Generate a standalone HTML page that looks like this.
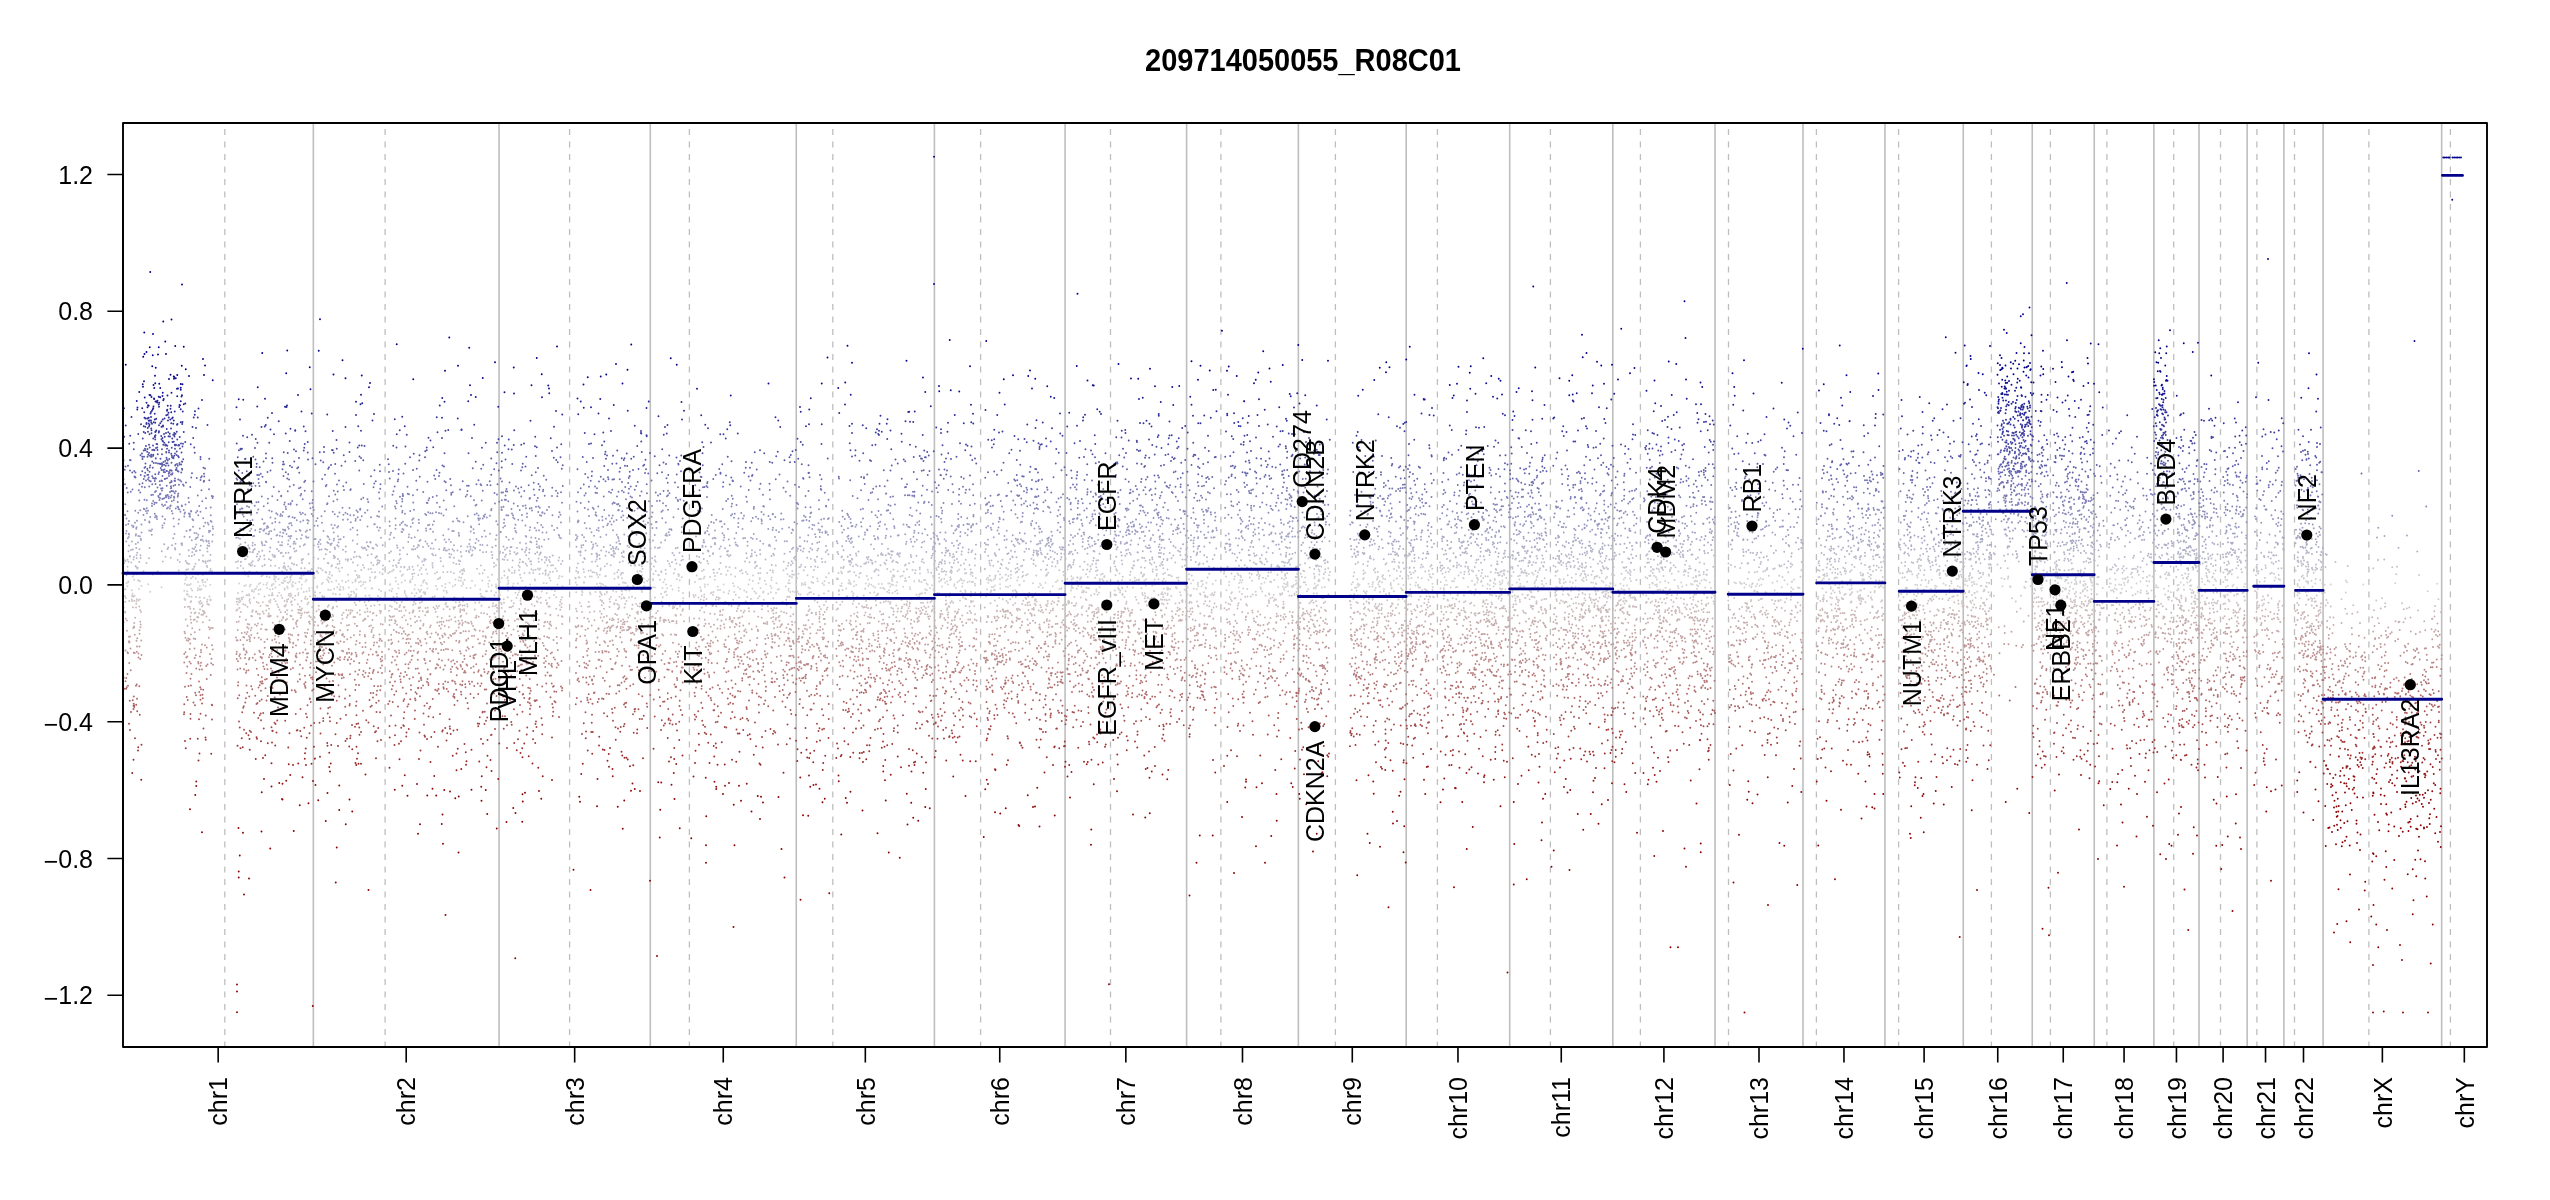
<!DOCTYPE html><html><head><meta charset="utf-8"><style>html,body{margin:0;padding:0;background:#fff;width:2550px;height:1200px;overflow:hidden}svg{display:block}text{font-family:"Liberation Sans",sans-serif}</style></head><body>
<svg width="2550" height="1200" viewBox="0 0 2550 1200" style="will-change:transform">
<rect width="2550" height="1200" fill="#fff"/>
<text transform="translate(1303 71) scale(1 1.05)" font-size="29" font-weight="bold" text-anchor="middle">209714050055_R08C01</text>
<path d="M313.34 123V1047M499.06 123V1047M650.28 123V1047M796.25 123V1047M934.41 123V1047M1065.08 123V1047M1186.60 123V1047M1298.37 123V1047M1406.21 123V1047M1509.71 123V1047M1612.81 123V1047M1715.02 123V1047M1802.97 123V1047M1884.95 123V1047M1963.25 123V1047M2032.24 123V1047M2094.25 123V1047M2153.87 123V1047M2199.03 123V1047M2247.16 123V1047M2283.91 123V1047M2323.09 123V1047M2441.66 123V1047" stroke="#bebebe" stroke-width="1.6" fill="none"/>
<path d="M224.80 129V1047M385.10 129V1047M569.60 129V1047M689.40 129V1047M832.80 129V1047M980.60 129V1047M1110.50 129V1047M1220.90 129V1047M1335.40 129V1047M1437.40 129V1047M1550.40 129V1047M1640.40 129V1047M1728.50 129V1047M1816.40 129V1047M1898.60 129V1047M1991.40 129V1047M2050.40 129V1047M2106.90 129V1047M2173.70 129V1047M2220.50 129V1047M2256.90 129V1047M2294.50 129V1047M2368.90 129V1047M2450.40 129V1047" stroke="#bebebe" stroke-width="1.3" fill="none" stroke-dasharray="6 6.5"/>
<g fill="none" stroke-width="7.7" stroke-linecap="round" transform="scale(0.25)"><path stroke="#a8a8c4" d="M528 2166h0M505 2166h0M814 2165h0M849 2166h0M827 2166h0M1114 2168h0M1047 2168h0M1178 2167h0M1063 2166h0M1176 2167h0M1066 2168h0M1481 2168h0M1275 2168h0M1275 2167h0M1702 2166h0M1803 2168h0M1633 2168h0M2147 2166h0M2121 2167h0M2366 2168h0M3139 2165h0M3148 2165h0M2990 2167h0M3229 2166h0M3277 2168h0M3737 2169h0M3347 2165h0M3697 2166h0M3409 2167h0M3398 2165h0M3645 2167h0M3659 2167h0M3626 2167h0M4123 2166h0M4047 2165h0M4092 2166h0M4095 2165h0M4204 2165h0M4378 2166h0M4331 2168h0M4619 2167h0M4463 2168h0M4483 2168h0M4683 2168h0M5094 2166h0M5127 2167h0M5090 2165h0M5289 2166h0M5318 2165h0M5481 2167h0M5586 2166h0M5573 2166h0M5575 2167h0M5595 2166h0M5709 2167h0M5871 2166h0M5901 2168h0M5855 2166h0M5837 2165h0M5769 2165h0M5805 2168h0M6120 2165h0M6231 2168h0M6265 2167h0M6294 2165h0M6317 2166h0M6358 2167h0M6292 2167h0M6624 2165h0M6580 2168h0M6768 2167h0M6672 2165h0M7479 2166h0M7446 2167h0M7910 2168h0M7928 2166h0M7921 2169h0M8041 2167h0M8250 2168h0M8215 2167h0M8283 2165h0M8686 2165h0M8723 2165h0M8735 2167h0M8817 2166h0M9267 2168h0"/><path stroke="#c5a9a9" d="M537 2509h0M562 2509h0M835 2509h0M989 2509h0M1338 2509h0M1336 2509h0M1953 2508h0M1795 2509h0M1601 2509h0M1835 2510h0M1720 2509h0M2096 2508h0M2443 2510h0M2492 2509h0M2519 2508h0M2305 2509h0M2573 2508h0M2466 2510h0M2513 2507h0M2435 2507h0M2483 2507h0M3121 2507h0M2920 2509h0M3110 2509h0M2939 2508h0M2843 2507h0M2898 2510h0M3281 2508h0M3240 2510h0M3812 2506h0M3827 2506h0M3828 2508h0M4207 2507h0M4243 2509h0M4195 2509h0M4020 2509h0M4210 2507h0M4159 2509h0M4044 2509h0M4408 2508h0M4266 2509h0M4380 2510h0M4489 2507h0M4486 2509h0M4935 2507h0M5143 2509h0M4995 2508h0M5197 2508h0M5260 2507h0M5541 2507h0M5495 2509h0M5695 2508h0M5666 2510h0M6028 2509h0M5794 2508h0M6022 2507h0M5994 2509h0M5791 2506h0M6148 2507h0M6183 2509h0M6402 2509h0M6449 2509h0M6636 2507h0M6923 2508h0M7008 2508h0M7031 2508h0M7415 2508h0M7355 2508h0M7487 2508h0M7371 2507h0M7628 2510h0M7637 2507h0M7701 2509h0M7892 2507h0M7995 2509h0M8144 2509h0M8213 2508h0M8337 2507h0M8296 2508h0M8382 2507h0M8608 2507h0M8517 2507h0M8634 2509h0M8634 2509h0M8706 2508h0M9228 2509h0M9237 2510h0M9308 2509h0M9553 2510h0"/><path stroke="#a9a9c5" d="M552 2170h0M1011 2171h0M981 2170h0M1128 2169h0M1309 2169h0M1467 2169h0M1313 2172h0M1354 2170h0M1482 2170h0M1902 2172h0M1728 2173h0M1784 2169h0M2080 2171h0M2125 2169h0M2466 2170h0M2601 2169h0M2644 2170h0M2814 2169h0M2860 2172h0M2817 2169h0M2942 2170h0M3269 2171h0M3404 2172h0M3689 2170h0M3808 2172h0M3939 2172h0M4195 2171h0M4072 2170h0M4410 2172h0M4505 2171h0M4508 2170h0M4774 2173h0M4747 2169h0M4839 2171h0M5161 2170h0M5005 2171h0M5246 2169h0M5212 2171h0M5267 2169h0M5435 2172h0M5637 2170h0M5851 2169h0M5991 2172h0M6027 2172h0M6001 2169h0M5845 2170h0M5972 2169h0M6067 2173h0M6149 2172h0M6320 2172h0M6275 2172h0M6545 2170h0M6519 2171h0M6547 2172h0M6832 2170h0M6595 2173h0M6653 2170h0M6663 2170h0M7144 2172h0M7184 2170h0M7010 2169h0M7205 2170h0M7502 2170h0M7433 2170h0M7853 2171h0M7758 2171h0M7784 2171h0M7689 2171h0M7755 2169h0M7904 2171h0M8183 2171h0M8141 2172h0M8268 2171h0M8234 2172h0M8302 2172h0M8289 2172h0M8370 2171h0M8367 2170h0M8519 2169h0M8612 2171h0M8715 2170h0M8744 2169h0M8850 2171h0M8931 2171h0M8912 2169h0M8924 2171h0M9111 2173h0M9069 2170h0M9104 2170h0M9225 2171h0"/><path stroke="#c4a8a8" d="M533 2512h0M851 2512h0M769 2513h0M844 2512h0M1006 2511h0M1175 2513h0M994 2514h0M1492 2511h0M1948 2512h0M1763 2514h0M1682 2513h0M1610 2513h0M2108 2514h0M2225 2513h0M2197 2514h0M2017 2514h0M2562 2514h0M2517 2514h0M2523 2511h0M2483 2514h0M2352 2514h0M2419 2514h0M2429 2511h0M2394 2513h0M3146 2511h0M2870 2514h0M3096 2513h0M3649 2511h0M3546 2511h0M3790 2511h0M3809 2514h0M3744 2511h0M3765 2514h0M4157 2511h0M4081 2511h0M4003 2511h0M4368 2513h0M4315 2513h0M4335 2511h0M4276 2513h0M4454 2514h0M4652 2512h0M4671 2511h0M4515 2511h0M4684 2512h0M4854 2511h0M4763 2512h0M4823 2514h0M4823 2511h0M4860 2514h0M4817 2512h0M4777 2514h0M5192 2511h0M5238 2513h0M5215 2513h0M5562 2514h0M5607 2512h0M5487 2511h0M5633 2514h0M6060 2513h0M6221 2514h0M6285 2511h0M6245 2512h0M6646 2512h0M6649 2512h0M6649 2512h0M6955 2511h0M6977 2512h0M6951 2513h0M7388 2513h0M7275 2512h0M7612 2511h0M7665 2513h0M7745 2512h0M7762 2511h0M7904 2512h0M8159 2514h0M8248 2514h0M8234 2511h0M8317 2513h0M8378 2511h0M8385 2511h0M8541 2511h0M8484 2513h0M8644 2513h0M8791 2514h0M8761 2511h0M8859 2512h0M8912 2511h0M8917 2511h0M8905 2512h0M9068 2514h0M9275 2513h0M9209 2513h0M9407 2512h0"/><path stroke="#c5aaaa" d="M536 2506h0M750 2503h0M1188 2506h0M1027 2503h0M1477 2505h0M1429 2504h0M1330 2504h0M1306 2505h0M1427 2504h0M1644 2503h0M1757 2503h0M1892 2504h0M1779 2504h0M2070 2505h0M2176 2504h0M2205 2503h0M2102 2504h0M2035 2503h0M2469 2506h0M2447 2505h0M2329 2505h0M2326 2505h0M2312 2506h0M2302 2506h0M2545 2506h0M2603 2506h0M2817 2504h0M3026 2506h0M2958 2505h0M2882 2503h0M3358 2504h0M3719 2506h0M3425 2506h0M3739 2504h0M3770 2503h0M4024 2503h0M4047 2504h0M4302 2503h0M4535 2503h0M4648 2506h0M4513 2504h0M4696 2503h0M4471 2505h0M4453 2503h0M4637 2504h0M4778 2506h0M4798 2504h0M5229 2504h0M5257 2505h0M5445 2506h0M5458 2504h0M5671 2504h0M5678 2505h0M5632 2503h0M5852 2503h0M5951 2505h0M6037 2503h0M6034 2506h0M6180 2503h0M6369 2505h0M6330 2506h0M6380 2503h0M6850 2506h0M6818 2502h0M7139 2505h0M7090 2503h0M6945 2505h0M7055 2503h0M7028 2503h0M7103 2505h0M7354 2506h0M7401 2505h0M7307 2506h0M7841 2504h0M7896 2503h0M7924 2504h0M7933 2506h0M8018 2505h0M8152 2504h0M8257 2503h0M8578 2503h0M8566 2505h0M8795 2503h0M8711 2505h0M8712 2503h0M8827 2503h0M8948 2504h0M9273 2505h0M9255 2505h0M9245 2506h0M9241 2503h0M9498 2504h0"/><path stroke="#aaaac5" d="M543 2176h0M702 2175h0M725 2175h0M728 2173h0M836 2173h0M1048 2175h0M1174 2175h0M1182 2175h0M1282 2176h0M1272 2177h0M1429 2176h0M1321 2176h0M1327 2174h0M1709 2175h0M1877 2176h0M2104 2174h0M2383 2174h0M2478 2175h0M2557 2175h0M2481 2176h0M3053 2175h0M2860 2177h0M3249 2176h0M3350 2173h0M3528 2176h0M3624 2176h0M3741 2174h0M3840 2174h0M3758 2175h0M3758 2176h0M4211 2174h0M4188 2175h0M4162 2173h0M4154 2175h0M4104 2173h0M4078 2175h0M4383 2175h0M4293 2176h0M4483 2174h0M4732 2177h0M4507 2173h0M4499 2176h0M4908 2174h0M4903 2175h0M5499 2175h0M5552 2173h0M5555 2174h0M5567 2175h0M5736 2175h0M5640 2173h0M5642 2174h0M5885 2173h0M5976 2173h0M6187 2176h0M6411 2174h0M6330 2175h0M6380 2175h0M6481 2177h0M6498 2175h0M6722 2175h0M7211 2175h0M7434 2173h0M7535 2176h0M7486 2176h0M7835 2173h0M7743 2177h0M7819 2175h0M7795 2173h0M7617 2174h0M7798 2173h0M7795 2175h0M8187 2173h0M8189 2176h0M8154 2174h0M8183 2173h0M8287 2173h0M8324 2175h0M8437 2176h0M8689 2173h0M8673 2174h0M8857 2176h0M8892 2176h0M8928 2175h0M8980 2176h0M9132 2176h0M9182 2173h0"/><path stroke="#a7a7c4" d="M825 2162h0M767 2161h0M835 2164h0M1154 2162h0M1335 2162h0M1411 2162h0M1914 2163h0M1678 2164h0M2343 2164h0M2476 2164h0M2612 2162h0M2661 2161h0M3105 2162h0M2894 2161h0M3041 2164h0M3218 2164h0M3385 2164h0M3828 2163h0M3784 2164h0M4192 2163h0M4089 2163h0M4160 2165h0M4169 2161h0M4068 2161h0M4281 2163h0M4352 2164h0M4646 2162h0M4576 2163h0M4525 2162h0M4457 2164h0M4764 2161h0M4774 2162h0M5008 2164h0M5495 2162h0M5725 2161h0M5789 2163h0M6106 2163h0M6057 2162h0M6326 2162h0M6302 2161h0M6304 2161h0M6458 2162h0M6736 2164h0M6705 2161h0M6672 2163h0M6929 2162h0M7452 2163h0M7475 2162h0M7393 2163h0M7698 2162h0M7765 2162h0M7639 2163h0M7822 2163h0M8183 2164h0M8283 2163h0M8315 2162h0M8305 2163h0M8290 2161h0M8294 2165h0M8388 2163h0M8460 2161h0M8736 2162h0M8710 2162h0M9227 2164h0"/><path stroke="#c4a7a7" d="M839 2517h0M1044 2516h0M1062 2518h0M1092 2518h0M1232 2518h0M1098 2516h0M1141 2518h0M1680 2515h0M1898 2517h0M1988 2516h0M2054 2518h0M2156 2517h0M2394 2516h0M2550 2517h0M2544 2515h0M2440 2515h0M3159 2516h0M2982 2518h0M2882 2515h0M3007 2517h0M3291 2517h0M3228 2518h0M3195 2515h0M3220 2515h0M3375 2516h0M3567 2515h0M3617 2515h0M3414 2516h0M3575 2517h0M3455 2516h0M3826 2518h0M3905 2517h0M4161 2517h0M3988 2515h0M4371 2518h0M4341 2515h0M4296 2516h0M4665 2516h0M4651 2516h0M4556 2515h0M4816 2515h0M4847 2516h0M4752 2517h0M5094 2515h0M5074 2517h0M5199 2516h0M5218 2515h0M5295 2517h0M5597 2515h0M5546 2515h0M5457 2517h0M5403 2518h0M5426 2518h0M5440 2515h0M5720 2516h0M5906 2515h0M5867 2516h0M5884 2516h0M6118 2517h0M6050 2515h0M6221 2515h0M6314 2515h0M6212 2517h0M6470 2515h0M6459 2516h0M6806 2517h0M6792 2518h0M6779 2517h0M6579 2517h0M6705 2515h0M6769 2518h0M6762 2518h0M7127 2518h0M6961 2517h0M7511 2516h0M7351 2515h0M7377 2518h0M7333 2515h0M7813 2518h0M7796 2516h0M7646 2518h0M7779 2516h0M7949 2517h0M8182 2516h0M8253 2517h0M8377 2515h0M8682 2515h0M8673 2516h0M8783 2516h0M8793 2518h0M8839 2517h0M9247 2517h0M9319 2515h0M9726 2517h0"/><path stroke="#a6a6c3" d="M3501 2157h0M3778 2157h0M4204 2157h0M4677 2157h0M5485 2157h0M6172 2157h0"/><path stroke="#c3a6a6" d="M3362 2522h0M5102 2522h0M5429 2522h0M5625 2522h0M5647 2522h0M7324 2522h0"/><path stroke="#a6a6c4" d="M564 2160h0M782 2157h0M809 2159h0M803 2160h0M1318 2157h0M1356 2158h0M1281 2159h0M1682 2160h0M1558 2157h0M1880 2159h0M1796 2158h0M1742 2159h0M1778 2158h0M1983 2158h0M2177 2159h0M2035 2159h0M2598 2159h0M2303 2160h0M2520 2160h0M2915 2158h0M2815 2160h0M3642 2157h0M3667 2159h0M3753 2159h0M4018 2160h0M3952 2159h0M4027 2158h0M4084 2157h0M4072 2157h0M4393 2160h0M4654 2159h0M4602 2160h0M4648 2159h0M4917 2158h0M5037 2158h0M5139 2158h0M4979 2160h0M5426 2158h0M5439 2159h0M5579 2159h0M5527 2158h0M5417 2160h0M5684 2159h0M5646 2161h0M5658 2159h0M5954 2160h0M5945 2160h0M6138 2160h0M6175 2160h0M6818 2157h0M6850 2160h0M6801 2161h0M6594 2160h0M6752 2159h0M6610 2158h0M6929 2160h0M6974 2157h0M6973 2160h0M6990 2159h0M7131 2157h0M7205 2160h0M7306 2161h0M7411 2157h0M7443 2158h0M7779 2160h0M7735 2159h0M7602 2158h0M7765 2161h0M7930 2158h0M7923 2157h0M8166 2160h0M8328 2158h0M8327 2160h0M8443 2158h0M8577 2159h0M8568 2160h0M8617 2158h0M8775 2157h0M8822 2158h0M9039 2160h0M9263 2157h0"/><path stroke="#c3a5a5" d="M508 2523h0M1440 2525h0M1876 2525h0M1919 2523h0M1932 2526h0M1854 2525h0M1984 2525h0M1863 2525h0M1615 2525h0M1825 2523h0M2072 2525h0M2098 2523h0M2440 2523h0M2429 2525h0M2384 2524h0M2415 2523h0M2545 2523h0M2850 2526h0M3032 2524h0M2957 2526h0M2977 2524h0M3211 2525h0M3452 2523h0M3445 2525h0M3724 2523h0M3512 2525h0M3529 2524h0M3822 2524h0M4108 2523h0M4303 2524h0M4331 2526h0M4454 2525h0M4584 2524h0M4863 2526h0M4763 2523h0M4935 2523h0M4947 2526h0M5264 2524h0M5312 2526h0M5316 2525h0M5291 2526h0M5233 2523h0M5498 2526h0M5735 2523h0M5878 2524h0M5769 2524h0M6069 2526h0M6093 2526h0M6066 2523h0M6089 2523h0M6080 2526h0M6235 2523h0M6403 2525h0M6418 2525h0M6280 2523h0M6359 2524h0M6418 2525h0M6664 2523h0M6840 2525h0M6784 2526h0M6640 2525h0M6697 2524h0M6816 2524h0M6630 2523h0M7274 2525h0M7375 2523h0M7755 2525h0M7735 2523h0M7638 2525h0M7702 2526h0M7716 2526h0M8284 2525h0M8394 2526h0M8469 2523h0M8746 2524h0M8982 2523h0M8981 2524h0M8949 2526h0M9108 2523h0M9114 2526h0M9643 2526h0M9543 2524h0M9493 2526h0M9753 2525h0"/><path stroke="#a5a5c3" d="M563 2155h0M511 2153h0M693 2153h0M1085 2155h0M1161 2153h0M1204 2154h0M1187 2156h0M960 2155h0M1262 2156h0M1336 2155h0M1257 2156h0M1362 2157h0M1906 2156h0M2052 2155h0M2244 2153h0M2194 2156h0M2156 2156h0M2474 2154h0M2308 2154h0M2307 2153h0M2862 2153h0M3027 2156h0M2938 2154h0M2851 2154h0M3011 2155h0M3454 2157h0M3513 2155h0M3394 2155h0M3500 2155h0M3724 2155h0M3403 2156h0M3751 2154h0M4254 2153h0M4189 2155h0M4063 2155h0M4192 2153h0M4193 2155h0M4368 2153h0M4331 2156h0M4559 2153h0M4604 2153h0M4457 2154h0M4639 2157h0M4944 2153h0M4956 2154h0M5259 2156h0M5401 2156h0M5667 2156h0M5629 2154h0M5836 2156h0M5768 2155h0M5907 2155h0M6095 2154h0M6160 2155h0M6147 2154h0M6045 2157h0M6312 2153h0M6223 2153h0M6456 2154h0M6786 2156h0M7018 2155h0M7413 2155h0M7331 2156h0M7277 2154h0M7737 2154h0M7928 2155h0M8050 2154h0M8039 2154h0M8124 2155h0M8148 2154h0M8476 2156h0M8540 2154h0M8781 2156h0M8911 2153h0M9186 2154h0M9247 2155h0"/><path stroke="#c4a6a6" d="M558 2521h0M798 2519h0M1067 2519h0M951 2520h0M1003 2521h0M1391 2520h0M1335 2522h0M1361 2521h0M1487 2520h0M1902 2521h0M1575 2520h0M2342 2519h0M2514 2519h0M2508 2521h0M2489 2522h0M2496 2520h0M3164 2519h0M2795 2520h0M3031 2519h0M3280 2521h0M3271 2520h0M3363 2521h0M3355 2520h0M3561 2520h0M3545 2522h0M3407 2520h0M3804 2519h0M4117 2521h0M4269 2522h0M4771 2520h0M5059 2522h0M4992 2519h0M5171 2520h0M5001 2520h0M5320 2519h0M5280 2522h0M5427 2521h0M5616 2522h0M5729 2519h0M5667 2522h0M5994 2520h0M6016 2521h0M5781 2519h0M6052 2520h0M6332 2521h0M6357 2522h0M6260 2519h0M6435 2522h0M6254 2519h0M6266 2520h0M6506 2519h0M6540 2519h0M6454 2520h0M6703 2521h0M6573 2520h0M7334 2519h0M7306 2520h0M7459 2519h0M7369 2519h0M7341 2519h0M7483 2522h0M7841 2522h0M7663 2521h0M7847 2519h0M8148 2520h0M8166 2522h0M8367 2520h0M8310 2521h0M8356 2522h0M8378 2522h0M8794 2519h0M8740 2521h0M8786 2522h0M8815 2519h0M8854 2519h0M8980 2519h0M8953 2522h0M8954 2520h0M9049 2520h0M9072 2520h0M9060 2520h0M9262 2519h0M9246 2522h0M9742 2519h0M9599 2520h0M9701 2521h0"/><path stroke="#ababc5" d="M728 2180h0M657 2177h0M785 2178h0M1152 2177h0M962 2177h0M1020 2179h0M1220 2177h0M1323 2180h0M1504 2178h0M1930 2180h0M1816 2181h0M1673 2180h0M1921 2179h0M2147 2177h0M2373 2179h0M2373 2178h0M2333 2180h0M3078 2179h0M2947 2180h0M2944 2179h0M3484 2178h0M3904 2179h0M3834 2180h0M4054 2179h0M4148 2178h0M3952 2179h0M3987 2178h0M4148 2178h0M4186 2179h0M4208 2179h0M3944 2178h0M4275 2180h0M4355 2178h0M4379 2177h0M4638 2178h0M4462 2179h0M4553 2178h0M4522 2179h0M4596 2181h0M4922 2178h0M5105 2179h0M5115 2178h0M4917 2177h0M5206 2180h0M5258 2180h0M5489 2179h0M5908 2178h0M5927 2177h0M5874 2180h0M5790 2180h0M5971 2178h0M6225 2179h0M6464 2177h0M6844 2180h0M6644 2177h0M6732 2177h0M6763 2178h0M7154 2180h0M6923 2178h0M7476 2179h0M7471 2179h0M7803 2179h0M7599 2179h0M7710 2179h0M7805 2177h0M7779 2178h0M7959 2180h0M7963 2179h0M8375 2177h0M8264 2178h0M8351 2180h0M8256 2179h0M8401 2179h0M8658 2178h0M8635 2179h0M8666 2180h0M8871 2178h0M8824 2178h0M9111 2178h0M9264 2178h0M9228 2177h0M9226 2180h0"/><path stroke="#c5abab" d="M1100 2500h0M1396 2500h0M1388 2502h0M1484 2502h0M1272 2502h0M1310 2501h0M1257 2501h0M1723 2502h0M1558 2500h0M1693 2502h0M1849 2500h0M1588 2499h0M2001 2500h0M2593 2499h0M2314 2502h0M2367 2502h0M2452 2502h0M2973 2502h0M2792 2502h0M2946 2499h0M2856 2499h0M3169 2499h0M2794 2499h0M3125 2500h0M3223 2501h0M3215 2501h0M3354 2502h0M3551 2502h0M3404 2499h0M3852 2502h0M3820 2501h0M4087 2501h0M4254 2499h0M4260 2502h0M4112 2500h0M4307 2500h0M4535 2500h0M4674 2502h0M5054 2500h0M5041 2502h0M5192 2501h0M5191 2501h0M5032 2499h0M5278 2502h0M5607 2500h0M5553 2502h0M5455 2499h0M5507 2501h0M5612 2501h0M5675 2502h0M5688 2501h0M5678 2502h0M5882 2501h0M5977 2500h0M5970 2501h0M5975 2500h0M6180 2502h0M6124 2502h0M6424 2501h0M6400 2502h0M6305 2502h0M6539 2502h0M6801 2499h0M7021 2499h0M7157 2501h0M6989 2500h0M7608 2502h0M7695 2499h0M7763 2501h0M7726 2501h0M7951 2499h0M8167 2499h0M8228 2500h0M8240 2502h0M8296 2500h0M8606 2500h0M8482 2502h0M8733 2501h0M8786 2500h0M8824 2502h0M8973 2502h0M9044 2500h0M9281 2502h0M9184 2499h0M9334 2500h0"/><path stroke="#a3a3c2" d="M560 2145h0M811 2145h0M1154 2145h0M1161 2145h0M1352 2145h0M1310 2145h0M2514 2145h0M3841 2145h0M4640 2145h0M5145 2145h0M5148 2145h0M7319 2145h0M7698 2145h0M7906 2145h0M7954 2145h0M8746 2145h0"/><path stroke="#ababc6" d="M688 2181h0M1121 2181h0M1059 2181h0M1128 2181h0M1531 2181h0M1949 2181h0M8307 2181h0"/><path stroke="#a4a4c3" d="M786 2152h0M791 2149h0M785 2152h0M953 2151h0M1234 2150h0M1227 2151h0M945 2151h0M1524 2151h0M1576 2151h0M1659 2149h0M1646 2152h0M1635 2149h0M2142 2152h0M2125 2150h0M2239 2150h0M2980 2152h0M2857 2151h0M2973 2153h0M2897 2150h0M3004 2151h0M3200 2150h0M3406 2152h0M3511 2149h0M3542 2152h0M3736 2149h0M3975 2149h0M4196 2150h0M4367 2152h0M4292 2150h0M4354 2152h0M4754 2152h0M4845 2150h0M4793 2149h0M4826 2151h0M4777 2151h0M4854 2150h0M4858 2149h0M4792 2153h0M4820 2152h0M5125 2150h0M4971 2152h0M5126 2152h0M5220 2151h0M5299 2150h0M5944 2152h0M5880 2152h0M6157 2152h0M6233 2150h0M6438 2151h0M6298 2150h0M6511 2150h0M6853 2149h0M6755 2150h0M6694 2151h0M6583 2152h0M7192 2152h0M7025 2153h0M7477 2149h0M7495 2152h0M7340 2152h0M7359 2150h0M7427 2150h0M7642 2151h0M7687 2153h0M8444 2151h0M8755 2152h0M8939 2149h0M8985 2152h0M9130 2150h0M9135 2151h0M9201 2153h0M9191 2149h0M9185 2151h0M9508 2150h0"/><path stroke="#c3a4a4" d="M779 2529h0M738 2527h0M990 2528h0M1110 2530h0M979 2530h0M1346 2528h0M1486 2528h0M1273 2529h0M1257 2527h0M1587 2529h0M1974 2528h0M1651 2529h0M1708 2527h0M1616 2527h0M1744 2530h0M1706 2530h0M1585 2527h0M2481 2530h0M2563 2528h0M3137 2529h0M2986 2529h0M3123 2528h0M3174 2529h0M3454 2527h0M3578 2530h0M3427 2530h0M3430 2528h0M3839 2530h0M3906 2529h0M3748 2530h0M4190 2529h0M4019 2527h0M4110 2530h0M4171 2528h0M4067 2528h0M4400 2530h0M4567 2530h0M4513 2527h0M4489 2530h0M4614 2527h0M4478 2527h0M4551 2529h0M4519 2529h0M4623 2528h0M5031 2527h0M4923 2529h0M5234 2527h0M5256 2530h0M5270 2527h0M5278 2529h0M5568 2529h0M5483 2527h0M5609 2530h0M5593 2530h0M5420 2529h0M5656 2527h0M5915 2527h0M5915 2528h0M6147 2529h0M6270 2528h0M6409 2528h0M6475 2528h0M6690 2529h0M6682 2528h0M6641 2529h0M6639 2527h0M6984 2528h0M7147 2527h0M7047 2528h0M6934 2529h0M7150 2529h0M7120 2530h0M7304 2527h0M7851 2530h0M7724 2527h0M7917 2527h0M8046 2527h0M8188 2527h0M8241 2529h0M8309 2530h0M8352 2527h0M8306 2528h0M8370 2529h0M8481 2530h0M8598 2530h0M8485 2529h0M8623 2529h0M8729 2529h0M8806 2530h0M8867 2529h0M8923 2528h0M8901 2527h0M8944 2527h0M9252 2530h0M9228 2527h0M9680 2528h0M9737 2527h0M9567 2529h0"/><path stroke="#c2a3a3" d="M1778 2534h0M1817 2534h0M1986 2534h0M2565 2534h0M3242 2534h0M3493 2534h0M3816 2534h0M5052 2534h0M4933 2535h0M5713 2534h0M5986 2535h0M5773 2534h0M6012 2535h0M6413 2534h0M7111 2534h0M6970 2534h0M8314 2534h0M8727 2534h0"/><path stroke="#c6abab" d="M4195 2498h0M5033 2499h0M7444 2498h0M7860 2499h0M8218 2499h0"/><path stroke="#a2a2c2" d="M553 2144h0M543 2142h0M1119 2143h0M1106 2142h0M1017 2144h0M972 2142h0M1016 2144h0M1165 2144h0M1836 2143h0M1986 2141h0M1773 2141h0M2237 2143h0M2103 2144h0M2376 2143h0M2662 2141h0M2668 2143h0M3233 2141h0M3591 2142h0M3394 2143h0M3595 2141h0M3496 2144h0M3544 2143h0M3748 2144h0M3870 2141h0M4209 2143h0M4140 2143h0M4018 2144h0M4417 2141h0M4326 2144h0M4300 2144h0M4465 2143h0M4580 2144h0M4475 2142h0M4743 2142h0M4466 2142h0M4506 2141h0M4764 2141h0M5056 2141h0M5013 2143h0M4967 2145h0M4903 2142h0M5266 2144h0M5435 2142h0M5512 2145h0M5665 2143h0M5981 2142h0M5860 2142h0M6185 2142h0M6167 2143h0M6233 2143h0M6448 2144h0M6484 2143h0M6471 2143h0M6822 2144h0M6717 2143h0M6751 2143h0M6697 2143h0M6659 2141h0M6591 2142h0M6600 2143h0M7033 2144h0M6948 2141h0M7057 2143h0M7411 2141h0M7512 2141h0M7658 2142h0M7617 2142h0M7790 2144h0M7927 2141h0M8027 2143h0M8170 2142h0M8138 2142h0M8178 2144h0M8132 2141h0M8279 2145h0M8372 2142h0M8400 2141h0M8504 2142h0M8560 2143h0M8629 2142h0M8781 2144h0M8718 2141h0M8786 2141h0M8866 2144h0M8985 2142h0M9101 2143h0M9029 2143h0M9192 2143h0M9538 2144h0M9628 2142h0"/><path stroke="#c2a2a2" d="M558 2535h0M764 2538h0M1194 2539h0M1163 2538h0M1155 2537h0M986 2536h0M1371 2536h0M1330 2538h0M1304 2535h0M1261 2536h0M1518 2538h0M1812 2535h0M1636 2538h0M1781 2539h0M1710 2536h0M1607 2535h0M1752 2537h0M1971 2535h0M1622 2536h0M2537 2538h0M2588 2537h0M2309 2536h0M2684 2538h0M2649 2537h0M2700 2538h0M2939 2538h0M3102 2536h0M3086 2536h0M3214 2535h0M3662 2535h0M3513 2538h0M3806 2535h0M4204 2538h0M3979 2537h0M3958 2538h0M3969 2537h0M4224 2538h0M4690 2537h0M4556 2536h0M4589 2536h0M4665 2536h0M5026 2537h0M5267 2536h0M5198 2536h0M5674 2536h0M5655 2536h0M5691 2539h0M5926 2537h0M5932 2536h0M5950 2538h0M5771 2539h0M5851 2538h0M5939 2536h0M6046 2536h0M6122 2536h0M6313 2535h0M6328 2535h0M6469 2536h0M6827 2537h0M6714 2536h0M6781 2535h0M6762 2535h0M6605 2537h0M6762 2538h0M7181 2536h0M7100 2536h0M7029 2537h0M7339 2537h0M7707 2537h0M7656 2536h0M7645 2538h0M7807 2538h0M7878 2535h0M7909 2537h0M7962 2538h0M8189 2535h0M8355 2539h0M8347 2537h0M8622 2536h0M8681 2538h0M8743 2535h0M8797 2535h0M8909 2535h0M8902 2535h0M9030 2537h0M9259 2536h0M9222 2535h0M9221 2535h0M9408 2537h0M9561 2535h0M9663 2536h0"/><path stroke="#c3a3a3" d="M493 2531h0M740 2533h0M1030 2533h0M967 2532h0M1122 2531h0M1220 2531h0M1229 2532h0M1312 2533h0M1344 2533h0M1841 2532h0M1726 2534h0M1820 2532h0M1844 2532h0M1596 2532h0M2029 2532h0M2091 2534h0M2010 2533h0M2531 2531h0M2524 2533h0M2572 2531h0M2426 2533h0M3154 2534h0M2796 2532h0M3266 2533h0M3294 2533h0M3620 2533h0M3648 2533h0M3680 2531h0M3717 2533h0M4242 2531h0M4221 2532h0M4320 2532h0M4319 2532h0M4389 2531h0M4351 2531h0M4626 2532h0M4699 2532h0M4559 2533h0M4659 2534h0M4788 2531h0M4793 2534h0M4996 2531h0M4947 2534h0M4969 2531h0M5138 2533h0M5536 2533h0M5455 2533h0M5509 2532h0M5572 2531h0M5668 2531h0M5697 2534h0M5632 2534h0M5649 2534h0M5890 2532h0M6140 2531h0M6292 2532h0M6444 2533h0M6301 2534h0M6529 2534h0M6468 2533h0M6541 2531h0M6700 2531h0M6788 2534h0M6789 2532h0M7210 2532h0M7097 2533h0M7057 2534h0M7470 2533h0M7805 2533h0M7630 2533h0M8019 2532h0M8344 2531h0M8282 2534h0M8470 2534h0M8661 2534h0M8675 2534h0M8621 2534h0M8653 2532h0M8650 2532h0M8718 2533h0M8810 2533h0M8854 2532h0M8895 2531h0M9089 2531h0M9239 2532h0M9240 2533h0M9330 2533h0"/><path stroke="#c6acac" d="M563 2498h0M991 2496h0M1020 2498h0M997 2498h0M1185 2496h0M1240 2495h0M1048 2498h0M1523 2496h0M1531 2498h0M1419 2495h0M1767 2498h0M1631 2497h0M1836 2497h0M1996 2496h0M1887 2495h0M1694 2496h0M2116 2498h0M2154 2497h0M2198 2495h0M2249 2496h0M2201 2498h0M2567 2495h0M2498 2497h0M2490 2497h0M2628 2496h0M2822 2495h0M2836 2495h0M2896 2497h0M3153 2497h0M3069 2496h0M2997 2495h0M3097 2495h0M3128 2497h0M2943 2495h0M3300 2496h0M3250 2496h0M3643 2495h0M3441 2497h0M3572 2496h0M3528 2495h0M3368 2495h0M3550 2496h0M3805 2496h0M4230 2495h0M4158 2498h0M4223 2496h0M4388 2495h0M4293 2498h0M4541 2497h0M4798 2498h0M4818 2496h0M4829 2498h0M5070 2497h0M4920 2496h0M5308 2496h0M5254 2497h0M5466 2498h0M5723 2496h0M5641 2496h0M5828 2496h0M5761 2497h0M5966 2496h0M6135 2497h0M6277 2496h0M6444 2495h0M6289 2498h0M6778 2495h0M6679 2498h0M7117 2498h0M7409 2498h0M7643 2496h0M7787 2496h0M7734 2494h0M7791 2496h0M7809 2498h0M7925 2495h0M7913 2497h0M7947 2498h0M7880 2497h0M8259 2495h0M8235 2495h0M8247 2496h0M8363 2497h0M8365 2497h0M8332 2498h0M8585 2497h0M8660 2496h0M8765 2498h0M8732 2498h0M8848 2494h0M8907 2496h0M8977 2496h0M9248 2495h0"/><path stroke="#acacc6" d="M516 2182h0M830 2182h0M837 2184h0M803 2183h0M993 2182h0M1051 2181h0M957 2183h0M1010 2182h0M1215 2181h0M1255 2182h0M1349 2181h0M1509 2183h0M1471 2184h0M1714 2184h0M1588 2182h0M1676 2183h0M1983 2183h0M2510 2183h0M2326 2182h0M2441 2181h0M2389 2183h0M2810 2183h0M3075 2182h0M2951 2184h0M2990 2183h0M3080 2184h0M2919 2182h0M3304 2184h0M3369 2185h0M3815 2183h0M4182 2184h0M4196 2183h0M4402 2184h0M4426 2183h0M4369 2183h0M4694 2184h0M4797 2184h0M4952 2182h0M5056 2185h0M5600 2185h0M5404 2184h0M5571 2181h0M5479 2182h0M5643 2182h0M5709 2185h0M5848 2184h0M5913 2182h0M6355 2183h0M6292 2181h0M6419 2182h0M6251 2182h0M6360 2183h0M6447 2183h0M6434 2181h0M6528 2184h0M6703 2184h0M6817 2181h0M6697 2184h0M7084 2184h0M7479 2185h0M7416 2183h0M7284 2181h0M7512 2182h0M7755 2184h0M7645 2181h0M7623 2182h0M7645 2184h0M7912 2182h0M7950 2181h0M8191 2185h0M8242 2184h0M8364 2183h0M8332 2184h0M8662 2181h0M8688 2183h0M8761 2184h0M8810 2184h0"/><path stroke="#a3a3c3" d="M515 2148h0M759 2148h0M738 2147h0M1129 2146h0M1224 2146h0M1012 2145h0M1375 2148h0M1313 2148h0M1943 2146h0M1928 2147h0M2105 2147h0M2025 2148h0M2402 2148h0M2310 2146h0M2336 2149h0M2472 2148h0M2784 2146h0M3100 2148h0M3263 2148h0M3279 2148h0M3390 2147h0M3654 2147h0M3563 2146h0M3435 2146h0M4359 2147h0M4492 2147h0M4638 2148h0M5180 2146h0M5193 2148h0M5154 2146h0M5126 2146h0M5170 2147h0M5230 2148h0M5466 2146h0M5561 2146h0M5716 2146h0M5684 2147h0M5770 2146h0M5775 2148h0M5884 2148h0M5966 2148h0M6002 2148h0M5981 2148h0M6094 2147h0M6236 2148h0M6405 2149h0M6806 2148h0M6586 2146h0M6661 2145h0M6663 2147h0M6954 2145h0M7144 2146h0M7413 2149h0M7364 2147h0M7516 2147h0M7311 2146h0M7643 2148h0M7853 2146h0M7673 2147h0M7911 2147h0M8104 2147h0M8362 2148h0M8317 2148h0M8555 2146h0M8470 2148h0M8810 2147h0M8836 2148h0M8949 2146h0M9272 2146h0M9238 2147h0M9199 2148h0"/><path stroke="#c2a1a1" d="M539 2539h0M1193 2541h0M1169 2541h0M1005 2540h0M1416 2541h0M1282 2539h0M1459 2540h0M1371 2541h0M1368 2540h0M1439 2539h0M1495 2541h0M1283 2541h0M1630 2542h0M1769 2542h0M1565 2539h0M1751 2539h0M1801 2540h0M2091 2539h0M2095 2542h0M2045 2539h0M2705 2540h0M2653 2542h0M2834 2541h0M3098 2541h0M3102 2541h0M3069 2541h0M3427 2540h0M3672 2539h0M3423 2540h0M3494 2542h0M3357 2542h0M3722 2539h0M3739 2542h0M3800 2540h0M4198 2540h0M4355 2539h0M4376 2540h0M4466 2541h0M4813 2540h0M4787 2541h0M4957 2542h0M4993 2540h0M5179 2542h0M4900 2539h0M5038 2542h0M4939 2542h0M5305 2541h0M5243 2541h0M5577 2539h0M5608 2541h0M5405 2540h0M5403 2541h0M5419 2540h0M5797 2541h0M5870 2541h0M6075 2542h0M6398 2542h0M6264 2540h0M6213 2540h0M6630 2541h0M7169 2541h0M7120 2540h0M7516 2540h0M7504 2542h0M7525 2540h0M7438 2540h0M7640 2542h0M7623 2542h0M7712 2541h0M7712 2539h0M7627 2539h0M7723 2540h0M7808 2542h0M7638 2542h0M8180 2539h0M8172 2541h0M8172 2541h0M8182 2541h0M8258 2542h0M8245 2542h0M8352 2542h0M8216 2540h0M8291 2542h0M8586 2539h0M8577 2541h0M8594 2540h0M8846 2539h0M9025 2542h0M9068 2542h0M9264 2539h0M9223 2542h0M9315 2540h0M9759 2539h0M9545 2540h0M9744 2540h0"/><path stroke="#c6adad" d="M537 2492h0M765 2491h0M1091 2491h0M1032 2494h0M1184 2491h0M1289 2494h0M1290 2491h0M1364 2492h0M1580 2493h0M1875 2493h0M1851 2492h0M1972 2490h0M1839 2493h0M1962 2493h0M2111 2493h0M2426 2491h0M2706 2493h0M3055 2493h0M2959 2492h0M3061 2494h0M3479 2492h0M3471 2493h0M3537 2494h0M3399 2493h0M3791 2491h0M3865 2492h0M3890 2491h0M4177 2490h0M4141 2491h0M4120 2493h0M4298 2493h0M4408 2493h0M4491 2494h0M4948 2493h0M5185 2491h0M5105 2491h0M5076 2491h0M5154 2494h0M5169 2492h0M5300 2492h0M5510 2493h0M5584 2492h0M5404 2494h0M5978 2494h0M5914 2492h0M5986 2494h0M6173 2491h0M6175 2494h0M6078 2493h0M6129 2491h0M6228 2494h0M6225 2493h0M6513 2491h0M6461 2493h0M6487 2492h0M6492 2494h0M6640 2492h0M6584 2494h0M6645 2493h0M7115 2492h0M6980 2491h0M6975 2490h0M7363 2493h0M7784 2491h0M7619 2492h0M7832 2493h0M7849 2493h0M7858 2492h0M8156 2491h0M8154 2493h0M8338 2493h0M8299 2491h0M8234 2491h0M8292 2492h0M8264 2492h0M8776 2491h0M8740 2493h0M8835 2491h0M8842 2494h0M8954 2494h0M9046 2492h0M9225 2492h0M9289 2494h0M9366 2492h0M9440 2492h0M9750 2494h0M9516 2493h0"/><path stroke="#a1a1c2" d="M516 2138h0M607 2139h0M793 2139h0M851 2139h0M989 2137h0M1109 2140h0M1073 2137h0M1208 2140h0M1430 2139h0M1636 2138h0M1836 2141h0M1561 2139h0M2235 2140h0M2546 2139h0M2497 2138h0M2425 2139h0M2304 2140h0M2329 2140h0M2467 2139h0M2678 2140h0M2619 2140h0M2799 2137h0M2836 2138h0M2896 2141h0M3312 2139h0M3710 2140h0M3460 2139h0M3621 2137h0M3738 2139h0M4051 2141h0M4284 2140h0M4393 2138h0M4337 2138h0M4612 2140h0M4519 2137h0M4692 2137h0M4461 2138h0M4817 2139h0M5077 2139h0M5152 2137h0M5021 2137h0M5223 2140h0M5604 2140h0M5445 2138h0M5478 2140h0M5443 2138h0M5893 2137h0M5913 2137h0M5928 2139h0M5893 2139h0M6068 2139h0M6158 2139h0M6384 2139h0M6381 2138h0M6299 2139h0M6600 2139h0M7154 2140h0M7101 2139h0M7458 2137h0M7401 2138h0M7445 2138h0M7631 2139h0M7813 2140h0M7801 2137h0M7754 2139h0M7892 2137h0M7896 2138h0M7972 2138h0M8022 2137h0M8133 2137h0M8183 2139h0M8215 2138h0M8572 2140h0M8790 2138h0M9078 2138h0M9280 2140h0"/><path stroke="#adadc6" d="M781 2188h0M1161 2186h0M1200 2186h0M1354 2186h0M1274 2188h0M1383 2186h0M1475 2187h0M1881 2186h0M1894 2188h0M1870 2187h0M1692 2188h0M1969 2189h0M1882 2187h0M1655 2185h0M1844 2185h0M2042 2189h0M2167 2186h0M2156 2185h0M2014 2186h0M2046 2188h0M2451 2188h0M2415 2188h0M2306 2187h0M2466 2188h0M2372 2188h0M2810 2188h0M2844 2187h0M2823 2186h0M2883 2186h0M3202 2185h0M3198 2185h0M3736 2186h0M3414 2188h0M3652 2186h0M4249 2189h0M4239 2189h0M4202 2188h0M4059 2185h0M4330 2186h0M4360 2187h0M4470 2189h0M4635 2188h0M4583 2186h0M4817 2186h0M4774 2186h0M4793 2186h0M5001 2187h0M4919 2185h0M5144 2188h0M5013 2188h0M5517 2187h0M5427 2187h0M5977 2188h0M6089 2186h0M6091 2188h0M6179 2188h0M6141 2186h0M6098 2186h0M6409 2188h0M6259 2186h0M6259 2188h0M6648 2187h0M6704 2188h0M7157 2185h0M7324 2186h0M7394 2185h0M7517 2187h0M7508 2185h0M7354 2186h0M7300 2187h0M7822 2187h0M7733 2187h0M8092 2187h0M8032 2185h0M8037 2186h0M7981 2186h0M8162 2187h0M8295 2186h0M8230 2185h0M8404 2186h0M8500 2185h0M8624 2186h0M8756 2186h0M9210 2187h0M9202 2188h0M9274 2188h0"/><path stroke="#a0a0c1" d="M786 2133h0M2585 2133h0M2820 2133h0M5157 2133h0M5819 2133h0M6404 2133h0M6651 2133h0M6845 2133h0M8143 2133h0M8243 2133h0M8785 2133h0M8711 2133h0"/><path stroke="#c1a0a0" d="M1114 2546h0M2914 2546h0M4364 2546h0M5728 2546h0M5903 2546h0M6302 2546h0M6798 2546h0M6649 2546h0M7670 2546h0M7688 2546h0M8173 2547h0M8157 2546h0M8226 2546h0M8243 2546h0M8925 2546h0"/><path stroke="#c6aeae" d="M561 2487h0M495 2489h0M811 2489h0M1236 2489h0M947 2488h0M1260 2488h0M1661 2489h0M1996 2490h0M1765 2487h0M1749 2490h0M1758 2488h0M1869 2490h0M1885 2487h0M1774 2487h0M2201 2487h0M2190 2488h0M2178 2490h0M2181 2487h0M2104 2489h0M2429 2489h0M2499 2487h0M2473 2489h0M2494 2490h0M2656 2488h0M2678 2489h0M3069 2488h0M2929 2489h0M3181 2489h0M3670 2487h0M3848 2488h0M3947 2488h0M4051 2490h0M4248 2490h0M3967 2488h0M4089 2487h0M4285 2488h0M4351 2487h0M4670 2487h0M4621 2490h0M4479 2487h0M4619 2489h0M4469 2490h0M4489 2490h0M4910 2490h0M5188 2487h0M5105 2489h0M5023 2489h0M4918 2487h0M5201 2488h0M5235 2488h0M5491 2488h0M5944 2488h0M5881 2487h0M5983 2487h0M5909 2490h0M5957 2487h0M5907 2489h0M6153 2488h0M6214 2488h0M6592 2490h0M6668 2487h0M6826 2489h0M7158 2490h0M7098 2489h0M6988 2490h0M7325 2489h0M7344 2488h0M7734 2490h0M7764 2490h0M7721 2490h0M7856 2487h0M7901 2488h0M7876 2489h0M7887 2487h0M8178 2490h0M8325 2488h0M8279 2490h0M8280 2488h0M8253 2487h0M8242 2488h0M8527 2489h0M8522 2487h0M8501 2489h0M8691 2488h0M8743 2490h0M8784 2490h0M8979 2489h0M9121 2488h0M9274 2488h0M9287 2488h0M9231 2488h0M9614 2489h0M9594 2489h0M9598 2487h0"/><path stroke="#c19f9f" d="M516 2547h0M944 2550h0M1018 2551h0M977 2550h0M1225 2548h0M973 2548h0M1288 2548h0M1377 2547h0M1403 2550h0M1493 2549h0M1771 2548h0M1721 2549h0M1943 2550h0M1966 2549h0M2189 2548h0M2143 2550h0M2227 2548h0M2086 2547h0M2481 2549h0M2390 2550h0M2804 2547h0M2863 2549h0M3210 2549h0M3290 2549h0M3208 2550h0M3444 2547h0M3705 2550h0M3445 2547h0M3621 2547h0M3826 2547h0M3842 2549h0M4132 2550h0M4127 2548h0M3957 2547h0M4583 2547h0M4624 2547h0M4513 2549h0M4916 2548h0M4961 2549h0M5070 2549h0M5510 2547h0M5524 2549h0M5664 2549h0M5640 2549h0M5860 2549h0M5791 2549h0M5918 2550h0M6088 2548h0M6121 2548h0M6413 2549h0M6409 2549h0M6348 2547h0M6530 2547h0M6544 2550h0M6519 2549h0M6845 2547h0M6579 2549h0M6730 2547h0M6678 2548h0M7150 2550h0M7022 2548h0M7424 2549h0M7293 2550h0M7382 2547h0M7728 2548h0M7692 2548h0M7643 2550h0M7788 2550h0M7939 2549h0M8158 2548h0M8238 2549h0M8567 2549h0M8622 2549h0M8771 2550h0M8867 2550h0M8972 2550h0M8987 2550h0M9017 2547h0M9211 2549h0M9458 2551h0M9553 2547h0"/><path stroke="#a0a0c2" d="M544 2137h0M515 2135h0M504 2134h0M698 2136h0M1064 2134h0M958 2136h0M1076 2134h0M1146 2136h0M1960 2135h0M2666 2135h0M3015 2136h0M3015 2136h0M3260 2137h0M3689 2134h0M3996 2135h0M4099 2134h0M4311 2135h0M4540 2136h0M4650 2135h0M4710 2134h0M4515 2135h0M5084 2135h0M5120 2135h0M5102 2134h0M4915 2135h0M5036 2134h0M5257 2136h0M5431 2135h0M5723 2134h0M5885 2134h0M5886 2135h0M6076 2136h0M6166 2134h0M6055 2136h0M6151 2134h0M6461 2135h0M6721 2134h0M6638 2136h0M7330 2135h0M7769 2134h0M7806 2135h0M7909 2136h0M8299 2135h0M8290 2136h0M8448 2134h0M8621 2134h0M8650 2136h0M8792 2137h0M8729 2134h0M8902 2134h0M8939 2134h0M8932 2134h0M9265 2134h0M9199 2134h0"/><path stroke="#aeaec6" d="M545 2192h0M598 2192h0M673 2190h0M1081 2191h0M997 2191h0M1081 2190h0M982 2189h0M1490 2192h0M1458 2191h0M1447 2189h0M1339 2190h0M1613 2191h0M1778 2192h0M1901 2192h0M1590 2191h0M1669 2190h0M2028 2191h0M2068 2192h0M2157 2192h0M2148 2189h0M2106 2191h0M2326 2190h0M2517 2189h0M2563 2192h0M2710 2191h0M2639 2190h0M2632 2192h0M2620 2190h0M3172 2191h0M3187 2191h0M3686 2189h0M3732 2189h0M3851 2190h0M3783 2192h0M4024 2190h0M4254 2190h0M4350 2192h0M4702 2190h0M4658 2192h0M4589 2192h0M4601 2190h0M4646 2191h0M4748 2191h0M4899 2190h0M5073 2192h0M5150 2192h0M5159 2191h0M5238 2190h0M5455 2191h0M5654 2189h0M5651 2191h0M5728 2189h0M5868 2192h0M5840 2190h0M5803 2192h0M5922 2192h0M6139 2189h0M6127 2189h0M6327 2190h0M6342 2191h0M6727 2189h0M6605 2192h0M7372 2191h0M7403 2191h0M7511 2191h0M7599 2190h0M7914 2190h0M8030 2191h0M8181 2192h0M8169 2191h0M8308 2190h0M8369 2189h0M8437 2190h0M8648 2191h0M8630 2192h0M8671 2192h0M8747 2191h0M8753 2191h0M8764 2190h0M9099 2190h0M9291 2192h0M9247 2192h0M9222 2190h0M9214 2192h0M9594 2191h0"/><path stroke="#9f9fc1" d="M566 2130h0M778 2132h0M836 2129h0M1133 2131h0M1121 2129h0M1133 2132h0M1335 2130h0M1896 2132h0M1564 2131h0M1835 2132h0M2186 2130h0M2065 2130h0M2003 2129h0M2170 2130h0M2366 2129h0M2727 2129h0M2675 2129h0M3166 2132h0M2945 2132h0M2890 2133h0M3289 2130h0M3279 2129h0M3302 2132h0M3307 2129h0M3734 2132h0M3674 2132h0M3369 2130h0M3460 2130h0M3657 2131h0M3761 2130h0M3814 2133h0M3861 2132h0M3782 2130h0M4240 2129h0M4079 2132h0M4158 2130h0M4334 2131h0M4336 2130h0M4504 2129h0M4722 2129h0M4833 2129h0M5191 2129h0M5128 2130h0M5014 2129h0M5086 2130h0M4964 2129h0M5247 2131h0M5563 2131h0M5612 2133h0M5686 2130h0M5954 2130h0M5953 2131h0M5985 2129h0M5825 2130h0M6114 2131h0M6137 2131h0M6082 2129h0M6184 2132h0M6404 2131h0M6255 2130h0M6427 2131h0M6541 2130h0M6780 2131h0M6839 2129h0M6770 2129h0M6949 2131h0M7090 2130h0M7010 2130h0M7394 2132h0M7497 2131h0M7639 2130h0M7726 2131h0M7946 2131h0M8186 2130h0M8137 2131h0M8376 2130h0M8375 2132h0M8268 2132h0M8299 2132h0M8600 2130h0M8522 2132h0M8651 2131h0M8713 2129h0M8716 2130h0M8967 2130h0M9043 2131h0M9234 2130h0"/><path stroke="#c2a0a0" d="M520 2546h0M996 2545h0M1222 2544h0M1101 2543h0M1248 2544h0M1282 2544h0M1460 2546h0M1337 2543h0M1897 2543h0M1888 2544h0M1932 2545h0M1805 2544h0M1942 2545h0M2177 2545h0M2076 2543h0M2119 2544h0M2024 2543h0M2464 2544h0M2321 2545h0M2340 2543h0M2464 2545h0M3088 2545h0M3112 2544h0M2977 2543h0M3196 2546h0M3658 2543h0M4189 2546h0M4000 2543h0M4223 2546h0M3997 2543h0M4366 2543h0M4416 2544h0M4334 2545h0M4262 2545h0M4616 2544h0M4689 2545h0M4864 2543h0M4780 2543h0M5177 2546h0M5610 2543h0M5407 2545h0M5574 2546h0M5514 2543h0M5882 2543h0M6159 2545h0M6188 2543h0M6292 2544h0M6335 2544h0M6352 2543h0M6422 2544h0M6414 2545h0M6500 2543h0M6857 2544h0M6771 2544h0M6624 2544h0M6723 2544h0M6603 2543h0M7140 2545h0M7837 2545h0M7838 2545h0M7790 2544h0M8183 2545h0M8240 2545h0M8382 2545h0M8866 2545h0M9208 2543h0M9206 2545h0M9223 2544h0M9436 2543h0M9751 2545h0M9525 2543h0"/><path stroke="#c19e9e" d="M549 2553h0M835 2551h0M742 2551h0M753 2554h0M775 2554h0M1155 2552h0M1000 2551h0M1035 2551h0M1298 2552h0M1794 2551h0M1759 2554h0M1873 2554h0M1612 2554h0M2196 2551h0M2244 2552h0M2033 2551h0M2152 2553h0M2630 2552h0M2624 2552h0M2964 2552h0M3118 2554h0M2941 2554h0M3073 2552h0M3029 2552h0M3157 2554h0M3152 2551h0M2943 2553h0M3195 2553h0M3296 2551h0M3239 2552h0M3692 2552h0M3550 2552h0M3629 2551h0M3514 2552h0M3585 2551h0M3735 2554h0M3796 2552h0M3895 2552h0M3755 2555h0M3897 2554h0M4363 2552h0M4375 2551h0M4563 2553h0M4901 2553h0M5188 2553h0M5238 2553h0M5510 2553h0M5473 2551h0M5509 2552h0M5644 2554h0M5870 2554h0M5774 2551h0M5842 2553h0M5956 2552h0M5804 2554h0M5862 2553h0M6183 2553h0M6313 2554h0M6297 2553h0M6463 2551h0M6726 2552h0M6697 2552h0M6592 2552h0M6739 2553h0M6836 2552h0M6825 2554h0M7011 2553h0M7151 2551h0M7052 2551h0M7317 2552h0M7483 2554h0M7615 2551h0M7610 2552h0M7885 2552h0M7862 2553h0M7916 2551h0M8633 2551h0M8687 2555h0M8659 2554h0M8791 2551h0M8858 2553h0M8808 2552h0M8860 2552h0M9203 2553h0M9183 2551h0M9315 2554h0M9548 2551h0M9516 2552h0M9501 2553h0"/><path stroke="#9d9dc0" d="M759 2121h0M1021 2121h0M1429 2121h0M1515 2122h0M2119 2121h0M2156 2121h0M2452 2121h0M3172 2121h0M3105 2121h0M3470 2121h0M3821 2122h0M4230 2121h0M4508 2121h0M4634 2121h0M4541 2121h0M4867 2121h0M5249 2121h0M5712 2121h0M5890 2121h0M6716 2121h0M6610 2121h0M7463 2121h0M8110 2122h0M8391 2122h0M8617 2121h0"/><path stroke="#9e9ec1" d="M1223 2127h0M1184 2125h0M1077 2126h0M1039 2128h0M1883 2126h0M1606 2127h0M1732 2127h0M1609 2128h0M2002 2127h0M2528 2125h0M3116 2128h0M2821 2129h0M3302 2125h0M3885 2126h0M3887 2125h0M3842 2128h0M4206 2127h0M4167 2127h0M4460 2126h0M4544 2126h0M4567 2128h0M4550 2127h0M4574 2127h0M4529 2127h0M4481 2127h0M4788 2125h0M4803 2127h0M4849 2127h0M5167 2125h0M5510 2127h0M5556 2127h0M5996 2127h0M5941 2126h0M6077 2125h0M6181 2128h0M6361 2126h0M6675 2128h0M6848 2125h0M6638 2125h0M6655 2126h0M6998 2126h0M6936 2125h0M7475 2127h0M7388 2128h0M7804 2127h0M7725 2125h0M7801 2125h0M7930 2125h0M7854 2125h0M8039 2125h0M8096 2126h0M8225 2126h0M8353 2128h0M8317 2128h0M8355 2127h0M8576 2128h0M8617 2125h0M8849 2126h0M8906 2128h0M9120 2126h0M9020 2127h0M9277 2128h0"/><path stroke="#c09d9d" d="M1192 2559h0M998 2558h0M1044 2558h0M3475 2558h0M4416 2558h0M4619 2558h0M4942 2559h0M6656 2558h0M7537 2558h0M7325 2558h0M7738 2558h0M7908 2558h0M8755 2558h0"/><path stroke="#aeaec7" d="M1778 2192h0M3833 2193h0M4161 2193h0M5252 2192h0M5531 2192h0M6095 2193h0M6364 2192h0M6507 2192h0M7205 2192h0M8189 2193h0M8721 2193h0"/><path stroke="#c7aeae" d="M1959 2487h0M1861 2487h0M3168 2487h0M3278 2487h0M3657 2486h0M3515 2486h0M4587 2487h0M5640 2486h0M5959 2487h0M6131 2486h0M6275 2486h0M6654 2487h0M7283 2486h0M7792 2487h0M8095 2486h0"/><path stroke="#c7afaf" d="M508 2482h0M788 2486h0M1238 2486h0M1187 2484h0M955 2486h0M1118 2486h0M1297 2486h0M1285 2483h0M1452 2483h0M1682 2483h0M1822 2486h0M1984 2484h0M1834 2483h0M1787 2482h0M1668 2484h0M1583 2485h0M2059 2483h0M2550 2485h0M2356 2486h0M2410 2483h0M2509 2486h0M2484 2484h0M2640 2483h0M2693 2484h0M2706 2485h0M2736 2485h0M2688 2485h0M2931 2483h0M3118 2483h0M2886 2482h0M3092 2486h0M2926 2485h0M2886 2483h0M3423 2485h0M3386 2482h0M3598 2485h0M3402 2483h0M3587 2484h0M3675 2483h0M3345 2483h0M4048 2486h0M3984 2483h0M4198 2483h0M4187 2484h0M4132 2483h0M4066 2483h0M4394 2486h0M4364 2486h0M4723 2483h0M4541 2485h0M4523 2483h0M4508 2483h0M4480 2485h0M4716 2483h0M4517 2485h0M5017 2484h0M4942 2484h0M5293 2484h0M5269 2483h0M5555 2485h0M5620 2484h0M5510 2485h0M5546 2483h0M5701 2486h0M5922 2486h0M5766 2483h0M5949 2484h0M5923 2482h0M6104 2486h0M6142 2485h0M6131 2482h0M6141 2486h0M6139 2485h0M6407 2485h0M6411 2484h0M6452 2486h0M6828 2483h0M6811 2484h0M6812 2483h0M6653 2483h0M6708 2483h0M6797 2483h0M6778 2483h0M7109 2486h0M7124 2485h0M6954 2484h0M7188 2484h0M7424 2483h0M7442 2485h0M7297 2485h0M7408 2484h0M7835 2484h0M7910 2484h0M7869 2483h0M7944 2486h0M8185 2484h0M8305 2485h0M8272 2482h0M8298 2486h0M8352 2486h0M8374 2485h0M8516 2485h0M8537 2485h0M8471 2486h0M8680 2486h0M8741 2483h0M8706 2486h0M8754 2485h0M8721 2485h0M8752 2486h0M8858 2483h0M8948 2486h0M9060 2483h0M9309 2484h0M9697 2485h0M9582 2485h0"/><path stroke="#9d9dc1" d="M506 2124h0M604 2124h0M597 2122h0M746 2124h0M841 2124h0M836 2123h0M1228 2122h0M1202 2123h0M1053 2122h0M1000 2124h0M1141 2123h0M1055 2123h0M1085 2124h0M1294 2124h0M1815 2124h0M1671 2122h0M1938 2123h0M1809 2124h0M1705 2123h0M2062 2124h0M2145 2122h0M2395 2123h0M2860 2122h0M2829 2124h0M3658 2123h0M3990 2122h0M4027 2123h0M4425 2122h0M4693 2124h0M4597 2123h0M4517 2123h0M4852 2124h0M4851 2122h0M4749 2123h0M4967 2124h0M5200 2124h0M5689 2122h0M5688 2122h0M5946 2122h0M5996 2122h0M6522 2124h0M6517 2122h0M6716 2124h0M7312 2124h0M7410 2123h0M7519 2122h0M8052 2122h0M8118 2123h0M8375 2124h0M8512 2124h0M8658 2123h0M8659 2123h0M8635 2122h0M8750 2123h0M8906 2122h0M9206 2123h0"/><path stroke="#c09c9c" d="M565 2562h0M747 2561h0M962 2560h0M988 2561h0M947 2561h0M950 2562h0M1089 2561h0M1243 2562h0M1271 2561h0M1518 2562h0M1297 2562h0M1555 2561h0M1825 2563h0M1565 2559h0M1680 2562h0M1866 2560h0M1554 2561h0M1865 2563h0M2092 2562h0M2214 2560h0M2102 2561h0M2032 2560h0M2346 2562h0M2304 2562h0M2450 2562h0M2523 2562h0M2902 2560h0M2810 2561h0M3000 2562h0M2948 2562h0M2809 2559h0M3172 2563h0M3231 2562h0M3446 2561h0M3500 2560h0M3445 2560h0M3561 2559h0M3563 2559h0M3836 2559h0M4222 2561h0M4033 2560h0M4247 2559h0M4377 2561h0M4400 2559h0M4384 2562h0M4383 2559h0M4490 2560h0M4505 2560h0M4455 2559h0M4791 2561h0M4780 2561h0M4824 2560h0M4953 2560h0M5019 2559h0M5096 2561h0M5199 2561h0M5408 2560h0M5497 2559h0M5804 2560h0M5922 2559h0M6022 2560h0M6035 2560h0M6128 2560h0M6145 2560h0M6071 2562h0M6185 2560h0M6139 2561h0M6071 2560h0M6256 2559h0M6357 2562h0M6539 2561h0M6512 2562h0M6770 2562h0M6783 2561h0M6572 2562h0M7203 2559h0M6947 2562h0M6975 2562h0M6959 2561h0M7488 2560h0M7444 2561h0M7315 2562h0M7401 2560h0M7375 2560h0M7727 2559h0M7676 2561h0M7721 2560h0M7777 2561h0M7871 2560h0M8185 2560h0M8238 2562h0M8269 2561h0M8223 2559h0M8378 2562h0M8576 2559h0M8765 2562h0M8869 2559h0M9203 2559h0"/><path stroke="#afafc7" d="M558 2197h0M670 2196h0M700 2193h0M777 2196h0M829 2193h0M770 2194h0M1176 2194h0M998 2195h0M1108 2196h0M952 2194h0M1019 2196h0M989 2195h0M981 2195h0M1301 2196h0M1452 2194h0M1494 2194h0M1340 2196h0M1461 2193h0M1757 2197h0M1734 2195h0M1723 2194h0M1900 2194h0M1882 2197h0M1661 2196h0M2454 2193h0M2463 2195h0M2445 2196h0M2579 2193h0M2369 2195h0M2602 2194h0M2703 2193h0M2878 2195h0M2900 2193h0M3099 2195h0M3168 2196h0M3192 2196h0M3242 2193h0M3273 2195h0M3215 2194h0M3731 2197h0M3496 2196h0M3552 2195h0M3943 2197h0M4244 2197h0M4105 2195h0M4116 2196h0M4340 2196h0M4723 2194h0M4596 2193h0M4791 2195h0M4865 2194h0M4901 2196h0M5118 2196h0M5267 2195h0M5280 2196h0M5596 2195h0M5571 2194h0M5514 2197h0M5613 2196h0M5652 2197h0M5841 2194h0M5987 2194h0M5861 2195h0M5798 2195h0M5769 2196h0M6159 2197h0M6411 2196h0M6284 2193h0M6402 2196h0M6444 2195h0M6607 2196h0M6642 2194h0M7195 2197h0M7434 2193h0M7326 2194h0M7335 2196h0M7782 2196h0M7705 2195h0M7789 2194h0M7684 2194h0M7633 2193h0M7770 2195h0M7720 2195h0M7893 2195h0M8295 2195h0M8284 2193h0M8823 2193h0M8924 2195h0M9133 2195h0M9133 2195h0M9025 2195h0M9243 2194h0"/><path stroke="#9c9cc0" d="M608 2118h0M762 2119h0M1199 2120h0M1137 2120h0M1039 2117h0M1240 2119h0M1132 2118h0M1098 2118h0M1058 2117h0M965 2117h0M974 2120h0M1141 2119h0M1402 2118h0M1894 2117h0M1794 2117h0M1614 2119h0M2217 2120h0M2387 2120h0M2686 2120h0M2678 2117h0M2685 2117h0M3090 2120h0M3170 2118h0M3274 2118h0M3280 2120h0M3700 2117h0M3468 2118h0M3376 2119h0M3826 2117h0M3872 2118h0M3966 2119h0M4318 2118h0M4411 2117h0M4514 2120h0M4704 2119h0M5051 2119h0M4954 2120h0M5019 2118h0M5226 2118h0M5658 2119h0M5875 2120h0M5969 2119h0M5765 2117h0M6066 2120h0M6369 2119h0M6410 2118h0M6329 2118h0M6302 2120h0M6841 2117h0M7021 2120h0M7044 2119h0M7151 2120h0M7347 2118h0M7695 2120h0M7629 2119h0M7871 2120h0M7961 2118h0M8023 2118h0M8018 2118h0M8090 2120h0M8246 2118h0M8318 2119h0M8226 2119h0M8221 2120h0M8319 2118h0M8558 2118h0M8488 2118h0M8743 2120h0M8711 2117h0M8748 2120h0M8923 2117h0M9184 2119h0M9199 2118h0"/><path stroke="#c19d9d" d="M759 2557h0M781 2556h0M1069 2557h0M1099 2557h0M1159 2557h0M1519 2555h0M1389 2557h0M1522 2557h0M1632 2555h0M1912 2557h0M1641 2556h0M1672 2555h0M1626 2557h0M1701 2556h0M2086 2556h0M2160 2556h0M2525 2557h0M2306 2555h0M3089 2556h0M3153 2555h0M2815 2556h0M3061 2555h0M3294 2556h0M3292 2557h0M3191 2557h0M3428 2557h0M3688 2556h0M3651 2556h0M3412 2555h0M3905 2557h0M3978 2556h0M4397 2557h0M4615 2555h0M4699 2557h0M4620 2555h0M4751 2556h0M5019 2555h0M5011 2556h0M5176 2557h0M5082 2555h0M5537 2557h0M5505 2557h0M5445 2557h0M5429 2557h0M5532 2557h0M5404 2555h0M5666 2556h0M5627 2555h0M6023 2556h0M5775 2555h0M6237 2556h0M6618 2555h0M6984 2557h0M7014 2556h0M7686 2557h0M7776 2557h0M7880 2557h0M8154 2556h0M8530 2556h0M8554 2557h0M8741 2557h0M8716 2556h0M9131 2557h0M9076 2556h0M9185 2556h0M9500 2556h0M9729 2557h0M9592 2557h0"/><path stroke="#b0b0c7" d="M524 2200h0M531 2198h0M701 2198h0M755 2201h0M1014 2200h0M1466 2200h0M1286 2198h0M1308 2199h0M1278 2199h0M1372 2199h0M1775 2199h0M1796 2198h0M1810 2197h0M1653 2198h0M1648 2197h0M1775 2200h0M2088 2198h0M2089 2197h0M2020 2198h0M2118 2197h0M2104 2200h0M2473 2197h0M3008 2201h0M3040 2200h0M3249 2199h0M3875 2198h0M3793 2201h0M3997 2198h0M4249 2198h0M4301 2201h0M4639 2200h0M4513 2198h0M4505 2201h0M4466 2197h0M4745 2198h0M4922 2198h0M4968 2198h0M4969 2198h0M5405 2197h0M5418 2198h0M5952 2198h0M6149 2198h0M6371 2198h0M6530 2198h0M6760 2199h0M6798 2199h0M6715 2200h0M6658 2200h0M6847 2200h0M6622 2200h0M6928 2197h0M6994 2200h0M6972 2198h0M7495 2201h0M7484 2199h0M7536 2199h0M7366 2199h0M7318 2198h0M7432 2200h0M7836 2197h0M7658 2198h0M7737 2197h0M7658 2197h0M7645 2199h0M7602 2198h0M7947 2200h0M7912 2198h0M8279 2199h0M8271 2200h0M8378 2199h0M8776 2201h0M8734 2200h0M8740 2199h0M8785 2198h0M8979 2201h0M8933 2199h0M8930 2200h0M8955 2197h0M9135 2201h0"/><path stroke="#9a9abf" d="M533 2109h0M546 2109h0M1073 2109h0M1509 2109h0M1885 2109h0M2121 2109h0M2171 2109h0M3638 2109h0M4709 2110h0M5631 2109h0M5805 2109h0M5961 2109h0M6019 2109h0M6264 2109h0M7060 2109h0M7021 2108h0M7693 2109h0M7927 2109h0M8034 2110h0M8288 2109h0M8259 2109h0M8738 2109h0M8828 2110h0"/><path stroke="#c09b9b" d="M516 2565h0M546 2563h0M753 2563h0M1158 2565h0M1000 2565h0M1362 2565h0M1426 2564h0M1527 2564h0M1973 2565h0M1939 2564h0M1996 2563h0M1594 2566h0M1838 2564h0M2033 2563h0M2082 2566h0M2137 2564h0M2440 2565h0M2417 2565h0M2562 2565h0M3145 2563h0M2871 2563h0M3158 2565h0M2958 2565h0M2844 2563h0M3187 2566h0M3313 2567h0M3640 2564h0M3352 2563h0M3512 2565h0M3565 2564h0M3611 2565h0M3668 2565h0M3451 2566h0M3729 2565h0M4118 2564h0M3990 2565h0M4181 2567h0M4303 2563h0M4588 2565h0M4542 2563h0M4542 2566h0M4573 2566h0M4689 2565h0M4731 2567h0M4901 2564h0M5133 2564h0M4901 2563h0M5618 2566h0M5513 2566h0M5422 2563h0M5691 2567h0M5701 2566h0M5694 2565h0M5944 2566h0M6007 2564h0M5964 2566h0M5945 2564h0M6421 2563h0M6495 2563h0M6531 2565h0M6669 2566h0M6779 2564h0M6705 2566h0M6631 2565h0M6839 2565h0M6729 2563h0M7059 2564h0M6962 2563h0M7723 2564h0M7720 2567h0M7882 2563h0M8310 2566h0M8462 2566h0M8574 2565h0M8517 2565h0M8670 2565h0M8669 2566h0M8762 2564h0M8845 2563h0M9235 2566h0M9261 2565h0M9279 2563h0M9224 2567h0M9581 2564h0"/><path stroke="#bf9a9a" d="M517 2570h0M1218 2570h0M1160 2570h0M1508 2570h0M1497 2570h0M1738 2570h0M1836 2570h0M1957 2570h0M2349 2570h0M2384 2570h0M2421 2570h0M2487 2569h0M2852 2570h0M2786 2570h0M3099 2570h0M3622 2570h0M3678 2570h0M3740 2570h0M4062 2570h0M4052 2569h0M4284 2570h0M5291 2570h0M5601 2570h0M5646 2570h0M5900 2569h0M5998 2570h0M6436 2570h0M6275 2571h0M6372 2570h0M6467 2570h0M6688 2570h0M6775 2570h0M7074 2570h0M6913 2570h0M7160 2570h0M7537 2570h0M7622 2571h0M8350 2570h0M8735 2569h0M8976 2570h0M8895 2571h0"/><path stroke="#9b9bc0" d="M545 2115h0M799 2114h0M852 2115h0M961 2115h0M1155 2115h0M1044 2116h0M1067 2113h0M1005 2115h0M1332 2113h0M1610 2116h0M1722 2116h0M1721 2116h0M1582 2115h0M1704 2114h0M2059 2113h0M2346 2113h0M2360 2114h0M2516 2114h0M3129 2115h0M3073 2116h0M2912 2116h0M2970 2116h0M3249 2116h0M3511 2116h0M3392 2113h0M3547 2116h0M4158 2115h0M4138 2114h0M4161 2115h0M4736 2115h0M4711 2116h0M4715 2114h0M4993 2115h0M5171 2113h0M5507 2116h0M5601 2113h0M5628 2115h0M5949 2116h0M6182 2114h0M6435 2113h0M6405 2116h0M6297 2115h0M6338 2113h0M6392 2115h0M6501 2114h0M6518 2115h0M6739 2113h0M6953 2115h0M7051 2116h0M7347 2116h0M7328 2116h0M7532 2114h0M7379 2116h0M7437 2115h0M7331 2115h0M7746 2115h0M7781 2113h0M7826 2116h0M7942 2115h0M8061 2114h0M8338 2113h0M8342 2114h0M8336 2113h0M8559 2114h0M8673 2116h0M8739 2116h0M9255 2113h0M9283 2114h0"/><path stroke="#c7b0b0" d="M775 2480h0M838 2481h0M743 2478h0M984 2479h0M1127 2481h0M1143 2480h0M1190 2482h0M1303 2482h0M1490 2480h0M1457 2479h0M1331 2481h0M1558 2481h0M1566 2480h0M1991 2479h0M1963 2481h0M1848 2482h0M1624 2481h0M1796 2482h0M1805 2478h0M1580 2481h0M2156 2480h0M2018 2482h0M2032 2481h0M2135 2482h0M2448 2481h0M2378 2481h0M2576 2478h0M2455 2479h0M2658 2479h0M2654 2481h0M2663 2482h0M2674 2480h0M2819 2479h0M3103 2479h0M3234 2481h0M3532 2479h0M3645 2479h0M3739 2482h0M3818 2480h0M3906 2482h0M3781 2480h0M3808 2482h0M4253 2481h0M3988 2481h0M4295 2480h0M4721 2479h0M4613 2479h0M4728 2481h0M4688 2482h0M4577 2482h0M4782 2482h0M5123 2479h0M4983 2479h0M5171 2482h0M5217 2478h0M5251 2481h0M5452 2478h0M6032 2481h0M5818 2479h0M5937 2479h0M5955 2481h0M5787 2480h0M5824 2481h0M6038 2481h0M5856 2479h0M5982 2480h0M5763 2482h0M6038 2478h0M6161 2482h0M6318 2479h0M6259 2478h0M6318 2482h0M6411 2481h0M6317 2480h0M6434 2482h0M6222 2479h0M6545 2480h0M6791 2482h0M6774 2480h0M6664 2481h0M7101 2479h0M7095 2482h0M7291 2479h0M7283 2482h0M7349 2482h0M7531 2480h0M7459 2481h0M7288 2481h0M7283 2482h0M7775 2481h0M7681 2480h0M7610 2479h0M7776 2480h0M7602 2481h0M7604 2480h0M7948 2480h0M7951 2479h0M8170 2482h0M8172 2482h0M8398 2479h0M8587 2479h0M8523 2482h0M8459 2479h0M8461 2480h0M8584 2481h0M8745 2480h0M8833 2479h0M8917 2478h0M9190 2480h0M9266 2480h0"/><path stroke="#c09a9a" d="M518 2568h0M1058 2568h0M1105 2569h0M1376 2568h0M1348 2569h0M1740 2567h0M1777 2568h0M1682 2568h0M2094 2568h0M2552 2569h0M2591 2569h0M3172 2568h0M2968 2569h0M3090 2568h0M3234 2569h0M3196 2568h0M3366 2569h0M3848 2568h0M3798 2569h0M3959 2569h0M4103 2569h0M4221 2567h0M3955 2568h0M4633 2568h0M4504 2569h0M4461 2569h0M4456 2568h0M4714 2567h0M4762 2567h0M4961 2568h0M5552 2568h0M5649 2569h0M5701 2568h0M5665 2568h0M5787 2568h0M5886 2568h0M5866 2568h0M5797 2569h0M5965 2569h0M6051 2568h0M6156 2567h0M6302 2568h0M6392 2569h0M6304 2569h0M6472 2569h0M6785 2567h0M6574 2567h0M6742 2567h0M7206 2569h0M7061 2568h0M6981 2568h0M7351 2569h0M7797 2569h0M8165 2568h0M8245 2568h0M8266 2569h0M8684 2569h0M8821 2568h0M8934 2569h0M9101 2568h0"/><path stroke="#9999bf" d="M534 2105h0M696 2106h0M772 2107h0M851 2106h0M815 2105h0M1152 2108h0M1070 2105h0M1068 2106h0M1470 2106h0M1353 2105h0M1643 2107h0M1884 2106h0M2413 2107h0M2727 2108h0M2953 2108h0M2888 2107h0M3288 2106h0M3577 2105h0M3446 2106h0M3481 2105h0M3633 2107h0M3406 2105h0M3422 2107h0M3835 2108h0M3830 2105h0M4242 2108h0M4155 2106h0M4641 2105h0M4474 2106h0M4515 2105h0M4535 2106h0M4527 2107h0M4568 2106h0M4585 2108h0M4833 2106h0M5159 2107h0M5093 2105h0M5095 2106h0M4986 2105h0M5212 2106h0M5516 2106h0M5465 2108h0M5626 2107h0M5726 2108h0M6005 2106h0M6015 2105h0M6015 2105h0M6253 2108h0M6247 2108h0M6434 2106h0M6679 2107h0M7120 2108h0M7132 2106h0M7176 2108h0M7128 2106h0M6914 2105h0M7162 2108h0M7066 2104h0M7327 2105h0M7402 2107h0M7401 2107h0M7634 2105h0M7640 2108h0M7809 2106h0M7877 2105h0M7959 2105h0M8135 2107h0M8275 2107h0M8311 2108h0M8565 2107h0M8798 2105h0M8839 2108h0M8941 2106h0M8955 2108h0M8906 2107h0M9278 2107h0"/><path stroke="#9a9ac0" d="M650 2111h0M1349 2110h0M1520 2111h0M1411 2111h0M2139 2112h0M2013 2110h0M2229 2112h0M2394 2112h0M2610 2112h0M2626 2112h0M3156 2110h0M3092 2111h0M2831 2112h0M3237 2110h0M3578 2112h0M3884 2110h0M3963 2111h0M3994 2110h0M3945 2110h0M4562 2112h0M4511 2110h0M4791 2110h0M4865 2112h0M4983 2110h0M5034 2111h0M5207 2111h0M5219 2110h0M5498 2112h0M5847 2111h0M5959 2112h0M5827 2110h0M6125 2111h0M6339 2111h0M6942 2112h0M7447 2111h0M7780 2111h0M8371 2110h0M8594 2111h0M8483 2111h0M8770 2112h0M8946 2111h0M9210 2111h0M9210 2111h0M9513 2111h0"/><path stroke="#bf9999" d="M761 2574h0M1173 2574h0M1117 2572h0M1173 2571h0M1354 2574h0M1462 2571h0M1439 2572h0M1569 2571h0M1763 2571h0M1664 2572h0M1672 2572h0M1625 2572h0M1920 2573h0M1706 2573h0M1635 2572h0M1917 2574h0M2228 2573h0M2014 2572h0M2171 2572h0M2147 2573h0M2586 2574h0M2346 2575h0M2692 2571h0M2841 2574h0M2948 2571h0M3175 2574h0M2830 2573h0M2955 2574h0M3228 2575h0M3267 2575h0M3577 2572h0M3370 2571h0M3635 2572h0M3659 2575h0M3658 2571h0M4044 2574h0M4074 2572h0M4119 2575h0M4222 2574h0M4703 2573h0M4821 2574h0M5118 2572h0M5272 2573h0M5264 2571h0M5444 2574h0M5693 2572h0M5692 2571h0M5644 2574h0M5964 2572h0M5858 2573h0M5924 2573h0M5881 2573h0M6101 2572h0M6063 2573h0M6068 2573h0M6152 2572h0M6421 2572h0M6225 2572h0M6389 2573h0M6395 2571h0M6307 2571h0M6506 2571h0M6497 2571h0M6518 2571h0M6791 2574h0M6681 2573h0M6958 2575h0M7316 2574h0M7451 2573h0M7346 2575h0M7332 2571h0M7516 2571h0M7289 2572h0M7373 2573h0M7928 2573h0M7883 2575h0M8290 2574h0M8319 2572h0M8293 2572h0M8389 2571h0M8466 2572h0M8457 2574h0M8576 2574h0M8742 2573h0M8729 2571h0M8766 2572h0M8716 2572h0M9018 2571h0M9280 2573h0M9209 2574h0M9254 2573h0M9633 2575h0"/><path stroke="#b1b1c7" d="M800 2201h0M786 2203h0M1115 2204h0M1185 2203h0M1049 2203h0M1920 2201h0M1782 2202h0M1600 2201h0M1890 2202h0M1865 2204h0M1788 2202h0M1816 2203h0M1830 2202h0M2040 2204h0M2405 2202h0M2342 2202h0M2573 2203h0M2454 2203h0M2912 2204h0M2832 2202h0M3188 2204h0M3269 2202h0M3203 2201h0M3309 2201h0M3374 2201h0M3785 2202h0M3889 2202h0M4162 2201h0M4201 2202h0M4044 2203h0M4145 2203h0M4135 2202h0M4258 2201h0M4374 2204h0M4713 2203h0M4918 2201h0M4995 2201h0M5205 2203h0M5943 2203h0M5782 2202h0M5957 2202h0M6020 2203h0M6155 2202h0M6111 2203h0M6363 2203h0M6237 2204h0M6732 2204h0M6625 2202h0M6751 2204h0M7104 2202h0M7432 2201h0M7323 2203h0M8141 2204h0M8313 2202h0M8294 2203h0M8394 2201h0M8769 2201h0M8732 2201h0M8776 2204h0M8941 2203h0M9226 2202h0"/><path stroke="#c7b1b1" d="M763 2478h0M779 2478h0M1148 2476h0M1172 2477h0M1249 2478h0M1462 2476h0M1459 2475h0M2068 2477h0M2074 2477h0M2084 2476h0M2351 2475h0M2473 2477h0M2562 2478h0M2439 2477h0M2493 2478h0M2870 2478h0M2919 2478h0M2904 2478h0M3299 2476h0M3295 2476h0M3630 2475h0M3716 2476h0M3873 2478h0M3881 2478h0M3899 2478h0M3841 2476h0M4110 2478h0M4074 2476h0M4188 2477h0M4079 2475h0M4372 2475h0M4572 2478h0M4611 2476h0M4745 2477h0M4771 2478h0M4908 2477h0M5137 2477h0M5244 2478h0M5303 2477h0M5447 2478h0M5410 2476h0M5645 2477h0M5793 2476h0M5948 2475h0M6116 2475h0M6406 2475h0M6302 2477h0M6547 2475h0M6502 2477h0M6718 2478h0M6711 2478h0M6573 2476h0M6831 2475h0M6611 2475h0M6816 2478h0M6712 2477h0M6640 2478h0M6803 2478h0M7163 2478h0M7468 2477h0M7409 2476h0M7382 2478h0M7384 2477h0M7699 2476h0M7819 2475h0M8302 2475h0M8269 2475h0M8395 2478h0M8560 2476h0M8495 2475h0M8744 2476h0M8819 2476h0M8975 2477h0M9114 2477h0M9088 2477h0M9026 2478h0M9216 2476h0M9728 2476h0"/><path stroke="#c8b1b1" d="M503 2475h0M1370 2475h0M1642 2475h0M2010 2474h0M2776 2474h0M3277 2475h0M3670 2475h0M4069 2474h0M4853 2475h0M5214 2474h0M6591 2475h0M6789 2474h0M7021 2475h0M8597 2475h0M8653 2474h0M8839 2475h0M9135 2474h0M9730 2475h0"/><path stroke="#9898bf" d="M528 2102h0M650 2102h0M1167 2101h0M1258 2103h0M1271 2103h0M1339 2101h0M1712 2101h0M1583 2101h0M1559 2104h0M1628 2103h0M2208 2103h0M2102 2102h0M2165 2100h0M2020 2104h0M2429 2101h0M2520 2103h0M2835 2102h0M3257 2101h0M3410 2104h0M3518 2104h0M3366 2104h0M3807 2103h0M3886 2104h0M4125 2101h0M3952 2104h0M4383 2101h0M4330 2103h0M4471 2102h0M4536 2104h0M4713 2101h0M4788 2101h0M4795 2102h0M4993 2102h0M5259 2101h0M5274 2104h0M5441 2101h0M5712 2102h0M5821 2102h0M6059 2103h0M6134 2104h0M6092 2103h0M6234 2101h0M6347 2103h0M6391 2103h0M6315 2104h0M6536 2102h0M6468 2101h0M6748 2104h0M6942 2104h0M7076 2102h0M7412 2103h0M7521 2101h0M7293 2102h0M7490 2102h0M7717 2102h0M7809 2104h0M7932 2101h0M7885 2101h0M7885 2103h0M8188 2101h0M8138 2102h0M8363 2104h0M8396 2103h0M8415 2104h0M8456 2101h0M8502 2102h0M8453 2101h0M8622 2103h0M8618 2102h0M8796 2103h0M8726 2101h0M8851 2102h0M8840 2101h0M8920 2102h0M9123 2101h0M9111 2104h0"/><path stroke="#9797be" d="M566 2098h0M834 2098h0M1497 2097h0M1499 2097h0M1991 2098h0M1917 2097h0M2582 2098h0M2446 2098h0M2606 2097h0M3540 2098h0M3876 2097h0M3892 2097h0M4559 2097h0M4685 2098h0M5078 2098h0M5135 2098h0M5014 2097h0M5303 2098h0M5794 2097h0M5790 2098h0M6058 2097h0M6097 2097h0M6081 2097h0M6338 2098h0M6389 2098h0M6925 2097h0M7326 2098h0M7789 2098h0M7629 2097h0M8374 2097h0M8775 2098h0M9251 2098h0"/><path stroke="#b1b1c8" d="M647 2205h0M784 2205h0M1875 2204h0M2322 2205h0M2494 2205h0M3740 2205h0M4211 2205h0M4571 2205h0M5262 2204h0M5653 2204h0M5948 2204h0M6100 2205h0M6397 2204h0M6817 2204h0M7388 2204h0M7406 2205h0M7739 2205h0M8064 2205h0M8337 2204h0M8744 2205h0"/><path stroke="#be9797" d="M848 2581h0M820 2581h0M1184 2582h0M1495 2581h0M1988 2581h0M1685 2582h0M2102 2582h0M2175 2583h0M2546 2582h0M2538 2581h0M2555 2582h0M3365 2582h0M3750 2582h0M3984 2582h0M4308 2582h0M4271 2583h0M4840 2582h0M4797 2582h0M5096 2583h0M5722 2583h0M5627 2582h0M6102 2582h0M6422 2582h0M6213 2581h0M6289 2582h0M6529 2582h0M6510 2583h0M6709 2582h0M7104 2581h0M8513 2581h0M8570 2582h0M8461 2582h0M8852 2582h0M9248 2581h0M9619 2583h0"/><path stroke="#bf9898" d="M808 2578h0M1243 2577h0M1315 2577h0M1281 2578h0M1269 2576h0M1423 2578h0M1973 2576h0M1994 2575h0M1674 2576h0M1565 2576h0M1768 2577h0M1936 2577h0M2145 2576h0M2036 2579h0M2100 2577h0M2573 2578h0M2715 2577h0M3063 2576h0M3137 2579h0M2897 2577h0M3227 2576h0M3640 2576h0M3518 2578h0M3438 2577h0M3712 2578h0M3546 2575h0M3701 2578h0M3363 2575h0M3606 2576h0M3678 2575h0M3478 2575h0M3836 2576h0M4178 2577h0M3960 2575h0M4182 2575h0M4238 2575h0M4178 2575h0M4277 2576h0M4363 2575h0M4587 2577h0M5044 2579h0M5123 2579h0M5176 2577h0M5180 2576h0M4935 2575h0M5211 2579h0M5196 2577h0M5428 2575h0M5592 2576h0M5593 2578h0M5416 2576h0M5667 2577h0M5664 2576h0M5680 2577h0M6001 2578h0M5964 2577h0M5936 2578h0M5967 2578h0M5833 2576h0M6144 2576h0M6295 2578h0M6409 2577h0M6333 2576h0M6259 2575h0M6445 2578h0M6453 2576h0M6807 2575h0M6929 2579h0M6960 2578h0M7392 2579h0M7417 2577h0M7372 2577h0M7366 2575h0M7716 2577h0M7761 2577h0M7748 2576h0M7776 2576h0M7953 2576h0M7875 2577h0M7873 2576h0M8017 2576h0M8034 2577h0M8146 2575h0M8255 2576h0M8371 2576h0M8230 2578h0M8215 2577h0M8213 2578h0M8567 2578h0M8565 2575h0M8489 2575h0M8706 2576h0M8847 2575h0M8920 2575h0M9131 2577h0M9218 2577h0M9235 2578h0M9196 2575h0M9380 2577h0M9401 2575h0M9522 2576h0M9539 2578h0"/><path stroke="#be9696" d="M558 2586h0M548 2586h0M1141 2585h0M1280 2585h0M1516 2586h0M1256 2587h0M1644 2586h0M2059 2584h0M2120 2585h0M1998 2583h0M2432 2584h0M2636 2586h0M2725 2586h0M3164 2585h0M2842 2585h0M2898 2586h0M2796 2586h0M2835 2583h0M3159 2584h0M3115 2584h0M3303 2585h0M3256 2586h0M3309 2586h0M3208 2584h0M3633 2586h0M3487 2583h0M3356 2583h0M3629 2583h0M3476 2585h0M3407 2586h0M3845 2583h0M3878 2583h0M3840 2586h0M3759 2583h0M3897 2584h0M3849 2584h0M4155 2583h0M3976 2584h0M4193 2585h0M4411 2585h0M4593 2584h0M4657 2585h0M4686 2585h0M4778 2583h0M5048 2584h0M5226 2584h0M5305 2586h0M5434 2583h0M5446 2585h0M5462 2586h0M5652 2585h0M5706 2587h0M5951 2585h0M5803 2583h0M5928 2584h0M6031 2587h0M5939 2583h0M5995 2584h0M5777 2584h0M6250 2586h0M6426 2585h0M6403 2586h0M6339 2584h0M6376 2587h0M6689 2586h0M6833 2585h0M6680 2583h0M6774 2585h0M6936 2583h0M7132 2583h0M7072 2583h0M7270 2585h0M7388 2583h0M7715 2587h0M7858 2584h0M7865 2583h0M7883 2586h0M7892 2583h0M8065 2583h0M8128 2583h0M8174 2585h0M8175 2583h0M8216 2585h0M8240 2586h0M8247 2585h0M8708 2584h0M9283 2585h0M9220 2585h0M9292 2585h0M9383 2587h0M9752 2585h0M9496 2584h0"/><path stroke="#9797bf" d="M504 2100h0M1013 2100h0M1326 2099h0M1731 2099h0M1717 2099h0M1600 2099h0M1621 2099h0M2062 2099h0M2533 2099h0M3250 2099h0M3627 2099h0M3727 2098h0M3677 2099h0M3614 2098h0M3662 2100h0M3426 2099h0M3854 2100h0M3892 2099h0M3836 2100h0M4398 2099h0M4536 2099h0M4627 2098h0M5317 2099h0M5470 2098h0M5401 2098h0M7316 2099h0M7500 2100h0M7879 2100h0M8505 2100h0M8645 2100h0M8769 2099h0M8734 2099h0M8914 2099h0"/><path stroke="#c8b2b2" d="M541 2471h0M1041 2474h0M1132 2472h0M1203 2471h0M1039 2472h0M1767 2472h0M2598 2471h0M2309 2472h0M2540 2473h0M2337 2471h0M2403 2470h0M2450 2473h0M2641 2474h0M2622 2473h0M2602 2473h0M3047 2471h0M3085 2472h0M2921 2474h0M2797 2474h0M3104 2472h0M2953 2472h0M2937 2472h0M3497 2472h0M3670 2473h0M3480 2470h0M3777 2473h0M4021 2471h0M3994 2471h0M4032 2473h0M3979 2472h0M4456 2472h0M4692 2472h0M4473 2473h0M5082 2472h0M5015 2474h0M5200 2473h0M5283 2471h0M5517 2470h0M5509 2472h0M5497 2473h0M5864 2471h0M5774 2473h0M5969 2474h0M6033 2473h0M5867 2474h0M6048 2473h0M6139 2471h0M6301 2471h0M6404 2473h0M6258 2471h0M6330 2472h0M6474 2471h0M6460 2471h0M6770 2472h0M6850 2474h0M6758 2471h0M6635 2471h0M6656 2473h0M6655 2470h0M6601 2472h0M6976 2472h0M7069 2470h0M6941 2472h0M6930 2472h0M7424 2471h0M7509 2471h0M7495 2473h0M7272 2474h0M7336 2472h0M7311 2470h0M7642 2473h0M7618 2473h0M7663 2474h0M7959 2473h0M7946 2474h0M7914 2473h0M8139 2473h0M8328 2471h0M8358 2472h0M8270 2471h0M8686 2471h0M8728 2471h0M8781 2471h0M8718 2471h0M8806 2471h0M8926 2473h0M8892 2473h0M8977 2472h0M8951 2470h0M9096 2474h0M9110 2470h0M9018 2472h0M9041 2474h0M9204 2474h0M9621 2474h0M9511 2473h0"/><path stroke="#b2b2c8" d="M514 2205h0M830 2206h0M1010 2209h0M1079 2206h0M1012 2208h0M1000 2208h0M1036 2207h0M1179 2206h0M1419 2208h0M1320 2208h0M1383 2207h0M1564 2206h0M1966 2208h0M1843 2208h0M1945 2208h0M2100 2208h0M2000 2207h0M2100 2208h0M2455 2206h0M2495 2208h0M2315 2207h0M2425 2206h0M2834 2206h0M3160 2207h0M2908 2206h0M3303 2208h0M3237 2207h0M3212 2206h0M3350 2208h0M3571 2206h0M3705 2208h0M3565 2205h0M3434 2206h0M3826 2208h0M3847 2206h0M3790 2205h0M3886 2208h0M4060 2207h0M4152 2205h0M3940 2208h0M4098 2207h0M4378 2206h0M4279 2208h0M4286 2207h0M4720 2207h0M4484 2209h0M4603 2206h0M4801 2207h0M4775 2206h0M4904 2208h0M5266 2205h0M5271 2206h0M5572 2206h0M5429 2206h0M5433 2208h0M5710 2207h0M5645 2206h0M5960 2209h0M5923 2207h0M5982 2208h0M5863 2206h0M6053 2206h0M6109 2206h0M6185 2205h0M6128 2209h0M6287 2208h0M6367 2207h0M6368 2206h0M6348 2206h0M6496 2208h0M6597 2206h0M6723 2209h0M7137 2207h0M6985 2207h0M6974 2208h0M7708 2206h0M7765 2207h0M7869 2207h0M7906 2207h0M8141 2207h0M8218 2208h0M8256 2209h0M8563 2208h0M8759 2207h0M8713 2208h0M8812 2208h0M8815 2208h0M9285 2208h0M9267 2208h0M9229 2208h0M9669 2206h0"/><path stroke="#9696be" d="M513 2096h0M657 2093h0M714 2095h0M1231 2093h0M1157 2094h0M972 2094h0M1055 2095h0M1059 2093h0M1089 2093h0M2432 2095h0M2527 2093h0M3047 2094h0M2792 2096h0M2898 2096h0M3188 2095h0M3274 2093h0M3869 2096h0M3906 2095h0M3972 2095h0M4124 2094h0M4359 2092h0M4280 2094h0M4328 2095h0M4509 2096h0M4649 2095h0M4734 2096h0M4816 2093h0M5036 2092h0M4963 2095h0M5004 2096h0M5657 2095h0M5826 2096h0M6183 2095h0M6127 2093h0M6397 2095h0M6417 2095h0M6395 2096h0M6256 2094h0M6471 2094h0M6545 2095h0M6812 2094h0M6730 2093h0M6741 2095h0M6779 2096h0M6814 2096h0M6858 2095h0M6955 2096h0M7393 2092h0M7267 2096h0M7853 2096h0M7952 2096h0M7919 2095h0M7867 2093h0M8109 2094h0M8309 2095h0M8220 2093h0M8301 2095h0M8280 2093h0M8291 2095h0M8397 2095h0M8551 2093h0M8471 2095h0M8779 2093h0M8943 2094h0M9105 2096h0M9221 2093h0M9204 2095h0M9236 2095h0"/><path stroke="#bf9797" d="M973 2579h0M1300 2579h0M1990 2579h0M2102 2580h0M2399 2580h0M2453 2579h0M2642 2580h0M2626 2581h0M3027 2579h0M3249 2579h0M3270 2580h0M3372 2579h0M3769 2579h0M4503 2581h0M4532 2579h0M4807 2579h0M4801 2580h0M5176 2581h0M5038 2580h0M5176 2580h0M5435 2581h0M5797 2581h0M5846 2579h0M6361 2579h0M6517 2580h0M6581 2579h0M6925 2581h0M7511 2579h0M7882 2580h0M7858 2580h0M8092 2580h0M8136 2580h0M8308 2581h0M8854 2580h0M9051 2580h0M9247 2579h0M9759 2579h0"/><path stroke="#b3b3c8" d="M549 2211h0M769 2209h0M1123 2212h0M1143 2212h0M1154 2211h0M1127 2211h0M1877 2209h0M1932 2209h0M1557 2212h0M2012 2211h0M2163 2210h0M2149 2209h0M2117 2211h0M2058 2209h0M2070 2213h0M2487 2212h0M2322 2210h0M2582 2213h0M2436 2210h0M2718 2211h0M2690 2212h0M3020 2209h0M2985 2213h0M3591 2213h0M3526 2213h0M3874 2210h0M3783 2211h0M3768 2211h0M3979 2213h0M4220 2210h0M4135 2210h0M4164 2211h0M4148 2212h0M4310 2212h0M4679 2212h0M4644 2212h0M4519 2211h0M4552 2210h0M4636 2212h0M4550 2209h0M4789 2210h0M5091 2212h0M4958 2211h0M5066 2209h0M5145 2211h0M5181 2211h0M5458 2213h0M5451 2211h0M5580 2209h0M5995 2213h0M6018 2213h0M5850 2210h0M5857 2212h0M5861 2210h0M6074 2211h0M6106 2213h0M6070 2212h0M6397 2210h0M6409 2212h0M6339 2211h0M6459 2211h0M6819 2213h0M6832 2212h0M6679 2209h0M6688 2211h0M6708 2210h0M7029 2211h0M7095 2212h0M7002 2211h0M7012 2212h0M7044 2210h0M7460 2211h0M7286 2212h0M7338 2212h0M7849 2210h0M7620 2209h0M7829 2209h0M7960 2211h0M7878 2211h0M8160 2212h0M8218 2210h0M8344 2212h0M8323 2212h0M8941 2212h0M8910 2210h0M8965 2210h0M8920 2209h0M8937 2210h0M9076 2209h0M9045 2211h0M9086 2210h0M9235 2211h0M9192 2209h0M9225 2213h0"/><path stroke="#9595be" d="M540 2091h0M598 2090h0M821 2091h0M831 2091h0M1164 2092h0M1118 2090h0M1403 2089h0M1288 2091h0M1606 2092h0M1676 2092h0M1854 2089h0M1651 2092h0M2150 2091h0M2244 2090h0M2016 2092h0M2311 2089h0M2339 2092h0M2592 2091h0M2663 2090h0M2624 2089h0M3178 2089h0M2953 2092h0M2855 2091h0M3444 2089h0M3514 2092h0M3669 2090h0M3403 2091h0M3766 2089h0M4233 2091h0M4145 2092h0M4083 2089h0M4292 2089h0M4593 2090h0M4523 2091h0M4604 2090h0M4777 2092h0M5060 2092h0M5152 2092h0M5125 2092h0M5258 2090h0M5411 2091h0M5408 2089h0M5715 2092h0M5952 2091h0M6061 2089h0M6494 2091h0M6838 2090h0M6855 2089h0M6938 2090h0M6949 2089h0M7015 2091h0M7188 2091h0M7463 2092h0M7512 2091h0M7643 2090h0M7603 2090h0M7851 2092h0M7895 2089h0M7952 2090h0M8073 2091h0M8048 2090h0M8047 2089h0M8027 2089h0M8264 2090h0M8293 2089h0M8571 2089h0M8758 2091h0M8780 2090h0M8986 2089h0M9114 2090h0M9045 2091h0"/><path stroke="#bd9494" d="M522 2594h0M522 2594h0M778 2594h0M975 2594h0M1304 2593h0M2623 2593h0M3275 2594h0M3424 2593h0M3670 2593h0M3388 2594h0M3345 2595h0M3537 2594h0M3446 2593h0M3653 2595h0M3598 2594h0M4148 2594h0M4090 2594h0M4570 2594h0M4865 2594h0M5030 2595h0M4935 2595h0M5197 2594h0M6165 2594h0M6082 2594h0M6241 2594h0M7067 2593h0M7345 2594h0M7480 2595h0M7631 2594h0M7702 2594h0M8833 2594h0M9667 2594h0M9704 2593h0M9699 2594h0"/><path stroke="#9494bd" d="M597 2086h0M1985 2085h0M1838 2086h0M1736 2085h0M1812 2086h0M1558 2086h0M2314 2085h0M2455 2086h0M2574 2085h0M2314 2085h0M3005 2085h0M2880 2086h0M2885 2085h0M3677 2085h0M4129 2084h0M4277 2085h0M4463 2086h0M4970 2086h0M5170 2085h0M5158 2086h0M5584 2086h0M5655 2086h0M5797 2086h0M6104 2085h0M6379 2086h0M6767 2086h0M6715 2086h0M7064 2086h0M7760 2085h0M8006 2085h0M8080 2085h0M8186 2085h0M8668 2085h0M8777 2085h0M8755 2084h0"/><path stroke="#c8b3b3" d="M789 2468h0M762 2466h0M793 2470h0M1110 2466h0M1243 2469h0M1077 2467h0M959 2467h0M1133 2468h0M1325 2468h0M1420 2468h0M1258 2469h0M1387 2470h0M1414 2468h0M1905 2470h0M1750 2467h0M1902 2470h0M1571 2467h0M1609 2469h0M1915 2467h0M1820 2469h0M1982 2469h0M1959 2467h0M1676 2468h0M1842 2467h0M1563 2468h0M2083 2467h0M2250 2467h0M2513 2470h0M2416 2468h0M2608 2467h0M2642 2470h0M2611 2467h0M2959 2470h0M3114 2469h0M2919 2468h0M3093 2468h0M3033 2467h0M3278 2468h0M3431 2469h0M3621 2468h0M3713 2467h0M3585 2469h0M3557 2469h0M3676 2467h0M3485 2470h0M3473 2467h0M3760 2470h0M3793 2470h0M3820 2470h0M3761 2468h0M4022 2468h0M4067 2470h0M3989 2466h0M3978 2467h0M3952 2469h0M4390 2470h0M4483 2468h0M4649 2468h0M4757 2467h0M5106 2466h0M5170 2468h0M5133 2469h0M4983 2469h0M5143 2467h0M5060 2470h0M5402 2468h0M5539 2469h0M5539 2467h0M5666 2469h0M6037 2468h0M5978 2468h0M5875 2468h0M5827 2467h0M6033 2470h0M6320 2468h0M6373 2470h0M6335 2468h0M6409 2467h0M6274 2469h0M6761 2469h0M6782 2468h0M6780 2470h0M6739 2467h0M6768 2470h0M7019 2469h0M7006 2468h0M7179 2469h0M7090 2468h0M7018 2467h0M7310 2467h0M7499 2468h0M7421 2470h0M7515 2467h0M7804 2469h0M7836 2469h0M7816 2470h0M7901 2467h0M8277 2468h0M8528 2468h0M8497 2467h0M8542 2468h0M8579 2469h0M8654 2466h0M8658 2469h0M8627 2466h0M8733 2469h0M8804 2466h0M9060 2466h0M9220 2468h0M9320 2469h0M9334 2470h0M9489 2469h0M9642 2470h0"/><path stroke="#be9595" d="M827 2590h0M1171 2589h0M1462 2588h0M1287 2589h0M1450 2588h0M1288 2588h0M1891 2588h0M1983 2590h0M1870 2589h0M2110 2590h0M2305 2589h0M2304 2590h0M3086 2588h0M2904 2588h0M2823 2588h0M2951 2591h0M3276 2591h0M3240 2588h0M3733 2590h0M3411 2590h0M3649 2589h0M3509 2588h0M3519 2588h0M3771 2590h0M3807 2590h0M3892 2587h0M3797 2587h0M4212 2588h0M4402 2588h0M4696 2590h0M4619 2589h0M4477 2589h0M4689 2589h0M4698 2589h0M4858 2590h0M4820 2588h0M5114 2590h0M4897 2587h0M5061 2587h0M5301 2590h0M5555 2588h0M5460 2590h0M5511 2588h0M5581 2588h0M5712 2590h0M5661 2589h0M5967 2591h0M5903 2591h0M6003 2589h0M6047 2589h0M6151 2590h0M6137 2589h0M6275 2591h0M6231 2588h0M6324 2589h0M6290 2588h0M6341 2589h0M6464 2589h0M6629 2590h0M7209 2590h0M7089 2589h0M7530 2588h0M7382 2589h0M7373 2590h0M7793 2588h0M7698 2590h0M7897 2590h0M7912 2590h0M7956 2587h0M7859 2587h0M8087 2589h0M8288 2590h0M8372 2587h0M8310 2590h0M8253 2589h0M8490 2590h0M8720 2588h0M8928 2587h0M8952 2590h0M9135 2587h0M9278 2590h0M9271 2587h0M9311 2588h0M9435 2587h0M9344 2590h0M9756 2591h0M9523 2588h0M9622 2589h0M9732 2588h0"/><path stroke="#9393bd" d="M548 2083h0M516 2084h0M843 2084h0M773 2081h0M1187 2081h0M1001 2084h0M1213 2082h0M1234 2083h0M1422 2083h0M1265 2084h0M1832 2083h0M2089 2082h0M2396 2081h0M2410 2081h0M2493 2081h0M2313 2082h0M3047 2084h0M3226 2080h0M3237 2084h0M3214 2082h0M3209 2083h0M4364 2083h0M4397 2083h0M4461 2081h0M4477 2082h0M4652 2082h0M4860 2082h0M4860 2082h0M4997 2083h0M5191 2084h0M5192 2082h0M5556 2084h0M5492 2084h0M5632 2083h0M5974 2083h0M5840 2081h0M5845 2084h0M5933 2081h0M6380 2083h0M6351 2082h0M6430 2083h0M7101 2083h0M7028 2082h0M7131 2082h0M6989 2084h0M7929 2083h0M7932 2082h0M8133 2081h0M8155 2084h0M8255 2084h0M8413 2083h0M8602 2080h0M8558 2081h0M8841 2081h0"/><path stroke="#be9494" d="M493 2592h0M1059 2591h0M1278 2591h0M2554 2592h0M3089 2591h0M2783 2592h0M3788 2593h0M4018 2592h0M4148 2592h0M4165 2592h0M4163 2592h0M4324 2593h0M4410 2592h0M4262 2593h0M4414 2591h0M4501 2593h0M4714 2592h0M4773 2592h0M4840 2593h0M5084 2591h0M5176 2593h0M5315 2592h0M5415 2592h0M5649 2592h0M5974 2592h0M5953 2592h0M6005 2592h0M5811 2593h0M6292 2593h0M6402 2592h0M6528 2592h0M6460 2593h0M6777 2591h0M6618 2591h0M6585 2591h0M6850 2592h0M7070 2592h0M7515 2592h0M7364 2592h0M7810 2591h0M7878 2591h0M8490 2591h0M8844 2591h0M9283 2592h0"/><path stroke="#9494be" d="M846 2087h0M1202 2087h0M1101 2088h0M1612 2087h0M2440 2086h0M2626 2088h0M2845 2088h0M3521 2087h0M3357 2088h0M3995 2087h0M4088 2087h0M4531 2087h0M5304 2088h0M5659 2088h0M5985 2087h0M6123 2087h0M6240 2087h0M6701 2087h0M6588 2088h0M7065 2086h0M7710 2088h0M7907 2087h0M8101 2087h0M8311 2087h0M8353 2088h0M8652 2088h0"/><path stroke="#bd9393" d="M851 2598h0M759 2596h0M1222 2598h0M976 2599h0M1093 2595h0M1483 2597h0M1395 2596h0M1784 2596h0M1720 2595h0M1733 2596h0M1744 2596h0M1555 2597h0M1792 2597h0M1875 2595h0M2183 2596h0M1999 2596h0M2002 2596h0M2469 2596h0M2353 2595h0M2497 2596h0M2616 2597h0M2917 2597h0M3165 2597h0M2941 2598h0M2945 2596h0M2789 2599h0M2833 2599h0M3210 2597h0M3394 2595h0M3729 2597h0M3596 2598h0M3437 2595h0M3466 2595h0M3673 2598h0M3539 2599h0M3789 2597h0M3861 2597h0M4006 2598h0M4404 2597h0M4419 2597h0M4575 2597h0M4464 2596h0M4518 2598h0M5013 2597h0M5081 2596h0M5225 2597h0M5277 2598h0M5276 2597h0M5241 2596h0M5625 2598h0M5640 2596h0M5773 2595h0M6337 2596h0M6328 2598h0M6496 2595h0M6824 2596h0M6730 2596h0M7132 2598h0M7027 2597h0M7394 2596h0M7419 2598h0M7760 2595h0M7622 2597h0M8164 2597h0M8178 2597h0M8166 2597h0M8326 2597h0M8283 2596h0M8653 2596h0M8718 2595h0M8813 2595h0M8948 2599h0M9284 2598h0M9232 2598h0M9256 2598h0M9293 2598h0M9321 2597h0M9388 2596h0M9338 2596h0M9668 2598h0M9508 2596h0M9655 2599h0"/><path stroke="#c8b4b4" d="M826 2466h0M1072 2465h0M1005 2464h0M1166 2465h0M1083 2464h0M1008 2465h0M1237 2464h0M1333 2464h0M1472 2465h0M1660 2466h0M1559 2464h0M1798 2465h0M1576 2465h0M2128 2466h0M2013 2465h0M2247 2465h0M2427 2464h0M3162 2465h0M2969 2466h0M3118 2464h0M3427 2464h0M3720 2465h0M3612 2464h0M3404 2463h0M3762 2464h0M3821 2465h0M4225 2465h0M3951 2464h0M4011 2465h0M4267 2464h0M4299 2466h0M4377 2465h0M4689 2466h0M4649 2463h0M4817 2463h0M4840 2465h0M4839 2465h0M4835 2466h0M4985 2466h0M5112 2464h0M5028 2466h0M5193 2465h0M5242 2465h0M5551 2465h0M5715 2465h0M5861 2466h0M6011 2465h0M6290 2464h0M6424 2466h0M6385 2463h0M6329 2465h0M6226 2466h0M6436 2466h0M6640 2464h0M6966 2465h0M7335 2464h0M7311 2464h0M7528 2464h0M7344 2464h0M7352 2464h0M7637 2466h0M7888 2466h0M7896 2466h0M8160 2464h0M8574 2466h0M8625 2465h0M8729 2463h0M8795 2465h0M8729 2464h0M8813 2464h0M8898 2465h0M9073 2464h0M9051 2464h0M9265 2464h0M9738 2466h0"/><path stroke="#b4b4c8" d="M977 2214h0M1797 2215h0M2141 2215h0M2040 2215h0M2162 2213h0M1999 2213h0M2456 2215h0M2460 2213h0M2385 2214h0M2852 2213h0M3093 2215h0M2812 2214h0M3138 2215h0M3007 2215h0M3424 2214h0M3553 2214h0M3600 2213h0M3353 2216h0M3732 2215h0M3799 2214h0M4147 2215h0M4245 2214h0M4034 2213h0M4029 2216h0M4190 2216h0M4279 2214h0M4398 2215h0M4275 2215h0M4350 2215h0M4507 2215h0M4655 2216h0M4788 2215h0M4939 2216h0M5170 2216h0M4930 2213h0M5016 2214h0M5220 2213h0M5417 2215h0M5455 2216h0M5588 2214h0M5418 2213h0M5637 2214h0M5693 2213h0M5708 2215h0M5714 2215h0M5785 2216h0M5868 2214h0M6016 2215h0M5814 2213h0M6401 2215h0M6246 2216h0M6349 2213h0M7167 2213h0M7786 2213h0M7693 2216h0M7632 2215h0M7617 2214h0M7895 2214h0M7911 2215h0M7959 2213h0M7883 2214h0M8068 2216h0M7975 2213h0M8166 2214h0M8364 2213h0M8370 2216h0M8278 2215h0M8594 2215h0M8667 2214h0M8712 2215h0M8787 2214h0M8752 2215h0M8723 2214h0M8743 2214h0M8832 2215h0M8915 2215h0M9292 2214h0"/><path stroke="#bc9191" d="M547 2607h0M985 2605h0M1505 2607h0M1259 2606h0M1373 2605h0M1840 2605h0M2006 2605h0M2475 2606h0M2420 2605h0M2426 2606h0M2396 2607h0M2717 2606h0M2703 2607h0M2703 2607h0M2998 2606h0M2873 2605h0M3436 2605h0M3405 2607h0M3535 2605h0M3405 2605h0M3480 2606h0M3498 2605h0M4254 2605h0M4035 2607h0M4183 2606h0M3939 2606h0M4044 2606h0M4386 2605h0M4336 2605h0M5146 2606h0M5606 2606h0M5657 2607h0M5821 2605h0M5880 2606h0M5854 2606h0M6432 2605h0M6542 2607h0M6855 2607h0M6667 2606h0M7611 2606h0M7809 2607h0M7727 2605h0M7912 2605h0M8602 2605h0M8626 2605h0M8639 2606h0M8733 2606h0M9119 2607h0M9023 2606h0M9400 2606h0"/><path stroke="#bd9292" d="M502 2602h0M804 2600h0M1140 2602h0M1109 2601h0M1295 2599h0M1321 2600h0M1295 2600h0M1368 2603h0M1292 2603h0M1596 2602h0M1655 2603h0M1765 2600h0M1729 2603h0M1865 2602h0M1635 2602h0M1775 2600h0M1809 2601h0M1985 2600h0M2117 2601h0M2231 2600h0M2080 2602h0M2190 2601h0M3008 2602h0M3019 2602h0M3221 2600h0M3279 2603h0M3235 2601h0M3381 2599h0M3576 2600h0M3489 2602h0M3700 2602h0M3593 2601h0M3839 2602h0M3903 2601h0M3982 2603h0M4061 2599h0M4076 2603h0M4408 2603h0M4318 2601h0M4452 2602h0M4696 2600h0M4647 2601h0M4533 2600h0M4541 2602h0M4600 2603h0M5193 2602h0M5057 2600h0M5069 2601h0M5477 2599h0M5562 2600h0M5535 2603h0M5662 2599h0M5824 2602h0M5891 2601h0M5764 2602h0M5781 2603h0M5855 2602h0M5769 2600h0M5794 2600h0M6148 2599h0M6154 2601h0M6486 2601h0M6524 2600h0M6682 2601h0M6738 2600h0M7272 2602h0M7714 2603h0M7726 2601h0M7739 2600h0M7844 2600h0M7624 2602h0M8134 2603h0M8333 2600h0M8334 2602h0M8282 2599h0M8302 2599h0M8357 2601h0M8384 2601h0M8522 2599h0M8987 2603h0M9020 2600h0M9279 2601h0M9628 2603h0"/><path stroke="#9191bc" d="M506 2074h0M694 2074h0M813 2073h0M1101 2074h0M1270 2073h0M1582 2074h0M1913 2074h0M1654 2074h0M1931 2074h0M1828 2074h0M1920 2074h0M2447 2073h0M2597 2073h0M2649 2073h0M2731 2074h0M2954 2074h0M2972 2074h0M3315 2073h0M3452 2074h0M3869 2073h0M4724 2073h0M4614 2072h0M4675 2074h0M5046 2074h0M5174 2073h0M5016 2073h0M5931 2074h0M6052 2073h0M6477 2074h0M6456 2074h0M6547 2073h0M8036 2074h0M8123 2074h0M8183 2074h0M8375 2074h0M8293 2074h0M8508 2073h0M8676 2074h0M8719 2074h0M8820 2074h0M8929 2073h0M9240 2074h0"/><path stroke="#9292bd" d="M580 2080h0M660 2077h0M716 2078h0M770 2077h0M989 2080h0M1010 2080h0M1229 2080h0M1049 2077h0M1441 2080h0M1391 2078h0M1372 2079h0M1675 2079h0M1649 2079h0M1915 2080h0M2017 2078h0M2073 2079h0M2466 2080h0M3046 2078h0M3134 2077h0M3081 2077h0M3124 2078h0M2865 2079h0M3285 2078h0M3573 2077h0M3402 2076h0M4014 2078h0M4257 2080h0M4291 2077h0M4373 2076h0M4325 2080h0M4544 2078h0M4700 2078h0M4645 2078h0M4478 2079h0M4816 2079h0M4965 2079h0M5123 2079h0M5617 2080h0M5896 2080h0M5936 2078h0M5820 2077h0M5832 2077h0M5910 2079h0M6153 2077h0M6177 2078h0M6150 2079h0M6422 2077h0M6406 2078h0M6364 2078h0M6409 2078h0M6406 2078h0M6851 2078h0M6705 2079h0M7348 2079h0M7274 2077h0M7515 2078h0M7617 2079h0M7683 2078h0M8032 2077h0M8032 2079h0M8016 2078h0M7983 2077h0M8188 2076h0M8189 2079h0M8174 2079h0M8346 2077h0M8345 2080h0M8303 2076h0M8501 2080h0M8629 2077h0M8662 2077h0M8773 2080h0M8737 2076h0M9024 2076h0M9224 2080h0"/><path stroke="#c9b4b4" d="M1077 2462h0M1162 2463h0M1205 2462h0M1302 2463h0M1506 2462h0M1845 2463h0M1906 2463h0M2519 2462h0M2704 2463h0M3849 2462h0M4127 2463h0M4351 2463h0M4308 2463h0M4715 2463h0M4519 2463h0M4744 2463h0M4485 2463h0M5123 2463h0M5167 2463h0M5208 2463h0M5463 2462h0M5564 2463h0M6070 2462h0M7284 2463h0M7276 2462h0M7657 2462h0M7611 2463h0M7738 2463h0M7886 2463h0M8114 2463h0M8321 2463h0M8360 2462h0M8710 2463h0M8766 2463h0M8941 2463h0M9273 2463h0"/><path stroke="#b4b4c9" d="M1030 2216h0M1729 2216h0M2065 2217h0M2367 2216h0M2389 2217h0M2852 2216h0M3041 2217h0M3314 2217h0M3558 2217h0M4258 2216h0M4167 2217h0M4229 2216h0M4153 2217h0M4291 2217h0M5158 2217h0M6718 2217h0M6696 2216h0M7397 2216h0M7859 2217h0M8032 2217h0M8778 2216h0M8870 2217h0M8904 2216h0M9248 2216h0M9303 2217h0"/><path stroke="#b5b5c9" d="M562 2221h0M719 2217h0M777 2219h0M842 2220h0M1090 2219h0M1234 2217h0M1471 2221h0M1303 2217h0M1486 2217h0M1889 2219h0M1969 2220h0M1599 2217h0M1805 2218h0M1743 2221h0M1629 2217h0M2105 2221h0M2158 2219h0M2024 2219h0M2322 2221h0M2445 2220h0M2397 2220h0M2696 2221h0M3096 2220h0M2911 2219h0M2909 2220h0M3524 2218h0M3594 2219h0M3643 2220h0M3567 2220h0M3589 2217h0M3401 2220h0M3531 2220h0M3813 2217h0M3902 2217h0M3846 2218h0M4133 2220h0M3981 2220h0M4523 2218h0M4742 2219h0M4858 2220h0M4786 2220h0M4817 2221h0M4999 2220h0M5123 2218h0M5144 2221h0M4995 2220h0M5047 2220h0M5587 2217h0M5564 2217h0M5555 2217h0M5581 2219h0M5620 2220h0M5432 2219h0M5658 2219h0M5640 2218h0M5638 2219h0M5958 2220h0M5842 2220h0M5776 2218h0M6075 2220h0M6049 2220h0M6048 2221h0M6330 2217h0M6275 2218h0M6285 2219h0M6319 2217h0M6478 2217h0M6525 2218h0M6464 2221h0M6766 2219h0M6770 2218h0M6731 2218h0M6686 2219h0M6648 2219h0M6590 2217h0M7026 2219h0M7503 2221h0M7345 2217h0M7512 2219h0M7296 2219h0M7509 2219h0M7505 2220h0M7849 2218h0M7884 2219h0M7962 2220h0M7933 2217h0M8051 2218h0M8067 2217h0M7979 2217h0M8258 2217h0M8604 2217h0M8648 2221h0M8670 2217h0M8621 2218h0M8755 2219h0M8720 2218h0M8753 2218h0M8850 2218h0M8892 2218h0M8928 2219h0M9093 2221h0M9283 2221h0M9282 2219h0M9307 2219h0"/><path stroke="#bc9090" d="M510 2609h0M742 2609h0M804 2609h0M1212 2610h0M947 2607h0M1040 2608h0M1136 2609h0M1155 2610h0M987 2610h0M1506 2610h0M1528 2608h0M1454 2609h0M1705 2607h0M1626 2611h0M1585 2609h0M1732 2607h0M1673 2607h0M2208 2610h0M2044 2608h0M2410 2611h0M2382 2608h0M2435 2609h0M2505 2607h0M3011 2609h0M2915 2608h0M2838 2610h0M2801 2609h0M2936 2609h0M2992 2611h0M3207 2610h0M3538 2611h0M3410 2608h0M3412 2609h0M3755 2609h0M3836 2611h0M4155 2608h0M4397 2608h0M4396 2607h0M4312 2610h0M4539 2607h0M4675 2608h0M4641 2609h0M4674 2608h0M4596 2610h0M5026 2609h0M5017 2610h0M4952 2608h0M5445 2609h0M5526 2609h0M5643 2610h0M5761 2608h0M5813 2608h0M6372 2608h0M6345 2610h0M6356 2609h0M6542 2611h0M6840 2607h0M6649 2607h0M6775 2608h0M6734 2611h0M6796 2609h0M7072 2610h0M6948 2609h0M7207 2610h0M7286 2610h0M7417 2611h0M7733 2610h0M7608 2608h0M7683 2611h0M7831 2611h0M7934 2610h0M7868 2609h0M8311 2608h0M8541 2607h0M8537 2609h0M8594 2610h0M8450 2609h0M8625 2610h0M8706 2609h0M8796 2610h0M8840 2608h0M8974 2609h0M8987 2608h0M8922 2609h0M9053 2608h0M9033 2611h0M9270 2607h0M9278 2610h0M9200 2611h0M9423 2610h0M9458 2610h0M9323 2610h0M9491 2609h0M9616 2610h0M9543 2608h0"/><path stroke="#9090bc" d="M620 2069h0M1170 2069h0M1179 2071h0M1178 2072h0M1082 2070h0M1431 2069h0M1484 2069h0M1947 2070h0M2053 2070h0M2108 2068h0M2509 2071h0M2485 2069h0M2694 2069h0M3011 2072h0M2936 2071h0M3509 2069h0M4256 2072h0M4070 2071h0M3998 2071h0M4347 2069h0M4310 2072h0M4635 2071h0M4667 2072h0M4765 2072h0M5185 2071h0M4926 2071h0M4900 2072h0M5171 2071h0M4961 2072h0M5274 2070h0M5295 2071h0M5218 2070h0M5559 2072h0M5567 2069h0M5605 2069h0M5642 2072h0M6036 2069h0M5886 2069h0M5980 2069h0M6164 2072h0M6166 2070h0M6063 2068h0M6216 2069h0M6433 2071h0M6435 2071h0M6486 2070h0M6728 2069h0M6859 2069h0M6837 2070h0M6944 2069h0M6922 2072h0M7193 2069h0M7093 2068h0M7030 2069h0M7401 2072h0M7472 2072h0M7452 2070h0M7535 2071h0M7673 2069h0M7801 2071h0M7933 2069h0M7891 2069h0M7916 2070h0M7862 2071h0M8105 2071h0M8132 2069h0M8386 2068h0M8668 2072h0M8653 2068h0M8771 2068h0M8846 2071h0M8844 2072h0M9113 2072h0M9245 2072h0"/><path stroke="#9191bd" d="M628 2076h0M1423 2076h0M2058 2075h0M2424 2075h0M2524 2075h0M3033 2075h0M3312 2076h0M3296 2075h0M3379 2076h0M3833 2076h0M3764 2075h0M3999 2076h0M4308 2075h0M4402 2075h0M4296 2075h0M4473 2075h0M4783 2076h0M5300 2075h0M5266 2075h0M5871 2075h0M5760 2075h0M6829 2075h0M7398 2076h0M7819 2076h0M7707 2076h0M7918 2076h0M8143 2075h0M8326 2075h0M9092 2076h0M9126 2076h0M9236 2076h0"/><path stroke="#c9b5b5" d="M812 2459h0M806 2459h0M1330 2459h0M1391 2460h0M1391 2462h0M1368 2460h0M1440 2458h0M1701 2461h0M1617 2462h0M2202 2459h0M2233 2462h0M2132 2459h0M2201 2461h0M2468 2460h0M2723 2459h0M2702 2460h0M2889 2460h0M2880 2460h0M3226 2461h0M3230 2459h0M3293 2459h0M3458 2461h0M3573 2459h0M3624 2460h0M3791 2459h0M4022 2459h0M4138 2461h0M4047 2461h0M4328 2459h0M4272 2459h0M4375 2462h0M4472 2460h0M4623 2461h0M4730 2459h0M4937 2459h0M5259 2462h0M5262 2460h0M5237 2458h0M5579 2461h0M5727 2458h0M5720 2459h0M5702 2459h0M5902 2462h0M5839 2461h0M5954 2461h0M5936 2459h0M6056 2461h0M6516 2459h0M6518 2460h0M6688 2459h0M6752 2460h0M7063 2459h0M6934 2459h0M7050 2458h0M7412 2458h0M7419 2460h0M7274 2458h0M7404 2460h0M7792 2461h0M7668 2460h0M7746 2460h0M7651 2459h0M7619 2459h0M7819 2460h0M7872 2461h0M8257 2462h0M8353 2461h0M8400 2459h0M8481 2459h0M8436 2461h0M8787 2462h0M8807 2459h0M8978 2461h0M9205 2461h0M9232 2462h0"/><path stroke="#bd9191" d="M1142 2603h0M1037 2603h0M1088 2604h0M1945 2604h0M1580 2603h0M1643 2604h0M2409 2604h0M2500 2604h0M2348 2604h0M2661 2604h0M3059 2605h0M3741 2603h0M3943 2605h0M4312 2603h0M4759 2603h0M5641 2604h0M6093 2604h0M6468 2603h0M7173 2603h0M7133 2604h0M7673 2604h0M7779 2603h0M8380 2603h0M8476 2603h0M8449 2604h0M9037 2604h0M9208 2603h0M9222 2604h0M9397 2603h0M9661 2604h0"/><path stroke="#bc8f8f" d="M535 2611h0M554 2614h0M512 2613h0M539 2612h0M1199 2613h0M1227 2614h0M1085 2614h0M1232 2613h0M1186 2614h0M1397 2611h0M1388 2611h0M1297 2613h0M1388 2615h0M1407 2613h0M1423 2611h0M1450 2614h0M1315 2612h0M1670 2612h0M1597 2612h0M1843 2614h0M1753 2613h0M2203 2614h0M2799 2614h0M3070 2614h0M2845 2614h0M3284 2615h0M3572 2613h0M3703 2611h0M3626 2612h0M3450 2613h0M3995 2612h0M3971 2615h0M3968 2613h0M4410 2615h0M4653 2612h0M4638 2614h0M4708 2614h0M4565 2612h0M4679 2611h0M4554 2615h0M4942 2611h0M4923 2613h0M4914 2614h0M5593 2612h0M5700 2611h0M5626 2613h0M5648 2615h0M5929 2612h0M5940 2611h0M6100 2614h0M6265 2612h0M6301 2614h0M6435 2614h0M6351 2614h0M6398 2614h0M6524 2613h0M6521 2611h0M6463 2613h0M6734 2611h0M6766 2612h0M6588 2614h0M7057 2612h0M7152 2613h0M7474 2614h0M7285 2611h0M7633 2612h0M7690 2614h0M7998 2613h0M8172 2614h0M8192 2611h0M8517 2613h0M8518 2614h0M8896 2614h0M9091 2614h0M9113 2612h0M9099 2611h0M9197 2613h0M9253 2612h0M9292 2611h0M9217 2615h0M9306 2614h0M9308 2614h0M9674 2611h0"/><path stroke="#b6b6c9" d="M546 2221h0M519 2225h0M812 2222h0M756 2224h0M767 2224h0M1133 2225h0M1099 2222h0M1057 2222h0M1335 2223h0M1506 2225h0M1846 2225h0M1733 2221h0M1886 2223h0M2211 2222h0M2530 2223h0M2580 2224h0M2389 2223h0M2451 2222h0M2574 2225h0M2422 2223h0M2730 2225h0M3007 2224h0M3086 2224h0M2922 2221h0M2787 2225h0M3026 2222h0M2839 2224h0M3512 2222h0M3543 2221h0M3426 2222h0M3728 2223h0M3666 2223h0M3780 2222h0M3800 2222h0M3953 2223h0M3984 2223h0M4150 2222h0M4487 2222h0M4722 2221h0M4693 2222h0M4501 2223h0M5026 2221h0M5019 2224h0M5227 2221h0M5423 2224h0M5593 2223h0M5622 2223h0M5620 2224h0M5632 2223h0M5885 2224h0M5935 2225h0M5884 2224h0M6169 2222h0M6146 2224h0M6120 2224h0M6052 2223h0M6237 2224h0M6343 2221h0M6426 2224h0M6263 2221h0M6230 2224h0M6545 2224h0M6632 2225h0M6585 2222h0M6856 2222h0M6733 2223h0M6974 2223h0M7444 2224h0M7423 2225h0M7539 2222h0M7460 2224h0M7681 2222h0M7754 2224h0M7831 2223h0M7636 2222h0M8016 2223h0M8138 2224h0M8536 2223h0M8591 2223h0M8762 2222h0M8786 2222h0M8799 2224h0M8797 2224h0M8842 2223h0M8986 2222h0M8926 2221h0M9096 2222h0M9105 2221h0M9056 2224h0"/><path stroke="#8e8ebb" d="M501 2061h0M793 2061h0M843 2061h0M1415 2061h0M1401 2061h0M1914 2062h0M1774 2062h0M2033 2062h0M2026 2061h0M2160 2061h0M2052 2061h0M2210 2061h0M2436 2062h0M2493 2062h0M2451 2062h0M2924 2062h0M3502 2061h0M4583 2061h0M4632 2061h0M4816 2060h0M5400 2062h0M5526 2062h0M5674 2062h0M6006 2061h0M5956 2062h0M5787 2062h0M6116 2061h0M6362 2062h0M7031 2061h0M7284 2063h0M7829 2061h0M8072 2062h0M8174 2061h0M8136 2062h0M8559 2062h0M8670 2063h0M8678 2062h0M8903 2061h0M9086 2061h0"/><path stroke="#8f8fbc" d="M650 2066h0M627 2066h0M601 2068h0M627 2068h0M760 2067h0M758 2065h0M737 2066h0M1154 2067h0M1157 2065h0M975 2066h0M1509 2064h0M1286 2065h0M1351 2066h0M1516 2067h0M1447 2065h0M1871 2065h0M1937 2067h0M2235 2068h0M2409 2067h0M2607 2067h0M3101 2068h0M3024 2067h0M3222 2068h0M3240 2068h0M3396 2068h0M3371 2067h0M3723 2068h0M3894 2066h0M3755 2067h0M3845 2068h0M4090 2066h0M4369 2066h0M4500 2068h0M4643 2068h0M4456 2067h0M4750 2064h0M4862 2067h0M5163 2065h0M4998 2067h0M5309 2065h0M5528 2064h0M5603 2066h0M5547 2065h0M5929 2067h0M5928 2068h0M5832 2067h0M6072 2065h0M6159 2066h0M6042 2068h0M6123 2068h0M6099 2068h0M6112 2066h0M6277 2067h0M6269 2067h0M6438 2067h0M6688 2067h0M6736 2065h0M7009 2066h0M7392 2067h0M7416 2067h0M7283 2064h0M8086 2068h0M8142 2065h0M8357 2067h0M8337 2067h0M8218 2065h0M8618 2065h0M8786 2067h0M8718 2066h0M8713 2067h0M8821 2067h0M8871 2067h0M8807 2065h0M8829 2068h0M8809 2067h0M8965 2066h0M9020 2066h0"/><path stroke="#c9b6b6" d="M1031 2455h0M1075 2454h0M1055 2454h0M1039 2457h0M1148 2457h0M1401 2455h0M1949 2457h0M2149 2456h0M2509 2457h0M2461 2456h0M2552 2455h0M2406 2455h0M3173 2457h0M2841 2455h0M3094 2454h0M2859 2456h0M3279 2457h0M3264 2458h0M3710 2457h0M3682 2456h0M3480 2458h0M3700 2456h0M3526 2458h0M3417 2455h0M3533 2456h0M3900 2457h0M3761 2456h0M3827 2454h0M3769 2456h0M4126 2457h0M4312 2457h0M4281 2455h0M4284 2458h0M4408 2458h0M4378 2455h0M4460 2458h0M4703 2457h0M4659 2458h0M4520 2455h0M4457 2458h0M4764 2457h0M5107 2455h0M5138 2457h0M5041 2458h0M5220 2455h0M5212 2458h0M5456 2455h0M5440 2455h0M5569 2457h0M5625 2458h0M5527 2455h0M5649 2455h0M5734 2455h0M5647 2455h0M5898 2455h0M5944 2457h0M5775 2458h0M6341 2455h0M6276 2456h0M6321 2458h0M6216 2457h0M6510 2455h0M6617 2456h0M7167 2457h0M6937 2455h0M7072 2455h0M7162 2455h0M7015 2458h0M7533 2456h0M7625 2454h0M7797 2456h0M7618 2456h0M7826 2458h0M7817 2458h0M7806 2456h0M7827 2457h0M7810 2456h0M7945 2457h0M8188 2457h0M8139 2454h0M8368 2457h0M8518 2454h0M8561 2458h0M8461 2454h0M9110 2456h0M9097 2455h0M9276 2456h0M9211 2455h0M9409 2455h0M9388 2455h0"/><path stroke="#bb8e8e" d="M1019 2617h0M960 2617h0M981 2618h0M1406 2618h0M1475 2619h0M1491 2618h0M1903 2618h0M1942 2617h0M1619 2618h0M2060 2617h0M2064 2617h0M3061 2618h0M2840 2617h0M2978 2617h0M2937 2618h0M3722 2619h0M3783 2617h0M4196 2618h0M4275 2618h0M4680 2618h0M4537 2619h0M5076 2619h0M5503 2618h0M5908 2618h0M6172 2619h0M6370 2619h0M6396 2617h0M6464 2619h0M6528 2619h0M6853 2617h0M7121 2618h0M7378 2618h0M7302 2617h0M7458 2618h0M7349 2616h0M7452 2617h0M7702 2617h0M8342 2619h0M8451 2618h0M8771 2618h0M8775 2617h0M8933 2617h0M9284 2619h0M9707 2619h0"/><path stroke="#b7b7c9" d="M536 2228h0M520 2226h0M662 2227h0M1100 2228h0M1041 2226h0M990 2226h0M1027 2226h0M1094 2226h0M1508 2227h0M1426 2226h0M1437 2226h0M1671 2225h0M2020 2227h0M2180 2228h0M2489 2225h0M2456 2227h0M2533 2227h0M2620 2226h0M3180 2227h0M2882 2226h0M2916 2225h0M3003 2226h0M3268 2227h0M3598 2226h0M3368 2226h0M3391 2227h0M3816 2226h0M4180 2228h0M4049 2226h0M4746 2227h0M4465 2227h0M4636 2227h0M4749 2226h0M5144 2227h0M5481 2225h0M5409 2227h0M6021 2227h0M5921 2225h0M5823 2227h0M5993 2227h0M6121 2227h0M6294 2227h0M6268 2226h0M6403 2226h0M6458 2226h0M6722 2227h0M7165 2226h0M7067 2225h0M7492 2226h0M7379 2227h0M7714 2226h0M7776 2226h0M7956 2228h0M7902 2227h0M8070 2226h0M8159 2227h0M8294 2225h0M8397 2226h0M8637 2227h0M8725 2227h0M8734 2225h0M8798 2226h0M8907 2227h0M8947 2226h0M8904 2227h0M9073 2227h0M9212 2227h0"/><path stroke="#8d8dbb" d="M500 2059h0M574 2060h0M759 2059h0M1005 2058h0M1247 2056h0M971 2058h0M1110 2058h0M1004 2059h0M1221 2058h0M1123 2057h0M944 2056h0M1204 2057h0M1339 2057h0M1374 2059h0M1899 2058h0M1701 2056h0M1940 2058h0M1705 2060h0M2242 2059h0M2088 2060h0M2382 2059h0M3091 2057h0M2847 2060h0M3055 2058h0M2929 2057h0M3524 2059h0M3639 2060h0M3392 2060h0M3833 2056h0M3894 2060h0M4241 2058h0M4062 2057h0M4381 2057h0M4399 2058h0M4319 2058h0M4370 2057h0M4311 2059h0M4631 2058h0M4844 2058h0M4952 2059h0M4914 2059h0M5286 2058h0M5448 2058h0M5563 2057h0M5470 2059h0M5694 2056h0M5701 2058h0M5663 2057h0M5867 2057h0M6134 2057h0M6123 2059h0M6297 2057h0M6397 2056h0M6538 2060h0M6509 2059h0M6655 2057h0M6988 2058h0M7480 2060h0M7334 2058h0M7503 2057h0M7464 2060h0M7884 2057h0M7947 2057h0M8074 2056h0M8180 2058h0M8325 2058h0M8326 2058h0M8282 2059h0M8318 2060h0M8224 2059h0M8264 2057h0M8382 2057h0M8754 2059h0M8765 2056h0M8768 2058h0M8818 2058h0M8798 2059h0M8955 2056h0M8973 2058h0"/><path stroke="#bb8d8d" d="M566 2620h0M783 2621h0M1118 2619h0M1079 2620h0M1183 2622h0M1426 2620h0M1293 2621h0M1509 2622h0M1333 2621h0M1513 2621h0M1898 2620h0M1976 2622h0M2071 2620h0M2086 2621h0M2153 2623h0M2140 2622h0M2051 2622h0M2573 2620h0M2553 2620h0M2350 2622h0M2790 2620h0M3123 2623h0M3062 2619h0M3300 2621h0M3557 2620h0M3385 2622h0M4024 2620h0M4010 2621h0M3967 2619h0M3979 2619h0M4466 2621h0M4610 2623h0M4864 2622h0M5134 2620h0M5226 2623h0M5214 2622h0M5607 2619h0M5445 2619h0M5707 2623h0M5890 2622h0M5905 2621h0M5901 2619h0M6013 2622h0M5776 2623h0M6182 2621h0M6078 2620h0M6225 2619h0M6526 2622h0M7183 2623h0M6921 2620h0M7104 2623h0M7490 2619h0M7416 2621h0M7489 2620h0M7309 2620h0M7404 2621h0M7376 2621h0M7957 2619h0M8344 2621h0M8498 2620h0M8515 2621h0M8769 2621h0M8710 2620h0M9213 2621h0M9233 2622h0M9258 2620h0M9341 2621h0M9539 2622h0M9602 2623h0M9767 2621h0"/><path stroke="#8e8ebc" d="M623 2063h0M1129 2063h0M1121 2064h0M1252 2064h0M1960 2063h0M1935 2064h0M2165 2063h0M2568 2064h0M2356 2064h0M2386 2063h0M3074 2064h0M2976 2063h0M3216 2063h0M3648 2064h0M3746 2064h0M4230 2064h0M6159 2064h0M6763 2064h0M6958 2063h0M7615 2064h0M7621 2063h0M8023 2064h0M8181 2064h0M8531 2063h0M8971 2064h0M9569 2063h0"/><path stroke="#c9b7b7" d="M816 2453h0M796 2453h0M778 2453h0M1208 2454h0M1200 2453h0M1522 2452h0M1494 2452h0M1491 2454h0M1978 2454h0M1866 2454h0M1936 2453h0M1638 2452h0M1925 2452h0M2064 2453h0M2104 2454h0M2182 2454h0M2625 2452h0M3146 2453h0M3247 2453h0M3665 2453h0M3630 2453h0M3686 2452h0M3870 2452h0M3884 2452h0M4043 2454h0M4198 2452h0M4100 2453h0M4121 2453h0M4387 2452h0M4486 2454h0M4801 2454h0M4992 2453h0M5230 2453h0M5597 2453h0M5563 2453h0M5514 2454h0M5415 2452h0M5553 2453h0M5705 2452h0M5839 2453h0M5913 2454h0M5978 2454h0M5834 2454h0M5918 2452h0M5902 2453h0M6103 2453h0M6184 2452h0M6171 2454h0M6495 2453h0M6703 2453h0M6581 2454h0M6765 2452h0M6728 2454h0M6675 2452h0M7309 2452h0M7378 2453h0M7362 2453h0M7371 2452h0M7307 2454h0M7699 2452h0M7944 2454h0M8170 2454h0M8306 2454h0M8302 2452h0M8243 2453h0M8462 2452h0M8806 2453h0M8839 2453h0M9193 2452h0M9193 2453h0"/><path stroke="#bc8e8e" d="M737 2616h0M840 2616h0M1053 2616h0M946 2616h0M1270 2616h0M2020 2615h0M2711 2616h0M2651 2616h0M2619 2616h0M4010 2616h0M4344 2616h0M4396 2616h0M5085 2616h0M5504 2616h0M5635 2616h0M5975 2615h0M6085 2615h0M6523 2616h0M8371 2615h0M8631 2616h0M8902 2615h0M9040 2615h0M9267 2615h0"/><path stroke="#8b8bba" d="M553 2051h0M784 2050h0M740 2050h0M1200 2050h0M1132 2048h0M1358 2050h0M1713 2049h0M1609 2050h0M1744 2049h0M2153 2048h0M2169 2051h0M2238 2049h0M2170 2049h0M2383 2050h0M2610 2050h0M3245 2050h0M4202 2049h0M3951 2049h0M4578 2050h0M4635 2050h0M4774 2050h0M4843 2049h0M5210 2050h0M5988 2048h0M6036 2049h0M5847 2049h0M6131 2049h0M7525 2050h0M7332 2051h0M7697 2049h0M8010 2050h0M8122 2049h0M8236 2049h0M8274 2050h0M8364 2049h0M8445 2050h0M8855 2049h0M9235 2049h0"/><path stroke="#ba8b8b" d="M554 2630h0M745 2630h0M1047 2629h0M1042 2628h0M1186 2629h0M1011 2631h0M1229 2629h0M1076 2629h0M1360 2629h0M1397 2629h0M1894 2631h0M1975 2631h0M2215 2630h0M2103 2631h0M2333 2628h0M2588 2630h0M2504 2629h0M2712 2628h0M2989 2629h0M2823 2631h0M3175 2629h0M2936 2629h0M3065 2629h0M2962 2628h0M3194 2629h0M3301 2629h0M3251 2628h0M3719 2630h0M3400 2630h0M3766 2629h0M3827 2629h0M3738 2630h0M4012 2629h0M4175 2629h0M4300 2629h0M4382 2630h0M4744 2631h0M5423 2630h0M5595 2629h0M5804 2629h0M5926 2630h0M6216 2630h0M6275 2630h0M6364 2630h0M6500 2629h0M6746 2629h0M7096 2628h0M7083 2631h0M6995 2630h0M7101 2629h0M7332 2630h0M7490 2628h0M7877 2629h0M7857 2629h0M7916 2629h0M8305 2631h0M8238 2630h0M8313 2629h0M8505 2629h0M8744 2628h0M9214 2630h0M9413 2630h0M9461 2629h0M9527 2629h0"/><path stroke="#8c8cbb" d="M619 2055h0M588 2053h0M690 2054h0M755 2054h0M738 2055h0M759 2055h0M1105 2053h0M1390 2056h0M1620 2055h0M1730 2053h0M1721 2053h0M1765 2054h0M1907 2054h0M2108 2054h0M2048 2054h0M2178 2054h0M2939 2055h0M3125 2054h0M3091 2056h0M3242 2053h0M3389 2055h0M3561 2053h0M3681 2054h0M3768 2053h0M3964 2054h0M4135 2053h0M3943 2053h0M4397 2053h0M4739 2056h0M4557 2055h0M4629 2053h0M4457 2056h0M5316 2055h0M5268 2056h0M5231 2055h0M5472 2055h0M5564 2054h0M5685 2055h0M5894 2056h0M5769 2053h0M5873 2053h0M5828 2052h0M6144 2056h0M6423 2052h0M6219 2054h0M6354 2055h0M6495 2053h0M6631 2053h0M7155 2055h0M7034 2054h0M7300 2053h0M7449 2054h0M7838 2053h0M7713 2053h0M7747 2054h0M7743 2053h0M7688 2055h0M7922 2055h0M8056 2055h0M8043 2054h0M8288 2055h0M8260 2055h0M8368 2054h0M8611 2056h0M8779 2054h0M8705 2056h0M8764 2054h0M8717 2055h0M8866 2052h0M8828 2054h0M8943 2054h0M8972 2056h0M9133 2056h0M9230 2056h0M9273 2054h0"/><path stroke="#cab7b7" d="M819 2450h0M765 2451h0M1193 2451h0M1228 2451h0M1219 2450h0M1374 2451h0M1429 2451h0M2140 2451h0M2974 2450h0M3105 2451h0M3264 2451h0M3247 2451h0M3738 2450h0M3430 2450h0M3830 2451h0M3793 2450h0M4040 2451h0M4172 2450h0M4528 2451h0M5213 2451h0M5243 2450h0M5418 2450h0M5885 2451h0M6096 2450h0M7060 2451h0M7505 2451h0M7509 2451h0M7481 2451h0M8279 2451h0M8283 2451h0M8489 2451h0M8685 2451h0M8636 2450h0M8946 2451h0M8934 2451h0"/><path stroke="#bb8c8c" d="M800 2626h0M749 2626h0M957 2624h0M1111 2626h0M1183 2626h0M1426 2626h0M1282 2625h0M1650 2623h0M1980 2627h0M1894 2623h0M1589 2626h0M1931 2625h0M1857 2623h0M1881 2625h0M1983 2624h0M1648 2624h0M2141 2625h0M2187 2624h0M2555 2626h0M2469 2624h0M2608 2625h0M2796 2624h0M3172 2623h0M2950 2625h0M3107 2627h0M3157 2624h0M3163 2623h0M2951 2626h0M3254 2624h0M3295 2624h0M3535 2623h0M3420 2626h0M3575 2625h0M3519 2625h0M3347 2624h0M4188 2626h0M4258 2624h0M4196 2626h0M4001 2624h0M3987 2625h0M4111 2625h0M4000 2625h0M4349 2626h0M4288 2626h0M4575 2623h0M4490 2626h0M4835 2624h0M5175 2627h0M5215 2625h0M5605 2624h0M5628 2624h0M5633 2624h0M5987 2627h0M6155 2625h0M6439 2625h0M6477 2626h0M6504 2626h0M6779 2623h0M6785 2626h0M7086 2626h0M6951 2626h0M6999 2626h0M7389 2626h0M7491 2623h0M7416 2625h0M7425 2627h0M7709 2624h0M7780 2624h0M7623 2624h0M7754 2624h0M7955 2624h0M7938 2626h0M8333 2625h0M8402 2625h0M8398 2624h0M8776 2626h0M8757 2625h0M8713 2625h0M8828 2627h0M8809 2623h0M8975 2624h0M8938 2625h0M8920 2625h0M8986 2626h0M9231 2626h0M9227 2626h0M9250 2624h0M9449 2623h0M9423 2625h0M9400 2626h0"/><path stroke="#b7b7ca" d="M1163 2229h0M1415 2229h0M1339 2228h0M1800 2229h0M2199 2228h0M2495 2229h0M2388 2228h0M2522 2228h0M2797 2228h0M3474 2228h0M3645 2228h0M3366 2229h0M3810 2229h0M4203 2228h0M4051 2229h0M4066 2229h0M4246 2229h0M4641 2228h0M4828 2229h0M4763 2228h0M5284 2228h0M5423 2228h0M6033 2228h0M6654 2229h0M6645 2229h0M7055 2229h0M7417 2228h0M7518 2229h0M7440 2229h0M8161 2228h0M8139 2229h0M8599 2229h0M8499 2228h0M8893 2229h0M8955 2228h0M9057 2228h0"/><path stroke="#8a8aba" d="M510 2045h0M722 2047h0M584 2044h0M765 2046h0M802 2047h0M789 2044h0M960 2047h0M1087 2046h0M1431 2048h0M1299 2045h0M1331 2047h0M1516 2046h0M2489 2045h0M2587 2047h0M2310 2046h0M2646 2047h0M3046 2048h0M2802 2046h0M3487 2048h0M4173 2045h0M4015 2047h0M4741 2046h0M4734 2046h0M4827 2047h0M4813 2047h0M5284 2045h0M5444 2045h0M5460 2045h0M5521 2046h0M5628 2045h0M5914 2047h0M5915 2048h0M5810 2046h0M6099 2047h0M6378 2046h0M6532 2047h0M6502 2047h0M6478 2045h0M6926 2048h0M6942 2046h0M7625 2044h0M7797 2046h0M7647 2046h0M7923 2047h0M7871 2045h0M8021 2046h0M8056 2046h0M8006 2044h0M8084 2045h0M8107 2047h0M8153 2047h0M8374 2045h0M8582 2046h0M8819 2047h0M8812 2045h0M8962 2047h0M9125 2046h0"/><path stroke="#cab8b8" d="M501 2450h0M500 2447h0M564 2448h0M782 2450h0M816 2446h0M1123 2449h0M1009 2447h0M1234 2449h0M963 2448h0M1024 2447h0M1141 2448h0M1481 2448h0M1460 2449h0M1283 2448h0M1402 2450h0M1711 2449h0M1743 2447h0M1706 2448h0M1651 2450h0M1841 2448h0M2097 2449h0M2328 2448h0M2552 2447h0M2565 2448h0M2547 2450h0M2377 2446h0M2359 2449h0M3136 2449h0M2817 2449h0M2881 2447h0M3299 2448h0M3278 2447h0M3705 2446h0M3462 2450h0M3520 2446h0M3665 2449h0M3831 2447h0M4015 2447h0M4025 2446h0M4377 2447h0M4277 2447h0M4394 2447h0M4369 2449h0M4390 2449h0M4426 2449h0M4394 2446h0M4473 2447h0M4732 2447h0M4486 2446h0M4621 2449h0M4492 2448h0M4496 2448h0M4524 2450h0M4770 2447h0M4846 2450h0M5159 2447h0M4969 2448h0M5171 2449h0M5010 2450h0M5277 2447h0M5430 2448h0M5432 2447h0M5732 2450h0M5681 2448h0M5862 2449h0M5766 2447h0M5947 2449h0M5785 2448h0M6038 2448h0M5955 2449h0M5804 2450h0M5968 2450h0M5860 2448h0M5934 2447h0M6155 2448h0M6339 2449h0M6403 2450h0M6432 2448h0M6358 2448h0M6292 2446h0M6427 2448h0M6260 2450h0M6510 2448h0M6490 2447h0M6719 2449h0M6829 2449h0M6837 2449h0M6631 2449h0M6700 2446h0M6636 2449h0M6814 2448h0M6660 2448h0M7000 2447h0M7190 2450h0M7040 2448h0M7300 2450h0M7664 2447h0M7634 2449h0M7774 2447h0M7619 2450h0M7771 2449h0M7776 2447h0M8067 2447h0M8257 2448h0M8251 2448h0M8401 2450h0M8378 2446h0M8771 2450h0M8856 2449h0M8954 2449h0M9026 2447h0M9082 2448h0M9217 2448h0M9283 2450h0M9210 2450h0M9430 2449h0M9764 2449h0"/><path stroke="#b8b8ca" d="M562 2232h0M683 2231h0M1159 2231h0M1336 2232h0M1255 2230h0M1502 2231h0M1339 2230h0M1442 2230h0M1798 2229h0M1676 2231h0M1969 2232h0M1816 2231h0M1762 2232h0M2187 2231h0M2237 2230h0M2337 2232h0M2609 2233h0M2988 2232h0M3176 2232h0M3229 2231h0M3563 2231h0M3467 2230h0M3726 2232h0M4183 2230h0M4375 2232h0M4609 2230h0M4569 2231h0M4577 2232h0M4949 2230h0M5242 2232h0M5237 2229h0M5479 2232h0M5704 2232h0M5675 2231h0M5658 2233h0M5626 2232h0M5823 2230h0M6013 2232h0M6098 2231h0M6041 2229h0M6236 2232h0M6359 2231h0M6213 2232h0M6278 2233h0M6531 2232h0M6792 2230h0M6733 2229h0M7038 2231h0M7324 2233h0M7535 2230h0M7424 2233h0M7820 2229h0M7743 2230h0M7960 2232h0M8066 2232h0M8533 2231h0M8605 2230h0M8686 2229h0M8642 2233h0M8732 2231h0M8789 2232h0M8718 2229h0M8783 2231h0M8720 2230h0M8834 2230h0M8809 2233h0M9191 2229h0"/><path stroke="#ba8a8a" d="M779 2632h0M846 2635h0M980 2632h0M998 2632h0M1047 2633h0M962 2633h0M1350 2634h0M1288 2633h0M1996 2634h0M1697 2635h0M1896 2633h0M2040 2633h0M2123 2635h0M2110 2634h0M2177 2633h0M2681 2634h0M2807 2633h0M2999 2635h0M3251 2633h0M3309 2631h0M3468 2635h0M3598 2633h0M3523 2633h0M3451 2634h0M3624 2632h0M3987 2635h0M4039 2633h0M4130 2634h0M3940 2634h0M3946 2631h0M3988 2634h0M3936 2631h0M4276 2635h0M4365 2632h0M4384 2631h0M4414 2633h0M4667 2632h0M4844 2631h0M5123 2635h0M5006 2635h0M5235 2631h0M5307 2632h0M5409 2633h0M5500 2633h0M5979 2633h0M5771 2631h0M6146 2634h0M6419 2633h0M6403 2634h0M6293 2631h0M6265 2633h0M6432 2633h0M6468 2634h0M6646 2633h0M6715 2633h0M6718 2634h0M6806 2634h0M6736 2631h0M6919 2633h0M7172 2634h0M7680 2632h0M7678 2633h0M7918 2633h0M8714 2634h0M8942 2634h0M8905 2634h0M9130 2631h0M9243 2631h0M9320 2635h0M9656 2632h0"/><path stroke="#8b8bbb" d="M1211 2052h0M1028 2051h0M987 2052h0M1460 2051h0M1382 2051h0M1756 2052h0M2965 2052h0M4091 2052h0M4463 2051h0M4591 2052h0M4860 2051h0M5074 2051h0M5933 2052h0M6785 2051h0M7095 2052h0M7031 2052h0M8013 2052h0M8013 2051h0M8251 2052h0M8898 2051h0"/><path stroke="#bb8b8b" d="M1088 2627h0M1380 2628h0M1528 2627h0M1571 2627h0M2963 2628h0M3275 2628h0M3433 2627h0M5061 2627h0M5580 2628h0M5504 2628h0M5707 2628h0M5770 2627h0M5944 2627h0M6654 2627h0M6953 2627h0M7132 2628h0M7486 2627h0M8506 2628h0M8689 2628h0M8958 2627h0M9108 2628h0M9264 2628h0M9445 2628h0M9661 2627h0"/><path stroke="#8989ba" d="M561 2041h0M541 2043h0M687 2044h0M592 2043h0M764 2044h0M1004 2042h0M1077 2042h0M1470 2041h0M1426 2042h0M1610 2044h0M1641 2044h0M1965 2041h0M2079 2040h0M2128 2042h0M2473 2041h0M2538 2043h0M2651 2042h0M2792 2043h0M3514 2044h0M3548 2042h0M3547 2043h0M3666 2042h0M3553 2041h0M3369 2043h0M3769 2043h0M4045 2041h0M4234 2041h0M4337 2042h0M4378 2042h0M4618 2042h0M4562 2043h0M4573 2043h0M4735 2043h0M4507 2042h0M4672 2040h0M4831 2043h0M4824 2040h0M5115 2042h0M4959 2041h0M5006 2041h0M5402 2043h0M5520 2042h0M5556 2042h0M5633 2041h0M5999 2041h0M5948 2043h0M5984 2041h0M6162 2040h0M6417 2042h0M6273 2042h0M6333 2041h0M6331 2041h0M6484 2043h0M6469 2041h0M6609 2042h0M6681 2041h0M7109 2040h0M7467 2044h0M7400 2043h0M7496 2040h0M7836 2042h0M7773 2042h0M7868 2042h0M7915 2044h0M7855 2041h0M8048 2043h0M8069 2041h0M8152 2044h0M8318 2042h0M8355 2041h0M8256 2041h0M8213 2040h0M8312 2044h0M8513 2042h0M8629 2042h0M8798 2042h0M8976 2041h0M8910 2040h0M8946 2042h0M8920 2044h0M9101 2041h0M9213 2041h0"/><path stroke="#b9b9ca" d="M547 2233h0M495 2235h0M596 2233h0M983 2236h0M1037 2236h0M1160 2235h0M1076 2237h0M1212 2236h0M1058 2237h0M980 2237h0M1404 2237h0M1392 2237h0M1352 2236h0M1273 2235h0M1296 2235h0M1602 2235h0M1697 2236h0M2115 2235h0M2154 2234h0M2011 2237h0M2515 2234h0M2339 2236h0M2399 2235h0M2815 2236h0M3243 2235h0M3287 2235h0M3408 2235h0M3690 2237h0M3471 2237h0M3900 2234h0M3828 2236h0M4126 2235h0M4217 2236h0M4195 2236h0M4041 2236h0M4263 2235h0M4654 2237h0M4670 2236h0M4610 2237h0M4686 2233h0M4851 2237h0M5164 2236h0M5063 2236h0M5040 2234h0M5166 2234h0M5233 2234h0M5483 2234h0M5690 2236h0M5788 2236h0M5788 2236h0M6064 2234h0M6102 2233h0M6172 2235h0M6051 2234h0M6149 2234h0M6423 2234h0M6223 2235h0M6310 2236h0M6513 2234h0M6456 2236h0M6517 2236h0M6784 2236h0M6603 2237h0M6655 2237h0M6592 2235h0M7357 2235h0M7310 2235h0M7678 2235h0M7712 2236h0M7829 2237h0M7883 2235h0M7862 2235h0M7917 2234h0M7957 2237h0M8166 2236h0M8189 2233h0M8130 2234h0M8174 2237h0M8361 2236h0M8352 2233h0M8260 2234h0M8272 2236h0M8574 2234h0M8475 2235h0M8674 2237h0M8783 2237h0M8819 2235h0M8846 2234h0M8950 2236h0M9083 2234h0M9212 2233h0"/><path stroke="#ba8989" d="M561 2636h0M996 2638h0M1145 2635h0M947 2636h0M1522 2636h0M1405 2637h0M1377 2637h0M1391 2638h0M1354 2635h0M1470 2639h0M1279 2635h0M1960 2638h0M1756 2637h0M1970 2638h0M1646 2639h0M1858 2636h0M2220 2638h0M2442 2636h0M2394 2639h0M2398 2639h0M3046 2636h0M3026 2636h0M2908 2636h0M3597 2639h0M3416 2639h0M3473 2636h0M3638 2636h0M3642 2639h0M3604 2637h0M3885 2638h0M4040 2639h0M3979 2637h0M3947 2639h0M3981 2638h0M4627 2638h0M4708 2637h0M4867 2637h0M5135 2635h0M5500 2639h0M5541 2639h0M5498 2635h0M5732 2638h0M5664 2636h0M5702 2638h0M5630 2635h0M5942 2636h0M5963 2639h0M5924 2636h0M5956 2639h0M6102 2635h0M6059 2639h0M6117 2637h0M6048 2638h0M6415 2638h0M6324 2637h0M6243 2636h0M6424 2637h0M6375 2636h0M6667 2637h0M7074 2636h0M7203 2636h0M7171 2637h0M7469 2637h0M7682 2638h0M7918 2638h0M7910 2637h0M7870 2636h0M8303 2639h0M8275 2636h0M8336 2636h0M8738 2638h0M8816 2639h0M8933 2637h0M9261 2637h0M9265 2639h0M9450 2639h0M9388 2636h0M9299 2638h0M9747 2638h0M9766 2636h0M9679 2638h0"/><path stroke="#8888b9" d="M578 2037h0M718 2038h0M1033 2038h0M960 2038h0M1441 2039h0M1966 2036h0M1785 2038h0M1656 2039h0M2006 2038h0M2352 2038h0M2375 2036h0M2672 2039h0M2891 2036h0M3276 2037h0M3443 2038h0M4284 2038h0M4720 2039h0M4514 2038h0M4625 2038h0M4808 2038h0M5145 2036h0M5637 2039h0M6039 2036h0M5790 2037h0M6004 2038h0M5977 2036h0M5944 2039h0M6160 2037h0M6335 2037h0M6637 2038h0M6844 2037h0M6686 2037h0M7010 2037h0M7182 2037h0M7199 2037h0M7120 2037h0M7473 2037h0M7335 2037h0M7510 2038h0M7475 2038h0M7803 2038h0M7770 2036h0M7914 2036h0M8000 2038h0M8047 2037h0M8109 2038h0M8026 2037h0M8481 2039h0M8648 2036h0M8664 2039h0M8865 2036h0M8945 2038h0M8903 2038h0M9066 2038h0M9062 2038h0M9278 2037h0M9231 2038h0"/><path stroke="#cab9b9" d="M811 2443h0M946 2442h0M1051 2446h0M1065 2442h0M1026 2446h0M1298 2442h0M1524 2445h0M1410 2443h0M1519 2443h0M1470 2446h0M1266 2445h0M1857 2443h0M1653 2446h0M1691 2445h0M1651 2445h0M1605 2444h0M1556 2443h0M1712 2444h0M1841 2444h0M1988 2445h0M1678 2444h0M1597 2444h0M2020 2446h0M2095 2445h0M2400 2445h0M2307 2445h0M2631 2444h0M2730 2443h0M3017 2446h0M2947 2444h0M2964 2443h0M3073 2445h0M2978 2443h0M2996 2445h0M3125 2446h0M3089 2443h0M2881 2443h0M3234 2444h0M3590 2446h0M3604 2446h0M3680 2444h0M3727 2445h0M3575 2446h0M3641 2444h0M3630 2444h0M3880 2444h0M3820 2446h0M3765 2443h0M4163 2446h0M4002 2445h0M4024 2444h0M4203 2443h0M3988 2445h0M4031 2442h0M4020 2446h0M3987 2443h0M4032 2446h0M4346 2445h0M4709 2444h0M4688 2445h0M4515 2443h0M4758 2445h0M4749 2445h0M5032 2446h0M5227 2444h0M5304 2444h0M5478 2443h0M5490 2443h0M5571 2443h0M5645 2445h0M5689 2444h0M6025 2445h0M5959 2446h0M6092 2443h0M6185 2443h0M6404 2444h0M6360 2443h0M6395 2442h0M6461 2442h0M6686 2444h0M6687 2443h0M6778 2446h0M6785 2446h0M6704 2444h0M6794 2443h0M7201 2443h0M7140 2443h0M7044 2444h0M6986 2443h0M7512 2444h0M7346 2445h0M7420 2445h0M7677 2443h0M7755 2443h0M7664 2444h0M7720 2446h0M7643 2445h0M7836 2444h0M7955 2444h0M7940 2445h0M8215 2442h0M8380 2443h0M8517 2443h0M8582 2443h0M8736 2443h0M8776 2444h0M8869 2446h0M8977 2444h0M8941 2446h0M9048 2442h0M9182 2445h0M9274 2444h0M9737 2445h0"/><path stroke="#b98888" d="M1083 2642h0M1225 2641h0M1225 2642h0M1022 2641h0M1529 2642h0M1360 2640h0M1813 2641h0M1699 2640h0M1580 2641h0M1768 2642h0M2104 2643h0M2646 2641h0M2967 2643h0M3012 2641h0M3284 2642h0M3663 2640h0M3632 2640h0M3678 2643h0M3789 2642h0M3951 2641h0M4275 2642h0M4339 2642h0M4702 2641h0M5173 2642h0M4967 2642h0M5531 2642h0M5714 2643h0M5651 2640h0M5936 2641h0M6107 2642h0M6091 2641h0M6400 2642h0M6310 2640h0M6614 2641h0M7061 2640h0M7055 2641h0M6997 2641h0M6927 2642h0M7465 2641h0M7376 2642h0M7843 2640h0M7643 2641h0M7924 2642h0M7933 2642h0M8278 2643h0M8407 2643h0M8819 2642h0M8906 2643h0M8960 2642h0M9095 2641h0M9363 2643h0M9708 2640h0"/><path stroke="#cababa" d="M561 2441h0M1011 2441h0M1149 2441h0M1168 2442h0M1203 2442h0M1385 2440h0M1404 2441h0M1439 2441h0M1395 2441h0M1623 2442h0M1654 2441h0M2113 2440h0M2594 2441h0M3093 2440h0M2800 2442h0M3691 2440h0M3788 2440h0M4211 2441h0M4168 2440h0M4070 2442h0M4114 2440h0M4155 2442h0M4012 2441h0M4643 2441h0M4529 2440h0M4716 2440h0M4646 2442h0M4847 2440h0M5009 2442h0M4907 2440h0M5277 2442h0M5525 2440h0M5516 2441h0M5628 2440h0M5662 2442h0M5846 2441h0M5856 2442h0M6062 2441h0M6182 2442h0M6058 2440h0M6343 2441h0M6354 2440h0M6428 2442h0M6423 2441h0M6326 2441h0M6480 2441h0M6637 2440h0M6703 2440h0M6718 2441h0M6624 2441h0M6662 2441h0M7066 2442h0M7167 2442h0M7327 2441h0M7407 2441h0M7281 2441h0M7599 2440h0M7812 2441h0M7640 2441h0M7885 2441h0M8165 2442h0M8239 2440h0M8342 2440h0M8309 2442h0M8348 2442h0M8579 2442h0M8600 2441h0M8755 2442h0M8733 2442h0M9115 2441h0M9672 2442h0M9496 2441h0"/><path stroke="#babaca" d="M510 2239h0M534 2238h0M1207 2238h0M1383 2238h0M1989 2238h0M1703 2238h0M2167 2239h0M2017 2239h0M2080 2238h0M2387 2238h0M2702 2239h0M2732 2239h0M3181 2239h0M3062 2238h0M3375 2239h0M3409 2238h0M3863 2239h0M4243 2238h0M4010 2239h0M4730 2238h0M4741 2238h0M5265 2239h0M5535 2237h0M5495 2238h0M5576 2238h0M5913 2238h0M5938 2239h0M6061 2238h0M6373 2238h0M6237 2238h0M6447 2238h0M6437 2238h0M6616 2239h0M7339 2238h0M7309 2238h0M7319 2238h0M7440 2238h0M7494 2237h0M7672 2239h0M7881 2238h0M7939 2237h0M7877 2238h0M7917 2238h0M8283 2239h0M8359 2237h0M8783 2239h0M8834 2237h0M9025 2238h0M9537 2238h0"/><path stroke="#8787b9" d="M714 2036h0M587 2033h0M575 2035h0M679 2034h0M668 2034h0M703 2034h0M824 2033h0M1144 2036h0M966 2034h0M970 2034h0M1242 2033h0M1441 2035h0M1583 2034h0M2046 2036h0M2119 2034h0M2104 2033h0M2550 2034h0M2508 2033h0M2339 2032h0M2713 2036h0M2802 2032h0M2808 2034h0M3015 2035h0M3190 2034h0M3452 2035h0M4152 2036h0M4146 2032h0M4139 2035h0M4347 2034h0M4311 2032h0M4508 2034h0M4503 2035h0M4834 2033h0M4773 2033h0M5085 2035h0M5567 2033h0M5659 2033h0M6043 2035h0M6071 2032h0M6128 2033h0M6241 2034h0M6383 2033h0M6323 2033h0M6296 2032h0M6355 2034h0M6619 2033h0M6615 2032h0M7079 2034h0M6919 2032h0M6977 2033h0M7434 2034h0M7447 2035h0M7306 2033h0M7474 2033h0M7449 2034h0M7309 2034h0M7494 2032h0M7821 2034h0M8284 2036h0M8535 2034h0M8762 2036h0M8709 2033h0M8856 2033h0M9025 2033h0M9258 2034h0M9264 2033h0"/><path stroke="#8888ba" d="M735 2040h0M1255 2040h0M2007 2040h0M2188 2040h0M2417 2040h0M2475 2040h0M3952 2040h0M5091 2040h0M6155 2040h0M7516 2040h0M7884 2039h0M7937 2039h0M8682 2039h0M9210 2039h0M9247 2039h0"/><path stroke="#b98787" d="M1102 2644h0M1137 2645h0M1181 2646h0M952 2645h0M1264 2646h0M1271 2645h0M1416 2645h0M1524 2646h0M1828 2647h0M1720 2644h0M1805 2646h0M2012 2647h0M2246 2644h0M2183 2645h0M2309 2647h0M2407 2644h0M2358 2644h0M2906 2646h0M2903 2647h0M3126 2643h0M3202 2645h0M3425 2645h0M3371 2643h0M3618 2644h0M4143 2647h0M4120 2645h0M3991 2647h0M4009 2643h0M3943 2644h0M3998 2647h0M4139 2644h0M4497 2645h0M4768 2645h0M4939 2647h0M4904 2644h0M5213 2644h0M5607 2645h0M5450 2645h0M5580 2646h0M5703 2646h0M5983 2645h0M5773 2645h0M5908 2645h0M5955 2646h0M6081 2645h0M6136 2647h0M6133 2645h0M6245 2646h0M6415 2645h0M6787 2646h0M6591 2646h0M7040 2643h0M7177 2644h0M7131 2647h0M6916 2647h0M6921 2647h0M7532 2646h0M7536 2645h0M7512 2646h0M7811 2644h0M7884 2646h0M7934 2646h0M7932 2647h0M7918 2646h0M8535 2643h0M8722 2645h0M8753 2646h0M8727 2646h0M8914 2646h0M9286 2644h0M9379 2645h0M9461 2645h0"/><path stroke="#ba8888" d="M1391 2640h0M1671 2639h0M1794 2639h0M2954 2639h0M2834 2640h0M3434 2640h0M3451 2640h0M4192 2640h0M4026 2639h0M4102 2639h0M4738 2639h0M4723 2640h0M5508 2640h0M6178 2639h0M6050 2640h0M6241 2639h0M6525 2640h0M7062 2639h0M6995 2640h0M7732 2639h0M7784 2639h0M7628 2639h0M8476 2640h0M8804 2640h0M8932 2639h0"/><path stroke="#babacb" d="M499 2241h0M711 2240h0M796 2240h0M1512 2241h0M1597 2241h0M2030 2240h0M2185 2240h0M2196 2240h0M3259 2240h0M3482 2240h0M3769 2240h0M3818 2241h0M4135 2241h0M4095 2240h0M4296 2240h0M4599 2240h0M4551 2241h0M4552 2240h0M4669 2241h0M4764 2240h0M5157 2240h0M4964 2241h0M5301 2240h0M5906 2240h0M7017 2240h0M7072 2240h0M7743 2240h0M7684 2240h0M8190 2240h0M8159 2241h0M8237 2240h0M8376 2241h0M8959 2241h0M9275 2240h0M9512 2240h0"/><path stroke="#b88585" d="M492 2653h0M845 2653h0M794 2654h0M763 2654h0M1243 2652h0M1128 2652h0M1142 2653h0M1437 2652h0M1467 2652h0M1401 2655h0M1702 2653h0M1819 2655h0M1947 2655h0M2112 2654h0M2207 2655h0M2106 2654h0M2196 2655h0M2176 2652h0M2230 2653h0M2461 2655h0M2345 2655h0M2678 2653h0M2869 2653h0M2959 2654h0M3053 2653h0M3032 2652h0M2847 2652h0M3265 2655h0M3316 2652h0M3186 2653h0M3535 2652h0M3633 2653h0M3834 2652h0M3907 2655h0M3893 2654h0M4148 2655h0M4303 2652h0M4524 2654h0M4833 2653h0M5078 2652h0M4925 2654h0M5243 2652h0M5585 2655h0M5556 2652h0M5602 2653h0M5421 2654h0M5621 2655h0M5829 2654h0M6245 2654h0M6242 2652h0M6462 2652h0M6540 2653h0M6815 2653h0M6624 2654h0M6660 2654h0M6730 2655h0M6926 2654h0M7163 2653h0M7157 2653h0M6954 2653h0M7167 2653h0M7285 2654h0M8299 2653h0M8275 2654h0M8362 2654h0M8353 2655h0M8383 2653h0M8389 2654h0M8587 2655h0M8459 2652h0M8709 2653h0M8773 2655h0M9381 2653h0M9400 2654h0M9540 2652h0M9553 2652h0M9630 2652h0"/><path stroke="#8585b8" d="M653 2024h0M728 2025h0M710 2027h0M681 2025h0M1055 2025h0M988 2025h0M1143 2027h0M1529 2026h0M1817 2025h0M1605 2025h0M1580 2026h0M2092 2024h0M2154 2026h0M2144 2027h0M2393 2026h0M2608 2024h0M3053 2025h0M2926 2026h0M3056 2026h0M3305 2026h0M4109 2025h0M4192 2027h0M3962 2025h0M4240 2027h0M4008 2026h0M4933 2025h0M5016 2024h0M5694 2024h0M5665 2024h0M5718 2025h0M6012 2025h0M6006 2025h0M5858 2026h0M6108 2026h0M6433 2027h0M6224 2026h0M6773 2025h0M6671 2027h0M7207 2025h0M7836 2026h0M7839 2026h0M8123 2025h0M8022 2024h0M8185 2027h0M8335 2025h0M8255 2024h0M8400 2027h0M8520 2025h0M8533 2027h0M8503 2026h0M8725 2025h0M8947 2026h0M8929 2026h0M9201 2026h0M9705 2026h0"/><path stroke="#8686b9" d="M672 2030h0M843 2030h0M996 2028h0M1252 2029h0M1370 2031h0M1398 2032h0M2159 2031h0M2006 2029h0M2126 2032h0M2371 2031h0M2557 2031h0M3222 2029h0M3242 2029h0M3642 2031h0M3765 2031h0M4197 2031h0M4421 2029h0M4653 2029h0M4571 2028h0M4901 2031h0M5004 2032h0M5252 2032h0M5506 2031h0M5494 2028h0M5642 2030h0M5681 2030h0M5769 2028h0M6082 2028h0M6127 2030h0M6226 2031h0M6329 2029h0M6232 2028h0M6459 2030h0M6763 2029h0M7538 2030h0M7288 2029h0M7534 2032h0M7674 2032h0M7753 2030h0M7957 2031h0M8142 2031h0M8280 2030h0M8236 2032h0M8333 2031h0M8526 2030h0M8459 2032h0M8654 2030h0M8657 2031h0M8799 2029h0M8985 2030h0M9252 2032h0M9189 2031h0M9239 2028h0"/><path stroke="#b98686" d="M804 2651h0M758 2647h0M793 2648h0M737 2650h0M1149 2651h0M1052 2651h0M1337 2650h0M1567 2650h0M1640 2649h0M1851 2648h0M2132 2648h0M2045 2651h0M2463 2650h0M2337 2651h0M2705 2647h0M2730 2648h0M2696 2649h0M2833 2650h0M3147 2649h0M3204 2651h0M3196 2649h0M3357 2649h0M3578 2648h0M3667 2648h0M3518 2647h0M3567 2651h0M3827 2647h0M3791 2650h0M4024 2649h0M4004 2649h0M4075 2649h0M4232 2650h0M3943 2650h0M4083 2647h0M4397 2651h0M4486 2649h0M4611 2648h0M4558 2650h0M5122 2648h0M5227 2650h0M5310 2650h0M5500 2650h0M5468 2647h0M5520 2649h0M5838 2650h0M5807 2650h0M6078 2650h0M6102 2649h0M6416 2648h0M6720 2649h0M6781 2649h0M6734 2648h0M6773 2651h0M7105 2648h0M7489 2648h0M7745 2648h0M7826 2650h0M7725 2650h0M7696 2649h0M7829 2651h0M8161 2649h0M8280 2649h0M8636 2650h0M8730 2650h0M9734 2650h0M9623 2648h0"/><path stroke="#cbbaba" d="M1118 2439h0M1193 2439h0M950 2438h0M1198 2439h0M1205 2440h0M1899 2438h0M1849 2440h0M2241 2439h0M2892 2439h0M3307 2438h0M3730 2439h0M4135 2439h0M4013 2439h0M4080 2439h0M4184 2438h0M4011 2438h0M4419 2439h0M4563 2439h0M5246 2439h0M5256 2438h0M5300 2440h0M5657 2438h0M5704 2439h0M5949 2440h0M6166 2439h0M6425 2439h0M6396 2439h0M6483 2439h0M6807 2439h0M6671 2440h0M7101 2439h0M6920 2439h0M7290 2440h0M7694 2438h0M7750 2438h0M8369 2440h0M8514 2439h0M8725 2439h0M8958 2439h0M8934 2440h0M9189 2440h0M9280 2440h0"/><path stroke="#b98585" d="M517 2652h0M2674 2651h0M3155 2651h0M3084 2651h0M4423 2651h0M4334 2651h0M4653 2652h0M4944 2652h0M6085 2652h0M6631 2651h0M8310 2651h0M8800 2651h0M9728 2651h0"/><path stroke="#8484b8" d="M683 2022h0M727 2022h0M608 2024h0M797 2024h0M1019 2023h0M1902 2022h0M2102 2022h0M2071 2024h0M2479 2024h0M2664 2023h0M3304 2023h0M3562 2023h0M3880 2021h0M4121 2021h0M3972 2023h0M3971 2023h0M4402 2021h0M4560 2022h0M4564 2022h0M5082 2024h0M5103 2024h0M5005 2023h0M4926 2022h0M5165 2024h0M5299 2020h0M5426 2022h0M5775 2020h0M6036 2021h0M6186 2021h0M6657 2022h0M6787 2023h0M6632 2023h0M6746 2023h0M7057 2023h0M7856 2021h0M8069 2020h0M8099 2021h0M8736 2020h0M8713 2021h0M8814 2023h0M9057 2024h0M9273 2022h0M9189 2022h0M9187 2021h0"/><path stroke="#8585b9" d="M713 2028h0M1759 2028h0M2196 2028h0M2014 2027h0M3016 2028h0M5179 2028h0M5040 2028h0M8140 2028h0M8284 2028h0M8705 2028h0M8806 2028h0M8959 2028h0M8902 2028h0"/><path stroke="#cbbbbb" d="M800 2438h0M761 2435h0M775 2436h0M1076 2435h0M1469 2434h0M1275 2438h0M1856 2437h0M1815 2435h0M1774 2437h0M1841 2437h0M1799 2437h0M1588 2437h0M1993 2435h0M1580 2436h0M1740 2436h0M2225 2435h0M2077 2436h0M2100 2436h0M2472 2436h0M2528 2436h0M2474 2434h0M2416 2435h0M2304 2435h0M2732 2437h0M2606 2437h0M2709 2435h0M2951 2434h0M3048 2437h0M3085 2434h0M3239 2438h0M3284 2437h0M3592 2434h0M3347 2438h0M3674 2435h0M3835 2438h0M4011 2438h0M4212 2434h0M4067 2436h0M4129 2436h0M4074 2435h0M4251 2436h0M4354 2435h0M4385 2437h0M4395 2438h0M4501 2436h0M4720 2436h0M4511 2434h0M4719 2435h0M4762 2435h0M4916 2436h0M4950 2434h0M5212 2435h0M5456 2435h0M5473 2437h0M5508 2435h0M5630 2437h0M5833 2435h0M6021 2435h0M6000 2435h0M6180 2436h0M6131 2436h0M6390 2437h0M6436 2438h0M6402 2435h0M6438 2437h0M6326 2436h0M6287 2438h0M6482 2437h0M6452 2435h0M6815 2435h0M6760 2437h0M6746 2437h0M6990 2434h0M6958 2436h0M7352 2436h0M7289 2434h0M7341 2434h0M7358 2438h0M7774 2435h0M7662 2437h0M7776 2437h0M7932 2436h0M8082 2434h0M8190 2438h0M8556 2436h0M8467 2436h0M8665 2437h0M8626 2437h0M8853 2435h0M8810 2436h0M8961 2434h0M8913 2436h0M8901 2436h0M9063 2438h0M9381 2435h0M9615 2437h0M9523 2434h0M9627 2434h0"/><path stroke="#b88484" d="M830 2658h0M852 2659h0M985 2656h0M1067 2659h0M1293 2658h0M1748 2657h0M1634 2657h0M1905 2657h0M1866 2658h0M1622 2657h0M1586 2659h0M2088 2658h0M2083 2659h0M2658 2656h0M2973 2656h0M3033 2656h0M2993 2659h0M3228 2656h0M3216 2659h0M3233 2656h0M3232 2658h0M3226 2657h0M3439 2658h0M3547 2659h0M3669 2657h0M4135 2656h0M3990 2656h0M4016 2658h0M3989 2659h0M4090 2656h0M4085 2658h0M4274 2658h0M4389 2658h0M4295 2657h0M4466 2657h0M4601 2656h0M4570 2656h0M4924 2658h0M4988 2659h0M5400 2656h0M5468 2658h0M6031 2658h0M6005 2658h0M5791 2658h0M5917 2658h0M5902 2656h0M5845 2656h0M6016 2658h0M6135 2659h0M6394 2658h0M6243 2658h0M6339 2657h0M6226 2656h0M6579 2658h0M6831 2658h0M6830 2656h0M7051 2657h0M7009 2657h0M7405 2656h0M7299 2656h0M7738 2657h0M7768 2657h0M7730 2657h0M7857 2656h0M7941 2657h0M8374 2656h0M8305 2658h0M8320 2656h0M8215 2656h0M8603 2657h0M8558 2656h0M8745 2656h0M9228 2657h0M9330 2656h0M9646 2658h0M9651 2656h0"/><path stroke="#bbbbcb" d="M743 2244h0M811 2244h0M837 2242h0M822 2245h0M841 2242h0M1207 2242h0M1084 2241h0M1033 2242h0M1391 2243h0M1519 2244h0M1510 2242h0M1575 2241h0M1558 2245h0M1697 2243h0M1841 2245h0M1835 2242h0M2051 2242h0M2124 2245h0M2250 2244h0M2234 2242h0M2536 2244h0M2529 2244h0M2619 2241h0M2671 2244h0M2725 2242h0M3167 2245h0M2829 2244h0M3546 2241h0M3573 2242h0M3402 2244h0M3396 2244h0M3487 2242h0M3740 2244h0M4230 2244h0M4173 2245h0M3957 2243h0M3966 2242h0M4386 2242h0M4393 2241h0M4373 2243h0M4745 2242h0M4487 2242h0M4582 2243h0M4458 2245h0M5000 2242h0M4944 2243h0M5296 2243h0M5801 2242h0M6078 2245h0M6093 2242h0M6117 2244h0M6086 2243h0M6294 2244h0M6419 2244h0M6244 2244h0M6745 2244h0M6645 2245h0M6668 2244h0M7153 2245h0M7276 2245h0M7355 2245h0M7742 2244h0M7827 2245h0M7717 2243h0M7714 2244h0M7821 2241h0M7789 2244h0M8021 2244h0M8164 2245h0M8345 2245h0M8275 2244h0M8257 2242h0M8379 2242h0M8570 2244h0M8705 2244h0M8721 2242h0M8793 2242h0M8707 2245h0M8862 2242h0M8983 2243h0M9115 2243h0M9204 2245h0M9190 2244h0M9192 2242h0M9216 2242h0"/><path stroke="#cbbcbc" d="M495 2431h0M544 2430h0M958 2432h0M1208 2434h0M1332 2431h0M1329 2434h0M1332 2432h0M1675 2433h0M1681 2430h0M1702 2432h0M1675 2430h0M1711 2431h0M1750 2432h0M2007 2432h0M2604 2434h0M2692 2433h0M2807 2431h0M2995 2433h0M3097 2432h0M3106 2433h0M3163 2430h0M3310 2430h0M3483 2434h0M3607 2433h0M3572 2434h0M3665 2433h0M3704 2432h0M3472 2432h0M3565 2431h0M3737 2434h0M3686 2431h0M3634 2433h0M3352 2434h0M3485 2431h0M3789 2433h0M4135 2432h0M3939 2430h0M4420 2430h0M4327 2432h0M4356 2431h0M4392 2431h0M4665 2432h0M4711 2431h0M4744 2431h0M4499 2432h0M4769 2433h0M4898 2433h0M5134 2433h0M5131 2431h0M5197 2430h0M5620 2432h0M5584 2432h0M5504 2432h0M5404 2432h0M5527 2432h0M5855 2432h0M6007 2432h0M6013 2433h0M5764 2432h0M5814 2433h0M5808 2433h0M6039 2430h0M6163 2431h0M6218 2433h0M6221 2432h0M6356 2434h0M6393 2433h0M6306 2432h0M6414 2432h0M6494 2430h0M6488 2433h0M6741 2430h0M6676 2433h0M6773 2431h0M6716 2432h0M7127 2432h0M7107 2430h0M6995 2432h0M7184 2430h0M7528 2431h0M7427 2430h0M7358 2434h0M7800 2431h0M7641 2433h0M7660 2432h0M7870 2430h0M7959 2433h0M7904 2431h0M7920 2434h0M8290 2432h0M8257 2433h0M8285 2431h0M8410 2434h0M8415 2431h0M8415 2432h0M8405 2432h0M8556 2431h0M8492 2431h0M8603 2432h0M8525 2432h0M8777 2433h0M8769 2432h0M8719 2433h0M8723 2432h0M8800 2433h0M8839 2434h0M8809 2431h0M9256 2432h0"/><path stroke="#bcbccb" d="M493 2249h0M557 2248h0M514 2247h0M502 2245h0M719 2248h0M651 2246h0M831 2245h0M815 2247h0M964 2247h0M944 2248h0M952 2245h0M1011 2245h0M963 2248h0M1358 2245h0M1763 2245h0M1689 2246h0M2121 2246h0M2200 2248h0M2090 2247h0M2155 2247h0M2382 2246h0M2583 2246h0M2491 2245h0M2368 2247h0M2479 2249h0M2590 2248h0M2567 2248h0M2688 2249h0M2623 2247h0M2797 2247h0M3135 2247h0M2980 2246h0M3022 2247h0M2998 2249h0M3301 2248h0M3289 2248h0M3262 2247h0M3653 2248h0M3397 2247h0M3502 2247h0M3400 2246h0M3474 2249h0M3585 2248h0M3569 2247h0M3687 2246h0M3833 2249h0M3765 2248h0M3779 2245h0M3759 2249h0M3992 2247h0M4210 2249h0M4294 2249h0M4338 2247h0M4649 2248h0M4536 2245h0M4828 2246h0M4783 2248h0M5135 2249h0M5041 2246h0M5068 2246h0M5155 2248h0M5128 2247h0M5045 2248h0M5310 2247h0M5311 2249h0M5569 2247h0M5578 2248h0M5472 2246h0M5659 2245h0M5648 2245h0M5864 2249h0M5799 2245h0M6007 2248h0M5989 2246h0M6120 2249h0M6177 2249h0M6400 2245h0M6275 2248h0M6243 2246h0M6271 2249h0M6313 2249h0M6489 2249h0M7044 2248h0M7207 2248h0M7524 2249h0M7534 2246h0M7341 2246h0M7319 2246h0M7647 2249h0M7621 2248h0M7729 2248h0M7669 2248h0M7846 2248h0M7904 2247h0M8075 2246h0M8147 2245h0M8179 2249h0M8226 2245h0M8335 2248h0M8363 2248h0M8605 2246h0M8671 2246h0M8820 2248h0M8826 2249h0M8963 2246h0M8913 2246h0M8950 2248h0M9104 2247h0M9229 2249h0M9283 2246h0M9231 2249h0M9342 2248h0"/><path stroke="#8383b8" d="M501 2017h0M617 2017h0M660 2020h0M648 2018h0M742 2018h0M1154 2016h0M1162 2018h0M1187 2019h0M948 2017h0M1137 2018h0M1308 2017h0M1906 2019h0M2468 2017h0M2469 2018h0M2946 2020h0M3193 2017h0M3580 2018h0M3727 2020h0M3554 2019h0M3947 2018h0M4086 2019h0M4061 2019h0M4148 2018h0M3944 2019h0M4628 2019h0M4479 2016h0M4461 2019h0M5148 2017h0M5162 2017h0M4990 2019h0M5066 2019h0M4949 2017h0M5313 2019h0M5431 2019h0M5483 2017h0M5537 2020h0M5629 2020h0M5988 2018h0M5897 2018h0M5981 2019h0M5891 2017h0M6116 2019h0M6417 2018h0M6443 2018h0M6774 2017h0M6824 2020h0M7288 2017h0M7473 2017h0M7375 2019h0M7288 2018h0M7431 2016h0M7700 2020h0M7908 2017h0M7959 2017h0M7885 2020h0M7955 2019h0M8063 2020h0M8049 2020h0M8373 2019h0M8297 2016h0M8252 2019h0M8613 2017h0M8646 2017h0M8855 2017h0"/><path stroke="#8282b7" d="M608 2014h0M1163 2013h0M1007 2013h0M1239 2014h0M1071 2013h0M1310 2013h0M1980 2014h0M1710 2012h0M1587 2013h0M2055 2014h0M2459 2012h0M2450 2015h0M2652 2013h0M2928 2015h0M3187 2012h0M3844 2015h0M3899 2015h0M3808 2016h0M4096 2014h0M3949 2014h0M4331 2013h0M4413 2016h0M4360 2014h0M4312 2014h0M4520 2014h0M5221 2016h0M5293 2012h0M5562 2014h0M5702 2013h0M5705 2012h0M5862 2013h0M5827 2015h0M5974 2016h0M6048 2012h0M6141 2014h0M6156 2015h0M6387 2013h0M6513 2014h0M6464 2014h0M6631 2014h0M7050 2013h0M7432 2014h0M7828 2014h0M7707 2013h0M7957 2013h0M7871 2014h0M8073 2014h0M8089 2014h0M8075 2016h0M8213 2013h0M8843 2013h0M8799 2013h0M8796 2013h0"/><path stroke="#b88383" d="M802 2663h0M1200 2659h0M1328 2663h0M1528 2662h0M1753 2661h0M1869 2662h0M1842 2660h0M1780 2662h0M2205 2661h0M2234 2660h0M2488 2663h0M2352 2661h0M2779 2660h0M3146 2660h0M3220 2661h0M3707 2663h0M3638 2659h0M3451 2661h0M3413 2662h0M3441 2662h0M3710 2660h0M3362 2663h0M3874 2661h0M3830 2660h0M3753 2662h0M3906 2663h0M4144 2661h0M4318 2662h0M4361 2663h0M4539 2662h0M4522 2663h0M4468 2662h0M4811 2661h0M4780 2661h0M5289 2660h0M5255 2661h0M5280 2663h0M5286 2662h0M5596 2663h0M5481 2660h0M5653 2662h0M5838 2662h0M6030 2660h0M6149 2660h0M6062 2663h0M6348 2661h0M6275 2663h0M6619 2663h0M7008 2659h0M7127 2660h0M6934 2659h0M7653 2660h0M7686 2663h0M7752 2661h0M7830 2660h0M7786 2661h0M7905 2662h0M8273 2660h0M8567 2662h0M8691 2663h0M9038 2662h0M9072 2659h0M9368 2662h0M9513 2660h0"/><path stroke="#b78282" d="M825 2664h0M749 2666h0M1054 2666h0M1809 2667h0M1844 2666h0M1894 2666h0M2072 2665h0M2208 2667h0M2137 2666h0M2318 2664h0M2518 2665h0M2402 2666h0M2707 2665h0M2997 2667h0M3002 2665h0M2794 2664h0M2954 2667h0M3053 2667h0M3246 2667h0M3245 2664h0M3373 2666h0M3719 2667h0M3580 2665h0M3706 2667h0M3784 2666h0M3855 2667h0M4114 2664h0M4106 2667h0M4681 2667h0M4594 2666h0M4500 2664h0M4966 2664h0M5043 2665h0M5025 2664h0M5296 2664h0M5289 2664h0M5406 2666h0M5651 2665h0M5969 2664h0M6015 2665h0M5773 2665h0M6080 2667h0M6154 2666h0M6280 2666h0M6538 2666h0M6829 2666h0M6941 2665h0M7190 2664h0M6969 2666h0M7326 2666h0M7387 2666h0M7417 2666h0M7717 2666h0M7961 2664h0M7880 2666h0M8170 2665h0M8448 2667h0M8719 2665h0M8960 2664h0M8958 2664h0M9198 2666h0M9354 2664h0M9526 2665h0"/><path stroke="#cbbdbd" d="M532 2429h0M1332 2428h0M1615 2430h0M1814 2429h0M1598 2428h0M1820 2429h0M1734 2429h0M1956 2429h0M1988 2430h0M2038 2429h0M2045 2429h0M2246 2429h0M2477 2429h0M2589 2429h0M2498 2430h0M2697 2429h0M3453 2430h0M3465 2429h0M3426 2429h0M4164 2429h0M4407 2430h0M4854 2430h0M5135 2429h0M5285 2430h0M5460 2430h0M5508 2429h0M5670 2429h0M5711 2430h0M5963 2428h0M5982 2430h0M5985 2430h0M6010 2430h0M5946 2429h0M6052 2428h0M6125 2430h0M6165 2428h0M6377 2428h0M6408 2429h0M6711 2428h0M7212 2429h0M7051 2430h0M6994 2429h0M7489 2428h0M7491 2429h0M7673 2430h0M7892 2430h0M8246 2429h0M8326 2430h0M9034 2430h0M9113 2430h0M9282 2429h0M9637 2430h0"/><path stroke="#bdbdcb" d="M525 2250h0M1006 2251h0M1485 2251h0M1412 2250h0M1814 2251h0M1594 2251h0M2078 2250h0M2093 2249h0M2179 2250h0M2332 2249h0M3695 2251h0M3465 2250h0M3591 2251h0M3538 2251h0M3405 2251h0M3798 2251h0M4701 2250h0M4617 2250h0M5015 2250h0M5140 2251h0M5432 2249h0M5432 2250h0M5612 2251h0M5597 2250h0M5760 2250h0M5924 2251h0M5828 2251h0M5904 2251h0M6166 2250h0M6134 2249h0M6144 2251h0M6408 2251h0M6279 2250h0M6343 2251h0M6233 2250h0M6253 2251h0M6523 2251h0M6682 2251h0M6596 2250h0M6799 2250h0M7606 2251h0M7841 2249h0M7904 2251h0M7855 2251h0M8150 2250h0M8219 2251h0M8355 2251h0M8652 2250h0M8771 2249h0M8964 2251h0M9087 2250h0M9194 2249h0M9287 2250h0"/><path stroke="#8181b7" d="M626 2011h0M619 2011h0M756 2009h0M1139 2010h0M1249 2012h0M1026 2009h0M1473 2008h0M1748 2011h0M1653 2010h0M1707 2011h0M2248 2011h0M2454 2010h0M2323 2012h0M3188 2012h0M3673 2010h0M3715 2009h0M3696 2012h0M3774 2012h0M4226 2009h0M4134 2011h0M3956 2009h0M4174 2009h0M4283 2011h0M4659 2011h0M5106 2011h0M4956 2009h0M5049 2010h0M5125 2011h0M5492 2010h0M5599 2008h0M5689 2010h0M5924 2010h0M6075 2012h0M6304 2011h0M6346 2012h0M6619 2010h0M6850 2008h0M7065 2010h0M7018 2009h0M7267 2011h0M7349 2008h0M7807 2009h0M7644 2009h0M7797 2009h0M8086 2010h0M8021 2011h0M8113 2011h0M8073 2011h0M8101 2008h0M8172 2010h0M8340 2012h0M8275 2008h0M8330 2012h0M8342 2011h0M8510 2011h0M9282 2009h0"/><path stroke="#b78181" d="M1140 2668h0M1241 2670h0M1970 2669h0M1761 2670h0M1983 2668h0M1745 2671h0M1826 2670h0M2019 2669h0M2227 2670h0M2020 2670h0M2181 2668h0M2339 2669h0M2549 2669h0M2727 2670h0M2731 2670h0M2941 2671h0M2774 2671h0M2941 2669h0M3198 2667h0M3687 2668h0M3635 2668h0M3725 2671h0M3569 2669h0M3740 2669h0M3974 2671h0M4166 2670h0M4101 2667h0M4724 2667h0M4639 2668h0M4780 2670h0M4897 2669h0M4898 2670h0M5296 2670h0M5435 2670h0M5898 2671h0M5830 2670h0M6151 2671h0M6271 2670h0M6271 2670h0M6374 2671h0M6688 2671h0M6697 2668h0M6847 2670h0M6623 2669h0M6589 2669h0M7006 2670h0M7100 2668h0M7083 2667h0M7059 2671h0M7355 2668h0M7443 2671h0M7599 2671h0M7783 2671h0M7616 2669h0M7676 2670h0M7881 2668h0M8264 2668h0M8344 2671h0M8672 2669h0M8872 2669h0M8910 2670h0M8975 2670h0M9037 2669h0M9290 2668h0M9453 2671h0M9297 2668h0M9305 2667h0M9390 2667h0M9442 2671h0M9723 2669h0M9747 2668h0M9730 2669h0"/><path stroke="#b88282" d="M2076 2663h0M4465 2663h0M9374 2663h0"/><path stroke="#8282b8" d="M2474 2016h0M4282 2016h0M6808 2016h0M8112 2016h0M8910 2016h0"/><path stroke="#bdbdcc" d="M497 2252h0M586 2252h0M747 2251h0M823 2252h0M1237 2253h0M1208 2252h0M1168 2253h0M1314 2253h0M1511 2252h0M1311 2252h0M1516 2252h0M1595 2252h0M1976 2252h0M2515 2252h0M2803 2251h0M2882 2252h0M3154 2252h0M3020 2251h0M3171 2253h0M3636 2253h0M3489 2251h0M3815 2252h0M3958 2253h0M4036 2252h0M4230 2253h0M4456 2253h0M4600 2252h0M4798 2253h0M5150 2252h0M5300 2253h0M5220 2253h0M5865 2251h0M6114 2252h0M6239 2253h0M6524 2251h0M6589 2251h0M6645 2252h0M6993 2253h0M7383 2252h0M7719 2252h0M7653 2252h0M7922 2253h0M8745 2252h0M8897 2251h0"/><path stroke="#7f7fb6" d="M557 2002h0M695 2001h0M587 2001h0M969 2001h0M1169 2004h0M1110 2000h0M1251 2000h0M1110 2000h0M1775 2002h0M1896 2001h0M1927 2002h0M1714 2001h0M2007 2001h0M2147 2003h0M2639 2003h0M2735 2003h0M2711 2000h0M3276 2001h0M4053 2002h0M4182 2002h0M4003 2004h0M4609 2000h0M4533 2003h0M4789 2003h0M4798 2002h0M5167 2003h0M5680 2002h0M6248 2003h0M6417 2003h0M6488 2003h0M6807 2002h0M6968 2000h0M7773 2003h0M7736 2001h0M7874 2003h0M7905 2001h0M7887 2000h0M7861 2002h0M8017 2002h0M8344 2001h0M8354 2004h0M8258 2002h0M8473 2004h0M8464 2003h0M8813 2001h0M8951 2002h0M8897 2003h0M9087 2004h0M9190 2002h0"/><path stroke="#8080b7" d="M613 2004h0M711 2008h0M687 2005h0M666 2008h0M809 2005h0M1034 2008h0M953 2005h0M1334 2005h0M1585 2004h0M1609 2006h0M2033 2005h0M1997 2007h0M2596 2005h0M2355 2007h0M2306 2007h0M2628 2004h0M2988 2007h0M2905 2004h0M3698 2007h0M3836 2005h0M4103 2005h0M4313 2004h0M4384 2005h0M4712 2004h0M4925 2006h0M5276 2006h0M5541 2006h0M5482 2007h0M5800 2005h0M5888 2006h0M5906 2006h0M6226 2006h0M6520 2007h0M6820 2005h0M6843 2007h0M6576 2006h0M6840 2006h0M6609 2006h0M6968 2004h0M7171 2007h0M7530 2006h0M7526 2005h0M7623 2008h0M7842 2007h0M7716 2004h0M7962 2008h0M7993 2008h0M8039 2008h0M8024 2005h0M8047 2007h0M8166 2006h0M8278 2007h0M8251 2007h0M8343 2006h0M8361 2005h0M8344 2006h0M8504 2007h0M8535 2005h0M8635 2005h0M9277 2006h0"/><path stroke="#b67f7f" d="M798 2678h0M808 2678h0M1070 2677h0M1163 2677h0M1058 2676h0M976 2677h0M950 2678h0M1593 2678h0M1774 2678h0M1711 2678h0M1850 2676h0M1936 2677h0M1973 2676h0M1803 2677h0M2446 2676h0M2451 2677h0M2669 2678h0M2986 2677h0M2816 2677h0M3306 2676h0M3191 2676h0M3244 2676h0M3707 2676h0M3605 2677h0M3672 2676h0M3554 2678h0M3879 2679h0M4270 2678h0M4582 2677h0M4695 2676h0M4790 2677h0M5091 2678h0M5170 2677h0M5198 2679h0M5537 2678h0M5456 2676h0M5689 2675h0M5897 2678h0M5950 2679h0M5959 2678h0M5993 2679h0M5761 2676h0M5900 2679h0M5904 2678h0M6224 2678h0M6378 2677h0M6249 2676h0M6546 2676h0M6506 2677h0M6455 2676h0M6683 2677h0M6817 2678h0M6677 2676h0M6575 2677h0M7408 2678h0M7487 2677h0M7397 2676h0M7849 2679h0M8186 2676h0M8269 2677h0M8531 2675h0M8467 2676h0M8727 2679h0M8734 2679h0M8704 2679h0M9079 2678h0M9223 2679h0M9192 2677h0M9355 2678h0M9327 2676h0M9519 2677h0M9698 2679h0M9765 2676h0"/><path stroke="#b78080" d="M785 2674h0M1211 2673h0M961 2674h0M1172 2672h0M1027 2675h0M1084 2674h0M1256 2672h0M1522 2672h0M1479 2673h0M1742 2674h0M1831 2675h0M1663 2675h0M1671 2674h0M1634 2673h0M1884 2672h0M2016 2674h0M2385 2673h0M2346 2672h0M3169 2673h0M2896 2673h0M3165 2675h0M3177 2671h0M3309 2674h0M3267 2671h0M3206 2674h0M3310 2673h0M3658 2671h0M3544 2673h0M3596 2674h0M3475 2672h0M3562 2674h0M3850 2673h0M3821 2675h0M4195 2673h0M3957 2674h0M4117 2673h0M4210 2672h0M4269 2674h0M4329 2674h0M4377 2673h0M4657 2675h0M4710 2672h0M4780 2673h0M4922 2673h0M5000 2674h0M5075 2673h0M4971 2674h0M5291 2673h0M5301 2675h0M5232 2675h0M5197 2674h0M5504 2672h0M5426 2674h0M5602 2674h0M5776 2671h0M6313 2674h0M6525 2674h0M6839 2674h0M7140 2672h0M7101 2673h0M7190 2674h0M7364 2675h0M7667 2672h0M7947 2675h0M7863 2672h0M7964 2674h0M8167 2672h0M8215 2674h0M8300 2673h0M8515 2674h0M8667 2673h0M8979 2675h0M9069 2675h0M9082 2672h0"/><path stroke="#ccbdbd" d="M739 2428h0M752 2427h0M759 2427h0M990 2427h0M1199 2427h0M1113 2428h0M1249 2428h0M1141 2426h0M1311 2427h0M1786 2426h0M1567 2427h0M1618 2428h0M1791 2427h0M2194 2426h0M2199 2426h0M2358 2426h0M2559 2426h0M2352 2427h0M2591 2428h0M2438 2428h0M3609 2427h0M3714 2427h0M3458 2428h0M3797 2427h0M3878 2426h0M4330 2426h0M4866 2427h0M4794 2426h0M5112 2426h0M5562 2427h0M5791 2427h0M5780 2427h0M6271 2427h0M6532 2427h0M6545 2428h0M6519 2427h0M6540 2427h0M6627 2427h0M6691 2426h0M6788 2426h0M6986 2427h0M6968 2428h0M8236 2427h0M8296 2426h0M8533 2427h0M8572 2428h0M8788 2428h0M9323 2426h0M9540 2427h0"/><path stroke="#ccbebe" d="M557 2426h0M808 2426h0M1065 2422h0M1138 2424h0M1042 2424h0M1072 2423h0M1484 2424h0M1498 2422h0M1348 2426h0M1275 2423h0M1981 2424h0M1850 2422h0M1834 2425h0M1756 2424h0M1858 2422h0M1746 2424h0M1926 2423h0M1836 2422h0M1870 2426h0M1560 2423h0M1971 2425h0M2138 2424h0M2052 2425h0M2325 2425h0M2581 2423h0M2551 2424h0M2650 2425h0M2692 2425h0M2720 2425h0M3049 2423h0M2926 2424h0M2865 2425h0M2954 2424h0M2850 2424h0M2824 2423h0M3071 2425h0M3235 2425h0M3278 2426h0M3731 2425h0M3697 2426h0M3638 2425h0M3448 2425h0M3863 2424h0M3795 2425h0M3897 2424h0M4252 2422h0M3989 2423h0M4188 2424h0M4302 2422h0M4368 2424h0M4295 2423h0M4598 2423h0M4837 2425h0M4791 2423h0M4988 2422h0M5070 2423h0M4951 2422h0M5267 2423h0M5499 2425h0M5514 2424h0M5566 2423h0M5668 2422h0M5720 2424h0M5685 2424h0M5764 2424h0M6015 2424h0M6016 2426h0M5931 2425h0M5820 2425h0M5801 2425h0M6128 2424h0M6123 2423h0M6133 2425h0M6417 2423h0M6356 2424h0M6279 2423h0M6330 2423h0M6390 2424h0M6465 2423h0M6517 2426h0M6532 2424h0M6637 2424h0M6825 2423h0M6633 2423h0M7008 2425h0M7182 2424h0M7490 2425h0M7353 2422h0M7850 2425h0M7617 2424h0M7693 2423h0M7922 2424h0M7855 2422h0M7868 2426h0M8170 2424h0M8154 2426h0M8133 2426h0M8320 2425h0M8347 2424h0M8305 2425h0M8240 2422h0M8350 2422h0M8277 2424h0M8307 2423h0M8651 2425h0M8727 2424h0M8723 2423h0M9130 2423h0M9037 2422h0M9130 2423h0M9268 2424h0M9740 2424h0"/><path stroke="#b67e7e" d="M523 2681h0M994 2681h0M1495 2680h0M1437 2680h0M1915 2681h0M2085 2680h0M2522 2680h0M2555 2681h0M2528 2679h0M2675 2679h0M3133 2679h0M3048 2681h0M3158 2679h0M2788 2680h0M2980 2681h0M2777 2679h0M3032 2683h0M2982 2680h0M3305 2681h0M3195 2681h0M3268 2682h0M3558 2682h0M3701 2681h0M3476 2682h0M3547 2682h0M3402 2682h0M3845 2682h0M3755 2682h0M4130 2680h0M4331 2682h0M4546 2682h0M4929 2683h0M4978 2681h0M4959 2683h0M5619 2683h0M5419 2683h0M5591 2682h0M5686 2681h0M5690 2680h0M5685 2681h0M5782 2683h0M5878 2680h0M6089 2683h0M6102 2680h0M6169 2680h0M6468 2683h0M6842 2682h0M6701 2680h0M6823 2682h0M6825 2683h0M7159 2681h0M7746 2682h0M7645 2683h0M7690 2683h0M7767 2681h0M8185 2681h0M8295 2680h0M8366 2679h0M8367 2681h0M8443 2683h0M8669 2680h0M8781 2681h0M8771 2683h0M8727 2680h0M8863 2682h0M8797 2679h0M9214 2681h0M9295 2682h0M9422 2680h0M9546 2681h0"/><path stroke="#7e7eb6" d="M638 2000h0M578 1999h0M1211 1997h0M1470 1997h0M1445 1997h0M1349 1998h0M1609 1996h0M2024 1999h0M2019 1999h0M2504 1997h0M2721 1998h0M3080 1997h0M3314 1999h0M3512 1997h0M3474 2000h0M4424 1999h0M4410 1996h0M4277 1998h0M4327 1996h0M4824 1998h0M5150 1999h0M5142 1997h0M5209 1996h0M5215 1996h0M5431 1997h0M5646 1996h0M6006 1999h0M6529 1997h0M6496 1997h0M6579 2000h0M7201 1998h0M7408 1998h0M7750 1997h0M7890 2000h0M8046 1996h0M8077 1998h0M8338 1997h0M8296 1998h0M8367 2000h0M8588 1998h0M8637 2000h0M8768 1997h0M8841 1996h0M8826 1996h0M9043 2000h0"/><path stroke="#bebecc" d="M756 2256h0M750 2254h0M782 2255h0M996 2257h0M1000 2257h0M1137 2253h0M1358 2254h0M1350 2256h0M1825 2256h0M1730 2253h0M1837 2257h0M2103 2255h0M2125 2257h0M2244 2256h0M2312 2254h0M2536 2254h0M2428 2255h0M2706 2254h0M2677 2255h0M2605 2255h0M2833 2254h0M3542 2256h0M3463 2254h0M3490 2255h0M3737 2256h0M3457 2255h0M3767 2254h0M3856 2254h0M3755 2257h0M3780 2254h0M4004 2256h0M4069 2256h0M4134 2256h0M4369 2257h0M4384 2255h0M4645 2255h0M4813 2255h0M4798 2256h0M5022 2255h0M5048 2254h0M5453 2257h0M5546 2253h0M5422 2256h0M5988 2256h0M5991 2257h0M6451 2256h0M6328 2254h0M6392 2255h0M6265 2255h0M6640 2254h0M6817 2255h0M7163 2254h0M6914 2254h0M7042 2256h0M7137 2257h0M6967 2253h0M6990 2254h0M7445 2254h0M7274 2253h0M7539 2256h0M7310 2255h0M7961 2257h0M8287 2253h0M8650 2255h0M8790 2253h0M8759 2255h0M8779 2257h0M8780 2257h0M8800 2257h0M8844 2256h0M8811 2254h0M8916 2254h0M9094 2255h0M9213 2257h0M9206 2253h0"/><path stroke="#b57d7d" d="M1913 2687h0M1954 2687h0M3087 2687h0M3652 2687h0M3418 2687h0M5987 2687h0M6474 2687h0"/><path stroke="#7d7db5" d="M2120 1992h0M6030 1992h0M6655 1992h0"/><path stroke="#7f7fb7" d="M2712 2004h0"/><path stroke="#b77f7f" d="M3529 2675h0"/><path stroke="#7d7db6" d="M640 1992h0M652 1995h0M649 1996h0M657 1993h0M675 1993h0M824 1993h0M754 1992h0M1072 1995h0M1518 1994h0M1717 1993h0M2118 1995h0M2151 1992h0M2912 1996h0M2931 1995h0M3430 1993h0M4085 1994h0M4234 1994h0M3941 1993h0M4269 1992h0M4303 1993h0M4549 1995h0M5113 1993h0M5159 1992h0M5279 1995h0M5535 1995h0M5551 1993h0M5512 1992h0M5530 1996h0M5688 1996h0M5676 1993h0M5638 1993h0M5981 1994h0M6055 1994h0M6323 1993h0M6282 1995h0M6326 1996h0M6534 1993h0M6576 1993h0M6981 1995h0M7161 1994h0M7131 1993h0M7316 1995h0M7400 1993h0M7391 1995h0M7713 1993h0M7647 1995h0M7649 1995h0M7847 1995h0M8022 1994h0M8163 1994h0M8130 1993h0M8315 1996h0M8374 1995h0M8278 1993h0M8332 1994h0M8540 1995h0M8652 1994h0M8672 1994h0M8774 1994h0M9037 1996h0"/><path stroke="#7c7cb5" d="M663 1989h0M666 1988h0M697 1991h0M635 1989h0M683 1990h0M850 1992h0M1453 1991h0M1731 1988h0M2528 1990h0M2704 1991h0M3562 1988h0M4147 1988h0M4244 1990h0M4639 1992h0M4474 1988h0M4743 1989h0M4777 1991h0M4809 1991h0M5166 1989h0M5198 1989h0M5482 1992h0M5478 1989h0M5880 1991h0M6087 1988h0M6131 1991h0M6299 1990h0M6326 1990h0M6283 1988h0M6817 1988h0M6721 1989h0M6812 1988h0M6624 1988h0M6774 1989h0M6844 1990h0M6779 1991h0M6759 1988h0M7055 1989h0M7023 1989h0M7413 1991h0M7630 1990h0M7639 1990h0M7944 1989h0M8014 1990h0M8189 1988h0M8318 1991h0M8243 1991h0M8335 1988h0M8317 1989h0M8285 1990h0M8365 1991h0M8229 1989h0M8226 1988h0M8670 1989h0M8801 1992h0M8988 1990h0M8950 1989h0M9199 1988h0M9195 1989h0"/><path stroke="#ccbfbf" d="M836 2419h0M811 2421h0M1109 2418h0M1168 2419h0M981 2420h0M1144 2419h0M1518 2419h0M1464 2421h0M1424 2420h0M1315 2421h0M1985 2420h0M1653 2419h0M1600 2421h0M1841 2419h0M2239 2421h0M2530 2419h0M2475 2421h0M2407 2421h0M2677 2422h0M2702 2419h0M2853 2420h0M2849 2419h0M3146 2419h0M2957 2420h0M2915 2419h0M3296 2420h0M3585 2422h0M3361 2419h0M3505 2421h0M3627 2421h0M3617 2418h0M3467 2420h0M4053 2420h0M4256 2418h0M4111 2421h0M4229 2419h0M4184 2420h0M4161 2420h0M4102 2420h0M4143 2421h0M4121 2420h0M4365 2420h0M4266 2419h0M4358 2421h0M4588 2422h0M4828 2422h0M4921 2418h0M5105 2420h0M5403 2419h0M5708 2419h0M5626 2419h0M5798 2420h0M5798 2421h0M5808 2420h0M5807 2421h0M5897 2422h0M6054 2418h0M6421 2420h0M6378 2421h0M6518 2422h0M6470 2419h0M6483 2420h0M6470 2420h0M6824 2418h0M6748 2419h0M6619 2422h0M6783 2420h0M7202 2421h0M7680 2420h0M7622 2420h0M7669 2420h0M7897 2418h0M7940 2421h0M8178 2419h0M8337 2422h0M8299 2418h0M8399 2421h0M8390 2419h0M8388 2420h0M8447 2421h0M8560 2419h0M8453 2421h0M8635 2420h0M8630 2420h0M8713 2420h0M8852 2421h0M8952 2422h0M8953 2419h0M9112 2420h0M9050 2422h0M9195 2420h0M9224 2419h0M9266 2422h0M9247 2422h0M9413 2421h0M9303 2422h0"/><path stroke="#b67d7d" d="M986 2683h0M1089 2684h0M1454 2684h0M1421 2686h0M1493 2685h0M1288 2684h0M1559 2685h0M1859 2684h0M2069 2685h0M2032 2687h0M2013 2685h0M2093 2686h0M2596 2684h0M2625 2687h0M2606 2684h0M2724 2685h0M2689 2687h0M2689 2685h0M3013 2686h0M3139 2686h0M2914 2685h0M3299 2684h0M3590 2684h0M3900 2684h0M3822 2684h0M4186 2687h0M3981 2687h0M4352 2683h0M4723 2683h0M4809 2686h0M5076 2686h0M5093 2685h0M5100 2684h0M5309 2684h0M5264 2686h0M5961 2684h0M5831 2686h0M6039 2686h0M6175 2684h0M6695 2686h0M6790 2686h0M7106 2684h0M7394 2686h0M7790 2684h0M7665 2684h0M8470 2685h0M8490 2685h0M9107 2685h0M9200 2686h0M9228 2684h0M9266 2684h0M9243 2686h0M9432 2687h0M9704 2687h0M9539 2684h0"/><path stroke="#bfbfcc" d="M1177 2257h0M1058 2261h0M1187 2260h0M1059 2259h0M1175 2258h0M1508 2258h0M1493 2261h0M1431 2261h0M1328 2261h0M1694 2260h0M1584 2261h0M1984 2261h0M2212 2261h0M2558 2259h0M2556 2261h0M2443 2261h0M2539 2258h0M2720 2259h0M3164 2260h0M3087 2260h0M3205 2259h0M3424 2258h0M3401 2259h0M3623 2258h0M3522 2261h0M3878 2260h0M4189 2261h0M3961 2261h0M4007 2259h0M4293 2258h0M4281 2261h0M4276 2259h0M4351 2258h0M4489 2257h0M4651 2260h0M4606 2258h0M4794 2260h0M5160 2258h0M5058 2258h0M5086 2259h0M5026 2257h0M4979 2261h0M5201 2259h0M5542 2258h0M5726 2260h0M5686 2259h0M5836 2259h0M6128 2260h0M6246 2260h0M6329 2259h0M6740 2259h0M6631 2259h0M6695 2261h0M7117 2261h0M6924 2260h0M7169 2259h0M7460 2260h0M7324 2259h0M7408 2259h0M7745 2258h0M7955 2258h0M7963 2259h0M7990 2258h0M8225 2258h0M8459 2258h0M8587 2258h0M8724 2259h0M8781 2260h0M8863 2260h0M8799 2258h0M8908 2260h0M9028 2259h0M9233 2258h0M9264 2258h0"/><path stroke="#b57c7c" d="M1115 2689h0M984 2691h0M1512 2689h0M1462 2691h0M1264 2689h0M1862 2690h0M1804 2688h0M1621 2688h0M1856 2690h0M1938 2688h0M1896 2690h0M2190 2690h0M2019 2689h0M2427 2689h0M2723 2691h0M2906 2689h0M2857 2690h0M2831 2690h0M3037 2688h0M3608 2690h0M3837 2689h0M3815 2690h0M3785 2688h0M3815 2688h0M3841 2690h0M3809 2688h0M4091 2690h0M4245 2691h0M4242 2689h0M4230 2689h0M4251 2689h0M4302 2688h0M4349 2690h0M4345 2690h0M4603 2689h0M4739 2691h0M4855 2689h0M5041 2691h0M4898 2689h0M5564 2690h0M5474 2690h0M5429 2690h0M5630 2688h0M5767 2691h0M5930 2687h0M5926 2689h0M5966 2688h0M5967 2690h0M6060 2688h0M6116 2689h0M6088 2688h0M6537 2691h0M6590 2688h0M7090 2691h0M7276 2689h0M7447 2689h0M7613 2690h0M7934 2689h0M7873 2688h0M8673 2690h0M8781 2691h0M8758 2690h0M8917 2689h0M9299 2691h0M9458 2687h0"/><path stroke="#7b7bb5" d="M696 1987h0M633 1984h0M675 1986h0M711 1987h0M852 1986h0M1125 1985h0M1047 1986h0M1089 1985h0M1316 1985h0M1600 1987h0M1883 1985h0M1863 1986h0M1611 1984h0M2085 1986h0M2208 1984h0M2229 1985h0M2522 1986h0M2415 1986h0M2468 1986h0M2668 1985h0M2828 1988h0M2985 1987h0M3222 1984h0M3657 1986h0M3411 1984h0M3572 1986h0M4140 1988h0M4025 1984h0M4154 1984h0M4073 1984h0M4142 1986h0M4395 1988h0M4400 1987h0M4373 1987h0M4703 1987h0M5025 1985h0M5163 1984h0M5301 1986h0M5726 1988h0M5650 1987h0M6027 1988h0M6121 1986h0M6070 1987h0M6092 1987h0M6048 1985h0M6300 1988h0M6605 1987h0M6940 1985h0M7408 1985h0M7372 1987h0M7335 1986h0M7807 1987h0M7712 1984h0M7912 1986h0M7915 1985h0M8026 1984h0M8122 1987h0M8022 1985h0M8170 1987h0M8247 1986h0M8262 1987h0M8333 1985h0M8704 1986h0M8813 1984h0M9104 1988h0M9271 1986h0M9273 1987h0"/><path stroke="#b57b7b" d="M746 2692h0M1491 2692h0M1477 2692h0M1528 2692h0M1950 2694h0M1676 2693h0M1603 2693h0M2146 2694h0M2304 2692h0M2975 2695h0M3102 2693h0M3704 2693h0M3659 2694h0M3729 2695h0M3772 2691h0M4207 2692h0M4203 2693h0M4093 2692h0M4786 2694h0M4821 2692h0M4788 2693h0M4964 2694h0M5040 2694h0M5191 2693h0M5149 2692h0M5206 2694h0M5584 2694h0M5417 2694h0M5872 2692h0M5892 2692h0M5823 2692h0M5884 2692h0M6135 2694h0M6525 2694h0M6699 2694h0M7153 2691h0M7001 2694h0M7801 2693h0M7641 2693h0M7801 2692h0M7947 2695h0M7864 2691h0M8382 2694h0M8903 2693h0M9250 2694h0M9455 2694h0M9383 2694h0"/><path stroke="#ccc0c0" d="M830 2417h0M832 2417h0M1191 2417h0M973 2417h0M950 2418h0M1230 2417h0M1869 2417h0M1782 2417h0M2007 2417h0M2187 2416h0M2127 2417h0M2084 2417h0M2545 2416h0M2457 2417h0M2501 2416h0M2893 2416h0M3009 2417h0M3626 2416h0M3783 2418h0M4654 2417h0M4985 2417h0M5134 2417h0M5527 2417h0M5592 2418h0M5455 2416h0M5518 2416h0M5643 2417h0M5633 2418h0M5641 2417h0M5968 2417h0M6064 2417h0M6332 2416h0M6326 2417h0M6857 2416h0M6988 2417h0M7325 2418h0M7343 2417h0M7660 2417h0M8216 2418h0M8558 2416h0M8543 2418h0M8478 2418h0M8823 2418h0M8820 2416h0M8894 2416h0"/><path stroke="#c0c0cc" d="M1083 2263h0M1009 2261h0M1002 2263h0M1452 2261h0M1532 2262h0M1671 2262h0M1730 2262h0M1924 2262h0M2205 2262h0M2190 2262h0M2074 2262h0M2108 2262h0M2524 2262h0M2540 2263h0M3028 2263h0M3103 2262h0M3152 2263h0M3620 2262h0M3430 2263h0M3900 2262h0M3843 2261h0M4089 2262h0M4640 2263h0M4739 2262h0M4534 2262h0M4536 2262h0M5138 2263h0M5111 2262h0M5269 2261h0M5769 2262h0M5965 2262h0M5828 2262h0M5763 2263h0M6072 2263h0M6214 2263h0M7495 2262h0M7278 2262h0M7507 2263h0M7676 2263h0M7782 2262h0M7620 2263h0M7731 2261h0M8130 2263h0M8229 2262h0M8391 2262h0M8646 2263h0M8953 2262h0M9062 2262h0M9207 2262h0"/><path stroke="#b47a7a" d="M1340 2699h0M1451 2699h0M1567 2699h0M3224 2699h0M5415 2699h0M6830 2699h0M7005 2699h0M7976 2699h0M8692 2699h0"/><path stroke="#7a7ab4" d="M2800 1980h0M9052 1980h0"/><path stroke="#c0c0cd" d="M542 2264h0M827 2263h0M963 2263h0M1049 2265h0M1136 2264h0M1019 2264h0M1101 2263h0M1326 2265h0M1773 2265h0M1572 2263h0M2567 2265h0M2390 2264h0M2419 2265h0M3025 2265h0M4143 2263h0M3973 2263h0M4084 2265h0M4274 2264h0M4362 2265h0M4956 2263h0M5263 2263h0M5266 2265h0M5276 2265h0M5470 2263h0M5814 2264h0M5844 2264h0M6172 2263h0M6113 2264h0M6411 2265h0M6299 2263h0M6282 2264h0M6266 2265h0M6758 2265h0M7126 2263h0M7684 2263h0M7758 2265h0M7886 2264h0M8148 2265h0M8494 2265h0M8464 2264h0M8784 2264h0M8826 2265h0M8853 2264h0M9191 2265h0M9391 2264h0"/><path stroke="#cdc0c0" d="M545 2415h0M800 2415h0M1972 2414h0M1662 2415h0M2247 2415h0M2469 2416h0M2824 2414h0M3066 2414h0M3560 2415h0M3436 2415h0M3639 2415h0M3411 2415h0M3786 2416h0M4206 2415h0M4139 2415h0M4089 2416h0M4505 2415h0M4816 2415h0M4914 2415h0M5477 2414h0M5571 2415h0M5502 2416h0M5568 2414h0M5880 2415h0M5819 2416h0M5951 2416h0M5940 2415h0M6146 2415h0M6380 2414h0M6315 2415h0M6472 2415h0M6736 2415h0M6767 2416h0M6833 2414h0M6807 2415h0M7097 2415h0M7441 2415h0M7667 2415h0M7834 2415h0M8189 2416h0M8354 2414h0M8335 2416h0M8327 2415h0M8232 2415h0M8572 2414h0M8644 2415h0M8781 2416h0M8766 2415h0M8823 2415h0M9113 2414h0M9055 2415h0M9283 2414h0"/><path stroke="#b57a7a" d="M510 2696h0M766 2696h0M1198 2697h0M1097 2697h0M1432 2698h0M1365 2699h0M1354 2696h0M1369 2697h0M1400 2697h0M1570 2696h0M1721 2698h0M1722 2696h0M3149 2698h0M2818 2695h0M2985 2696h0M3482 2697h0M3589 2698h0M3708 2696h0M3563 2698h0M3900 2696h0M4222 2696h0M4279 2697h0M4322 2698h0M4273 2696h0M4670 2698h0M4700 2696h0M4822 2697h0M4971 2699h0M4907 2696h0M5195 2696h0M5300 2697h0M5576 2697h0M5425 2699h0M5481 2699h0M5490 2696h0M5683 2698h0M6033 2698h0M5899 2698h0M5787 2699h0M5797 2699h0M6044 2697h0M6276 2696h0M6271 2696h0M6352 2698h0M6335 2698h0M6292 2698h0M6661 2697h0M6802 2696h0M6791 2697h0M7208 2696h0M8343 2698h0M8409 2698h0M8657 2698h0M8686 2696h0M9090 2697h0M9103 2698h0M9284 2696h0M9331 2698h0M9641 2696h0"/><path stroke="#7979b4" d="M605 1980h0M671 1980h0M639 1978h0M612 1979h0M1341 1978h0M1636 1977h0M1805 1979h0M1868 1979h0M1611 1976h0M1988 1978h0M1570 1979h0M2138 1980h0M2641 1976h0M3052 1979h0M3836 1979h0M4252 1977h0M3996 1978h0M4349 1978h0M4384 1979h0M4621 1977h0M4556 1979h0M4583 1977h0M5158 1978h0M4908 1977h0M5157 1978h0M4923 1977h0M5498 1978h0M5562 1978h0M5689 1978h0M5876 1980h0M6403 1976h0M6592 1978h0M6667 1977h0M7129 1977h0M7653 1978h0M7957 1978h0M7879 1976h0M8044 1979h0M8068 1977h0M8191 1977h0M8169 1978h0M8331 1979h0M8492 1979h0M8610 1979h0M8610 1979h0M8619 1976h0M8775 1976h0M8932 1976h0M8989 1977h0M9289 1978h0"/><path stroke="#7a7ab5" d="M668 1982h0M686 1982h0M712 1981h0M664 1982h0M847 1984h0M791 1982h0M1125 1983h0M1202 1982h0M1652 1981h0M1612 1983h0M1747 1983h0M2179 1983h0M2022 1982h0M2338 1982h0M2560 1983h0M2632 1982h0M2672 1981h0M3161 1983h0M2927 1983h0M3620 1981h0M3638 1981h0M3687 1982h0M3631 1981h0M3649 1983h0M3657 1982h0M3893 1981h0M4069 1981h0M3962 1983h0M3991 1981h0M4028 1983h0M4077 1982h0M4403 1984h0M4642 1983h0M4607 1980h0M4804 1983h0M5112 1982h0M5258 1982h0M5275 1981h0M5521 1984h0M5554 1983h0M5420 1980h0M5836 1983h0M5817 1981h0M6163 1983h0M6445 1982h0M6400 1981h0M6497 1983h0M6610 1981h0M6716 1982h0M6991 1983h0M7002 1981h0M7325 1983h0M7496 1982h0M7695 1981h0M7628 1981h0M7767 1983h0M7902 1984h0M7880 1983h0M8064 1981h0M8018 1982h0M8086 1981h0M8026 1981h0M8100 1983h0M8187 1981h0M8374 1981h0M8574 1982h0M8441 1983h0M8586 1983h0M8763 1982h0M8947 1983h0M9242 1982h0M9242 1981h0"/><path stroke="#b47979" d="M843 2700h0M1220 2703h0M1033 2700h0M1239 2701h0M1356 2700h0M1369 2701h0M1827 2701h0M1627 2700h0M1970 2701h0M1924 2701h0M2045 2702h0M2105 2702h0M2204 2702h0M2182 2702h0M2836 2701h0M3058 2701h0M3133 2701h0M3169 2702h0M3310 2702h0M3721 2701h0M3444 2703h0M3370 2703h0M3694 2701h0M3507 2703h0M3801 2701h0M3966 2703h0M4050 2702h0M4071 2703h0M4205 2702h0M4408 2701h0M4323 2700h0M4545 2701h0M4636 2700h0M4562 2701h0M4456 2700h0M4583 2702h0M4802 2702h0M4758 2701h0M4772 2703h0M4975 2702h0M5143 2702h0M5267 2703h0M5203 2700h0M5201 2703h0M5552 2701h0M5446 2703h0M5974 2701h0M5940 2702h0M5891 2700h0M6177 2702h0M6130 2700h0M6079 2702h0M6140 2703h0M6349 2703h0M6804 2703h0M6582 2701h0M6842 2703h0M6647 2701h0M6678 2701h0M7524 2702h0M7301 2700h0M7847 2700h0M7630 2701h0M7637 2702h0M7917 2703h0M8162 2703h0M8610 2700h0M8867 2701h0M8854 2702h0M8934 2700h0M8927 2701h0M9244 2703h0M9395 2702h0M9761 2703h0M9691 2700h0"/><path stroke="#c1c1cd" d="M545 2268h0M510 2267h0M778 2266h0M829 2268h0M777 2268h0M1140 2268h0M1153 2266h0M1604 2268h0M1618 2267h0M1637 2268h0M1587 2268h0M1650 2267h0M1976 2267h0M2079 2268h0M2681 2265h0M2616 2266h0M2904 2267h0M3244 2267h0M3202 2267h0M3271 2269h0M3197 2269h0M3261 2266h0M3221 2268h0M3412 2265h0M3443 2266h0M3375 2267h0M3806 2268h0M3754 2268h0M3753 2267h0M4208 2265h0M4222 2266h0M4272 2267h0M4385 2269h0M4320 2266h0M4285 2267h0M4461 2266h0M4625 2267h0M4729 2267h0M4836 2266h0M5085 2266h0M4910 2267h0M5183 2269h0M5189 2266h0M5108 2266h0M4988 2269h0M5116 2267h0M5285 2266h0M5594 2265h0M5692 2267h0M5626 2269h0M5722 2266h0M5861 2266h0M5872 2267h0M5814 2266h0M5899 2268h0M6174 2267h0M6050 2269h0M6043 2268h0M6297 2269h0M6319 2265h0M6327 2269h0M6363 2268h0M6345 2266h0M6222 2267h0M6283 2268h0M6455 2268h0M6505 2268h0M6853 2267h0M6661 2268h0M6580 2267h0M6604 2268h0M7120 2266h0M6940 2267h0M7036 2269h0M7163 2267h0M7480 2266h0M7333 2269h0M7418 2268h0M7476 2269h0M7722 2267h0M7857 2266h0M7853 2267h0M8146 2267h0M8148 2268h0M8142 2266h0M8224 2268h0M8551 2267h0M8451 2269h0M8682 2266h0M8770 2269h0M8705 2266h0M8793 2265h0M9026 2268h0M9286 2268h0M9233 2266h0M9224 2266h0M9302 2268h0M9588 2267h0M9569 2269h0"/><path stroke="#b37777" d="M495 2711h0M1244 2711h0M2580 2711h0M2345 2711h0M3689 2711h0M3485 2711h0M3662 2711h0M3496 2711h0M3867 2711h0M5089 2711h0M8975 2711h0M8893 2711h0M9586 2711h0"/><path stroke="#7777b3" d="M620 1968h0M1693 1968h0M4687 1968h0M4954 1968h0M5706 1968h0M5997 1968h0M7700 1968h0M8775 1968h0"/><path stroke="#7878b4" d="M699 1973h0M642 1975h0M713 1974h0M640 1976h0M979 1975h0M1205 1976h0M1631 1975h0M1805 1972h0M2231 1973h0M2343 1973h0M2388 1972h0M2588 1973h0M2514 1973h0M2678 1973h0M3544 1975h0M3483 1972h0M3545 1974h0M4382 1973h0M4414 1976h0M4519 1973h0M4783 1975h0M4839 1973h0M5004 1973h0M5128 1972h0M5086 1973h0M4998 1972h0M5052 1973h0M5234 1975h0M5645 1973h0M5773 1976h0M5880 1975h0M6113 1973h0M6447 1975h0M7035 1975h0M7479 1974h0M7820 1974h0M8077 1975h0M8102 1975h0M8114 1975h0M8390 1972h0M8501 1973h0M8604 1976h0M8658 1974h0M8712 1975h0M9195 1972h0"/><path stroke="#cdc1c1" d="M807 2412h0M1234 2410h0M1001 2412h0M1034 2412h0M1081 2410h0M1419 2411h0M1784 2412h0M1680 2411h0M1587 2412h0M1901 2411h0M1917 2410h0M2163 2411h0M2004 2411h0M2016 2411h0M2055 2413h0M2083 2414h0M2188 2411h0M2458 2413h0M2560 2414h0M2414 2412h0M2566 2411h0M2319 2411h0M2676 2413h0M2670 2411h0M2708 2412h0M2604 2413h0M3010 2411h0M2907 2411h0M2799 2410h0M3639 2410h0M3522 2411h0M3710 2410h0M3684 2411h0M3692 2411h0M3802 2411h0M3813 2411h0M4061 2413h0M4191 2414h0M3962 2413h0M4032 2411h0M4110 2411h0M4275 2414h0M4305 2413h0M4412 2410h0M4287 2412h0M4670 2414h0M4702 2414h0M4648 2414h0M4717 2412h0M4554 2413h0M4597 2412h0M4858 2414h0M4757 2412h0M5076 2412h0M4954 2413h0M5202 2411h0M5196 2414h0M5254 2411h0M5295 2412h0M5238 2413h0M5431 2412h0M5624 2413h0M5697 2412h0M5885 2411h0M5966 2410h0M6146 2411h0M6239 2413h0M6336 2412h0M6294 2414h0M6258 2412h0M6304 2412h0M6498 2414h0M6471 2412h0M6662 2413h0M6648 2410h0M6584 2411h0M6602 2411h0M6988 2413h0M6981 2412h0M7191 2410h0M7443 2414h0M7403 2410h0M7268 2412h0M7710 2414h0M7847 2414h0M7936 2411h0M7932 2412h0M7936 2414h0M7885 2411h0M8191 2410h0M8257 2410h0M8253 2413h0M8258 2412h0M8410 2413h0M8466 2411h0M8513 2414h0M8559 2412h0M8720 2410h0M8864 2413h0M8857 2410h0M8847 2411h0M8868 2413h0M8836 2413h0M8900 2414h0M8947 2411h0M9028 2412h0M9074 2411h0M9189 2412h0M9289 2413h0M9311 2411h0M9608 2413h0M9541 2413h0"/><path stroke="#b47878" d="M1473 2705h0M1599 2705h0M1926 2704h0M2199 2703h0M2498 2705h0M2376 2705h0M2359 2707h0M3000 2707h0M3290 2704h0M3221 2705h0M3359 2707h0M3391 2706h0M3430 2706h0M4100 2705h0M4248 2706h0M4311 2703h0M4472 2705h0M4518 2704h0M4957 2707h0M5084 2705h0M4996 2706h0M5054 2704h0M5213 2707h0M5424 2703h0M5434 2707h0M5424 2707h0M5985 2704h0M6002 2707h0M5979 2703h0M6115 2706h0M6114 2704h0M6271 2705h0M6430 2706h0M6492 2705h0M6529 2705h0M6768 2706h0M6759 2704h0M6681 2704h0M6821 2704h0M6974 2706h0M7799 2704h0M7820 2706h0M7624 2704h0M7670 2706h0M7899 2705h0M8348 2705h0M8245 2707h0M8480 2706h0M8978 2707h0M9129 2707h0M9249 2707h0M9450 2706h0M9378 2706h0M9701 2706h0M9537 2706h0"/><path stroke="#c2c2cd" d="M551 2271h0M1219 2273h0M950 2272h0M973 2273h0M1205 2273h0M1133 2271h0M1116 2272h0M1274 2272h0M1456 2271h0M1368 2271h0M1344 2270h0M1617 2270h0M1685 2272h0M1731 2270h0M2049 2269h0M2307 2271h0M2942 2272h0M2918 2269h0M3020 2272h0M3364 2271h0M3679 2270h0M3373 2272h0M3745 2273h0M3808 2270h0M4025 2272h0M4070 2271h0M4001 2273h0M4284 2271h0M4653 2273h0M4579 2271h0M4528 2271h0M4564 2269h0M4855 2271h0M5117 2270h0M4967 2273h0M5184 2273h0M5239 2270h0M5596 2271h0M5683 2270h0M5656 2271h0M5638 2273h0M5639 2269h0M5761 2271h0M5776 2271h0M5872 2273h0M5827 2270h0M5792 2272h0M6426 2270h0M6330 2270h0M6340 2271h0M6414 2272h0M6499 2271h0M6494 2270h0M6645 2270h0M6684 2272h0M6702 2269h0M6649 2270h0M6961 2272h0M7148 2271h0M7069 2272h0M7307 2270h0M7527 2269h0M7373 2271h0M7515 2270h0M7675 2272h0M7819 2272h0M7958 2271h0M7957 2273h0M8003 2272h0M8562 2270h0M8784 2270h0M8773 2272h0M8753 2273h0M8982 2270h0M9126 2273h0M9063 2272h0M9263 2270h0M9248 2271h0M9493 2273h0"/><path stroke="#b37676" d="M505 2712h0M762 2715h0M1367 2713h0M1306 2714h0M1683 2713h0M1638 2715h0M1999 2714h0M2507 2714h0M2313 2714h0M2412 2712h0M2708 2712h0M2969 2713h0M3088 2714h0M3135 2712h0M3209 2713h0M3214 2711h0M3198 2713h0M3223 2713h0M3521 2713h0M3415 2714h0M3762 2713h0M3779 2714h0M4195 2714h0M4046 2713h0M3985 2714h0M4353 2715h0M4729 2714h0M4929 2715h0M5075 2712h0M5108 2713h0M5224 2715h0M5443 2715h0M5441 2713h0M6352 2712h0M6754 2713h0M6704 2714h0M6607 2715h0M6810 2713h0M6990 2713h0M7692 2715h0M7638 2713h0M7628 2712h0M7921 2713h0M8756 2713h0M8767 2713h0M8797 2714h0M9023 2714h0M9126 2714h0M9300 2712h0M9499 2713h0M9489 2712h0"/><path stroke="#7777b4" d="M511 1970h0M561 1970h0M1516 1970h0M1811 1969h0M1978 1972h0M2244 1969h0M2077 1970h0M2006 1970h0M2012 1970h0M2495 1969h0M2444 1971h0M2382 1971h0M2312 1969h0M2623 1970h0M3299 1971h0M3489 1969h0M3862 1971h0M3813 1969h0M3751 1969h0M4205 1970h0M4107 1970h0M4179 1969h0M4350 1969h0M4647 1969h0M4730 1969h0M4472 1971h0M4522 1971h0M4691 1972h0M4832 1969h0M5193 1971h0M5214 1970h0M5624 1970h0M5666 1969h0M5963 1970h0M5818 1970h0M5781 1970h0M6127 1971h0M6063 1969h0M6074 1971h0M6155 1969h0M6449 1971h0M6772 1971h0M7455 1971h0M7292 1970h0M7822 1970h0M7909 1970h0M8047 1970h0M8244 1970h0M8331 1969h0M8338 1970h0M8214 1970h0M8323 1969h0M8213 1969h0M8344 1969h0M8475 1969h0M8711 1970h0M8773 1969h0M8810 1969h0M8857 1970h0M8895 1970h0M9114 1971h0M9248 1969h0"/><path stroke="#7676b3" d="M523 1967h0M703 1965h0M624 1964h0M680 1968h0M686 1964h0M694 1966h0M692 1965h0M1151 1965h0M1116 1966h0M1247 1965h0M1351 1966h0M1574 1965h0M1870 1964h0M2023 1965h0M2029 1966h0M2172 1965h0M2436 1967h0M2566 1966h0M2474 1967h0M2654 1964h0M2775 1967h0M3143 1967h0M3234 1964h0M3658 1967h0M3728 1966h0M3652 1967h0M4045 1966h0M4096 1965h0M4363 1967h0M4532 1966h0M5191 1965h0M4996 1964h0M5308 1964h0M5446 1967h0M5600 1964h0M6019 1965h0M6412 1966h0M6328 1965h0M6518 1966h0M6589 1965h0M6794 1964h0M7203 1965h0M7390 1967h0M7304 1967h0M7291 1965h0M7515 1967h0M7804 1967h0M7602 1965h0M7959 1964h0M8058 1964h0M7989 1964h0M8164 1966h0M8323 1966h0M8275 1965h0M8679 1966h0M8745 1964h0M8795 1967h0M8868 1966h0M8974 1966h0M9056 1965h0M9121 1964h0M9216 1965h0M9267 1965h0"/><path stroke="#cdc2c2" d="M501 2408h0M762 2408h0M828 2407h0M796 2408h0M1148 2407h0M1027 2408h0M1164 2409h0M947 2407h0M1051 2409h0M956 2409h0M1459 2409h0M1345 2406h0M1823 2409h0M1656 2408h0M1838 2409h0M1607 2408h0M1688 2407h0M2241 2408h0M2150 2408h0M2408 2406h0M2355 2408h0M2440 2407h0M2647 2407h0M2699 2410h0M3131 2409h0M2983 2406h0M2901 2407h0M3270 2409h0M3304 2406h0M3562 2408h0M3553 2406h0M3629 2406h0M3535 2408h0M3346 2409h0M3369 2407h0M3722 2409h0M3885 2409h0M4235 2406h0M4116 2409h0M4217 2410h0M4146 2406h0M4277 2408h0M4272 2409h0M4744 2406h0M4730 2408h0M4506 2407h0M4581 2407h0M4759 2407h0M4766 2410h0M4903 2410h0M5134 2407h0M5301 2407h0M5244 2406h0M5475 2410h0M5426 2409h0M5714 2409h0M5837 2406h0M5935 2407h0M5856 2409h0M5932 2409h0M6080 2407h0M6262 2407h0M6367 2410h0M6427 2408h0M6266 2408h0M6694 2408h0M6634 2409h0M6792 2406h0M6608 2406h0M6623 2406h0M6586 2408h0M6587 2409h0M7140 2409h0M7525 2406h0M7462 2409h0M7352 2409h0M7817 2409h0M8063 2406h0M8173 2407h0M8134 2408h0M8164 2407h0M8146 2409h0M8156 2408h0M8327 2407h0M8363 2408h0M8214 2406h0M8300 2408h0M8290 2409h0M8384 2406h0M8389 2406h0M8389 2409h0M8555 2409h0M8632 2406h0M8775 2406h0M8781 2407h0M8800 2410h0M8820 2407h0M9030 2407h0M9263 2406h0M9259 2407h0"/><path stroke="#b47777" d="M1047 2709h0M1108 2710h0M1250 2709h0M1457 2708h0M1375 2710h0M1684 2710h0M1616 2707h0M1652 2709h0M1565 2709h0M2493 2710h0M2332 2709h0M2658 2709h0M2993 2709h0M2837 2708h0M3474 2709h0M3800 2709h0M4228 2708h0M4025 2710h0M4417 2709h0M4730 2709h0M4579 2710h0M4669 2710h0M4767 2708h0M4784 2708h0M5437 2708h0M5902 2709h0M6370 2710h0M6264 2709h0M6666 2710h0M6601 2711h0M7065 2709h0M7178 2709h0M7513 2709h0M7683 2709h0M7837 2709h0M7713 2708h0M7766 2711h0M7751 2711h0M7812 2710h0M7626 2708h0M7929 2709h0M8252 2710h0M8534 2710h0M8971 2710h0M8925 2708h0M8963 2710h0M8899 2708h0M9097 2708h0M9058 2709h0M9086 2710h0M9316 2710h0M9501 2709h0M9619 2710h0"/><path stroke="#cdc3c3" d="M546 2405h0M517 2404h0M765 2405h0M802 2404h0M962 2405h0M1076 2405h0M1166 2405h0M1103 2405h0M1510 2405h0M1852 2405h0M1579 2406h0M2147 2405h0M2732 2405h0M3184 2405h0M3543 2405h0M3807 2405h0M3892 2405h0M4210 2405h0M4585 2405h0M4839 2405h0M4788 2406h0M4821 2405h0M5076 2405h0M5264 2405h0M5466 2406h0M5401 2405h0M5619 2405h0M5862 2405h0M6146 2405h0M6392 2405h0M6252 2406h0M6506 2405h0M6493 2405h0M6854 2406h0M7003 2405h0M7115 2405h0M7293 2405h0M7406 2406h0M7445 2405h0M7848 2406h0M7881 2405h0M8237 2405h0M8284 2405h0M8357 2406h0M8342 2405h0M8718 2404h0M8918 2405h0M9118 2405h0"/><path stroke="#7575b3" d="M555 1961h0M648 1962h0M806 1961h0M1219 1963h0M1335 1963h0M1401 1960h0M1785 1961h0M1931 1963h0M2056 1962h0M2224 1963h0M2097 1964h0M2488 1963h0M2672 1963h0M2798 1961h0M3079 1960h0M2995 1960h0M3444 1961h0M3793 1960h0M4482 1960h0M4598 1962h0M4574 1961h0M4758 1961h0M5147 1963h0M5005 1961h0M4947 1960h0M5584 1964h0M5839 1963h0M5776 1960h0M5901 1962h0M6042 1963h0M6125 1962h0M6316 1960h0M6417 1963h0M6278 1960h0M6383 1963h0M6528 1963h0M6539 1962h0M6929 1961h0M7101 1963h0M7425 1963h0M7503 1963h0M7506 1960h0M7712 1960h0M7636 1962h0M7765 1964h0M7941 1961h0M7954 1960h0M7997 1961h0M8056 1961h0M8506 1961h0M8846 1961h0M9029 1962h0M9228 1960h0"/><path stroke="#b37575" d="M827 2716h0M1200 2717h0M1060 2718h0M1250 2717h0M1067 2716h0M1485 2716h0M1419 2719h0M1982 2715h0M1973 2717h0M1602 2718h0M1710 2716h0M2119 2716h0M2079 2716h0M2368 2718h0M2503 2717h0M2636 2718h0M2803 2719h0M3016 2716h0M3108 2716h0M3186 2716h0M3291 2719h0M3501 2717h0M3624 2717h0M3460 2716h0M4245 2719h0M3971 2717h0M4198 2719h0M4356 2717h0M4674 2717h0M4546 2717h0M4819 2717h0M4958 2717h0M5070 2717h0M5223 2719h0M5459 2718h0M5427 2717h0M5917 2719h0M6175 2719h0M6446 2717h0M6315 2716h0M6275 2717h0M6393 2717h0M6520 2716h0M6488 2719h0M7358 2717h0M7780 2717h0M8147 2717h0M8254 2718h0M8372 2717h0M8671 2719h0M8746 2719h0M8831 2718h0M8963 2717h0M9217 2717h0M9454 2719h0M9335 2716h0M9375 2717h0M9576 2717h0M9647 2716h0M9713 2718h0"/><path stroke="#c3c3cd" d="M1161 2274h0M1354 2274h0M1283 2274h0M1908 2275h0M2161 2274h0M2222 2274h0M2151 2274h0M2570 2275h0M2403 2274h0M3041 2273h0M3145 2274h0M4531 2274h0M5180 2275h0M4941 2274h0M5005 2273h0M5313 2273h0M5616 2274h0M5500 2274h0M6160 2273h0M6040 2274h0M6432 2275h0M6312 2274h0M6763 2274h0M6756 2275h0M6627 2274h0M6649 2274h0M7099 2274h0M7380 2275h0M8031 2273h0M8292 2275h0M8340 2274h0M8506 2274h0M8489 2274h0M8748 2274h0M8824 2274h0M8946 2273h0M9113 2274h0M9268 2275h0M9248 2274h0"/><path stroke="#b27474" d="M1811 2723h0M1809 2723h0M2419 2723h0M3203 2723h0M3906 2723h0M4033 2722h0M4739 2723h0M4564 2723h0M5654 2723h0M6007 2723h0M6422 2723h0M6817 2723h0M6826 2723h0M6858 2723h0M7368 2722h0M7699 2723h0M7745 2723h0M7947 2723h0M7876 2723h0M8759 2723h0M8805 2723h0M8978 2723h0M9221 2723h0M9358 2723h0M9595 2723h0"/><path stroke="#7474b2" d="M2026 1956h0M3038 1956h0M3283 1956h0M3837 1956h0M4603 1957h0M4548 1957h0M5593 1956h0M6325 1956h0M6946 1956h0M7149 1956h0M7504 1956h0M7692 1956h0M8730 1956h0"/><path stroke="#7474b3" d="M530 1958h0M836 1957h0M992 1958h0M1403 1957h0M1376 1960h0M1669 1959h0M1840 1958h0M2157 1959h0M2173 1959h0M2135 1958h0M2449 1959h0M2539 1959h0M3285 1959h0M3708 1959h0M3864 1959h0M3878 1958h0M4127 1957h0M4190 1959h0M4109 1959h0M4149 1957h0M4350 1957h0M4306 1958h0M4522 1959h0M5092 1957h0M5175 1959h0M5012 1958h0M5699 1957h0M6092 1958h0M6088 1958h0M6497 1959h0M7077 1958h0M7336 1958h0M7337 1957h0M7896 1957h0M8043 1957h0M8087 1959h0M8113 1957h0M8097 1959h0M8351 1959h0M8268 1958h0M8311 1959h0M8601 1959h0M8726 1959h0M8805 1957h0M9206 1959h0M9232 1959h0"/><path stroke="#b27373" d="M502 2725h0M796 2726h0M1191 2726h0M1049 2725h0M1041 2727h0M1332 2724h0M1318 2726h0M1819 2727h0M1676 2725h0M1850 2725h0M1781 2726h0M1888 2727h0M1708 2727h0M1973 2727h0M1580 2726h0M1876 2726h0M2498 2726h0M2316 2726h0M2635 2725h0M3099 2727h0M2902 2726h0M2803 2725h0M3060 2726h0M3500 2726h0M3597 2724h0M3803 2726h0M4241 2727h0M4050 2726h0M4111 2724h0M4280 2725h0M4585 2725h0M4484 2726h0M4984 2727h0M5100 2724h0M5032 2727h0M5235 2725h0M5239 2727h0M5508 2726h0M5646 2724h0M5932 2726h0M5844 2727h0M6146 2725h0M6067 2726h0M6059 2727h0M6484 2726h0M6492 2724h0M6828 2727h0M7187 2725h0M7008 2727h0M7354 2727h0M7714 2724h0M7644 2725h0M8222 2727h0M8585 2724h0M8838 2724h0M8857 2725h0M9127 2726h0M9358 2726h0"/><path stroke="#cec3c3" d="M537 2403h0M528 2404h0M998 2404h0M1206 2404h0M1138 2404h0M1439 2404h0M1475 2404h0M1813 2402h0M2082 2403h0M2046 2403h0M2408 2403h0M2506 2404h0M3259 2402h0M3503 2403h0M3727 2404h0M3415 2404h0M3464 2404h0M3884 2404h0M3784 2402h0M4093 2403h0M4191 2404h0M4233 2404h0M4026 2404h0M3979 2402h0M4274 2403h0M4472 2403h0M4636 2404h0M4728 2403h0M4927 2404h0M5096 2403h0M5400 2404h0M6005 2403h0M5934 2402h0M6062 2403h0M6342 2402h0M6227 2404h0M6476 2404h0M6502 2402h0M7101 2404h0M7113 2402h0M7281 2404h0M7307 2404h0M7355 2402h0M7600 2402h0M7645 2402h0M7852 2403h0M7727 2403h0M7833 2402h0M7714 2403h0M7890 2402h0M8356 2403h0M8296 2402h0M8687 2403h0M8743 2404h0M8871 2404h0M8979 2402h0M9248 2404h0M9505 2402h0"/><path stroke="#c3c3ce" d="M549 2275h0M842 2276h0M774 2276h0M1141 2275h0M1247 2276h0M1251 2276h0M1484 2275h0M1532 2277h0M1474 2277h0M1855 2276h0M1638 2276h0M2334 2277h0M2877 2276h0M3549 2276h0M3679 2277h0M3506 2277h0M3628 2277h0M3768 2276h0M3859 2277h0M4186 2277h0M3939 2277h0M3940 2275h0M4062 2275h0M4364 2277h0M4465 2277h0M4782 2277h0M4847 2277h0M5124 2277h0M4995 2276h0M5077 2277h0M5301 2277h0M5257 2276h0M5576 2276h0M5729 2275h0M5769 2276h0M5983 2276h0M6084 2276h0M6050 2275h0M6431 2276h0M6418 2275h0M6268 2275h0M6316 2277h0M6611 2277h0M6635 2277h0M7068 2277h0M7093 2276h0M7321 2277h0M7341 2277h0M7351 2276h0M7634 2276h0M7807 2275h0M7891 2276h0M8225 2277h0M8536 2275h0M8544 2275h0M8473 2276h0M8529 2276h0M8753 2275h0M8965 2277h0M9268 2276h0M9230 2277h0"/><path stroke="#7373b2" d="M507 1952h0M685 1952h0M683 1953h0M644 1954h0M650 1953h0M1196 1953h0M1521 1955h0M2073 1954h0M2388 1953h0M2323 1953h0M2516 1955h0M3493 1955h0M4125 1955h0M4413 1956h0M4622 1954h0M4856 1953h0M5148 1952h0M5501 1955h0M5602 1953h0M5569 1954h0M5558 1954h0M5611 1952h0M5642 1954h0M6150 1952h0M6155 1955h0M6545 1956h0M6695 1953h0M7036 1953h0M7471 1955h0M7846 1956h0M7912 1953h0M7871 1955h0M7992 1954h0M8346 1955h0M8572 1954h0M8662 1952h0M8740 1954h0M8756 1953h0M9232 1952h0"/><path stroke="#b37474" d="M1133 2722h0M1996 2720h0M1685 2720h0M2368 2722h0M2564 2720h0M2310 2720h0M2709 2720h0M2926 2722h0M3151 2721h0M2969 2722h0M3732 2720h0M3556 2721h0M3669 2720h0M3874 2720h0M3894 2721h0M3858 2722h0M4021 2722h0M3948 2721h0M4420 2721h0M4726 2721h0M5291 2720h0M5234 2722h0M5706 2720h0M6012 2722h0M6245 2720h0M7137 2720h0M6954 2720h0M7375 2722h0M7425 2720h0M7856 2720h0M7883 2722h0M8286 2721h0M8328 2720h0M8688 2721h0M8968 2721h0M9269 2722h0M9289 2720h0M9294 2720h0M9696 2721h0"/><path stroke="#cec4c4" d="M559 2398h0M554 2401h0M527 2398h0M741 2399h0M830 2399h0M741 2400h0M842 2401h0M958 2400h0M1082 2400h0M1148 2400h0M1179 2399h0M1296 2398h0M1834 2400h0M1623 2398h0M1626 2400h0M1781 2400h0M1663 2401h0M1567 2401h0M1830 2398h0M1766 2399h0M2244 2399h0M2184 2401h0M2464 2401h0M2402 2400h0M2815 2401h0M3055 2399h0M3145 2399h0M2874 2398h0M2933 2399h0M2803 2398h0M3606 2400h0M3840 2402h0M4143 2398h0M4140 2402h0M4346 2400h0M4667 2401h0M4659 2399h0M4613 2399h0M4546 2399h0M4677 2399h0M4650 2399h0M4730 2401h0M5104 2399h0M5075 2401h0M5249 2401h0M5549 2401h0M5490 2399h0M5594 2398h0M5714 2398h0M5675 2399h0M5790 2399h0M5946 2400h0M5792 2402h0M6167 2400h0M6079 2399h0M6378 2401h0M6244 2402h0M6363 2400h0M6373 2399h0M6539 2399h0M6544 2400h0M6483 2399h0M6482 2400h0M6623 2400h0M6806 2402h0M6685 2400h0M6773 2399h0M7035 2401h0M7123 2400h0M7163 2399h0M7088 2400h0M6913 2402h0M7005 2400h0M7438 2400h0M7529 2401h0M7488 2399h0M7354 2400h0M7662 2399h0M7793 2401h0M7658 2398h0M8237 2399h0M8237 2399h0M8358 2401h0M8300 2400h0M8716 2400h0M8743 2399h0M8914 2399h0M9048 2401h0M9233 2399h0M9306 2400h0"/><path stroke="#7272b2" d="M630 1950h0M579 1949h0M1202 1950h0M1494 1949h0M2209 1951h0M2085 1949h0M2501 1948h0M2712 1949h0M2830 1949h0M2812 1949h0M2818 1948h0M3134 1951h0M3624 1948h0M3620 1949h0M3746 1952h0M4106 1951h0M4188 1950h0M4300 1949h0M4282 1951h0M4722 1948h0M4581 1949h0M4676 1951h0M5132 1948h0M4980 1948h0M5221 1951h0M5620 1951h0M5964 1949h0M5887 1949h0M5871 1951h0M6293 1950h0M6461 1952h0M6965 1951h0M6922 1951h0M7416 1949h0M7425 1949h0M7721 1948h0M7708 1948h0M8015 1950h0M8061 1949h0M8100 1951h0M8451 1950h0M8860 1951h0M8960 1950h0M9075 1949h0M9251 1949h0"/><path stroke="#7171b1" d="M684 1945h0M1038 1944h0M2251 1944h0M2545 1944h0M2826 1944h0M4085 1945h0M4543 1944h0M4666 1944h0M4808 1945h0M4794 1944h0M8121 1944h0M8015 1945h0M8235 1944h0M8314 1944h0"/><path stroke="#c4c4ce" d="M752 2277h0M770 2278h0M745 2279h0M1147 2280h0M1163 2278h0M1445 2280h0M1290 2281h0M1679 2281h0M1938 2280h0M1654 2279h0M1704 2278h0M1574 2279h0M1630 2279h0M2035 2278h0M2157 2279h0M2076 2281h0M2183 2281h0M2142 2279h0M2126 2277h0M2474 2280h0M2402 2280h0M2700 2277h0M2662 2279h0M2604 2277h0M2966 2281h0M2853 2279h0M2815 2279h0M2855 2278h0M3134 2281h0M3081 2281h0M3215 2281h0M3256 2280h0M3650 2280h0M3574 2279h0M3711 2279h0M3662 2281h0M3514 2281h0M3503 2279h0M3883 2278h0M3836 2278h0M3747 2280h0M3804 2281h0M4076 2278h0M4164 2279h0M4184 2280h0M4032 2277h0M4349 2278h0M4271 2278h0M4390 2281h0M4332 2279h0M4625 2279h0M4670 2278h0M4627 2279h0M4611 2278h0M5102 2278h0M5097 2281h0M5086 2279h0M5163 2280h0M5124 2280h0M5112 2278h0M4983 2277h0M5275 2278h0M5495 2280h0M5929 2280h0M5985 2280h0M5877 2280h0M5800 2278h0M6158 2281h0M6185 2280h0M6451 2280h0M6403 2281h0M6519 2281h0M6537 2279h0M6828 2280h0M6782 2279h0M6680 2279h0M6615 2278h0M6652 2280h0M6739 2281h0M7206 2281h0M7067 2278h0M7480 2278h0M7292 2279h0M7505 2280h0M7272 2280h0M7757 2280h0M7723 2279h0M7751 2279h0M7809 2280h0M7849 2278h0M7681 2281h0M7698 2281h0M8141 2278h0M8174 2281h0M8287 2278h0M8240 2280h0M8236 2278h0M8323 2281h0M8214 2279h0M8275 2280h0M8446 2278h0M8440 2278h0M8773 2278h0M8753 2281h0M8712 2279h0M8831 2279h0M8834 2279h0M8929 2279h0M8908 2277h0M8901 2278h0M9047 2278h0M9016 2278h0M9261 2281h0M9251 2279h0M9283 2278h0M9286 2279h0M9235 2279h0"/><path stroke="#b27272" d="M1139 2728h0M1147 2730h0M1222 2729h0M953 2729h0M1560 2729h0M1603 2728h0M1792 2729h0M2346 2730h0M2486 2731h0M2731 2730h0M3086 2728h0M3173 2730h0M3090 2729h0M2788 2731h0M3217 2731h0M3280 2728h0M3569 2729h0M3727 2728h0M3469 2730h0M4246 2729h0M4023 2731h0M4231 2728h0M3954 2730h0M4569 2729h0M4788 2728h0M5176 2728h0M5434 2731h0M5603 2731h0M5780 2728h0M5826 2728h0M5843 2729h0M5998 2730h0M6287 2731h0M6442 2731h0M6361 2728h0M6315 2730h0M6653 2730h0M6819 2729h0M7177 2731h0M7419 2729h0M7436 2728h0M7924 2730h0M8496 2731h0M8491 2730h0M8761 2730h0M8830 2731h0M9076 2728h0M9351 2729h0M9423 2729h0M9684 2729h0M9703 2728h0M9633 2729h0M9562 2731h0"/><path stroke="#b17171" d="M1822 2735h0M1911 2734h0M2185 2734h0M3281 2735h0M4196 2734h0M4022 2735h0M4819 2735h0M6420 2735h0M6971 2735h0M7686 2735h0M7601 2734h0M8139 2735h0M8302 2734h0M8515 2735h0M8967 2735h0M9113 2735h0M9118 2735h0"/><path stroke="#7171b2" d="M568 1947h0M597 1946h0M761 1948h0M1007 1945h0M1159 1946h0M1095 1948h0M1373 1945h0M1303 1945h0M1630 1947h0M1579 1946h0M2064 1946h0M2160 1946h0M2380 1946h0M2523 1946h0M2356 1947h0M2892 1947h0M2963 1946h0M3196 1948h0M3283 1945h0M3505 1946h0M3539 1945h0M3852 1947h0M4669 1947h0M4702 1947h0M5068 1946h0M5270 1946h0M5535 1948h0M6787 1947h0M6941 1947h0M8016 1948h0M8044 1946h0M8155 1945h0M8313 1946h0M8486 1946h0M8624 1945h0M8671 1946h0"/><path stroke="#b17070" d="M547 2738h0M1217 2736h0M1424 2739h0M1773 2736h0M1755 2736h0M1861 2737h0M1879 2736h0M1841 2738h0M2149 2739h0M2372 2736h0M2533 2737h0M2354 2738h0M2698 2738h0M3137 2739h0M3183 2736h0M3034 2736h0M2942 2736h0M2998 2739h0M3551 2739h0M3349 2739h0M3893 2739h0M3841 2736h0M4134 2736h0M4218 2739h0M4647 2739h0M4633 2739h0M4470 2737h0M4973 2738h0M5285 2737h0M5547 2739h0M5583 2737h0M5475 2737h0M5540 2737h0M5651 2739h0M5636 2739h0M5945 2739h0M6093 2737h0M6165 2738h0M6100 2739h0M6226 2737h0M6396 2738h0M6418 2739h0M6474 2740h0M7467 2737h0M7765 2737h0M7717 2738h0M7715 2739h0M7640 2736h0M7935 2737h0M7885 2736h0M8358 2739h0M8393 2736h0M8401 2738h0M8609 2737h0M8688 2737h0M8618 2737h0M8767 2739h0M8904 2737h0M8965 2739h0M9272 2736h0M9433 2739h0M9617 2736h0M9669 2737h0M9525 2736h0M9687 2739h0"/><path stroke="#c5c5ce" d="M494 2285h0M511 2285h0M574 2285h0M715 2282h0M841 2283h0M848 2285h0M1241 2284h0M1232 2284h0M1421 2284h0M1268 2284h0M1568 2285h0M1850 2281h0M1846 2281h0M1857 2284h0M1601 2285h0M2017 2285h0M2038 2283h0M2133 2281h0M2059 2283h0M2181 2284h0M2228 2284h0M2560 2284h0M2305 2284h0M2363 2282h0M2354 2283h0M2623 2284h0M2645 2285h0M3169 2284h0M3091 2282h0M2960 2284h0M2911 2283h0M2808 2284h0M3400 2285h0M3591 2285h0M3497 2285h0M3830 2284h0M3778 2284h0M4044 2285h0M4237 2281h0M4384 2284h0M4467 2282h0M4469 2283h0M4897 2285h0M5278 2285h0M5213 2283h0M5454 2282h0M5554 2283h0M5587 2283h0M5661 2284h0M5715 2283h0M5764 2283h0M6006 2285h0M5915 2283h0M5888 2282h0M6019 2282h0M6014 2282h0M6142 2284h0M6100 2282h0M6088 2285h0M6230 2283h0M6406 2283h0M6337 2285h0M6371 2285h0M6504 2283h0M6782 2282h0M6604 2284h0M6860 2284h0M6679 2285h0M7061 2283h0M7278 2283h0M7524 2282h0M7492 2285h0M7406 2281h0M7384 2285h0M7379 2284h0M7747 2285h0M7632 2284h0M7774 2284h0M7639 2285h0M7913 2284h0M8258 2282h0M8312 2283h0M8468 2282h0M8551 2282h0M8496 2282h0M8621 2283h0M8790 2284h0M8862 2282h0M8910 2283h0M8919 2284h0M9034 2285h0M9015 2283h0M9183 2282h0"/><path stroke="#cec5c5" d="M547 2397h0M842 2398h0M738 2395h0M999 2397h0M1220 2395h0M956 2394h0M1153 2396h0M1097 2397h0M968 2397h0M947 2394h0M949 2397h0M1229 2396h0M1395 2394h0M1280 2396h0M1350 2397h0M1366 2397h0M1407 2394h0M1386 2395h0M1439 2397h0M1507 2396h0M1987 2397h0M1791 2396h0M1597 2395h0M1690 2397h0M1903 2396h0M1569 2395h0M1720 2394h0M2155 2394h0M2083 2395h0M2015 2397h0M2486 2394h0M2438 2396h0M2603 2395h0M2826 2396h0M3004 2396h0M2863 2398h0M3230 2395h0M3710 2395h0M3575 2396h0M3478 2397h0M3709 2397h0M3645 2397h0M3865 2397h0M3860 2394h0M4105 2396h0M4011 2397h0M4141 2398h0M4041 2397h0M4343 2397h0M4644 2398h0M4601 2396h0M4621 2396h0M5099 2396h0M4963 2398h0M4938 2394h0M4923 2397h0M5476 2396h0M5611 2395h0M5491 2394h0M5414 2395h0M5455 2395h0M5699 2396h0M5994 2394h0M5825 2397h0M6007 2395h0M5775 2395h0M6118 2397h0M6185 2396h0M6177 2396h0M6226 2397h0M6384 2397h0M6286 2396h0M6362 2394h0M6657 2396h0M6641 2395h0M6736 2397h0M6594 2395h0M7048 2395h0M7146 2394h0M7212 2397h0M7043 2396h0M7373 2396h0M7272 2395h0M7370 2397h0M7453 2397h0M7436 2395h0M7445 2395h0M7295 2397h0M7348 2397h0M7291 2397h0M7770 2396h0M7757 2395h0M7724 2396h0M7720 2395h0M7734 2397h0M7947 2397h0M8166 2394h0M8367 2396h0M8226 2395h0M8282 2396h0M8364 2395h0M8373 2397h0M8249 2397h0M8594 2394h0M8674 2398h0M8708 2397h0M8789 2397h0M8852 2398h0M9086 2394h0M9057 2398h0M9249 2396h0M9235 2397h0M9366 2397h0M9754 2397h0"/><path stroke="#7070b1" d="M667 1943h0M735 1943h0M640 1940h0M694 1943h0M999 1941h0M1175 1940h0M1022 1943h0M999 1940h0M1306 1940h0M1925 1941h0M1875 1943h0M1962 1941h0M1804 1941h0M1868 1943h0M2115 1941h0M2781 1941h0M3691 1943h0M3519 1944h0M3755 1941h0M4069 1942h0M4680 1941h0M4752 1941h0M4816 1943h0M4988 1940h0M5493 1941h0M5543 1942h0M5855 1941h0M5908 1941h0M5831 1940h0M6118 1940h0M6128 1941h0M6293 1940h0M6272 1941h0M6416 1943h0M6755 1943h0M6704 1941h0M6845 1940h0M6807 1943h0M7136 1942h0M7381 1943h0M7661 1942h0M8069 1942h0M8045 1940h0M8088 1943h0M7997 1940h0M8106 1941h0M8223 1942h0M8303 1943h0M8280 1942h0M8932 1940h0M8897 1941h0M9126 1941h0M9075 1940h0M9182 1942h0M9243 1944h0"/><path stroke="#b27171" d="M1252 2733h0M1051 2734h0M1046 2733h0M1926 2734h0M1713 2732h0M2207 2734h0M2601 2732h0M3603 2733h0M3463 2733h0M3438 2733h0M3532 2733h0M4251 2732h0M4088 2734h0M4019 2734h0M4053 2732h0M4113 2733h0M4369 2734h0M4410 2734h0M4315 2734h0M4471 2733h0M4479 2734h0M4561 2733h0M5060 2733h0M5309 2732h0M5497 2733h0M5599 2733h0M5714 2733h0M6290 2732h0M6512 2734h0M7077 2733h0M7492 2733h0M7367 2732h0M7668 2732h0M7684 2734h0M8142 2734h0M8733 2732h0M9214 2733h0M9372 2732h0M9707 2734h0M9715 2733h0"/><path stroke="#b16f6f" d="M512 2743h0M544 2743h0M764 2742h0M986 2742h0M1039 2741h0M952 2742h0M1354 2741h0M1436 2740h0M1523 2744h0M1571 2743h0M1644 2741h0M1848 2741h0M1849 2740h0M1714 2740h0M1692 2742h0M2091 2741h0M2215 2744h0M2471 2741h0M2478 2741h0M2521 2743h0M2872 2741h0M3611 2741h0M3480 2742h0M3445 2742h0M3846 2743h0M4231 2741h0M4076 2740h0M3968 2742h0M4329 2740h0M4302 2742h0M4463 2740h0M4532 2743h0M4506 2743h0M4759 2741h0M4804 2741h0M5115 2741h0M5505 2740h0M5455 2740h0M5401 2741h0M5705 2741h0M5804 2742h0M5810 2743h0M6404 2743h0M6343 2741h0M6253 2740h0M6364 2743h0M6304 2743h0M6376 2741h0M6235 2742h0M6431 2740h0M6708 2740h0M6658 2743h0M6720 2741h0M6634 2743h0M6758 2742h0M6812 2742h0M7286 2743h0M7343 2740h0M7491 2741h0M7365 2740h0M8324 2743h0M8471 2740h0M8617 2741h0M8767 2743h0M9029 2743h0M9256 2741h0M9251 2741h0M9343 2741h0M9660 2741h0M9616 2740h0M9502 2742h0"/><path stroke="#6f6fb1" d="M500 1937h0M558 1937h0M622 1936h0M716 1939h0M609 1937h0M701 1940h0M732 1938h0M1455 1936h0M1522 1937h0M1348 1938h0M1990 1937h0M1906 1937h0M1949 1940h0M1922 1937h0M2335 1938h0M2587 1937h0M2919 1938h0M3180 1939h0M3628 1937h0M3459 1936h0M3810 1937h0M3892 1937h0M4080 1937h0M4292 1938h0M4307 1938h0M4392 1939h0M4723 1938h0M4900 1938h0M5286 1939h0M5612 1939h0M5619 1938h0M5661 1939h0M5699 1937h0M6100 1937h0M6301 1939h0M6249 1936h0M6470 1938h0M6775 1937h0M7193 1939h0M7032 1937h0M7172 1939h0M7330 1938h0M8075 1937h0M8084 1938h0M8088 1936h0M7999 1936h0M8163 1936h0M8347 1940h0M8649 1938h0M8630 1939h0M8777 1936h0M8919 1938h0M9026 1936h0M9091 1938h0M9278 1937h0"/><path stroke="#c6c6ce" d="M631 2286h0M1128 2286h0M998 2286h0M1267 2286h0M1358 2285h0M2211 2287h0M2566 2287h0M2550 2286h0M3615 2286h0M3499 2286h0M3563 2286h0M3766 2286h0M3807 2286h0M4069 2286h0M3993 2286h0M4359 2286h0M5217 2285h0M5701 2286h0M5893 2286h0M5858 2287h0M6031 2286h0M6331 2285h0M6223 2286h0M6743 2285h0M6638 2286h0M6714 2286h0M7053 2286h0M7645 2286h0M7840 2286h0M8573 2286h0M8922 2286h0M9233 2286h0"/><path stroke="#6e6eb0" d="M570 1933h0M961 1932h0M946 1932h0M1035 1932h0M2513 1932h0M2829 1933h0M4033 1932h0M5536 1932h0M5727 1933h0M6133 1933h0M6322 1933h0M6676 1932h0M7472 1932h0M7843 1932h0M7730 1933h0M8552 1933h0"/><path stroke="#b06e6e" d="M740 2747h0M1299 2746h0M2212 2747h0M2244 2746h0M2439 2746h0M2705 2747h0M3064 2747h0M3482 2747h0M3908 2746h0M4122 2747h0M4015 2747h0M4412 2747h0M4857 2747h0M4800 2748h0M5535 2746h0M5996 2746h0M5891 2747h0M5901 2747h0M6180 2747h0M6255 2746h0M6527 2747h0M6778 2747h0M7126 2747h0M7933 2746h0M8177 2747h0M9319 2747h0M9520 2747h0M9489 2746h0"/><path stroke="#cec6c6" d="M1270 2393h0M1824 2393h0M2498 2393h0M2733 2393h0M3093 2393h0M3032 2393h0M2879 2393h0M3611 2393h0M3493 2393h0M5191 2393h0M5082 2393h0M4942 2393h0M5811 2393h0M6062 2394h0M6338 2393h0M6430 2393h0M6724 2393h0M6724 2393h0M6706 2393h0M7328 2393h0M7449 2393h0M7798 2393h0M7925 2393h0M8048 2393h0M8138 2393h0M8167 2394h0M8726 2393h0M9027 2393h0M9198 2393h0M9258 2393h0M9244 2393h0M9528 2393h0"/><path stroke="#b06d6d" d="M507 2749h0M801 2749h0M1082 2749h0M1147 2750h0M1222 2751h0M1034 2750h0M1673 2751h0M1611 2751h0M1862 2749h0M1774 2749h0M2113 2751h0M2066 2749h0M2702 2748h0M2784 2750h0M2930 2751h0M2850 2750h0M3772 2750h0M4208 2750h0M4094 2749h0M3960 2749h0M4201 2749h0M4004 2749h0M4295 2748h0M4371 2749h0M4863 2749h0M4846 2750h0M5248 2748h0M5472 2751h0M5539 2748h0M5852 2748h0M5834 2749h0M6129 2748h0M6449 2751h0M6603 2749h0M6821 2752h0M6806 2749h0M6639 2748h0M6995 2751h0M7828 2751h0M7850 2750h0M7864 2748h0M8062 2748h0M8362 2748h0M8561 2748h0M8649 2750h0M8706 2749h0M8963 2748h0M8927 2749h0M8892 2748h0M9219 2749h0M9366 2751h0M9561 2749h0M9501 2749h0"/><path stroke="#cfc6c6" d="M503 2392h0M817 2392h0M799 2390h0M966 2392h0M1171 2391h0M1016 2391h0M1129 2392h0M1483 2392h0M1521 2392h0M1938 2390h0M1935 2391h0M1683 2391h0M1676 2390h0M1853 2390h0M1734 2392h0M2066 2391h0M2198 2391h0M2163 2390h0M2541 2393h0M2620 2390h0M2874 2390h0M2956 2390h0M3280 2391h0M3374 2392h0M3742 2391h0M3997 2391h0M4102 2391h0M4234 2391h0M4323 2390h0M4617 2391h0M4590 2392h0M4607 2392h0M4579 2393h0M5090 2390h0M5287 2392h0M5294 2392h0M6100 2392h0M6138 2390h0M6102 2392h0M6398 2391h0M6531 2391h0M6523 2391h0M6541 2392h0M6496 2392h0M6667 2392h0M6828 2391h0M6761 2392h0M6830 2390h0M6937 2392h0M7294 2391h0M7433 2392h0M7367 2392h0M7484 2392h0M7441 2391h0M7485 2390h0M7902 2391h0M8146 2390h0M8269 2391h0M8214 2390h0M8320 2391h0M8468 2392h0M8671 2390h0M8780 2392h0M8743 2392h0M8704 2392h0M8798 2390h0M8828 2392h0"/><path stroke="#b16e6e" d="M557 2745h0M754 2744h0M1005 2745h0M1220 2744h0M1512 2745h0M1497 2744h0M1897 2744h0M1921 2744h0M2169 2746h0M2807 2744h0M3117 2744h0M3267 2744h0M3945 2746h0M4791 2745h0M5575 2744h0M5664 2746h0M5932 2744h0M5832 2745h0M6177 2744h0M6269 2745h0M6213 2744h0M6939 2744h0M7532 2746h0M8161 2745h0M8559 2744h0M8778 2745h0M9048 2746h0M9279 2745h0M9637 2746h0"/><path stroke="#6d6db0" d="M686 1928h0M680 1931h0M744 1930h0M1065 1929h0M997 1928h0M1217 1928h0M1385 1930h0M1783 1929h0M2038 1930h0M2135 1931h0M2488 1928h0M2551 1928h0M2700 1930h0M2671 1931h0M2830 1928h0M2893 1929h0M3740 1929h0M4407 1930h0M4564 1928h0M4660 1930h0M4825 1928h0M4791 1929h0M4977 1931h0M5136 1930h0M5857 1930h0M5769 1928h0M6126 1929h0M6173 1931h0M6085 1931h0M6351 1931h0M6386 1929h0M6495 1929h0M6722 1930h0M6945 1931h0M7091 1931h0M7511 1930h0M7352 1929h0M7827 1930h0M7648 1930h0M8008 1928h0M8110 1932h0M8027 1931h0M8012 1930h0M8004 1932h0M8031 1930h0M8260 1930h0M8261 1929h0M8306 1928h0M8227 1931h0M8406 1931h0M8653 1929h0M8655 1929h0M8712 1929h0M8970 1931h0M9197 1930h0"/><path stroke="#c6c6cf" d="M836 2289h0M1027 2288h0M978 2288h0M1319 2288h0M1302 2288h0M1500 2289h0M1488 2289h0M1804 2288h0M1559 2288h0M1773 2289h0M1790 2288h0M1840 2287h0M1748 2289h0M2200 2288h0M2336 2288h0M2313 2287h0M2469 2289h0M2646 2289h0M2984 2288h0M3393 2288h0M3713 2289h0M3365 2287h0M3417 2289h0M3394 2287h0M3785 2287h0M3801 2287h0M3772 2287h0M4091 2288h0M4253 2287h0M4067 2288h0M4611 2287h0M4522 2287h0M5127 2288h0M5084 2289h0M5032 2287h0M5320 2288h0M5301 2289h0M5603 2287h0M5511 2288h0M5640 2289h0M6002 2288h0M5874 2287h0M5963 2288h0M5795 2287h0M6054 2288h0M6224 2288h0M6523 2287h0M6735 2287h0M6796 2287h0M6815 2288h0M6996 2289h0M7029 2287h0M7153 2289h0M7019 2289h0M7400 2287h0M7361 2289h0M7809 2287h0M7628 2289h0M8188 2289h0M8322 2288h0M8228 2289h0M8223 2289h0M8550 2288h0M8837 2288h0M8918 2288h0M8968 2289h0M9231 2288h0"/><path stroke="#6e6eb1" d="M1001 1935h0M1013 1933h0M1497 1934h0M2154 1936h0M3078 1935h0M3042 1935h0M5027 1934h0M6020 1934h0M6168 1935h0M6369 1935h0M7614 1935h0M7870 1934h0M8054 1934h0M8628 1935h0M8740 1936h0M8911 1933h0M9030 1934h0"/><path stroke="#cfc7c7" d="M534 2386h0M766 2387h0M838 2386h0M784 2388h0M1058 2386h0M1222 2387h0M973 2389h0M1397 2388h0M1400 2386h0M1297 2387h0M1291 2389h0M1422 2386h0M1817 2390h0M1574 2388h0M1627 2389h0M1925 2386h0M1588 2387h0M1730 2388h0M1775 2388h0M2148 2388h0M2137 2387h0M2248 2389h0M2225 2389h0M2112 2387h0M2031 2389h0M2495 2390h0M2516 2390h0M2528 2387h0M2444 2388h0M2478 2387h0M2651 2389h0M2794 2390h0M3158 2388h0M2776 2388h0M2817 2389h0M3149 2387h0M3156 2387h0M2989 2388h0M2867 2389h0M3386 2386h0M3672 2389h0M3399 2390h0M3429 2386h0M3678 2389h0M3784 2387h0M3852 2389h0M4064 2386h0M4050 2387h0M4129 2389h0M4113 2387h0M4133 2387h0M4063 2389h0M4298 2388h0M4592 2389h0M4653 2388h0M4542 2388h0M4498 2389h0M4830 2388h0M4821 2388h0M4919 2388h0M4981 2388h0M4990 2386h0M5003 2386h0M5260 2389h0M5596 2389h0M5567 2389h0M5526 2388h0M5502 2388h0M5682 2386h0M5733 2387h0M5735 2389h0M5721 2388h0M6126 2387h0M6073 2387h0M6132 2387h0M6421 2388h0M6442 2389h0M6311 2388h0M6358 2389h0M6302 2389h0M6537 2389h0M6773 2388h0M6846 2390h0M7165 2387h0M7321 2389h0M7273 2387h0M7346 2389h0M7730 2387h0M7614 2389h0M7809 2387h0M7746 2387h0M7866 2387h0M8154 2388h0M8303 2386h0M8352 2389h0M8673 2388h0M8620 2386h0M8678 2389h0M8767 2387h0M8898 2387h0M8900 2389h0M9052 2386h0"/><path stroke="#b06c6c" d="M505 2755h0M498 2755h0M1062 2753h0M1090 2752h0M1685 2752h0M1775 2755h0M1673 2753h0M2120 2753h0M2249 2752h0M2506 2755h0M2879 2755h0M2806 2755h0M2840 2756h0M2913 2756h0M3659 2752h0M3665 2753h0M3950 2755h0M4192 2752h0M4514 2752h0M5063 2752h0M5196 2754h0M5264 2752h0M5499 2755h0M5466 2753h0M5468 2755h0M5685 2755h0M5781 2754h0M5894 2754h0M5824 2752h0M5961 2754h0M6009 2753h0M6038 2754h0M5884 2755h0M6531 2752h0M6842 2752h0M6805 2752h0M6754 2755h0M6942 2756h0M7186 2755h0M6996 2753h0M7885 2752h0M8480 2754h0M8774 2753h0M8845 2753h0M8797 2754h0M8899 2755h0M9610 2754h0M9548 2755h0M9542 2753h0M9635 2755h0M9644 2754h0"/><path stroke="#6c6cb0" d="M619 1924h0M639 1925h0M725 1926h0M603 1925h0M648 1924h0M700 1924h0M686 1924h0M815 1926h0M815 1927h0M962 1925h0M963 1926h0M1064 1927h0M1503 1925h0M1254 1926h0M1959 1925h0M1778 1925h0M1851 1925h0M1710 1927h0M1591 1925h0M2008 1926h0M2422 1925h0M2396 1926h0M3150 1926h0M2932 1925h0M4144 1926h0M4153 1924h0M4621 1926h0M4515 1927h0M4904 1924h0M5884 1926h0M6131 1927h0M6074 1926h0M6322 1925h0M6733 1927h0M6640 1928h0M7062 1925h0M7484 1926h0M7944 1925h0M8046 1924h0M8127 1926h0M8142 1925h0M8129 1925h0M8326 1926h0M8302 1924h0M8268 1926h0M8492 1926h0M8735 1926h0M8756 1926h0M8761 1925h0M8791 1925h0M8801 1926h0M8838 1924h0M8983 1927h0M8900 1924h0M9128 1927h0M9080 1927h0M9248 1924h0"/><path stroke="#6b6baf" d="M720 1921h0M802 1920h0M837 1921h0M1914 1921h0M3401 1921h0M4069 1921h0M4155 1920h0M4128 1920h0M4338 1920h0M5735 1920h0M5876 1921h0M5897 1921h0M6071 1921h0M6831 1920h0M7316 1920h0M7468 1921h0M7778 1920h0M7643 1920h0M7650 1920h0M8635 1921h0M8637 1921h0M8910 1920h0M9103 1921h0M9268 1921h0M9192 1921h0"/><path stroke="#c7c7cf" d="M767 2292h0M738 2291h0M824 2290h0M839 2292h0M1216 2292h0M971 2292h0M1117 2291h0M1305 2290h0M1519 2290h0M1273 2291h0M1931 2293h0M1553 2293h0M1816 2293h0M2058 2291h0M2118 2290h0M2118 2293h0M2098 2292h0M2048 2292h0M2183 2293h0M2133 2292h0M2386 2292h0M2485 2292h0M2370 2289h0M2377 2289h0M2312 2292h0M2492 2292h0M2695 2293h0M3033 2293h0M2970 2293h0M3092 2290h0M2869 2291h0M3041 2292h0M3185 2293h0M3069 2292h0M2856 2292h0M3315 2293h0M3725 2291h0M3368 2293h0M3443 2292h0M3354 2292h0M3660 2293h0M3806 2292h0M3890 2291h0M3865 2292h0M3884 2290h0M4063 2291h0M4193 2291h0M4565 2293h0M4660 2292h0M4565 2290h0M5149 2293h0M5074 2290h0M4998 2293h0M5460 2291h0M5501 2289h0M5417 2290h0M5654 2291h0M5927 2292h0M5982 2291h0M5783 2289h0M5993 2292h0M5991 2292h0M5843 2290h0M6152 2290h0M6100 2290h0M6129 2291h0M6107 2293h0M6093 2291h0M6085 2290h0M6511 2290h0M6753 2291h0M6611 2292h0M7329 2291h0M7442 2291h0M7472 2292h0M7341 2291h0M7611 2293h0M7759 2293h0M7918 2292h0M7922 2292h0M7933 2291h0M7880 2293h0M8123 2290h0M8144 2290h0M8336 2290h0M8459 2293h0M8528 2290h0M8490 2291h0M8666 2290h0M8675 2292h0M8825 2293h0M8916 2292h0M8894 2290h0M9087 2291h0M9255 2291h0"/><path stroke="#af6b6b" d="M813 2759h0M1382 2758h0M1644 2759h0M1945 2758h0M1825 2759h0M1741 2759h0M2635 2759h0M3460 2759h0M3535 2759h0M3947 2758h0M5023 2759h0M5248 2759h0M5284 2760h0M6266 2759h0M6251 2758h0M6598 2758h0M6621 2759h0M6710 2758h0M6919 2759h0M7114 2759h0M7286 2759h0M7718 2759h0M8276 2759h0M8712 2758h0M8844 2759h0M8836 2759h0M9313 2759h0M9696 2758h0M9731 2759h0M9635 2759h0"/><path stroke="#cfc8c8" d="M529 2383h0M538 2383h0M500 2384h0M499 2385h0M529 2386h0M757 2386h0M1110 2383h0M1240 2386h0M1181 2383h0M1165 2382h0M1125 2382h0M1160 2386h0M1462 2383h0M1512 2384h0M1425 2384h0M1289 2384h0M1261 2383h0M1739 2385h0M1685 2384h0M1929 2385h0M1994 2382h0M1659 2383h0M2399 2386h0M2807 2384h0M3038 2385h0M3275 2382h0M3412 2383h0M3389 2386h0M3506 2382h0M3797 2385h0M3883 2385h0M3945 2385h0M4260 2383h0M4364 2382h0M4581 2384h0M4685 2384h0M4763 2384h0M4823 2384h0M4760 2382h0M5167 2383h0M5062 2383h0M5158 2383h0M5230 2383h0M5533 2383h0M5455 2384h0M5583 2385h0M5439 2385h0M5441 2382h0M5552 2385h0M5706 2385h0M5645 2385h0M5634 2384h0M5717 2385h0M5830 2382h0M5774 2382h0M5999 2386h0M5996 2385h0M5856 2382h0M5985 2384h0M6069 2386h0M6050 2386h0M6059 2382h0M6110 2382h0M6221 2383h0M6415 2385h0M6435 2384h0M6434 2385h0M6521 2384h0M6475 2385h0M6517 2383h0M6857 2383h0M7295 2382h0M7473 2384h0M7435 2384h0M7815 2385h0M7830 2382h0M7666 2384h0M7976 2383h0M8084 2383h0M8225 2383h0M8268 2385h0M8340 2384h0M8724 2382h0M8726 2385h0M8795 2383h0M8808 2383h0M8901 2383h0M8977 2386h0M9072 2383h0M9267 2382h0M9227 2382h0"/><path stroke="#6a6aaf" d="M494 1917h0M659 1916h0M592 1917h0M575 1916h0M713 1918h0M1156 1918h0M949 1919h0M1034 1916h0M1289 1916h0M1801 1916h0M1593 1918h0M1741 1916h0M2185 1919h0M2450 1918h0M2434 1917h0M2414 1917h0M2479 1917h0M2456 1917h0M2853 1916h0M3103 1917h0M3286 1917h0M3668 1917h0M4168 1918h0M4057 1918h0M4584 1918h0M4566 1916h0M4502 1917h0M4836 1916h0M5079 1916h0M5211 1916h0M5793 1918h0M6138 1919h0M6041 1917h0M6271 1916h0M6340 1916h0M6724 1917h0M6599 1918h0M6671 1919h0M6997 1918h0M7326 1916h0M7493 1917h0M7346 1916h0M7709 1918h0M8088 1916h0M7996 1917h0M8117 1919h0M8127 1918h0M8314 1918h0M8304 1918h0M8470 1918h0M8522 1918h0M8718 1916h0M8790 1917h0M8724 1919h0M8779 1916h0M9216 1917h0"/><path stroke="#c8c8cf" d="M548 2297h0M643 2296h0M783 2295h0M828 2294h0M773 2295h0M1018 2294h0M1138 2296h0M1136 2295h0M1101 2294h0M1318 2297h0M1530 2297h0M1530 2295h0M1649 2297h0M1686 2296h0M1851 2294h0M1918 2295h0M1740 2294h0M1709 2295h0M1649 2295h0M1849 2296h0M1657 2294h0M2195 2297h0M2171 2294h0M2158 2296h0M2458 2294h0M2554 2296h0M2614 2296h0M2664 2295h0M2713 2297h0M2884 2296h0M3150 2297h0M2990 2296h0M3194 2295h0M3438 2294h0M3680 2294h0M3756 2296h0M3860 2294h0M4188 2297h0M4110 2297h0M4411 2295h0M4262 2296h0M4653 2296h0M4478 2294h0M4576 2297h0M4627 2296h0M4756 2297h0M4837 2295h0M5007 2297h0M5141 2297h0M4926 2294h0M4950 2294h0M5034 2295h0M5189 2296h0M4896 2294h0M5203 2295h0M5256 2295h0M5295 2296h0M5454 2296h0M5644 2297h0M5732 2296h0M5625 2297h0M6015 2294h0M5877 2297h0M5857 2297h0M5770 2295h0M6105 2294h0M6116 2296h0M6325 2295h0M6339 2295h0M6449 2297h0M6304 2297h0M6407 2293h0M6518 2294h0M6486 2295h0M6815 2297h0M6687 2295h0M7382 2294h0M7453 2297h0M7308 2294h0M7298 2297h0M7451 2297h0M7351 2296h0M7782 2296h0M7600 2293h0M7649 2297h0M7674 2295h0M7759 2294h0M8142 2295h0M8132 2295h0M8136 2296h0M8321 2296h0M8294 2296h0M8238 2297h0M8215 2294h0M8314 2294h0M8524 2296h0M8660 2297h0M8741 2294h0M8754 2296h0M8855 2294h0M8911 2297h0M8927 2297h0M9033 2294h0M9096 2295h0M9081 2295h0M9032 2294h0M9229 2295h0M9585 2297h0"/><path stroke="#6b6bb0" d="M646 1922h0M597 1923h0M698 1923h0M584 1922h0M816 1923h0M1221 1923h0M1356 1922h0M1665 1923h0M2363 1923h0M2606 1922h0M3002 1922h0M2930 1922h0M3550 1922h0M4061 1923h0M4368 1922h0M5553 1923h0M5657 1923h0M6447 1922h0M6783 1923h0M6746 1923h0M7134 1923h0M7479 1922h0M7460 1921h0M7389 1923h0M8031 1923h0M8962 1922h0M9041 1922h0M9186 1923h0M9194 1923h0M9191 1923h0"/><path stroke="#b06b6b" d="M804 2757h0M1009 2757h0M1254 2757h0M1939 2758h0M1567 2757h0M1754 2756h0M1787 2756h0M2002 2756h0M2049 2756h0M3265 2756h0M3579 2757h0M3359 2756h0M3816 2756h0M3749 2757h0M4123 2758h0M4009 2756h0M5316 2757h0M5586 2756h0M5736 2756h0M5802 2756h0M6517 2756h0M6831 2757h0M7434 2757h0M8182 2758h0M8247 2757h0M8845 2758h0M9539 2758h0"/><path stroke="#af6a6a" d="M1044 2763h0M1167 2761h0M1249 2762h0M1179 2761h0M1421 2760h0M1521 2761h0M1508 2763h0M1750 2763h0M1748 2762h0M2248 2762h0M2123 2763h0M2722 2761h0M3131 2760h0M3009 2762h0M3228 2763h0M3463 2762h0M3411 2761h0M3428 2761h0M3903 2761h0M4089 2761h0M3970 2762h0M4376 2760h0M4570 2762h0M4682 2760h0M5130 2762h0M5254 2764h0M5196 2763h0M5454 2760h0M6778 2762h0M7074 2761h0M7144 2763h0M7333 2761h0M7508 2762h0M8292 2762h0M8518 2760h0M8863 2760h0M9127 2762h0M9233 2761h0M9321 2763h0"/><path stroke="#6868ae" d="M540 1908h0M595 1910h0M804 1910h0M2432 1909h0M2806 1908h0M2925 1910h0M3238 1909h0M3456 1909h0M3445 1908h0M3845 1908h0M4214 1909h0M4590 1908h0M4849 1908h0M4831 1908h0M4915 1910h0M6463 1909h0M7386 1909h0M7738 1909h0M7925 1909h0M7955 1908h0M8353 1909h0M8815 1908h0M8893 1908h0M9026 1908h0"/><path stroke="#c9c9cf" d="M506 2298h0M535 2298h0M612 2298h0M792 2298h0M982 2298h0M1612 2298h0M2924 2298h0M3169 2298h0M3883 2297h0M4000 2298h0M4344 2297h0M4404 2298h0M5718 2298h0M6827 2298h0M7365 2298h0M7932 2298h0M7955 2298h0M8256 2298h0"/><path stroke="#6969af" d="M618 1915h0M700 1914h0M624 1914h0M668 1913h0M621 1912h0M612 1912h0M661 1915h0M787 1912h0M978 1913h0M946 1914h0M1149 1914h0M1559 1914h0M2002 1914h0M2515 1912h0M2666 1913h0M3212 1912h0M3214 1915h0M3456 1913h0M3356 1914h0M3607 1915h0M3775 1915h0M3855 1914h0M4306 1914h0M4287 1912h0M4711 1915h0M4825 1912h0M5135 1912h0M5041 1915h0M5025 1912h0M5085 1913h0M5223 1915h0M5603 1914h0M5619 1913h0M5669 1915h0M6051 1914h0M6066 1915h0M6370 1913h0M6754 1914h0M7198 1912h0M6979 1913h0M7288 1913h0M7718 1912h0M7956 1914h0M7898 1914h0M7944 1913h0M7963 1915h0M8049 1914h0M8052 1912h0M8272 1914h0M8639 1912h0M8731 1915h0M9207 1913h0"/><path stroke="#af6969" d="M797 2768h0M1844 2767h0M1793 2766h0M1585 2765h0M2078 2767h0M2217 2766h0M2225 2767h0M2185 2767h0M2477 2765h0M2961 2766h0M3119 2765h0M2952 2764h0M3063 2764h0M3540 2765h0M3633 2767h0M3557 2765h0M3867 2765h0M3785 2766h0M3783 2764h0M4046 2766h0M4395 2765h0M4328 2765h0M4288 2768h0M4318 2766h0M4510 2766h0M4689 2765h0M4812 2767h0M4805 2765h0M4975 2766h0M5240 2766h0M5563 2765h0M5706 2765h0M6164 2765h0M6152 2767h0M6427 2767h0M6782 2767h0M7184 2765h0M6984 2766h0M7082 2767h0M7466 2764h0M7408 2766h0M7458 2765h0M7637 2765h0M7860 2766h0M7879 2766h0M7910 2764h0M8533 2767h0M8771 2765h0M8755 2768h0M8908 2766h0M8935 2765h0M9103 2766h0M9232 2767h0M9400 2766h0M9370 2764h0M9331 2768h0M9674 2765h0M9513 2767h0M9608 2764h0M9755 2765h0M9703 2764h0"/><path stroke="#ae6868" d="M781 2771h0M989 2771h0M1483 2772h0M2378 2770h0M3009 2771h0M2778 2771h0M2889 2771h0M3599 2771h0M3439 2771h0M3823 2770h0M4147 2771h0M4144 2771h0M5185 2771h0M5511 2771h0M5926 2772h0M5837 2770h0M8149 2771h0M8412 2771h0M9100 2770h0M9423 2770h0M9581 2771h0"/><path stroke="#cfc9c9" d="M997 2382h0M986 2381h0M1076 2381h0M1155 2381h0M1259 2381h0M1477 2382h0M1623 2381h0M2782 2381h0M3455 2382h0M4162 2381h0M4461 2381h0M4853 2381h0M4819 2382h0M5431 2381h0M5778 2382h0M5968 2381h0M6276 2381h0M6585 2382h0M7441 2381h0M8238 2382h0M8781 2382h0M8896 2382h0M8937 2382h0M9072 2381h0M9190 2381h0"/><path stroke="#c9c9d0" d="M506 2301h0M742 2299h0M811 2299h0M1215 2301h0M1051 2300h0M1392 2299h0M1427 2300h0M1968 2299h0M1673 2300h0M2080 2299h0M2182 2299h0M2568 2301h0M2399 2299h0M2483 2299h0M2389 2299h0M2716 2299h0M2636 2300h0M3176 2299h0M2905 2299h0M3230 2301h0M3573 2301h0M3514 2301h0M3783 2299h0M4104 2301h0M4255 2301h0M4044 2299h0M4023 2299h0M4187 2301h0M4388 2300h0M4520 2300h0M4674 2300h0M4462 2301h0M4576 2299h0M5110 2299h0M4954 2300h0M5028 2300h0M5277 2298h0M5317 2301h0M5532 2301h0M5627 2300h0M5994 2301h0M5999 2300h0M6017 2299h0M6134 2298h0M6271 2301h0M6366 2299h0M6352 2301h0M6342 2299h0M6449 2299h0M6457 2301h0M6522 2300h0M6826 2300h0M6800 2300h0M6736 2300h0M7482 2299h0M7444 2301h0M7293 2300h0M7484 2300h0M7790 2301h0M7835 2301h0M7758 2300h0M7844 2299h0M7696 2300h0M7880 2300h0M8167 2300h0M8291 2300h0M8353 2299h0M8555 2299h0M8672 2300h0M8678 2300h0M8728 2301h0M9115 2300h0M9024 2301h0M9676 2300h0"/><path stroke="#6868af" d="M542 1910h0M765 1910h0M2352 1910h0M3941 1911h0M4723 1911h0M4636 1910h0M4941 1911h0M5291 1911h0M5504 1911h0M6147 1910h0M6327 1911h0M6642 1910h0M6821 1910h0M6619 1910h0M7533 1911h0M7479 1910h0M7669 1910h0M8289 1911h0M8630 1910h0M8985 1911h0M9247 1911h0M9193 1911h0"/><path stroke="#6767ae" d="M538 1906h0M579 1906h0M609 1905h0M650 1904h0M578 1904h0M676 1904h0M817 1906h0M807 1905h0M1050 1907h0M1134 1904h0M1484 1905h0M1679 1907h0M1756 1904h0M2367 1904h0M2519 1905h0M2403 1907h0M2518 1905h0M2995 1906h0M3008 1904h0M2803 1907h0M3355 1907h0M3803 1906h0M4089 1905h0M4095 1906h0M4411 1905h0M4462 1907h0M4808 1905h0M4926 1904h0M5058 1907h0M5155 1904h0M5583 1907h0M5637 1907h0M5915 1905h0M6000 1906h0M5913 1906h0M6274 1904h0M6853 1905h0M6745 1905h0M6642 1904h0M6982 1906h0M7456 1904h0M7647 1906h0M8073 1906h0M8002 1906h0M8178 1905h0M8269 1905h0M8352 1904h0M8380 1904h0M8403 1905h0M8500 1906h0M8441 1904h0M8672 1907h0M8947 1907h0M8956 1907h0"/><path stroke="#d0c9c9" d="M751 2378h0M750 2379h0M989 2381h0M1091 2380h0M1086 2381h0M1193 2380h0M1404 2380h0M1394 2378h0M1359 2378h0M1978 2381h0M1999 2380h0M1999 2378h0M2216 2380h0M2071 2380h0M2109 2380h0M2488 2378h0M2328 2380h0M2407 2379h0M2667 2380h0M2943 2379h0M2852 2379h0M2774 2380h0M3231 2378h0M3666 2379h0M3677 2378h0M3511 2378h0M3356 2378h0M3975 2378h0M4183 2379h0M4151 2379h0M4219 2380h0M4081 2380h0M4390 2379h0M4571 2380h0M4490 2380h0M4634 2380h0M4652 2378h0M4670 2380h0M4465 2380h0M4458 2378h0M4723 2381h0M4802 2378h0M4764 2380h0M4857 2378h0M4844 2380h0M5188 2379h0M5024 2380h0M5122 2380h0M5011 2378h0M5078 2378h0M5178 2380h0M5095 2379h0M5202 2380h0M5415 2379h0M5402 2380h0M5638 2380h0M5898 2379h0M6006 2379h0M6033 2379h0M5960 2379h0M6090 2378h0M6112 2379h0M6384 2378h0M6225 2379h0M6358 2378h0M6422 2380h0M6315 2378h0M6523 2378h0M6519 2378h0M6498 2378h0M6687 2381h0M6709 2378h0M6777 2379h0M6573 2379h0M6944 2378h0M6930 2379h0M7377 2379h0M7400 2380h0M7738 2381h0M7785 2378h0M7656 2378h0M7853 2379h0M7961 2381h0M7888 2380h0M8531 2381h0M8661 2378h0M8947 2378h0M8910 2379h0"/><path stroke="#af6868" d="M1183 2768h0M1662 2769h0M1997 2769h0M2825 2769h0M3182 2768h0M3446 2769h0M3465 2769h0M3971 2768h0M4367 2769h0M4641 2769h0M4585 2768h0M5146 2769h0M5160 2768h0M5283 2769h0M6706 2768h0M7003 2769h0M7068 2769h0M7287 2768h0M7730 2769h0M7866 2769h0M7943 2768h0M8188 2768h0M8172 2769h0M8336 2769h0M8610 2769h0M8537 2768h0M8749 2769h0M9634 2768h0"/><path stroke="#ae6767" d="M1493 2772h0M1625 2774h0M1976 2774h0M1667 2775h0M1756 2775h0M2119 2774h0M2465 2774h0M2376 2772h0M2426 2775h0M2671 2773h0M3027 2774h0M2921 2775h0M3160 2773h0M3268 2775h0M3544 2772h0M3455 2772h0M3525 2772h0M3780 2774h0M4035 2774h0M4021 2774h0M4729 2775h0M4529 2773h0M4581 2775h0M4863 2772h0M4759 2774h0M5187 2773h0M5285 2774h0M5194 2772h0M5475 2772h0M5714 2774h0M5697 2772h0M5977 2774h0M5836 2774h0M5845 2775h0M6102 2773h0M6392 2773h0M6404 2773h0M6509 2773h0M6691 2774h0M6664 2774h0M6748 2775h0M7012 2773h0M7004 2776h0M7423 2774h0M7473 2775h0M7297 2775h0M7602 2772h0M8156 2774h0M8149 2774h0M8409 2776h0M8510 2774h0M8572 2772h0M8757 2775h0M8709 2772h0M8807 2775h0M8960 2775h0M8926 2774h0M9212 2776h0M9383 2773h0M9588 2774h0M9535 2775h0M9735 2773h0M9591 2774h0M9594 2773h0"/><path stroke="#d0caca" d="M530 2375h0M748 2376h0M1163 2376h0M996 2377h0M1156 2376h0M1163 2374h0M1035 2376h0M1332 2375h0M1425 2377h0M1343 2377h0M1587 2375h0M1922 2376h0M1701 2376h0M2403 2374h0M2419 2377h0M2362 2377h0M2644 2375h0M2817 2378h0M2914 2374h0M3073 2375h0M3202 2378h0M3194 2375h0M3296 2374h0M3255 2376h0M3590 2374h0M3511 2375h0M3682 2375h0M3414 2374h0M3798 2377h0M3800 2374h0M3850 2374h0M4096 2377h0M4142 2374h0M3948 2375h0M4378 2376h0M4490 2376h0M4671 2375h0M4645 2376h0M4750 2378h0M5120 2375h0M5128 2376h0M5076 2374h0M5178 2375h0M4968 2376h0M5255 2374h0M5314 2377h0M5464 2375h0M5557 2377h0M5544 2377h0M5418 2377h0M5645 2375h0M5777 2374h0M5801 2376h0M5920 2375h0M5832 2374h0M6424 2376h0M6272 2376h0M6341 2378h0M6384 2374h0M6252 2378h0M6479 2378h0M6814 2374h0M6849 2376h0M6817 2376h0M6676 2374h0M6670 2377h0M6612 2375h0M6666 2377h0M6784 2377h0M7090 2376h0M7405 2375h0M7325 2374h0M7383 2376h0M7628 2377h0M7672 2374h0M7686 2376h0M7605 2376h0M7690 2374h0M7855 2374h0M8275 2374h0M8299 2375h0M8366 2376h0M8388 2377h0M8588 2375h0M8542 2377h0M8951 2376h0"/><path stroke="#6666ae" d="M563 1900h0M589 1900h0M1029 1900h0M1036 1900h0M996 1902h0M1737 1902h0M2127 1901h0M2175 1903h0M2673 1900h0M2904 1902h0M3010 1900h0M2863 1900h0M3280 1900h0M3711 1900h0M3764 1901h0M3880 1902h0M3762 1900h0M4067 1900h0M4308 1901h0M4266 1900h0M4632 1902h0M4618 1902h0M4464 1900h0M5062 1900h0M5077 1903h0M4985 1902h0M5176 1902h0M5965 1902h0M5887 1901h0M6149 1903h0M6497 1903h0M6797 1902h0M7390 1903h0M7324 1902h0M7508 1901h0M7524 1900h0M7646 1903h0M8049 1903h0M8102 1903h0M8021 1900h0M8037 1903h0M8191 1902h0M8317 1901h0M8213 1901h0M8686 1903h0M8651 1901h0M8621 1900h0M8946 1902h0M8910 1900h0M8987 1903h0M9202 1901h0M9192 1903h0"/><path stroke="#6565ad" d="M621 1897h0M634 1896h0M1153 1897h0M1594 1896h0M2341 1896h0M4793 1897h0M5724 1895h0M5652 1896h0M5984 1896h0M6041 1896h0M6248 1897h0M6644 1896h0M7530 1897h0M7377 1897h0M7888 1897h0M8045 1897h0M8272 1896h0M8376 1895h0M8643 1897h0M8667 1898h0M8774 1896h0M8861 1897h0M9238 1896h0"/><path stroke="#ae6666" d="M810 2779h0M1120 2778h0M1327 2779h0M1506 2779h0M1577 2779h0M1816 2776h0M1882 2776h0M1845 2778h0M1913 2776h0M2091 2778h0M2093 2776h0M2555 2777h0M2355 2777h0M2436 2776h0M3156 2779h0M3245 2779h0M3520 2776h0M3594 2779h0M4160 2777h0M4224 2777h0M4070 2778h0M4349 2778h0M4722 2779h0M4557 2778h0M4512 2777h0M4587 2779h0M4470 2778h0M4808 2779h0M5141 2778h0M5016 2777h0M4913 2776h0M4970 2777h0M5277 2778h0M5225 2778h0M5624 2777h0M5669 2780h0M5825 2776h0M6042 2778h0M6044 2779h0M6711 2779h0M6982 2779h0M7169 2776h0M7538 2778h0M7343 2779h0M7426 2778h0M7847 2776h0M8189 2776h0M8315 2778h0M8402 2777h0M8618 2777h0M8805 2779h0M8937 2776h0M9194 2779h0M9288 2780h0M9355 2779h0M9380 2777h0M9297 2780h0M9383 2779h0M9459 2777h0M9428 2778h0M9332 2780h0M9517 2776h0M9718 2777h0M9536 2778h0M9623 2778h0M9624 2776h0"/><path stroke="#cacad0" d="M1166 2302h0M1046 2305h0M1097 2304h0M1206 2303h0M993 2305h0M1436 2303h0M1256 2303h0M1328 2302h0M1607 2303h0M2238 2304h0M2193 2302h0M2018 2302h0M2423 2304h0M2421 2305h0M2550 2302h0M2633 2301h0M2715 2304h0M3012 2302h0M3160 2305h0M2787 2302h0M2860 2304h0M3158 2305h0M3610 2303h0M3424 2302h0M3467 2304h0M3577 2304h0M3732 2304h0M3890 2304h0M4034 2304h0M4093 2303h0M3959 2303h0M4184 2303h0M4145 2302h0M3981 2305h0M3982 2302h0M4418 2305h0M4286 2305h0M4687 2305h0M4680 2301h0M4572 2303h0M4626 2303h0M4767 2302h0M4962 2303h0M5140 2303h0M5072 2304h0M5039 2302h0M5414 2305h0M5600 2304h0M5559 2303h0M5634 2304h0M5905 2302h0M5924 2304h0M5834 2302h0M5942 2305h0M6009 2304h0M6080 2302h0M6107 2303h0M6073 2305h0M6046 2304h0M6150 2304h0M6321 2302h0M6389 2304h0M6222 2303h0M6796 2302h0M6859 2302h0M6753 2304h0M6617 2303h0M6602 2303h0M6597 2303h0M6784 2304h0M6654 2304h0M7117 2303h0M7075 2303h0M7299 2304h0M7452 2302h0M7309 2303h0M7786 2303h0M7668 2302h0M7956 2303h0M7876 2304h0M8170 2305h0M8328 2304h0M8233 2304h0M8598 2302h0M8826 2303h0M9229 2304h0M9211 2302h0"/><path stroke="#ad6565" d="M1021 2783h0M1292 2783h0M1399 2783h0M2930 2782h0M2834 2783h0M3281 2783h0M3720 2782h0M3744 2783h0M4183 2783h0M4505 2783h0M5404 2782h0M5402 2783h0M5896 2784h0M6092 2782h0M6410 2783h0M6229 2783h0M6963 2781h0M7171 2782h0M7062 2782h0M7769 2782h0M7810 2782h0M7997 2782h0M8217 2783h0M8374 2781h0M8945 2783h0M9457 2783h0M9641 2782h0"/><path stroke="#ad6464" d="M535 2786h0M1071 2784h0M997 2786h0M1357 2786h0M1337 2785h0M1813 2785h0M1817 2787h0M1680 2785h0M1986 2784h0M2013 2786h0M2569 2785h0M2703 2786h0M3036 2786h0M2780 2785h0M3100 2788h0M2941 2786h0M3311 2785h0M3237 2785h0M3570 2787h0M3539 2788h0M3734 2784h0M3664 2785h0M3428 2787h0M3549 2786h0M4069 2787h0M4373 2788h0M4371 2784h0M4357 2785h0M4578 2788h0M4678 2784h0M4620 2787h0M4453 2787h0M4609 2786h0M4549 2786h0M5070 2786h0M5186 2784h0M5471 2785h0M5443 2786h0M5780 2786h0M6321 2787h0M6589 2787h0M6573 2786h0M7367 2784h0M7700 2788h0M7851 2786h0M8317 2787h0M8871 2787h0M9082 2785h0M9204 2784h0M9275 2785h0M9407 2787h0M9435 2785h0M9463 2785h0M9691 2786h0M9601 2785h0M9648 2787h0M9497 2785h0"/><path stroke="#cbcbd0" d="M531 2306h0M771 2307h0M1067 2306h0M1104 2308h0M1148 2308h0M1162 2308h0M1078 2309h0M1313 2309h0M1432 2309h0M1502 2307h0M1651 2307h0M1952 2309h0M1837 2309h0M2031 2308h0M2249 2306h0M2473 2306h0M2314 2309h0M2359 2306h0M2341 2308h0M2367 2306h0M2562 2309h0M2393 2309h0M2727 2309h0M3168 2309h0M2840 2308h0M2818 2307h0M2941 2306h0M3305 2309h0M3252 2308h0M3436 2309h0M3602 2306h0M3576 2306h0M3637 2308h0M3801 2309h0M4089 2307h0M4073 2309h0M4351 2308h0M4417 2308h0M4491 2307h0M4571 2306h0M4964 2309h0M5184 2308h0M5183 2308h0M4904 2306h0M5036 2307h0M5189 2308h0M4939 2306h0M5207 2307h0M5259 2306h0M5512 2307h0M5529 2306h0M5721 2307h0M5951 2306h0M5779 2309h0M6147 2309h0M6379 2307h0M6344 2308h0M6386 2306h0M6428 2308h0M6582 2309h0M6784 2308h0M6624 2309h0M7202 2307h0M7130 2308h0M7274 2309h0M7531 2308h0M7278 2308h0M7477 2307h0M7847 2308h0M7837 2307h0M7619 2309h0M7924 2309h0M8033 2306h0M8271 2309h0M8369 2309h0M8327 2306h0M8231 2307h0M8223 2307h0M8242 2309h0M8395 2308h0M8390 2309h0M8529 2309h0M8588 2308h0M8511 2309h0M8610 2306h0M8642 2306h0M8705 2308h0M8752 2306h0M8851 2307h0M8829 2309h0M8901 2308h0M9207 2307h0"/><path stroke="#6464ad" d="M690 1893h0M675 1895h0M816 1895h0M768 1893h0M969 1892h0M1043 1895h0M1340 1895h0M1614 1894h0M2593 1894h0M2580 1892h0M2629 1893h0M2882 1895h0M3234 1892h0M4731 1893h0M4983 1894h0M4990 1893h0M5229 1894h0M5309 1895h0M5774 1892h0M5958 1892h0M5837 1893h0M5869 1894h0M6099 1893h0M6117 1895h0M6340 1893h0M6320 1893h0M6430 1893h0M6498 1895h0M6626 1895h0M7295 1893h0M7529 1895h0M7403 1894h0M7422 1892h0M7615 1892h0M8064 1892h0M8116 1893h0M8040 1892h0M7996 1895h0M8148 1895h0M8164 1895h0M8588 1895h0M8689 1894h0M8618 1895h0M8646 1895h0M9190 1895h0M9446 1894h0"/><path stroke="#6565ae" d="M593 1899h0M684 1898h0M688 1898h0M1300 1899h0M1965 1899h0M2707 1898h0M3118 1898h0M3469 1898h0M3785 1898h0M3988 1899h0M4348 1899h0M5132 1898h0M4927 1898h0M5128 1899h0M5524 1899h0M5878 1899h0M5851 1899h0M5827 1898h0M5871 1898h0M5896 1899h0M6434 1899h0M6816 1899h0M7490 1898h0M8469 1898h0M8657 1899h0"/><path stroke="#ae6565" d="M802 2781h0M784 2781h0M957 2781h0M2601 2780h0M3135 2780h0M3259 2781h0M3621 2780h0M4567 2781h0M4812 2781h0M5120 2781h0M5418 2781h0M5722 2781h0M6133 2781h0M8871 2780h0M8855 2781h0M9683 2781h0M9723 2780h0"/><path stroke="#d0cbcb" d="M952 2372h0M1116 2371h0M1194 2372h0M1089 2372h0M1280 2371h0M1417 2372h0M1698 2374h0M1666 2373h0M1619 2372h0M1787 2371h0M1647 2373h0M2075 2370h0M2187 2372h0M2062 2371h0M2427 2371h0M2402 2370h0M2360 2370h0M2330 2370h0M2732 2372h0M3024 2373h0M3104 2372h0M2843 2373h0M3237 2371h0M3688 2373h0M3700 2372h0M3557 2371h0M3480 2371h0M3570 2372h0M3758 2373h0M3750 2372h0M3901 2370h0M4117 2371h0M4396 2371h0M4660 2373h0M4480 2370h0M4579 2373h0M4569 2372h0M4800 2374h0M4849 2373h0M5129 2373h0M4925 2373h0M5267 2374h0M5557 2372h0M6038 2370h0M5833 2374h0M5937 2370h0M5886 2374h0M6000 2374h0M5979 2374h0M6221 2371h0M6409 2371h0M6433 2371h0M6331 2374h0M6330 2372h0M6481 2373h0M6501 2373h0M6480 2371h0M6731 2370h0M6758 2374h0M6671 2371h0M7108 2373h0M7066 2372h0M7360 2372h0M7798 2370h0M7844 2372h0M7861 2372h0M7899 2372h0M7898 2372h0M8136 2374h0M8129 2374h0M8236 2373h0M8322 2372h0M8212 2371h0M8593 2373h0M8482 2373h0M8484 2371h0M8562 2371h0M8773 2372h0M8766 2371h0M8792 2370h0M8854 2371h0M8970 2372h0M9191 2370h0M9198 2373h0M9289 2373h0M9383 2370h0M9299 2370h0"/><path stroke="#6363ad" d="M529 1890h0M542 1890h0M581 1891h0M655 1888h0M676 1888h0M636 1889h0M677 1889h0M598 1887h0M725 1890h0M678 1890h0M660 1889h0M1197 1891h0M1070 1888h0M1143 1889h0M1758 1891h0M1556 1888h0M2143 1889h0M2519 1887h0M2648 1889h0M2882 1891h0M2977 1891h0M2798 1890h0M3236 1891h0M3655 1888h0M4152 1890h0M4119 1888h0M3952 1889h0M4309 1888h0M4695 1889h0M5025 1891h0M4980 1890h0M4970 1889h0M5524 1889h0M5413 1888h0M5438 1889h0M5476 1889h0M5640 1889h0M6162 1888h0M6308 1891h0M6544 1891h0M6598 1887h0M6815 1890h0M6795 1888h0M7523 1891h0M7309 1889h0M7669 1891h0M7804 1891h0M7937 1890h0M8105 1888h0M8036 1887h0M8009 1889h0M8069 1889h0M8002 1890h0M8077 1889h0M8125 1888h0M8105 1889h0M8168 1890h0M8291 1890h0M8279 1890h0M8550 1889h0M8739 1888h0M8818 1890h0M8942 1890h0M8961 1890h0M9103 1891h0M9286 1889h0M9288 1889h0"/><path stroke="#ac6262" d="M548 2795h0M951 2793h0M984 2793h0M1239 2794h0M1380 2794h0M1731 2796h0M1660 2794h0M2028 2794h0M2408 2794h0M2671 2796h0M2911 2794h0M3522 2794h0M4047 2795h0M4578 2793h0M4801 2793h0M4931 2794h0M5274 2794h0M5257 2795h0M5496 2793h0M5550 2794h0M5725 2794h0M6004 2794h0M6583 2794h0M7056 2795h0M7006 2795h0M7471 2795h0M7359 2794h0M7634 2794h0M8369 2795h0M8730 2795h0M8986 2794h0M9601 2794h0M9632 2795h0"/><path stroke="#6262ac" d="M537 1884h0M569 1885h0M666 1884h0M711 1885h0M714 1886h0M668 1884h0M987 1885h0M1520 1885h0M1572 1884h0M2368 1886h0M2724 1885h0M3718 1884h0M3977 1886h0M4702 1886h0M5129 1885h0M5279 1886h0M5240 1885h0M5496 1886h0M6186 1885h0M6470 1886h0M6805 1885h0M6822 1884h0M6986 1884h0M7486 1886h0M7650 1884h0M8077 1884h0M8070 1884h0M8082 1886h0M7994 1886h0M8075 1884h0M8045 1886h0M8342 1886h0M8678 1886h0M8668 1885h0M9675 1884h0"/><path stroke="#ad6363" d="M747 2788h0M1099 2790h0M1492 2790h0M1895 2791h0M1963 2791h0M1818 2791h0M2202 2789h0M2097 2792h0M2307 2792h0M2349 2791h0M2639 2789h0M2685 2791h0M2938 2789h0M3044 2790h0M2843 2792h0M3149 2791h0M3601 2788h0M3512 2789h0M3806 2788h0M4727 2788h0M4698 2790h0M4528 2789h0M4753 2790h0M4814 2788h0M4790 2791h0M4976 2790h0M5170 2790h0M5061 2789h0M4972 2789h0M5248 2791h0M5837 2789h0M5857 2791h0M5870 2791h0M5811 2789h0M5872 2791h0M5782 2791h0M6005 2788h0M6028 2788h0M6170 2789h0M6170 2792h0M6258 2790h0M6272 2791h0M6538 2789h0M6676 2791h0M7375 2790h0M7473 2789h0M7408 2792h0M7332 2791h0M7472 2788h0M7763 2792h0M7676 2791h0M7732 2788h0M8170 2789h0M8508 2791h0M8757 2788h0M9332 2790h0M9323 2791h0M9313 2790h0M9549 2790h0M9579 2788h0M9653 2790h0"/><path stroke="#ccccd0" d="M1480 2310h0M1431 2310h0M1438 2309h0M1761 2310h0M2318 2310h0M3086 2310h0M4009 2310h0M4325 2310h0M4310 2310h0M5221 2310h0M5672 2310h0M6398 2310h0M7342 2310h0M7887 2310h0M8178 2310h0M8642 2310h0M8849 2310h0M9102 2310h0"/><path stroke="#d0cccc" d="M1258 2369h0M1984 2370h0M2127 2370h0M2305 2369h0M3083 2369h0M2895 2369h0M3053 2370h0M2847 2370h0M3244 2369h0M3497 2369h0M4067 2370h0M4345 2369h0M4333 2369h0M4649 2369h0M4816 2369h0M4928 2369h0M5460 2370h0M5923 2369h0M6125 2369h0M6411 2369h0M7062 2369h0M7498 2369h0M7339 2370h0M7408 2369h0M7305 2369h0M7482 2369h0M7640 2370h0M7954 2369h0M7876 2369h0M8683 2369h0M8868 2370h0"/><path stroke="#ac6161" d="M493 2800h0M802 2799h0M751 2800h0M1047 2798h0M1239 2796h0M1124 2797h0M1298 2797h0M1641 2797h0M1617 2797h0M2117 2796h0M2019 2799h0M2350 2800h0M2362 2797h0M2395 2796h0M2414 2796h0M2615 2798h0M3200 2797h0M3519 2800h0M3510 2799h0M3402 2797h0M3837 2796h0M4180 2797h0M4212 2799h0M4601 2796h0M4455 2797h0M4819 2799h0M4867 2797h0M4818 2799h0M4953 2797h0M5268 2798h0M5223 2799h0M5992 2797h0M5995 2799h0M6161 2798h0M6611 2799h0M6831 2797h0M6617 2798h0M6715 2797h0M7076 2797h0M7050 2798h0M6935 2796h0M7286 2797h0M7814 2799h0M7775 2796h0M7747 2800h0M7681 2799h0M8278 2800h0M8265 2799h0M8787 2797h0M9746 2799h0M9639 2799h0"/><path stroke="#6161ac" d="M520 1882h0M499 1879h0M591 1881h0M683 1881h0M703 1880h0M653 1880h0M707 1880h0M687 1883h0M680 1881h0M646 1880h0M955 1882h0M1082 1882h0M1498 1881h0M1437 1882h0M1995 1882h0M1652 1880h0M1746 1880h0M2084 1882h0M2432 1880h0M2532 1880h0M3687 1883h0M3562 1882h0M3695 1881h0M3535 1881h0M3788 1882h0M4246 1881h0M4006 1881h0M4285 1882h0M5149 1880h0M5137 1881h0M5293 1880h0M5615 1881h0M5962 1880h0M6147 1881h0M6172 1883h0M6040 1881h0M6815 1880h0M7146 1880h0M7152 1881h0M7373 1882h0M7780 1881h0M7702 1882h0M8017 1881h0M8105 1882h0M8039 1883h0M8611 1880h0M9110 1882h0M9268 1881h0"/><path stroke="#d1cccc" d="M601 2367h0M969 2366h0M1015 2367h0M1215 2368h0M1260 2369h0M1405 2367h0M1679 2367h0M1701 2369h0M1694 2369h0M2126 2366h0M2117 2369h0M2167 2366h0M2428 2367h0M2382 2368h0M2400 2367h0M2465 2367h0M2568 2368h0M2664 2366h0M2659 2369h0M3161 2368h0M3018 2366h0M2986 2368h0M3180 2368h0M2854 2368h0M3054 2367h0M2937 2368h0M3190 2367h0M3549 2367h0M3581 2366h0M3408 2367h0M3884 2368h0M3862 2368h0M4065 2366h0M3963 2368h0M4201 2367h0M4386 2366h0M4328 2369h0M4336 2366h0M4720 2369h0M4859 2369h0M4958 2367h0M5049 2366h0M5186 2368h0M5023 2367h0M5467 2366h0M5520 2368h0M5632 2369h0M5684 2366h0M5630 2368h0M5975 2367h0M5913 2368h0M5879 2369h0M6032 2368h0M6126 2368h0M6050 2369h0M6414 2368h0M6443 2368h0M6688 2368h0M6626 2366h0M6576 2369h0M7031 2368h0M6915 2367h0M7164 2366h0M7028 2367h0M7430 2367h0M7746 2369h0M7782 2367h0M7764 2367h0M7909 2367h0M8250 2366h0M8304 2368h0M8331 2366h0M8212 2367h0M8551 2367h0M8455 2367h0M8775 2368h0M8867 2366h0M8821 2368h0M8975 2369h0M8922 2369h0M8913 2366h0M8923 2368h0M9234 2366h0M9278 2367h0M9223 2368h0"/><path stroke="#ccccd1" d="M764 2313h0M746 2310h0M1200 2312h0M1140 2313h0M1161 2310h0M1098 2313h0M1320 2313h0M1259 2311h0M1499 2312h0M1761 2311h0M1582 2311h0M1845 2311h0M2235 2313h0M2083 2311h0M2198 2312h0M2235 2313h0M2029 2313h0M2007 2312h0M2301 2311h0M2488 2313h0M2473 2311h0M3039 2312h0M3569 2310h0M3486 2312h0M3621 2313h0M3349 2313h0M3735 2311h0M3903 2313h0M3757 2311h0M3952 2311h0M4043 2313h0M3981 2313h0M4381 2311h0M4309 2310h0M4293 2313h0M4322 2311h0M4707 2311h0M4714 2310h0M4539 2311h0M4830 2310h0M4999 2310h0M5127 2313h0M5052 2311h0M5144 2312h0M5294 2313h0M5258 2313h0M5455 2313h0M5510 2313h0M5646 2312h0M5726 2311h0M5933 2312h0M5853 2312h0M5908 2311h0M5854 2313h0M6025 2312h0M6179 2313h0M6334 2312h0M6287 2311h0M6501 2311h0M6589 2313h0M6773 2311h0M7348 2311h0M7761 2312h0M7610 2311h0M7670 2310h0M7888 2311h0M8006 2313h0M8229 2311h0M8361 2311h0M8304 2311h0M8237 2313h0M8572 2312h0M8502 2313h0M8732 2313h0M8747 2312h0M8951 2310h0M9060 2312h0M9215 2313h0"/><path stroke="#ad6262" d="M811 2793h0M1863 2793h0M2119 2792h0M4030 2793h0M4417 2792h0M5915 2792h0M6298 2792h0M6395 2793h0M6623 2793h0M7280 2793h0M8538 2793h0M8614 2792h0M8785 2792h0M8779 2792h0M9255 2792h0"/><path stroke="#6262ad" d="M2478 1887h0M4750 1887h0M5020 1886h0M5197 1886h0M6315 1887h0M6675 1887h0M7095 1887h0M8062 1887h0M8186 1887h0M8655 1887h0M8905 1887h0"/><path stroke="#ac6060" d="M531 2801h0M519 2803h0M1039 2804h0M1066 2802h0M1515 2803h0M1478 2800h0M1347 2803h0M1662 2801h0M1830 2803h0M2142 2802h0M2040 2800h0M2138 2802h0M2147 2801h0M2719 2803h0M2845 2801h0M3061 2802h0M2996 2802h0M3726 2802h0M3531 2802h0M3723 2804h0M4243 2802h0M4158 2801h0M4132 2801h0M4017 2801h0M4719 2802h0M4749 2800h0M5515 2802h0M5522 2801h0M5650 2803h0M5796 2801h0M5931 2803h0M6319 2803h0M6853 2803h0M6652 2801h0M7064 2802h0M7051 2803h0M7335 2800h0M7532 2802h0M7756 2802h0M7752 2802h0M7696 2803h0M7802 2802h0M8039 2802h0M8166 2803h0M8330 2801h0M8289 2802h0M8475 2803h0M8531 2800h0M8790 2802h0M8824 2801h0M9113 2802h0M9072 2803h0M9201 2802h0M9267 2803h0M9300 2804h0M9749 2804h0"/><path stroke="#6060ac" d="M729 1879h0M589 1875h0M658 1878h0M1130 1877h0M1595 1878h0M1977 1877h0M2554 1876h0M2584 1877h0M2310 1877h0M3027 1878h0M2877 1876h0M3756 1878h0M3778 1878h0M4141 1876h0M4145 1877h0M4397 1876h0M4508 1877h0M5000 1877h0M5312 1878h0M5632 1876h0M5994 1876h0M6018 1877h0M6096 1878h0M6378 1878h0M6435 1876h0M6269 1877h0M6246 1878h0M6944 1877h0M7103 1877h0M7349 1876h0M7291 1879h0M7598 1876h0M7921 1879h0M8030 1877h0M8057 1878h0M7994 1875h0M8052 1876h0M8265 1876h0M8262 1879h0M8329 1877h0M8362 1879h0M8730 1877h0M8862 1877h0M8825 1876h0M8910 1876h0M9049 1877h0M9068 1876h0M9183 1876h0"/><path stroke="#5f5fab" d="M643 1872h0M706 1872h0M820 1874h0M1189 1873h0M1891 1873h0M2152 1872h0M2481 1872h0M4798 1872h0M4938 1872h0M6081 1873h0M6178 1872h0M6602 1872h0M6600 1873h0M6857 1872h0M6822 1872h0M6713 1874h0M7862 1873h0M8087 1874h0M8036 1874h0M8083 1873h0M8161 1873h0M8642 1873h0M8746 1873h0M8914 1873h0"/><path stroke="#cdcdd1" d="M783 2314h0M1114 2316h0M1206 2314h0M1751 2317h0M1756 2314h0M1649 2316h0M1992 2317h0M2139 2317h0M2458 2315h0M2575 2314h0M2303 2314h0M2612 2316h0M2707 2317h0M2797 2316h0M2815 2314h0M2804 2316h0M3039 2317h0M3188 2313h0M3269 2314h0M3352 2317h0M3347 2316h0M3804 2317h0M3766 2317h0M3777 2315h0M3843 2315h0M4030 2317h0M4000 2316h0M3947 2317h0M4399 2316h0M4409 2317h0M4269 2316h0M4655 2315h0M4585 2317h0M4634 2317h0M4756 2317h0M4937 2317h0M5036 2315h0M5064 2314h0M5314 2317h0M5541 2317h0M5609 2314h0M5533 2314h0M5588 2314h0M5429 2317h0M5586 2314h0M5452 2316h0M5634 2314h0M5687 2313h0M5911 2315h0M5979 2315h0M5819 2314h0M6423 2314h0M6255 2317h0M6377 2314h0M6238 2316h0M6520 2314h0M7042 2314h0M6991 2315h0M7052 2317h0M7483 2314h0M7316 2317h0M7452 2316h0M7338 2314h0M7295 2314h0M7826 2316h0M7834 2315h0M7862 2315h0M7916 2314h0M7877 2314h0M8032 2314h0M8123 2315h0M8018 2316h0M8171 2315h0M8362 2317h0M8246 2314h0M8439 2315h0M8491 2315h0M8501 2316h0M8665 2314h0M8749 2315h0M8808 2315h0M8860 2317h0M9114 2316h0M9263 2316h0M9215 2314h0"/><path stroke="#d1cdcd" d="M748 2365h0M769 2362h0M737 2363h0M1237 2363h0M1008 2365h0M1226 2366h0M1524 2364h0M1414 2366h0M1948 2365h0M1619 2364h0M1786 2364h0M1965 2364h0M1775 2363h0M1566 2365h0M1944 2365h0M1679 2365h0M2220 2364h0M2144 2366h0M2140 2364h0M2453 2363h0M2328 2364h0M2488 2364h0M2518 2362h0M2715 2363h0M3154 2362h0M3171 2366h0M2917 2363h0M2804 2365h0M3314 2364h0M3355 2363h0M3355 2365h0M3842 2365h0M3861 2362h0M4052 2363h0M4201 2365h0M4284 2362h0M4332 2362h0M4502 2365h0M4481 2362h0M4459 2362h0M4616 2364h0M4743 2362h0M5153 2365h0M5228 2365h0M5535 2365h0M5576 2365h0M5455 2364h0M5426 2363h0M5712 2365h0M5705 2362h0M5881 2364h0M6037 2362h0M6154 2364h0M6050 2365h0M6152 2365h0M6119 2363h0M6041 2362h0M6422 2366h0M6382 2364h0M6226 2362h0M6284 2363h0M6428 2363h0M6222 2364h0M6392 2363h0M6253 2363h0M6473 2362h0M6859 2365h0M7017 2365h0M7099 2362h0M7019 2362h0M7332 2362h0M7358 2365h0M7499 2364h0M7829 2363h0M7698 2364h0M7644 2366h0M7787 2364h0M7601 2365h0M7877 2364h0M7938 2363h0M7934 2365h0M8167 2362h0M8234 2362h0M8349 2362h0M8278 2363h0M8505 2365h0M8587 2365h0M8606 2362h0M8563 2362h0M8444 2362h0M8673 2364h0M8709 2362h0M8976 2364h0M9020 2365h0M9022 2364h0M9185 2364h0M9208 2362h0M9285 2364h0M9260 2363h0M9233 2365h0M9711 2365h0"/><path stroke="#ab5f5f" d="M1243 2808h0M1426 2806h0M1558 2805h0M2324 2806h0M2658 2806h0M2652 2807h0M3130 2806h0M3620 2807h0M3375 2807h0M3540 2807h0M3850 2808h0M4025 2805h0M3946 2808h0M4413 2806h0M5187 2805h0M5313 2806h0M5220 2808h0M5569 2807h0M5994 2807h0M5863 2805h0M5980 2806h0M5953 2807h0M6125 2806h0M6342 2805h0M6360 2807h0M6585 2805h0M6807 2805h0M7093 2807h0M7185 2807h0M6988 2805h0M7515 2807h0M7759 2805h0M8531 2807h0M8630 2806h0M8760 2805h0M8838 2806h0M8958 2808h0M9286 2807h0M9427 2806h0M9437 2805h0M9359 2807h0M9327 2807h0M9543 2807h0M9629 2807h0M9529 2808h0"/><path stroke="#ceced1" d="M552 2321h0M537 2319h0M742 2319h0M829 2318h0M812 2319h0M1162 2319h0M1226 2319h0M1098 2318h0M1423 2318h0M1422 2321h0M1480 2321h0M1308 2318h0M1858 2320h0M1697 2321h0M1822 2318h0M2596 2318h0M2719 2321h0M2612 2321h0M2659 2318h0M2640 2319h0M2998 2319h0M3086 2320h0M2859 2319h0M3156 2321h0M3701 2320h0M3568 2318h0M3396 2321h0M3676 2321h0M3472 2318h0M3696 2321h0M3801 2321h0M3847 2320h0M3962 2319h0M3955 2321h0M3975 2319h0M4320 2318h0M4287 2318h0M4521 2320h0M4555 2318h0M4619 2318h0M4556 2321h0M4547 2320h0M4488 2320h0M4773 2321h0M4970 2320h0M5097 2320h0M4961 2321h0M5136 2318h0M5277 2319h0M5196 2318h0M5508 2319h0M5714 2320h0M5911 2320h0M5979 2320h0M5961 2321h0M6077 2318h0M6145 2319h0M6240 2320h0M6328 2320h0M6346 2319h0M6545 2319h0M6495 2318h0M6546 2321h0M6806 2322h0M6628 2318h0M6698 2320h0M6817 2318h0M7035 2320h0M7138 2321h0M7176 2318h0M7504 2321h0M7403 2319h0M7289 2321h0M7449 2320h0M7457 2318h0M7687 2321h0M7628 2320h0M7702 2320h0M7727 2319h0M7878 2320h0M8300 2319h0M8262 2319h0M8267 2320h0M8462 2318h0M8763 2320h0M8831 2321h0M8902 2318h0M8909 2321h0M9120 2319h0M9197 2321h0M9281 2320h0"/><path stroke="#d1cece" d="M527 2361h0M801 2360h0M791 2361h0M1035 2360h0M1008 2360h0M1139 2359h0M1019 2358h0M1080 2358h0M1362 2360h0M1322 2360h0M1516 2358h0M1313 2359h0M1558 2361h0M1921 2358h0M1674 2358h0M1685 2359h0M2078 2361h0M2207 2359h0M2032 2362h0M2506 2361h0M2566 2360h0M2500 2359h0M2486 2361h0M2690 2358h0M3111 2358h0M2804 2360h0M2977 2362h0M2880 2360h0M2872 2360h0M3734 2358h0M3588 2361h0M3370 2360h0M3357 2360h0M3556 2361h0M3707 2361h0M3976 2361h0M3965 2362h0M4061 2361h0M3979 2360h0M4385 2358h0M4475 2358h0M4669 2358h0M4738 2358h0M5137 2359h0M4906 2361h0M5407 2360h0M5499 2361h0M5608 2359h0M5611 2361h0M5730 2360h0M5704 2358h0M5689 2361h0M6004 2359h0M5776 2359h0M6311 2359h0M6269 2358h0M6317 2362h0M6348 2360h0M6496 2359h0M6680 2358h0M6653 2361h0M6632 2359h0M6641 2359h0M7440 2362h0M7399 2358h0M7444 2361h0M7696 2359h0M7825 2358h0M7818 2362h0M7937 2358h0M7856 2359h0M8141 2361h0M8332 2361h0M8365 2358h0M8466 2358h0M8452 2361h0M8769 2361h0M8714 2358h0M8736 2359h0M8843 2361h0M8826 2358h0M8870 2360h0M8930 2362h0M9199 2359h0"/><path stroke="#5e5eab" d="M578 1871h0M581 1868h0M611 1871h0M599 1870h0M814 1871h0M1026 1868h0M1193 1869h0M1168 1869h0M1039 1869h0M1316 1869h0M2089 1869h0M2007 1870h0M2983 1871h0M3000 1871h0M4258 1869h0M4577 1868h0M5067 1868h0M5103 1870h0M5596 1870h0M5623 1867h0M5680 1871h0M5844 1869h0M5958 1871h0M6426 1868h0M6587 1871h0M6757 1870h0M6707 1870h0M7029 1869h0M7109 1870h0M7322 1869h0M8158 1869h0M8303 1871h0M8295 1868h0M8459 1870h0M8683 1870h0M8665 1869h0M8806 1868h0M9049 1870h0M9115 1871h0M9188 1867h0"/><path stroke="#5f5fac" d="M728 1875h0M1313 1875h0M1925 1875h0M1667 1875h0M2247 1875h0M6104 1875h0M6520 1875h0M8053 1875h0"/><path stroke="#ab5e5e" d="M774 2810h0M981 2810h0M1030 2812h0M1505 2811h0M1870 2812h0M1571 2808h0M2112 2809h0M2222 2809h0M2391 2808h0M2505 2811h0M2354 2810h0M2805 2811h0M2921 2811h0M3564 2810h0M3386 2812h0M3875 2810h0M4073 2811h0M5040 2808h0M4974 2811h0M5885 2810h0M5902 2808h0M5929 2812h0M5822 2812h0M6494 2810h0M6474 2810h0M6740 2811h0M6682 2811h0M7098 2809h0M7330 2810h0M7358 2810h0M7928 2811h0M7857 2811h0M8164 2810h0M8233 2808h0M8283 2811h0M8518 2809h0M9042 2812h0M9070 2810h0M9442 2811h0M9344 2810h0M9353 2810h0M9637 2811h0M9664 2811h0"/><path stroke="#ac5f5f" d="M1614 2804h0M2218 2805h0M2141 2804h0M4073 2804h0M6752 2804h0M7335 2804h0M7640 2804h0"/><path stroke="#ab5d5d" d="M535 2815h0M808 2814h0M1026 2816h0M1708 2813h0M1553 2816h0M1948 2814h0M2119 2813h0M2587 2814h0M2370 2815h0M2500 2813h0M2932 2815h0M3056 2816h0M3198 2816h0M3255 2814h0M3545 2815h0M3654 2815h0M3542 2815h0M3882 2814h0M3775 2812h0M4589 2812h0M4590 2813h0M5035 2812h0M5475 2813h0M5471 2813h0M5452 2815h0M5629 2815h0M5926 2814h0M6352 2814h0M7150 2815h0M7128 2812h0M7510 2814h0M7360 2814h0M7317 2813h0M8518 2816h0M8866 2813h0M9289 2814h0M9392 2816h0M9431 2813h0M9719 2815h0M9661 2813h0"/><path stroke="#aa5c5c" d="M545 2819h0M847 2819h0M737 2817h0M1634 2817h0M2303 2817h0M2496 2818h0M3035 2819h0M2914 2817h0M4101 2818h0M4015 2818h0M3982 2819h0M4183 2819h0M4482 2818h0M4636 2818h0M5270 2819h0M5273 2818h0M5521 2820h0M6089 2819h0M6683 2820h0M7006 2819h0M6925 2820h0M7083 2819h0M7799 2818h0M7859 2819h0M9454 2818h0M9727 2819h0M9505 2819h0"/><path stroke="#5d5dab" d="M502 1866h0M648 1864h0M711 1863h0M1366 1863h0M1776 1866h0M2102 1866h0M2509 1864h0M2417 1864h0M4122 1867h0M4580 1864h0M4491 1866h0M4792 1867h0M4941 1866h0M4924 1865h0M5089 1867h0M5601 1865h0M5675 1867h0M6118 1866h0M6169 1866h0M6453 1866h0M6608 1867h0M7534 1864h0M7436 1863h0M7296 1864h0M8083 1864h0M7998 1867h0M8090 1867h0M8099 1863h0M8128 1867h0M8021 1866h0M8055 1864h0M8100 1866h0M8009 1867h0M8169 1866h0M8272 1866h0M8399 1865h0M8786 1864h0M8931 1865h0"/><path stroke="#5c5caa" d="M701 1862h0M601 1862h0M674 1862h0M702 1859h0M657 1859h0M1324 1860h0M1770 1862h0M2251 1861h0M2638 1861h0M2811 1861h0M3234 1861h0M3567 1862h0M4081 1859h0M4656 1860h0M4766 1860h0M5045 1862h0M5567 1862h0M5638 1861h0M5906 1861h0M6405 1860h0M6262 1862h0M6337 1861h0M7361 1861h0M7904 1862h0M8001 1860h0M8035 1861h0M8165 1860h0M8179 1862h0M8185 1862h0M8387 1860h0M8660 1860h0M8655 1860h0M8756 1862h0M8940 1860h0M9241 1861h0"/><path stroke="#cfcfd1" d="M808 2322h0M1620 2322h0M1640 2322h0M2033 2322h0M2202 2322h0M2141 2322h0M4230 2322h0M4024 2322h0M4578 2322h0M5184 2322h0M5316 2322h0M5575 2322h0M6010 2322h0M6824 2322h0M8186 2322h0"/><path stroke="#d1cfcf" d="M1358 2357h0M1658 2357h0M1749 2357h0M4674 2358h0M5903 2358h0M6293 2358h0M6379 2357h0M7172 2357h0M7816 2358h0M7798 2357h0M8761 2357h0"/><path stroke="#5c5cab" d="M512 1863h0M663 1863h0M1160 1863h0M2573 1863h0M2500 1863h0M4644 1863h0M4931 1863h0M5472 1863h0M6213 1863h0M6743 1863h0M8027 1863h0M8620 1863h0"/><path stroke="#d2cfcf" d="M499 2357h0M556 2356h0M502 2357h0M765 2355h0M806 2356h0M798 2357h0M1042 2357h0M1024 2355h0M1190 2357h0M1138 2354h0M1205 2354h0M1091 2356h0M1337 2355h0M1374 2357h0M1426 2357h0M1486 2354h0M1569 2355h0M1710 2354h0M2192 2357h0M2018 2354h0M2020 2356h0M2119 2354h0M2089 2354h0M2471 2355h0M2518 2356h0M2483 2356h0M2527 2354h0M3010 2355h0M3116 2357h0M3155 2355h0M2960 2356h0M3461 2356h0M3641 2357h0M3538 2356h0M3461 2354h0M3701 2357h0M3385 2354h0M3948 2357h0M4245 2355h0M4237 2356h0M4307 2355h0M4356 2354h0M4681 2356h0M4655 2355h0M4490 2354h0M4475 2356h0M4787 2356h0M4775 2355h0M4824 2354h0M4973 2354h0M5044 2356h0M4989 2356h0M5191 2357h0M5189 2354h0M5233 2357h0M5261 2354h0M5536 2356h0M5566 2354h0M5641 2357h0M5698 2357h0M5762 2354h0M5949 2355h0M6000 2354h0M5961 2356h0M6010 2355h0M6022 2357h0M6061 2354h0M6439 2357h0M6486 2355h0M6516 2355h0M6788 2355h0M7407 2354h0M7323 2355h0M7457 2355h0M7290 2354h0M7741 2354h0M7817 2356h0M7623 2355h0M7670 2354h0M7724 2356h0M8138 2355h0M8163 2354h0M8259 2357h0M8264 2357h0M8293 2355h0M8216 2355h0M8340 2356h0M8488 2355h0M8656 2355h0M8713 2355h0M8804 2355h0M9031 2356h0"/><path stroke="#aa5b5b" d="M537 2822h0M534 2823h0M849 2821h0M780 2821h0M1230 2821h0M1487 2823h0M1398 2822h0M1424 2823h0M1818 2820h0M1698 2823h0M2080 2820h0M2123 2822h0M2641 2824h0M2718 2824h0M3442 2820h0M4250 2823h0M4299 2823h0M4630 2823h0M5556 2821h0M5621 2821h0M6023 2821h0M6381 2820h0M6694 2821h0M7025 2821h0M7464 2822h0M7644 2823h0M7839 2821h0M8226 2822h0M8230 2823h0M8477 2822h0M8519 2820h0M8490 2822h0M9642 2824h0M9739 2821h0"/><path stroke="#cfcfd2" d="M560 2325h0M557 2324h0M1140 2325h0M1135 2322h0M1312 2322h0M1479 2323h0M1345 2323h0M1369 2323h0M1393 2323h0M1957 2323h0M1694 2323h0M1835 2322h0M1929 2322h0M1844 2323h0M1888 2323h0M1584 2325h0M2089 2323h0M2589 2324h0M3059 2323h0M3011 2324h0M3271 2325h0M3298 2325h0M3620 2324h0M3624 2323h0M3569 2324h0M3657 2325h0M3838 2323h0M3763 2323h0M3788 2325h0M3856 2323h0M3966 2323h0M4096 2324h0M4069 2322h0M4249 2324h0M4413 2323h0M4428 2324h0M4399 2322h0M4651 2324h0M4714 2322h0M4540 2323h0M4472 2324h0M4810 2323h0M4863 2322h0M4805 2325h0M5008 2323h0M5278 2324h0M5273 2323h0M5274 2325h0M5519 2324h0M5785 2322h0M5888 2324h0M5809 2325h0M5962 2324h0M5815 2325h0M5926 2323h0M6167 2324h0M6303 2322h0M6407 2323h0M6334 2324h0M6524 2324h0M6782 2323h0M6858 2325h0M6661 2324h0M6789 2325h0M7109 2325h0M7518 2322h0M7454 2322h0M7400 2324h0M7530 2324h0M7368 2325h0M7805 2325h0M7715 2324h0M7860 2324h0M7868 2324h0M8186 2324h0M8364 2323h0M8337 2325h0M8321 2325h0M8221 2323h0M8513 2322h0M8614 2324h0M8586 2324h0M8831 2324h0M8864 2324h0M9098 2322h0M9058 2325h0M9246 2323h0M9225 2325h0M9383 2322h0"/><path stroke="#5b5baa" d="M708 1856h0M651 1859h0M725 1858h0M718 1858h0M644 1856h0M1132 1858h0M1136 1857h0M1262 1857h0M1341 1856h0M1519 1859h0M1933 1859h0M1555 1857h0M2049 1856h0M2449 1855h0M2577 1859h0M2664 1856h0M2714 1858h0M2713 1855h0M2889 1857h0M3207 1857h0M4349 1857h0M4566 1856h0M4457 1856h0M4813 1856h0M5121 1858h0M5071 1859h0M5219 1858h0M5569 1856h0M6030 1858h0M6444 1859h0M6835 1857h0M6851 1857h0M7135 1856h0M6997 1857h0M7052 1856h0M7473 1859h0M7365 1857h0M7389 1858h0M7939 1857h0M8105 1859h0M8063 1855h0M8004 1857h0M8086 1857h0M8649 1855h0M8817 1856h0M8826 1857h0M8953 1857h0M9268 1859h0"/><path stroke="#ab5c5c" d="M1399 2816h0M2209 2816h0M2858 2817h0M3315 2816h0M3414 2817h0M4458 2817h0M5146 2816h0M6817 2816h0M6998 2816h0M7888 2816h0M8554 2816h0"/><path stroke="#d0d0d2" d="M514 2326h0M512 2329h0M811 2329h0M821 2328h0M792 2328h0M1172 2328h0M1222 2326h0M1102 2326h0M1197 2328h0M1159 2327h0M1436 2329h0M1383 2328h0M1462 2329h0M1315 2328h0M1454 2329h0M1410 2330h0M1327 2327h0M1422 2326h0M1443 2326h0M1643 2328h0M2000 2328h0M2531 2327h0M2336 2329h0M2654 2329h0M2780 2328h0M3246 2328h0M3686 2328h0M3588 2329h0M3416 2326h0M3399 2328h0M3678 2326h0M3892 2327h0M3878 2326h0M3870 2329h0M3757 2326h0M3830 2329h0M3887 2328h0M4224 2328h0M4309 2326h0M4531 2327h0M4662 2326h0M5080 2326h0M5150 2329h0M4917 2328h0M5085 2328h0M4966 2330h0M5220 2329h0M5215 2329h0M5492 2329h0M5528 2329h0M5516 2328h0M5412 2329h0M5999 2327h0M5763 2328h0M5924 2327h0M6034 2328h0M5925 2328h0M6140 2327h0M6109 2327h0M6238 2328h0M6280 2327h0M6414 2329h0M6262 2328h0M6641 2329h0M6778 2326h0M7167 2327h0M6960 2329h0M7169 2326h0M7505 2329h0M7369 2328h0M7274 2329h0M7478 2327h0M7281 2327h0M7530 2329h0M7887 2329h0M7895 2327h0M8102 2327h0M8106 2327h0M8139 2328h0M8162 2327h0M8261 2326h0M8305 2326h0M8597 2326h0M8511 2329h0M8562 2326h0M8759 2326h0M8838 2327h0M8809 2327h0M8893 2328h0M9039 2327h0M9227 2327h0M9233 2327h0M9230 2327h0M9388 2329h0"/><path stroke="#aa5a5a" d="M537 2828h0M975 2825h0M1482 2827h0M1381 2827h0M1592 2826h0M1630 2826h0M1721 2827h0M2159 2827h0M2589 2827h0M2871 2825h0M3142 2828h0M3073 2825h0M4761 2827h0M5179 2827h0M4933 2824h0M5530 2827h0M5716 2825h0M6317 2827h0M6288 2825h0M6711 2826h0M6764 2825h0M6940 2825h0M6952 2825h0M7357 2825h0M7772 2827h0M7609 2826h0M7722 2824h0M7832 2826h0M7792 2825h0M7791 2827h0M7828 2828h0M8132 2824h0M8282 2828h0M8400 2826h0M8628 2825h0M8706 2825h0M8847 2826h0M9222 2826h0M9405 2825h0M9707 2826h0M9756 2826h0M9732 2826h0"/><path stroke="#5a5aaa" d="M686 1851h0M639 1855h0M718 1852h0M648 1853h0M670 1853h0M582 1854h0M615 1852h0M632 1854h0M665 1853h0M643 1855h0M624 1852h0M1027 1855h0M1986 1853h0M1621 1855h0M2091 1855h0M2466 1854h0M3591 1854h0M3905 1854h0M4223 1854h0M4014 1851h0M4383 1853h0M4470 1853h0M4468 1855h0M4463 1851h0M4548 1854h0M6020 1853h0M6045 1855h0M6120 1851h0M6413 1851h0M6639 1852h0M7030 1855h0M7395 1853h0M7386 1855h0M7675 1851h0M7738 1852h0M7678 1852h0M7918 1851h0M8030 1854h0M8059 1854h0M8084 1854h0M8071 1851h0M8046 1851h0M8604 1854h0M8443 1855h0M8643 1854h0M8662 1854h0M8718 1853h0M9067 1852h0"/><path stroke="#5959a9" d="M654 1848h0M1293 1849h0M2231 1849h0M2347 1848h0M2654 1850h0M3079 1848h0M2984 1848h0M3007 1851h0M3179 1848h0M3160 1849h0M3778 1848h0M4396 1848h0M4468 1849h0M4832 1849h0M4998 1851h0M7328 1849h0M7723 1849h0M7896 1848h0M8032 1850h0M8034 1850h0M8094 1847h0M8012 1851h0M8222 1849h0M8218 1848h0M8328 1850h0M8527 1849h0M8655 1850h0M9277 1851h0"/><path stroke="#d2d0d0" d="M792 2353h0M1102 2350h0M1069 2352h0M1250 2353h0M1237 2353h0M1151 2353h0M1489 2353h0M1395 2350h0M1461 2353h0M1269 2350h0M1866 2352h0M1594 2353h0M1882 2352h0M1781 2350h0M1987 2353h0M2051 2351h0M2197 2352h0M2068 2353h0M2101 2353h0M2081 2351h0M2100 2350h0M2391 2353h0M2331 2352h0M2335 2351h0M2465 2350h0M2650 2352h0M2620 2350h0M2715 2351h0M2669 2353h0M3042 2352h0M3086 2352h0M3240 2353h0M3234 2350h0M3533 2353h0M3720 2352h0M3522 2352h0M3533 2351h0M3501 2350h0M3824 2352h0M4001 2354h0M4246 2353h0M4171 2351h0M4345 2351h0M4352 2352h0M4292 2351h0M4287 2352h0M4532 2350h0M4674 2353h0M4472 2351h0M4704 2350h0M4707 2353h0M4566 2353h0M4669 2351h0M4823 2351h0M5136 2352h0M5263 2352h0M5255 2353h0M5200 2350h0M5567 2351h0M5425 2351h0M5503 2352h0M5420 2351h0M5604 2353h0M5674 2350h0M5681 2351h0M5775 2352h0M5803 2350h0M6169 2351h0M6041 2353h0M6041 2352h0M6044 2350h0M6132 2352h0M6287 2353h0M6234 2353h0M6317 2353h0M6268 2352h0M6599 2350h0M6714 2353h0M6662 2351h0M6844 2352h0M7165 2350h0M7198 2352h0M6978 2350h0M7192 2350h0M7357 2351h0M7533 2350h0M7515 2350h0M7352 2351h0M7623 2352h0M7628 2352h0M8101 2352h0M8170 2351h0M8262 2353h0M8252 2351h0M8340 2353h0M8411 2352h0M8526 2350h0M8459 2353h0M8632 2350h0M8863 2353h0M8986 2350h0M8948 2352h0M9083 2352h0M9292 2352h0M9199 2350h0"/><path stroke="#a95959" d="M973 2831h0M1112 2830h0M1320 2829h0M2212 2830h0M2502 2828h0M2459 2831h0M2986 2829h0M3212 2831h0M3704 2830h0M3844 2831h0M4018 2831h0M4174 2830h0M4353 2829h0M4626 2829h0M4513 2829h0M4860 2831h0M4775 2831h0M5611 2829h0M5711 2829h0M5783 2830h0M5850 2831h0M6448 2831h0M6413 2831h0M6461 2832h0M6471 2830h0M6973 2829h0M6957 2832h0M6919 2829h0M7038 2831h0M7475 2832h0M7519 2829h0M7712 2830h0M8447 2829h0M9057 2832h0M9068 2832h0M9293 2831h0M9326 2830h0"/><path stroke="#d1d1d2" d="M506 2333h0M1150 2330h0M1069 2331h0M1133 2332h0M1127 2331h0M1041 2332h0M1153 2331h0M1041 2332h0M1182 2333h0M1291 2331h0M1607 2330h0M1640 2330h0M1798 2331h0M1852 2330h0M1704 2331h0M1692 2330h0M2175 2332h0M2034 2331h0M2186 2333h0M2492 2330h0M2503 2332h0M2303 2330h0M2577 2330h0M2336 2331h0M2400 2333h0M2498 2331h0M2932 2333h0M3159 2333h0M3153 2332h0M3106 2333h0M3034 2333h0M3290 2333h0M3253 2332h0M3250 2331h0M3208 2333h0M3220 2331h0M3316 2332h0M3394 2333h0M3781 2331h0M3850 2333h0M4132 2333h0M3953 2331h0M4182 2331h0M4393 2330h0M4326 2331h0M4267 2332h0M4261 2333h0M4282 2333h0M4521 2333h0M4615 2330h0M4792 2331h0M4826 2331h0M5187 2333h0M4957 2332h0M5058 2330h0M5563 2332h0M5664 2330h0M5909 2330h0M6009 2331h0M5975 2332h0M6138 2334h0M6067 2330h0M6240 2333h0M6373 2331h0M6441 2332h0M6384 2333h0M6255 2332h0M6365 2330h0M6291 2331h0M6454 2333h0M6799 2334h0M6799 2333h0M6609 2331h0M6674 2331h0M6839 2330h0M6725 2330h0M6938 2330h0M6944 2333h0M6963 2334h0M7090 2331h0M7011 2333h0M6977 2332h0M7369 2333h0M7806 2333h0M7714 2332h0M7957 2333h0M7956 2331h0M7947 2331h0M8321 2331h0M8305 2332h0M8369 2330h0M8286 2330h0M8231 2332h0M8365 2330h0M8273 2333h0M8496 2331h0M8749 2330h0M8723 2330h0M9289 2332h0M9581 2333h0"/><path stroke="#d2d1d1" d="M646 2349h0M1149 2347h0M999 2346h0M1169 2346h0M1148 2347h0M1029 2346h0M1349 2349h0M1362 2347h0M1373 2349h0M1954 2346h0M1811 2346h0M1983 2347h0M2102 2348h0M2250 2346h0M2032 2349h0M2533 2346h0M2380 2349h0M2392 2348h0M2612 2349h0M2801 2349h0M2871 2347h0M2820 2347h0M3143 2346h0M2952 2349h0M3613 2347h0M3561 2346h0M3639 2349h0M3768 2346h0M3849 2346h0M4023 2347h0M3967 2348h0M3974 2349h0M4032 2348h0M4155 2348h0M4398 2349h0M4326 2347h0M4704 2349h0M4509 2348h0M4488 2349h0M4751 2349h0M5144 2348h0M5131 2346h0M4955 2350h0M5113 2348h0M5166 2346h0M5042 2349h0M5171 2348h0M5261 2349h0M5299 2348h0M5288 2350h0M5478 2347h0M5519 2347h0M5490 2346h0M5731 2349h0M5829 2348h0M5824 2349h0M5975 2346h0M5872 2348h0M6093 2347h0M6081 2348h0M6098 2346h0M6076 2346h0M6075 2348h0M6152 2348h0M6248 2346h0M6226 2347h0M6302 2349h0M6378 2349h0M6287 2349h0M6729 2346h0M6821 2350h0M7005 2349h0M7127 2349h0M7006 2347h0M7370 2348h0M7323 2348h0M7501 2347h0M7517 2349h0M7840 2349h0M7706 2347h0M7947 2347h0M8097 2348h0M8042 2348h0M8126 2346h0M8280 2347h0M8349 2348h0M8437 2348h0M8624 2349h0M8791 2349h0M8798 2349h0M8903 2348h0M8976 2347h0M9105 2346h0M9250 2347h0M9216 2349h0"/><path stroke="#5858a9" d="M661 1844h0M609 1846h0M729 1847h0M727 1846h0M1133 1847h0M1054 1846h0M1177 1846h0M1381 1846h0M1421 1844h0M1903 1847h0M2007 1845h0M2720 1844h0M2772 1846h0M2926 1845h0M3621 1845h0M3694 1844h0M3484 1844h0M4684 1844h0M5063 1844h0M4983 1846h0M5911 1844h0M6168 1845h0M6971 1845h0M7329 1845h0M7790 1845h0M8014 1845h0M8089 1847h0M8047 1844h0M8123 1845h0M8134 1845h0M8152 1846h0M8168 1845h0M8281 1847h0M8349 1846h0M8646 1845h0M8646 1844h0M8672 1843h0M8788 1843h0M9075 1845h0M9281 1847h0"/><path stroke="#5959aa" d="M1090 1851h0M984 1851h0M3089 1851h0M4725 1851h0M6510 1851h0M7950 1851h0"/><path stroke="#a95858" d="M1282 2834h0M1313 2832h0M1873 2834h0M1984 2834h0M1717 2834h0M2120 2835h0M2448 2836h0M2810 2832h0M3395 2835h0M3987 2835h0M3950 2834h0M4126 2836h0M4488 2833h0M5260 2836h0M5287 2834h0M5227 2835h0M5606 2835h0M5600 2834h0M5421 2835h0M5697 2834h0M5953 2836h0M5870 2834h0M6055 2833h0M6455 2835h0M6495 2833h0M6581 2833h0M6650 2832h0M7145 2833h0M7393 2834h0M7490 2835h0M7444 2834h0M7754 2832h0M8147 2834h0M8313 2832h0M8823 2833h0M9251 2834h0M9462 2835h0M9637 2835h0M9671 2835h0M9491 2833h0"/><path stroke="#aa5959" d="M3503 2828h0M6343 2828h0M6625 2828h0M9752 2828h0"/><path stroke="#5757a9" d="M520 1840h0M522 1841h0M494 1841h0M671 1842h0M1453 1841h0M1283 1842h0M1677 1842h0M2225 1840h0M2495 1840h0M3138 1841h0M3480 1841h0M3438 1843h0M3889 1840h0M4067 1840h0M4741 1840h0M4996 1842h0M5228 1842h0M5491 1843h0M5775 1841h0M6360 1840h0M6599 1839h0M7482 1841h0M7665 1841h0M7891 1840h0M7951 1843h0M8129 1840h0M8513 1842h0M8477 1842h0M8790 1840h0M8859 1840h0M8945 1843h0M9209 1841h0"/><path stroke="#a95757" d="M534 2836h0M1202 2836h0M2056 2837h0M2538 2837h0M2541 2836h0M2554 2837h0M2673 2836h0M3162 2840h0M2987 2836h0M3242 2838h0M3288 2837h0M3246 2838h0M3433 2838h0M3474 2839h0M3762 2836h0M3851 2838h0M4200 2837h0M4426 2838h0M4269 2840h0M4684 2837h0M4565 2837h0M4648 2839h0M4773 2839h0M5870 2838h0M6114 2840h0M6580 2838h0M6850 2840h0M6642 2839h0M7212 2837h0M7456 2836h0M7333 2837h0M7317 2837h0M7674 2839h0M8185 2839h0M8308 2836h0M8497 2840h0M8747 2836h0M8704 2836h0M9325 2840h0M9349 2840h0M9424 2840h0M9384 2837h0M9613 2836h0M9663 2837h0M9726 2840h0"/><path stroke="#d2d2d2" d="M7746 2346h0"/><path stroke="#d3d2d2" d="M566 2344h0M509 2345h0M799 2344h0M823 2345h0M1087 2343h0M977 2344h0M1172 2344h0M1444 2344h0M1269 2345h0M1744 2344h0M1987 2345h0M1901 2342h0M1685 2342h0M1768 2344h0M1846 2344h0M2051 2345h0M2510 2344h0M2422 2344h0M2533 2343h0M2402 2345h0M2578 2344h0M2684 2343h0M2936 2344h0M3082 2344h0M3366 2344h0M3493 2345h0M3473 2344h0M3361 2343h0M3416 2345h0M3361 2343h0M3817 2344h0M3900 2342h0M4211 2345h0M4041 2343h0M3980 2342h0M4287 2344h0M4313 2344h0M4745 2345h0M4609 2342h0M4583 2342h0M4793 2345h0M4806 2345h0M5151 2343h0M5172 2344h0M5266 2344h0M5202 2345h0M5517 2345h0M5433 2345h0M5674 2344h0M5662 2342h0M5931 2343h0M6141 2345h0M6175 2343h0M6083 2345h0M6438 2345h0M6424 2342h0M6494 2343h0M6462 2342h0M6627 2345h0M6712 2344h0M6793 2345h0M6998 2342h0M7024 2345h0M7038 2343h0M7524 2342h0M7522 2345h0M7406 2342h0M7526 2344h0M7798 2344h0M7740 2343h0M7831 2345h0M7889 2342h0M7923 2344h0M7926 2343h0M7943 2345h0M7870 2343h0M8040 2345h0M8122 2344h0M8010 2345h0M8129 2345h0M8334 2343h0M8238 2344h0M8369 2342h0M8590 2343h0M8675 2344h0M8760 2343h0M8765 2342h0M8930 2345h0M8911 2343h0M9116 2345h0M9042 2344h0M9191 2344h0"/><path stroke="#d2d2d3" d="M593 2337h0M763 2336h0M739 2335h0M1094 2336h0M1035 2336h0M1054 2338h0M957 2334h0M1168 2337h0M1355 2337h0M1287 2336h0M1782 2336h0M1853 2337h0M1953 2335h0M1593 2337h0M1561 2337h0M1708 2336h0M2054 2335h0M2071 2334h0M2030 2337h0M2476 2338h0M2549 2337h0M2388 2336h0M2407 2336h0M3064 2337h0M2994 2338h0M3553 2334h0M3528 2336h0M3559 2334h0M3706 2334h0M3404 2336h0M3515 2336h0M3477 2336h0M3400 2335h0M3367 2334h0M3463 2334h0M3900 2335h0M3818 2337h0M4160 2335h0M4000 2337h0M4317 2335h0M4290 2337h0M4300 2335h0M4332 2336h0M4654 2337h0M4553 2335h0M4508 2335h0M4620 2338h0M4635 2336h0M4851 2336h0M4791 2337h0M4811 2337h0M4764 2334h0M5183 2337h0M5136 2334h0M5144 2337h0M5046 2335h0M5150 2336h0M5259 2335h0M5594 2337h0M5562 2337h0M5474 2335h0M5406 2337h0M5490 2337h0M5433 2335h0M5513 2337h0M5730 2335h0M5982 2336h0M5900 2337h0M6031 2335h0M5950 2336h0M6003 2337h0M6081 2335h0M6185 2334h0M6168 2336h0M6443 2335h0M6385 2336h0M6482 2335h0M6771 2338h0M6627 2338h0M6764 2336h0M6612 2334h0M7029 2336h0M7150 2337h0M7008 2337h0M6967 2335h0M7318 2337h0M7774 2334h0M7906 2337h0M7897 2336h0M8140 2334h0M8341 2335h0M8299 2336h0M8306 2336h0M8388 2336h0M8546 2334h0M8443 2334h0M8440 2334h0M8980 2336h0M9233 2334h0M9191 2336h0M9190 2337h0M9261 2334h0M9749 2335h0"/><path stroke="#5656a9" d="M2582 1839h0M8117 1839h0"/><path stroke="#a95656" d="M3373 2840h0"/><path stroke="#5656a8" d="M677 1836h0M667 1837h0M570 1836h0M733 1837h0M802 1837h0M1004 1837h0M1232 1838h0M1022 1838h0M980 1836h0M1552 1837h0M2022 1838h0M3193 1835h0M3582 1838h0M3615 1838h0M3804 1836h0M4695 1836h0M4794 1835h0M5886 1837h0M5785 1835h0M5926 1837h0M6170 1838h0M6522 1836h0M6772 1837h0M6722 1836h0M7310 1835h0M7374 1837h0M7619 1838h0M8020 1837h0M8023 1837h0M8191 1838h0M8324 1835h0M8247 1837h0M9226 1839h0M9226 1837h0"/><path stroke="#d3d3d3" d="M752 2339h0M758 2341h0M814 2341h0M747 2341h0M841 2339h0M1066 2339h0M984 2341h0M1088 2338h0M1118 2339h0M1207 2339h0M1003 2339h0M1001 2339h0M1452 2338h0M1968 2341h0M1559 2339h0M1820 2341h0M1821 2339h0M1661 2340h0M1984 2338h0M2121 2338h0M2230 2338h0M2413 2339h0M2308 2339h0M2664 2338h0M2831 2338h0M2895 2338h0M3185 2338h0M2819 2338h0M3207 2340h0M3215 2338h0M3296 2340h0M3222 2339h0M3425 2340h0M3572 2340h0M3711 2339h0M3728 2341h0M3485 2339h0M3585 2342h0M3567 2338h0M3792 2338h0M4164 2341h0M4077 2341h0M4079 2339h0M4477 2338h0M4916 2341h0M5175 2340h0M5272 2340h0M5224 2339h0M5614 2340h0M5564 2341h0M5430 2338h0M5438 2339h0M5641 2338h0M5672 2339h0M5958 2341h0M6000 2338h0M5898 2340h0M6036 2341h0M5788 2339h0M5779 2340h0M6049 2340h0M6508 2342h0M6788 2341h0M6746 2340h0M6598 2339h0M6621 2340h0M6984 2338h0M7046 2338h0M7514 2338h0M7390 2339h0M7358 2338h0M7341 2340h0M7783 2340h0M7661 2339h0M7669 2340h0M7683 2340h0M7860 2338h0M8167 2339h0M8212 2340h0M8343 2339h0M8333 2340h0M8392 2338h0M8462 2340h0M8485 2339h0M8477 2338h0M8498 2341h0M8625 2341h0M8710 2341h0M8735 2340h0M8715 2339h0M8854 2340h0M8819 2338h0M8934 2339h0M9026 2339h0M9299 2339h0M9323 2338h0M9453 2338h0"/><path stroke="#a85656" d="M1452 2843h0M1980 2842h0M1660 2842h0M2723 2840h0M2854 2841h0M3093 2842h0M2857 2841h0M3383 2841h0M3478 2843h0M3548 2842h0M3836 2842h0M4232 2843h0M4314 2842h0M4728 2844h0M4824 2840h0M5439 2841h0M5656 2843h0M5866 2844h0M5853 2841h0M5993 2842h0M6131 2843h0M6334 2840h0M6600 2844h0M6857 2843h0M6795 2841h0M6628 2841h0M6751 2844h0M6941 2843h0M7767 2841h0M7708 2841h0M7920 2843h0M8738 2843h0M8786 2844h0M9274 2841h0M9527 2842h0"/><path stroke="#a85555" d="M524 2848h0M549 2845h0M1506 2848h0M1939 2847h0M1931 2847h0M2090 2847h0M2213 2847h0M2539 2846h0M2793 2845h0M3690 2847h0M3675 2845h0M3396 2845h0M3959 2845h0M4325 2844h0M5232 2848h0M5430 2848h0M5909 2847h0M5992 2846h0M6109 2846h0M6262 2848h0M6451 2847h0M6690 2846h0M6637 2847h0M7183 2847h0M7655 2845h0M7871 2847h0M8378 2847h0M8605 2846h0M8572 2846h0M8492 2848h0M8731 2844h0M8824 2845h0M9050 2844h0M9432 2846h0M9463 2847h0M9673 2847h0M9699 2845h0"/><path stroke="#5555a8" d="M623 1834h0M623 1833h0M666 1831h0M694 1833h0M692 1832h0M642 1835h0M837 1835h0M1089 1833h0M982 1835h0M1250 1833h0M1064 1833h0M1196 1832h0M1444 1832h0M1965 1834h0M2372 1832h0M2487 1833h0M2498 1833h0M2424 1835h0M2525 1835h0M3311 1834h0M3684 1834h0M3688 1835h0M3900 1834h0M3784 1834h0M4699 1833h0M5078 1834h0M5044 1835h0M5148 1831h0M5026 1833h0M5201 1834h0M5565 1832h0M5777 1831h0M5775 1835h0M5893 1835h0M6392 1833h0M6225 1834h0M6455 1832h0M7809 1832h0M7671 1831h0M7620 1832h0M8116 1834h0M8063 1835h0M8119 1834h0M8017 1834h0M8077 1833h0M8062 1834h0M8223 1832h0M8589 1831h0M8626 1832h0M8964 1832h0M9235 1834h0"/><path stroke="#5454a8" d="M693 1829h0M688 1829h0M715 1829h0M692 1828h0M802 1828h0M951 1829h0M1700 1829h0M1640 1829h0M2242 1829h0M2215 1831h0M2331 1828h0M2706 1830h0M3158 1829h0M3700 1829h0M3703 1829h0M3655 1828h0M3826 1827h0M4336 1828h0M4317 1831h0M4380 1829h0M4497 1830h0M4580 1831h0M4689 1829h0M4597 1831h0M4859 1829h0M4863 1828h0M4901 1827h0M5221 1830h0M6171 1831h0M6128 1830h0M7136 1829h0M7412 1828h0M7500 1830h0M7780 1829h0M7689 1830h0M7643 1827h0M8065 1831h0M8054 1830h0M8115 1828h0M8660 1831h0M8909 1828h0M9265 1830h0"/><path stroke="#a85454" d="M737 2849h0M1016 2851h0M969 2849h0M1520 2849h0M1617 2849h0M1930 2850h0M2342 2849h0M2450 2851h0M2884 2851h0M3036 2850h0M2929 2848h0M3391 2848h0M3680 2849h0M3779 2849h0M4236 2851h0M4101 2851h0M4036 2851h0M4290 2848h0M4296 2850h0M4422 2851h0M4681 2850h0M4858 2851h0M5000 2851h0M5113 2852h0M4915 2849h0M5712 2851h0M6037 2850h0M5853 2849h0M6017 2851h0M6141 2849h0M6284 2849h0M6754 2852h0M6714 2850h0M6801 2849h0M7175 2849h0M7428 2850h0M7678 2849h0M7764 2851h0M7738 2849h0M9238 2851h0M9463 2849h0M9756 2848h0M9568 2849h0M9620 2851h0M9647 2850h0"/><path stroke="#5454a7" d="M576 1827h0M2535 1827h0M8019 1827h0"/><path stroke="#a75454" d="M1053 2852h0M7661 2852h0M7932 2852h0M9070 2852h0"/><path stroke="#5353a7" d="M713 1825h0M607 1826h0M590 1827h0M712 1824h0M604 1827h0M569 1827h0M1013 1827h0M1438 1826h0M2105 1827h0M2143 1824h0M2452 1823h0M2619 1825h0M2911 1827h0M3105 1825h0M3408 1826h0M3679 1824h0M4773 1825h0M4921 1824h0M5166 1825h0M5528 1824h0M5495 1826h0M5461 1824h0M5727 1826h0M6344 1827h0M7841 1827h0M7836 1824h0M7803 1826h0M8066 1825h0M8256 1824h0M8222 1824h0M9048 1824h0M9112 1825h0M9261 1824h0"/><path stroke="#a75353" d="M802 2855h0M1224 2855h0M1043 2854h0M1311 2854h0M1760 2856h0M1694 2854h0M2416 2853h0M3165 2856h0M3445 2853h0M3411 2856h0M3898 2854h0M3814 2853h0M4204 2854h0M4247 2852h0M3957 2853h0M4051 2854h0M4354 2852h0M4642 2852h0M5416 2855h0M5647 2855h0M5670 2854h0M6045 2854h0M6153 2853h0M6345 2853h0M6500 2856h0M6534 2852h0M6860 2852h0M6647 2855h0M7330 2853h0M7789 2853h0M7792 2854h0M8574 2855h0M8950 2855h0M9021 2853h0M9113 2853h0M9074 2855h0M9285 2856h0M9627 2852h0M9668 2852h0"/><path stroke="#a75252" d="M559 2859h0M736 2857h0M762 2856h0M1183 2856h0M2120 2857h0M2069 2858h0M2368 2859h0M2532 2857h0M2691 2858h0M3183 2860h0M2779 2859h0M3727 2859h0M3751 2857h0M4182 2856h0M4182 2859h0M3990 2860h0M5680 2859h0M5640 2857h0M5883 2857h0M5993 2856h0M5813 2859h0M6020 2857h0M6159 2859h0M6081 2859h0M6418 2858h0M6445 2860h0M6845 2857h0M6812 2858h0M6636 2858h0M7776 2857h0M7689 2858h0M7947 2859h0M8255 2859h0M8684 2860h0M8674 2857h0M8768 2859h0M8899 2857h0M9120 2859h0M9197 2858h0M9267 2857h0M9491 2859h0M9708 2859h0"/><path stroke="#5252a7" d="M562 1821h0M706 1820h0M600 1823h0M687 1822h0M697 1823h0M613 1823h0M1375 1821h0M1678 1821h0M2428 1822h0M2677 1822h0M2725 1822h0M3163 1820h0M3421 1822h0M3715 1822h0M3882 1821h0M4477 1821h0M4583 1822h0M4662 1820h0M4776 1819h0M4781 1820h0M5170 1819h0M5169 1822h0M5201 1821h0M5279 1820h0M5275 1820h0M5634 1821h0M5726 1821h0M6022 1821h0M6000 1822h0M6179 1821h0M6404 1821h0M6639 1822h0M7058 1819h0M7062 1822h0M7843 1820h0M7634 1823h0M7901 1819h0M7958 1822h0M8087 1822h0M8171 1823h0M8150 1820h0M8248 1823h0M8240 1822h0M8622 1823h0M8714 1822h0"/><path stroke="#5151a7" d="M593 1819h0M605 1819h0M613 1819h0M648 1817h0M631 1817h0M2420 1817h0M3766 1818h0M4370 1817h0M4619 1818h0M4673 1817h0M5219 1819h0M5492 1817h0M5935 1817h0M5808 1819h0M6650 1818h0M6726 1818h0M6937 1816h0M7185 1819h0M7711 1817h0M7906 1817h0M7991 1817h0M8105 1817h0M8035 1818h0M7994 1817h0M8076 1817h0M8076 1819h0M8158 1817h0M8361 1819h0M8322 1816h0M8338 1816h0M8632 1818h0M8657 1817h0M9222 1819h0M9232 1816h0"/><path stroke="#a75151" d="M823 2862h0M1039 2861h0M1384 2860h0M1426 2861h0M1564 2862h0M2211 2864h0M2575 2863h0M2729 2860h0M3229 2861h0M3293 2861h0M3612 2861h0M3574 2862h0M3852 2862h0M3768 2863h0M3977 2861h0M4260 2863h0M4202 2861h0M4495 2863h0M5075 2862h0M5698 2861h0M5792 2860h0M6447 2861h0M6246 2861h0M6431 2861h0M7124 2861h0M7776 2861h0M8577 2862h0M8848 2862h0M9107 2861h0M9451 2863h0M9353 2862h0"/><path stroke="#5151a6" d="M685 1815h0M6591 1815h0"/><path stroke="#a65151" d="M8919 2864h0"/><path stroke="#5050a6" d="M700 1814h0M596 1812h0M568 1814h0M1151 1812h0M1064 1814h0M1655 1815h0M1778 1813h0M1874 1813h0M2507 1814h0M2600 1812h0M3057 1813h0M2810 1813h0M3453 1813h0M3793 1813h0M4235 1811h0M4037 1813h0M4266 1812h0M4422 1813h0M4504 1812h0M5255 1815h0M5912 1814h0M6047 1814h0M6108 1812h0M6500 1815h0M6954 1814h0M7019 1813h0M7673 1815h0M8127 1811h0M8060 1812h0M8102 1813h0M8092 1815h0M8081 1811h0M8105 1815h0M8095 1815h0M8059 1813h0M8290 1814h0M8372 1813h0M8539 1815h0M8757 1813h0M8932 1813h0"/><path stroke="#a65050" d="M1714 2866h0M2020 2865h0M2236 2868h0M2010 2865h0M2429 2865h0M2619 2866h0M2874 2865h0M2785 2867h0M3404 2868h0M3879 2865h0M3754 2867h0M3821 2865h0M4058 2868h0M4266 2866h0M4419 2868h0M4584 2868h0M4684 2865h0M5305 2865h0M5444 2866h0M5637 2865h0M5941 2867h0M5985 2867h0M5851 2867h0M6184 2867h0M6296 2867h0M6614 2865h0M7158 2867h0M7815 2865h0M7867 2868h0M8375 2868h0M8571 2868h0M8778 2864h0M8842 2865h0M8823 2865h0M9205 2865h0M9339 2864h0"/><path stroke="#4f4fa6" d="M665 1810h0M589 1807h0M726 1810h0M676 1810h0M665 1808h0M779 1811h0M1135 1809h0M1231 1810h0M1279 1809h0M1398 1808h0M1335 1811h0M1296 1808h0M1989 1809h0M2008 1811h0M2567 1808h0M2422 1807h0M3019 1809h0M3709 1808h0M5149 1807h0M4934 1809h0M4988 1810h0M5274 1808h0M5794 1810h0M6229 1810h0M6835 1810h0M6686 1808h0M7454 1809h0M7714 1809h0M8002 1809h0M8060 1807h0M8039 1811h0M8167 1811h0M8324 1811h0M8633 1810h0M8661 1807h0M8624 1808h0M8633 1810h0M8865 1810h0M9204 1808h0"/><path stroke="#a64f4f" d="M1033 2872h0M1228 2869h0M1319 2869h0M1949 2870h0M1919 2869h0M1733 2869h0M2970 2872h0M2939 2869h0M3532 2869h0M3731 2871h0M3885 2869h0M4202 2869h0M3950 2872h0M5112 2872h0M5403 2871h0M5469 2868h0M6072 2871h0M6134 2872h0M6063 2871h0M6239 2871h0M6740 2870h0M6647 2871h0M7057 2869h0M7873 2870h0M8496 2872h0M8653 2872h0M8958 2872h0M9023 2870h0M9298 2870h0M9399 2869h0M9587 2868h0M9622 2870h0"/><path stroke="#4e4ea6" d="M707 1806h0M1184 1805h0M1701 1805h0M2208 1804h0M3170 1805h0M3111 1807h0M3735 1805h0M4555 1804h0M4835 1804h0M5183 1804h0M5004 1804h0M5075 1806h0M5270 1807h0M5929 1804h0M6643 1804h0M7139 1805h0M7406 1806h0M7414 1805h0M7645 1806h0M7597 1805h0M7797 1804h0M7881 1806h0M8039 1806h0M8115 1805h0M8113 1804h0M8276 1804h0M8731 1804h0M8845 1805h0M8974 1804h0M8896 1805h0M9132 1806h0M9231 1807h0"/><path stroke="#a64e4e" d="M762 2875h0M1293 2873h0M1362 2875h0M1615 2873h0M2166 2873h0M2675 2874h0M2923 2874h0M2988 2875h0M3578 2874h0M4147 2872h0M3978 2875h0M5549 2874h0M6025 2875h0M6016 2873h0M6255 2875h0M6316 2872h0M6532 2874h0M6574 2874h0M6747 2873h0M7132 2876h0M7041 2873h0M7073 2875h0M7417 2876h0M7605 2874h0M8548 2874h0M8870 2872h0M8912 2873h0M9511 2872h0"/><path stroke="#a54e4e" d="M2559 2876h0M3315 2876h0M5187 2876h0"/><path stroke="#4e4ea5" d="M4080 1803h0M7654 1803h0M8077 1803h0M8028 1804h0M8900 1804h0M9212 1803h0"/><path stroke="#4d4da5" d="M630 1800h0M582 1801h0M575 1802h0M618 1801h0M609 1800h0M676 1802h0M956 1801h0M1215 1802h0M1328 1800h0M1331 1801h0M1707 1801h0M2469 1802h0M3183 1800h0M3040 1801h0M3402 1801h0M3422 1801h0M3697 1802h0M3861 1801h0M4046 1799h0M4364 1802h0M4561 1802h0M4548 1799h0M5256 1802h0M5267 1799h0M5834 1800h0M6268 1802h0M6853 1800h0M6701 1801h0M6633 1802h0M7611 1800h0M7752 1801h0M7911 1802h0M8016 1803h0M8004 1801h0M8018 1803h0M8049 1801h0M8229 1800h0M8645 1801h0M8778 1801h0M8839 1800h0M9220 1800h0"/><path stroke="#a54d4d" d="M796 2877h0M848 2878h0M1798 2877h0M1659 2876h0M2568 2876h0M2674 2879h0M2962 2877h0M2780 2878h0M3520 2878h0M3907 2877h0M3840 2879h0M3952 2880h0M4160 2879h0M4117 2879h0M4265 2880h0M4306 2879h0M4717 2876h0M4599 2877h0M4772 2879h0M5557 2878h0M5624 2880h0M5684 2880h0M5865 2880h0M6420 2878h0M6652 2880h0M6801 2878h0M7085 2880h0M7395 2877h0M7451 2880h0M7812 2879h0M7856 2878h0M8180 2879h0M8608 2878h0M8598 2879h0M8595 2879h0M8729 2876h0M8927 2878h0M9371 2879h0M9400 2879h0M9505 2879h0M9587 2879h0"/><path stroke="#4c4ca5" d="M535 1797h0M580 1795h0M590 1796h0M615 1799h0M648 1797h0M968 1795h0M962 1795h0M1176 1798h0M963 1798h0M1347 1795h0M2047 1798h0M2034 1797h0M2649 1797h0M3565 1797h0M4225 1796h0M4158 1796h0M4342 1797h0M4492 1795h0M4750 1795h0M5934 1797h0M6514 1796h0M6583 1797h0M6733 1799h0M7370 1795h0M8110 1796h0M8074 1798h0M8029 1797h0M8114 1795h0M8174 1799h0M8372 1795h0M8257 1797h0M8335 1795h0M8665 1795h0M8670 1797h0"/><path stroke="#a54c4c" d="M1141 2883h0M1109 2882h0M1044 2881h0M1465 2881h0M1944 2883h0M2452 2883h0M2682 2882h0M2647 2881h0M2809 2883h0M2993 2882h0M3436 2883h0M3764 2882h0M4183 2884h0M4247 2884h0M4565 2883h0M4498 2883h0M5767 2883h0M6140 2883h0M6241 2881h0M6784 2884h0M7530 2883h0M7348 2884h0M7312 2880h0M8284 2882h0M8498 2884h0M8757 2882h0M8719 2880h0M8842 2883h0M8970 2882h0M9287 2882h0M9441 2883h0M9623 2884h0M9755 2883h0"/><path stroke="#4b4ba5" d="M720 1794h0M668 1795h0M700 1795h0M1020 1792h0M4709 1793h0M5044 1793h0M5144 1793h0M5718 1793h0M5883 1794h0M6610 1794h0M6597 1795h0M6929 1794h0M8020 1794h0M8062 1792h0M8239 1792h0M8628 1792h0M8723 1792h0M9090 1793h0"/><path stroke="#a54b4b" d="M956 2886h0M1293 2884h0M1320 2885h0M2144 2886h0M2717 2887h0M2870 2887h0M3711 2887h0M3516 2885h0M3708 2884h0M4544 2885h0M5010 2885h0M5503 2884h0M5541 2886h0M5884 2885h0M6139 2886h0M6419 2887h0M7009 2885h0M7132 2884h0M7276 2885h0M7840 2884h0M7722 2884h0M8671 2886h0M9195 2885h0M9214 2886h0M9276 2885h0M9494 2886h0"/><path stroke="#4b4ba4" d="M624 1792h0M1217 1791h0M1928 1791h0M4646 1792h0M4820 1791h0M6374 1791h0M6581 1791h0M7128 1791h0M8045 1792h0M8038 1792h0M8098 1791h0M8167 1792h0M8940 1791h0M8917 1791h0"/><path stroke="#a44b4b" d="M2045 2888h0M4332 2888h0M4708 2888h0M8747 2888h0M9636 2888h0"/><path stroke="#4a4aa4" d="M629 1790h0M687 1791h0M599 1790h0M777 1790h0M1296 1788h0M1431 1790h0M1733 1789h0M1586 1790h0M1707 1790h0M2228 1790h0M2147 1789h0M2814 1788h0M3663 1787h0M3968 1790h0M4158 1788h0M4626 1787h0M5435 1789h0M6045 1789h0M6087 1788h0M6384 1789h0M6353 1788h0M6819 1788h0M8091 1790h0M8080 1788h0M8036 1788h0M8170 1788h0M8326 1789h0M8527 1790h0M8657 1789h0M8756 1789h0M8716 1788h0M9268 1788h0"/><path stroke="#a44a4a" d="M1098 2891h0M1474 2890h0M1278 2891h0M1257 2892h0M1347 2892h0M2367 2891h0M2863 2889h0M3020 2890h0M3668 2892h0M3743 2890h0M4412 2888h0M4396 2891h0M5205 2891h0M5716 2889h0M5712 2891h0M7159 2889h0M7420 2892h0M7310 2889h0M7697 2889h0M7894 2888h0M8794 2890h0M9119 2891h0M9318 2889h0M9451 2892h0M9321 2891h0M9367 2892h0M9755 2889h0M9703 2888h0M9722 2890h0M9682 2890h0"/><path stroke="#a44949" d="M516 2895h0M1102 2896h0M1433 2894h0M1426 2896h0M1938 2896h0M1911 2894h0M1917 2895h0M2142 2896h0M2335 2893h0M2498 2896h0M2679 2894h0M2660 2894h0M2704 2896h0M3268 2895h0M3742 2893h0M4065 2893h0M4666 2895h0M4536 2895h0M4680 2896h0M4953 2895h0M5280 2893h0M5844 2896h0M5856 2896h0M6361 2895h0M6359 2895h0M6836 2895h0M7180 2896h0M7474 2896h0M8228 2892h0M8399 2894h0M8443 2895h0M8754 2895h0M8715 2895h0M9283 2896h0M9314 2895h0M9492 2896h0M9562 2893h0"/><path stroke="#4949a4" d="M730 1786h0M584 1784h0M1458 1784h0M1622 1786h0M2140 1785h0M2549 1784h0M3870 1783h0M3886 1786h0M4186 1785h0M4714 1787h0M5143 1785h0M5114 1786h0M5951 1784h0M5976 1787h0M5845 1783h0M6501 1785h0M6644 1786h0M6585 1784h0M7517 1785h0M8126 1783h0M8026 1786h0M8103 1784h0M8083 1784h0M8081 1784h0M8025 1785h0M8649 1785h0M8652 1785h0M8733 1784h0M9126 1785h0"/><path stroke="#4848a4" d="M713 1782h0M667 1782h0M717 1781h0M669 1783h0M612 1782h0M703 1781h0M700 1781h0M661 1782h0M1437 1782h0M1447 1782h0M1573 1783h0M2055 1780h0M2019 1782h0M2408 1781h0M3489 1781h0M3770 1781h0M5717 1781h0M6351 1780h0M6450 1783h0M6729 1781h0M7319 1781h0M7673 1782h0"/><path stroke="#a44848" d="M2169 2899h0M2047 2899h0M2690 2898h0M3150 2898h0M3735 2897h0M3688 2898h0M4262 2897h0M4362 2898h0M5297 2897h0M5576 2898h0M5660 2897h0M5839 2899h0M5890 2897h0M6244 2899h0M6854 2897h0M6581 2897h0M7700 2898h0M8275 2898h0M8406 2897h0M8810 2897h0M9352 2898h0M9300 2896h0M9571 2898h0M9620 2897h0M9686 2899h0"/><path stroke="#4848a3" d="M715 1780h0M596 1779h0M663 1780h0M2085 1779h0M3211 1779h0M3502 1779h0M3640 1779h0M4609 1780h0M4974 1779h0M6852 1779h0M7687 1779h0M8966 1780h0"/><path stroke="#a34848" d="M1408 2900h0M1696 2899h0M2813 2900h0M4653 2899h0M5682 2899h0M7390 2899h0M7415 2899h0M7629 2899h0M8537 2899h0M8778 2900h0M8915 2900h0M9421 2900h0"/><path stroke="#4747a3" d="M517 1775h0M732 1775h0M699 1779h0M653 1779h0M662 1778h0M704 1779h0M629 1777h0M626 1776h0M763 1777h0M1219 1776h0M2245 1777h0M2356 1776h0M3286 1776h0M3864 1778h0M4167 1777h0M3975 1777h0M4161 1779h0M4381 1776h0M4673 1777h0M5120 1778h0M4964 1777h0M5279 1778h0M5636 1776h0M6125 1776h0M6401 1775h0M6484 1778h0M6736 1776h0M6598 1775h0M6626 1778h0M7326 1777h0M7922 1777h0M7875 1777h0M7956 1778h0M8046 1775h0M8123 1779h0M8033 1776h0M8062 1777h0M8189 1776h0M8261 1778h0M8646 1778h0M8634 1777h0M8649 1775h0M8984 1775h0M9280 1776h0M9200 1778h0"/><path stroke="#a34747" d="M1244 2902h0M1616 2904h0M1558 2904h0M1582 2902h0M1613 2901h0M2028 2901h0M2655 2902h0M3591 2902h0M3454 2902h0M3816 2901h0M4637 2904h0M4735 2901h0M4760 2902h0M4862 2901h0M5097 2901h0M4951 2903h0M4974 2902h0M5293 2904h0M5253 2904h0M5495 2902h0M5458 2903h0M5603 2902h0M5659 2901h0M5627 2903h0M5644 2903h0M6014 2904h0M6138 2904h0M6804 2901h0M6641 2903h0M6700 2903h0M7482 2901h0M7830 2902h0M8133 2903h0M8312 2902h0M8459 2902h0M8717 2904h0M8726 2901h0M9696 2903h0"/><path stroke="#4646a3" d="M535 1771h0M657 1771h0M724 1774h0M947 1774h0M1943 1771h0M1988 1771h0M2096 1774h0M2364 1774h0M3399 1773h0M3840 1773h0M4154 1773h0M4298 1773h0M5479 1772h0M5993 1771h0M6147 1771h0M6674 1772h0M7009 1772h0M7800 1775h0M7928 1774h0M8077 1773h0M8050 1771h0M8086 1772h0M8221 1771h0M8348 1773h0M8451 1775h0M8647 1775h0M8647 1775h0M8778 1773h0M8769 1774h0M9268 1772h0"/><path stroke="#a34646" d="M1495 2905h0M1420 2907h0M1913 2905h0M1799 2906h0M2146 2908h0M2495 2905h0M2483 2908h0M2820 2907h0M2899 2908h0M3907 2905h0M3852 2908h0M3752 2906h0M3963 2905h0M4324 2905h0M4655 2905h0M4910 2908h0M5251 2908h0M5663 2904h0M5688 2904h0M6296 2907h0M6541 2906h0M6830 2905h0M6814 2905h0M6714 2905h0M6960 2906h0M7678 2908h0M7694 2905h0M7898 2905h0M7926 2908h0M8333 2907h0M8588 2905h0M8555 2908h0M8660 2907h0M8729 2908h0M8870 2908h0M8900 2905h0M9246 2906h0M9666 2906h0M9742 2907h0M9514 2905h0"/><path stroke="#4545a3" d="M690 1768h0M675 1769h0M1077 1771h0M1030 1771h0M1231 1768h0M1398 1770h0M2809 1769h0M2844 1770h0M4107 1769h0M4773 1771h0M5411 1771h0M6985 1771h0M7850 1769h0M8021 1769h0M8026 1770h0M8376 1770h0M8959 1769h0"/><path stroke="#a34545" d="M1086 2909h0M1217 2911h0M959 2910h0M1437 2910h0M1605 2911h0M2109 2910h0M2462 2909h0M2905 2910h0M3784 2911h0M4293 2909h0M5234 2909h0M5770 2911h0M6395 2909h0M6761 2911h0M6917 2909h0M7097 2910h0M8734 2909h0M8772 2909h0M8910 2909h0M9452 2910h0M9368 2909h0M9587 2909h0M9697 2911h0"/><path stroke="#4545a2" d="M741 1768h0M3203 1768h0M3607 1767h0M4548 1768h0M4975 1768h0M5224 1768h0M6843 1767h0M8098 1767h0M8043 1768h0M8340 1767h0M9235 1768h0"/><path stroke="#a24545" d="M1781 2912h0M2589 2912h0M3222 2912h0M3445 2912h0M5706 2911h0M8691 2912h0"/><path stroke="#4444a2" d="M695 1767h0M652 1766h0M1159 1764h0M2565 1766h0M2417 1766h0M4134 1763h0M4203 1766h0M4320 1764h0M4547 1763h0M4707 1766h0M5000 1765h0M6301 1766h0M6294 1766h0M6856 1766h0M6715 1764h0M7033 1767h0M7816 1766h0M7992 1767h0M8102 1763h0M8155 1765h0M8289 1765h0M8346 1764h0M8617 1764h0M8765 1764h0"/><path stroke="#a24444" d="M814 2914h0M1055 2914h0M1513 2912h0M1635 2916h0M1980 2916h0M1800 2915h0M2015 2915h0M2472 2914h0M3082 2916h0M3181 2913h0M3278 2913h0M3296 2915h0M3377 2913h0M3680 2913h0M3424 2915h0M3576 2913h0M3524 2913h0M3424 2914h0M3663 2915h0M3511 2915h0M4228 2914h0M4225 2915h0M4159 2915h0M3956 2916h0M4756 2913h0M5208 2915h0M5409 2913h0M5628 2914h0M6069 2915h0M6299 2915h0M6448 2915h0M7112 2915h0M7357 2914h0M7865 2914h0M8151 2915h0M8264 2913h0M8310 2916h0M8948 2916h0M9391 2915h0M9518 2914h0"/><path stroke="#a24343" d="M520 2920h0M976 2919h0M1829 2919h0M2549 2918h0M2644 2920h0M2973 2920h0M2946 2918h0M3289 2918h0M3500 2919h0M3773 2920h0M4165 2917h0M3960 2918h0M4401 2918h0M4654 2917h0M5196 2918h0M5542 2918h0M5565 2919h0M5845 2917h0M6187 2919h0M6433 2918h0M6426 2920h0M7526 2920h0M7864 2918h0M8487 2919h0M9434 2920h0M9438 2919h0M9549 2917h0M9676 2918h0M9612 2917h0"/><path stroke="#4343a2" d="M650 1763h0M1346 1760h0M1722 1762h0M3967 1761h0M4515 1762h0M5319 1759h0M5446 1760h0M5503 1762h0M5657 1759h0M5982 1762h0M6839 1760h0M7043 1761h0M7362 1760h0M7727 1759h0M7909 1759h0M8059 1763h0M8094 1760h0M8026 1762h0M8130 1759h0M8187 1760h0M8251 1761h0M8363 1759h0M8670 1760h0M8638 1762h0M8762 1763h0M8726 1760h0"/><path stroke="#4242a2" d="M621 1758h0M709 1758h0M646 1757h0M1994 1757h0M2035 1758h0M3977 1757h0M4073 1757h0M3953 1759h0M4596 1758h0M6530 1757h0M6699 1758h0M8058 1758h0M8010 1759h0M9107 1757h0"/><path stroke="#a24242" d="M1187 2922h0M1190 2921h0M1771 2921h0M1814 2922h0M2708 2922h0M3807 2922h0M5115 2922h0M5991 2921h0M5944 2922h0M7143 2921h0M7000 2923h0M9368 2921h0"/><path stroke="#a14242" d="M999 2923h0M1201 2924h0M1090 2923h0M2078 2923h0M3096 2924h0M3062 2924h0M3274 2924h0M3575 2924h0M4960 2924h0M5402 2924h0M6078 2924h0M6285 2923h0M6667 2924h0M7389 2923h0M7953 2923h0M8363 2924h0M8982 2923h0M9219 2923h0M9358 2924h0"/><path stroke="#4242a1" d="M1023 1756h0M3549 1756h0M4098 1756h0M4933 1756h0M8053 1755h0"/><path stroke="#4141a1" d="M571 1754h0M650 1752h0M613 1754h0M689 1754h0M773 1752h0M1888 1752h0M1768 1752h0M2203 1753h0M2903 1754h0M3190 1755h0M4184 1754h0M4675 1753h0M4715 1753h0M5236 1752h0M6077 1754h0M6074 1753h0M6415 1754h0M8075 1753h0M8319 1751h0M8464 1754h0M8644 1751h0M8652 1754h0M8624 1754h0M8706 1752h0M8846 1752h0"/><path stroke="#a14141" d="M1004 2928h0M1090 2924h0M1444 2928h0M1504 2925h0M1738 2928h0M1769 2926h0M2133 2924h0M2481 2927h0M2371 2928h0M2365 2928h0M2344 2926h0M4183 2928h0M4172 2928h0M4400 2926h0M4550 2926h0M5493 2927h0M5983 2927h0M6489 2925h0M6479 2926h0M6663 2926h0M7471 2926h0M7616 2926h0M7691 2928h0M7883 2924h0M8284 2927h0M8808 2927h0M8912 2927h0M9247 2926h0M9702 2928h0M9625 2925h0"/><path stroke="#4040a1" d="M659 1747h0M719 1748h0M620 1749h0M989 1749h0M1714 1751h0M2141 1747h0M4486 1750h0M4631 1748h0M4465 1749h0M5092 1747h0M5024 1750h0M6674 1750h0M7793 1748h0M7962 1749h0M8090 1749h0M8004 1749h0M7991 1749h0M8331 1748h0M8261 1748h0M8650 1750h0M8772 1751h0M8724 1748h0M8846 1747h0M8852 1749h0"/><path stroke="#a14040" d="M1106 2930h0M1500 2929h0M1626 2930h0M1678 2930h0M2535 2931h0M3101 2930h0M2819 2931h0M3412 2930h0M3591 2930h0M4486 2930h0M5401 2931h0M5855 2930h0M6151 2932h0M6451 2932h0M6730 2929h0M7020 2929h0M8216 2932h0M8218 2930h0M8718 2930h0M8824 2931h0M9043 2929h0M9194 2929h0M9290 2930h0M9679 2931h0"/><path stroke="#3f3fa1" d="M497 1747h0M680 1746h0M619 1745h0M698 1746h0M674 1745h0M2008 1745h0M2587 1745h0M6949 1745h0M7174 1745h0M7887 1746h0M8070 1746h0M8132 1746h0M8233 1746h0M8548 1747h0M8941 1746h0M9049 1746h0"/><path stroke="#a13f3f" d="M1238 2933h0M1158 2933h0M985 2933h0M1282 2934h0M1789 2933h0M2548 2933h0M2951 2934h0M2958 2934h0M3809 2933h0M4402 2934h0M5712 2933h0M5857 2934h0M7079 2933h0M8131 2933h0M9760 2934h0M9603 2933h0"/><path stroke="#3f3fa0" d="M521 1743h0M645 1744h0M972 1743h0M4058 1744h0M4250 1743h0M4832 1743h0M4927 1745h0M4978 1743h0M5426 1743h0M6255 1744h0M7457 1744h0M7904 1744h0M8016 1743h0M8112 1743h0M8648 1743h0M8958 1743h0M9212 1745h0"/><path stroke="#a03f3f" d="M1803 2936h0M2328 2936h0M2825 2936h0M2795 2935h0M3092 2935h0M3534 2936h0M3952 2936h0M5542 2935h0M5407 2935h0M5427 2936h0M5897 2935h0M6215 2936h0M6806 2935h0M7072 2936h0M9240 2935h0M9635 2936h0M9493 2936h0M9494 2936h0"/><path stroke="#3e3ea0" d="M697 1740h0M622 1741h0M693 1739h0M1627 1739h0M2586 1741h0M2655 1739h0M3516 1740h0M3691 1740h0M4379 1741h0M4687 1741h0M4634 1741h0M4678 1742h0M4989 1740h0M6541 1740h0M6630 1740h0M7724 1742h0M7750 1740h0M8096 1742h0M8056 1742h0M8065 1739h0M8030 1740h0M8035 1741h0M8083 1742h0M8048 1742h0M8128 1742h0M8177 1741h0M8282 1741h0M8217 1739h0M8409 1740h0M8663 1740h0M8624 1739h0M8783 1740h0M8985 1742h0"/><path stroke="#a03e3e" d="M1342 2937h0M1438 2939h0M1966 2939h0M1964 2940h0M2169 2937h0M2107 2938h0M2843 2938h0M2999 2937h0M4388 2938h0M4550 2939h0M4479 2937h0M4653 2939h0M4759 2937h0M5012 2939h0M5071 2938h0M5439 2939h0M5982 2939h0M6483 2939h0M7698 2938h0M7724 2937h0M8394 2940h0M9403 2940h0M9765 2937h0M9738 2940h0"/><path stroke="#3d3da0" d="M553 1736h0M679 1735h0M656 1736h0M702 1735h0M598 1737h0M1096 1737h0M1008 1739h0M1587 1737h0M2378 1737h0M2894 1737h0M2881 1737h0M3513 1736h0M3606 1735h0M5179 1737h0M5168 1736h0M5864 1737h0M6532 1738h0M6616 1735h0M6991 1735h0M7058 1737h0M7630 1738h0M7907 1737h0M8096 1736h0M8009 1736h0M8122 1737h0M8088 1736h0M8653 1739h0M9062 1738h0"/><path stroke="#a03d3d" d="M994 2941h0M1402 2943h0M1580 2941h0M1698 2942h0M2991 2941h0M3716 2943h0M5405 2941h0M5998 2941h0M6151 2941h0M8252 2941h0M9225 2942h0M9646 2942h0M9695 2943h0M9605 2942h0M9613 2943h0M9579 2942h0"/><path stroke="#3c3ca0" d="M606 1733h0M1143 1734h0M2565 1734h0M2667 1734h0M2951 1734h0M4241 1734h0M5155 1734h0M7472 1733h0M7691 1734h0M8088 1733h0M8228 1734h0"/><path stroke="#a03c3c" d="M1205 2945h0M1625 2946h0M3838 2946h0M3798 2945h0M4030 2945h0M4507 2945h0M5108 2946h0M5788 2945h0M5833 2945h0M5869 2945h0M6274 2946h0M9349 2945h0"/><path stroke="#3c3c9f" d="M581 1732h0M664 1732h0M697 1732h0M2564 1732h0M2339 1732h0M3408 1732h0M3764 1732h0M4502 1732h0M6610 1732h0M7208 1732h0M8092 1731h0M8055 1732h0M8477 1732h0M8654 1731h0M8659 1732h0"/><path stroke="#9f3c3c" d="M1700 2947h0M1725 2948h0M2397 2947h0M3048 2948h0M3818 2947h0M3797 2948h0M4758 2947h0M5415 2946h0M5633 2947h0M5784 2948h0M5922 2948h0M6107 2947h0M8134 2948h0M9638 2948h0M9496 2948h0M9666 2947h0"/><path stroke="#3b3b9f" d="M635 1730h0M621 1728h0M735 1728h0M673 1729h0M707 1727h0M575 1728h0M592 1727h0M1750 1729h0M2413 1730h0M3527 1727h0M3503 1730h0M3790 1727h0M3996 1730h0M4751 1730h0M5216 1728h0M5431 1728h0M6266 1728h0M7774 1730h0M8079 1729h0M8050 1731h0M8011 1730h0M8065 1727h0M8062 1729h0M8353 1727h0M8620 1730h0M8662 1727h0M8778 1728h0M9083 1728h0M9097 1730h0"/><path stroke="#9f3b3b" d="M822 2950h0M1026 2949h0M1227 2951h0M1559 2950h0M2208 2950h0M2671 2952h0M3314 2952h0M3227 2952h0M3482 2952h0M3811 2951h0M3831 2950h0M4373 2950h0M4472 2951h0M5161 2952h0M5660 2951h0M6479 2950h0M6464 2950h0M6605 2950h0M7107 2950h0M7280 2949h0M7465 2950h0M8292 2951h0M8300 2952h0M9237 2951h0M9355 2949h0M9458 2952h0M9422 2950h0M9763 2951h0M9674 2951h0M9750 2951h0M9669 2949h0M9557 2952h0M9621 2953h0"/><path stroke="#9f3a3a" d="M540 2953h0M791 2955h0M761 2955h0M998 2956h0M967 2953h0M1028 2955h0M1388 2955h0M1401 2953h0M1924 2956h0M1708 2956h0M2343 2953h0M3160 2954h0M3002 2956h0M3729 2954h0M3750 2955h0M3776 2954h0M4032 2954h0M3948 2954h0M4378 2954h0M4649 2954h0M5655 2955h0M7270 2955h0M9427 2953h0M9326 2955h0M9722 2957h0"/><path stroke="#3a3a9f" d="M636 1725h0M623 1726h0M1181 1723h0M1222 1725h0M1444 1723h0M1331 1724h0M1782 1723h0M2564 1724h0M2444 1724h0M3516 1723h0M4010 1726h0M4487 1723h0M5122 1725h0M5131 1724h0M4904 1726h0M5618 1725h0M6124 1725h0M6249 1725h0M6384 1724h0M6803 1725h0M7295 1723h0M7306 1725h0M7653 1723h0M8027 1724h0M8012 1726h0M8122 1725h0M8033 1726h0M8097 1725h0M8484 1725h0"/><path stroke="#39399f" d="M625 1722h0M3562 1722h0M5865 1722h0M6312 1722h0M8436 1722h0M8969 1722h0M9115 1722h0"/><path stroke="#9f3939" d="M2132 2957h0M2072 2957h0M6830 2957h0"/><path stroke="#39399e" d="M606 1721h0M1181 1721h0M1793 1720h0M1846 1720h0M1599 1721h0M2057 1721h0M3977 1719h0M4501 1720h0M5807 1720h0M6103 1721h0M6050 1720h0M6591 1721h0M6831 1721h0M7758 1720h0M8000 1719h0M8093 1719h0M8643 1719h0M8737 1719h0M9244 1719h0"/><path stroke="#9e3939" d="M823 2959h0M1524 2960h0M1950 2960h0M2463 2959h0M2717 2960h0M4146 2959h0M4163 2958h0M4453 2960h0M6799 2960h0M7070 2960h0M7518 2959h0M7647 2960h0M8577 2959h0M8618 2960h0M9310 2960h0"/><path stroke="#38389e" d="M667 1716h0M1082 1718h0M1162 1715h0M1846 1718h0M2909 1717h0M3508 1717h0M3764 1717h0M6686 1716h0M8010 1716h0M8641 1716h0M8646 1718h0M9054 1717h0M9194 1719h0"/><path stroke="#9e3838" d="M740 2964h0M1382 2964h0M1786 2962h0M3184 2963h0M3280 2962h0M3946 2961h0M4658 2963h0M4511 2962h0M5543 2962h0M5870 2963h0M6431 2961h0M6801 2961h0M7305 2965h0M7470 2962h0M8158 2964h0M8562 2961h0M8528 2964h0M8788 2961h0M9364 2961h0M9318 2962h0M9713 2962h0M9514 2962h0M9635 2964h0"/><path stroke="#37379e" d="M605 1714h0M684 1714h0M591 1712h0M784 1712h0M2832 1713h0M3465 1713h0M4142 1712h0M4208 1713h0M4729 1712h0M5600 1711h0M5916 1711h0M6348 1714h0M7148 1714h0M7603 1714h0M8088 1711h0M8290 1711h0M8347 1711h0"/><path stroke="#9e3737" d="M1044 2965h0M1510 2965h0M1604 2965h0M3267 2967h0M3532 2966h0M3378 2965h0M3824 2969h0M4259 2966h0M4356 2967h0M4540 2966h0M5514 2966h0M6186 2967h0M6503 2968h0M7201 2966h0M7414 2966h0M7450 2966h0M8610 2968h0M8690 2967h0M8949 2965h0M9378 2967h0M9369 2967h0M9376 2968h0M9547 2966h0M9630 2966h0M9570 2967h0"/><path stroke="#9e3636" d="M2887 2969h0M4079 2970h0M4389 2969h0M6150 2969h0M7436 2969h0M8865 2969h0M9230 2969h0M9620 2969h0"/><path stroke="#36369e" d="M3745 1710h0M6719 1710h0M8059 1710h0M9283 1710h0"/><path stroke="#36369d" d="M646 1707h0M652 1706h0M581 1707h0M770 1708h0M1046 1708h0M1382 1708h0M2216 1707h0M2660 1708h0M3121 1708h0M5904 1709h0M5937 1708h0M6670 1708h0M7691 1708h0M8127 1709h0M8014 1709h0M8099 1708h0M8983 1709h0"/><path stroke="#9d3636" d="M1088 2970h0M1309 2972h0M2057 2972h0M2141 2972h0M2833 2971h0M4080 2972h0M5553 2972h0M6173 2972h0M7070 2971h0M7109 2972h0M8545 2973h0M9563 2970h0M9716 2972h0"/><path stroke="#35359d" d="M575 1705h0M596 1706h0M1059 1706h0M1215 1706h0M1433 1705h0M1619 1705h0M2539 1703h0M3224 1705h0M3398 1704h0M4269 1706h0M4308 1703h0M4606 1706h0M4741 1704h0M4962 1705h0M5107 1706h0M5036 1704h0M4955 1704h0M5588 1705h0M6253 1705h0M6344 1705h0M7161 1703h0M7924 1704h0M8088 1705h0M8006 1703h0M8113 1704h0M8102 1705h0M8160 1703h0M8615 1705h0M8656 1705h0M8626 1704h0M8858 1703h0"/><path stroke="#9d3535" d="M1071 2973h0M1858 2976h0M1932 2975h0M1596 2975h0M1997 2974h0M2097 2974h0M2863 2974h0M3569 2976h0M3348 2974h0M4357 2977h0M5282 2976h0M5613 2976h0M5603 2973h0M6408 2974h0M6735 2975h0M8352 2974h0M8375 2976h0M8216 2975h0M8389 2973h0M9714 2976h0M9639 2977h0"/><path stroke="#9d3434" d="M566 2979h0M1325 2980h0M1578 2980h0M3147 2977h0M2796 2979h0M3112 2978h0M3393 2977h0M3549 2981h0M3478 2981h0M4423 2978h0M5501 2979h0M5501 2979h0M5422 2980h0M5629 2979h0M6009 2978h0M6757 2980h0M6842 2980h0M7084 2979h0M7727 2978h0M7870 2980h0M8737 2978h0M8720 2979h0M8827 2980h0M9051 2980h0M9250 2978h0M9423 2979h0M9605 2977h0"/><path stroke="#34349d" d="M503 1702h0M598 1700h0M636 1701h0M652 1702h0M708 1699h0M830 1700h0M1063 1700h0M1897 1699h0M2670 1700h0M2921 1701h0M2821 1699h0M3451 1701h0M5799 1702h0M6921 1702h0M7455 1701h0M7500 1702h0M7357 1700h0M8089 1701h0M7990 1702h0M8101 1699h0M8055 1701h0M8055 1701h0M8373 1699h0M8653 1702h0M8648 1699h0"/><path stroke="#9d3333" d="M1101 2982h0M3468 2981h0M4085 2982h0M5262 2982h0M6969 2981h0M7961 2981h0M8507 2981h0"/><path stroke="#33339d" d="M4109 1698h0M5071 1698h0M6855 1698h0M8042 1698h0"/><path stroke="#33339c" d="M564 1697h0M586 1696h0M693 1695h0M729 1696h0M608 1695h0M710 1696h0M3236 1697h0M3287 1697h0M3518 1695h0M3547 1695h0M3408 1695h0M4598 1695h0M5613 1696h0M6532 1697h0M6840 1697h0M7337 1695h0M7892 1695h0M8083 1697h0M8123 1697h0M8029 1695h0M8007 1697h0M8107 1697h0"/><path stroke="#9c3333" d="M950 2983h0M1352 2984h0M1310 2983h0M2396 2982h0M3024 2985h0M2855 2984h0M4256 2985h0M4260 2984h0M5295 2984h0M5259 2984h0M5649 2982h0M7049 2982h0M7198 2983h0M7934 2982h0M9247 2982h0M9299 2982h0M9324 2983h0M9688 2983h0"/><path stroke="#32329c" d="M595 1694h0M621 1691h0M685 1693h0M641 1693h0M586 1692h0M3893 1694h0M3792 1691h0M3855 1693h0M4574 1693h0M4560 1692h0M4802 1693h0M4793 1693h0M4937 1692h0M4991 1691h0M5619 1691h0M6422 1692h0M6790 1691h0M7282 1692h0M8119 1694h0M8016 1692h0M8116 1691h0M8033 1694h0M8355 1692h0M8623 1693h0M8664 1690h0M8895 1693h0M9133 1693h0"/><path stroke="#9c3232" d="M1426 2987h0M1397 2986h0M1256 2987h0M1752 2987h0M3538 2987h0M4219 2986h0M4420 2987h0M4619 2988h0M5400 2985h0M5982 2988h0M6113 2987h0M6114 2986h0M6450 2987h0M6607 2988h0M8158 2986h0M8662 2986h0M9277 2986h0M9426 2985h0M9585 2985h0M9524 2988h0M9560 2988h0M9522 2987h0M9497 2986h0"/><path stroke="#9c3131" d="M553 2989h0M962 2993h0M1153 2990h0M971 2989h0M2028 2992h0M2440 2992h0M2697 2992h0M2865 2991h0M3051 2990h0M3527 2991h0M4157 2990h0M4237 2993h0M4217 2989h0M4090 2991h0M4313 2991h0M4549 2990h0M5213 2989h0M5544 2992h0M6294 2992h0M6233 2989h0M6835 2992h0M7628 2992h0M8253 2990h0M8520 2993h0M8953 2992h0M9493 2992h0M9499 2991h0"/><path stroke="#31319c" d="M723 1689h0M730 1688h0M615 1689h0M605 1690h0M2919 1689h0M3653 1688h0M3640 1687h0M3885 1689h0M4171 1690h0M4953 1688h0M5625 1688h0M6816 1688h0M6824 1687h0M7154 1690h0M8110 1690h0M8037 1689h0M8163 1688h0M8639 1689h0M8944 1690h0"/><path stroke="#30309c" d="M646 1686h0M4678 1686h0"/><path stroke="#9c3030" d="M743 2993h0M2089 2993h0M6222 2993h0M7789 2993h0M8619 2993h0"/><path stroke="#30309b" d="M595 1683h0M1115 1685h0M2122 1683h0M3113 1682h0M3622 1685h0M4470 1683h0M4586 1683h0M5147 1683h0M6649 1684h0M7398 1685h0M7399 1684h0M7731 1683h0M7814 1683h0M8119 1685h0M8117 1683h0M8012 1683h0M8073 1683h0M8154 1683h0M8816 1683h0"/><path stroke="#9b3030" d="M1223 2994h0M1831 2995h0M2614 2995h0M3352 2994h0M3636 2996h0M5724 2996h0M5916 2995h0M6321 2994h0M6489 2996h0M6945 2994h0M7297 2994h0M7327 2994h0M7606 2997h0M7621 2993h0M7841 2996h0M8450 2995h0M8509 2994h0M8796 2996h0M9067 2996h0M9380 2996h0M9360 2994h0M9492 2996h0M9716 2996h0M9721 2996h0"/><path stroke="#2f2f9b" d="M695 1682h0M599 1682h0M672 1682h0M604 1682h0M1490 1682h0M4146 1681h0M4332 1682h0M6130 1679h0M6050 1680h0M6660 1680h0M6851 1682h0M8093 1681h0M8024 1679h0M8042 1679h0M8092 1681h0M8116 1680h0M8806 1680h0M8849 1682h0M8837 1681h0"/><path stroke="#9b2f2f" d="M999 2999h0M1409 2997h0M1886 2999h0M2411 2998h0M2418 3000h0M3226 2999h0M3190 2997h0M5208 2999h0M5539 2998h0M5812 3000h0M6009 3001h0M6446 3000h0M6278 2999h0M6463 3000h0M6708 3000h0M7289 2998h0M7392 3000h0M7814 2999h0M7865 3000h0M9392 2999h0M9742 3000h0M9762 2999h0"/><path stroke="#9b2e2e" d="M552 3002h0M1682 3002h0M2067 3001h0M2351 3002h0M2782 3003h0M3257 3003h0M3651 3001h0M3477 3005h0M3743 3004h0M4507 3001h0M5181 3004h0M4924 3001h0M5803 3004h0M6832 3005h0M6835 3002h0M6681 3002h0M8351 3003h0M8322 3001h0M8598 3001h0M8687 3002h0M8986 3002h0M9644 3003h0"/><path stroke="#2e2e9b" d="M619 1678h0M681 1678h0M651 1678h0M625 1675h0M960 1678h0M1831 1674h0M1579 1677h0M2728 1678h0M3550 1677h0M5144 1675h0M5307 1678h0M6169 1675h0M6327 1675h0M6417 1676h0M6794 1677h0M7137 1678h0M7915 1677h0M8059 1675h0M8105 1675h0M8042 1675h0M8661 1677h0M8658 1678h0M8844 1675h0"/><path stroke="#2d2d9b" d="M591 1674h0M589 1674h0M688 1674h0M658 1674h0M2436 1674h0"/><path stroke="#9b2d2d" d="M8247 3005h0"/><path stroke="#2d2d9a" d="M578 1671h0M582 1674h0M595 1671h0M1071 1671h0M1768 1671h0M4843 1671h0M4971 1673h0M6213 1674h0M6217 1670h0M6336 1672h0M7502 1672h0M7349 1673h0M7842 1673h0M7737 1673h0M8114 1670h0M8862 1671h0M8939 1674h0M9127 1673h0"/><path stroke="#9a2d2d" d="M1863 3009h0M2486 3007h0M2958 3007h0M3455 3008h0M4596 3006h0M5981 3008h0M5763 3006h0M5836 3006h0M6372 3007h0M6358 3007h0M6341 3006h0M8171 3006h0M8629 3008h0M9743 3007h0"/><path stroke="#2c2c9a" d="M526 1668h0M675 1670h0M691 1670h0M604 1668h0M775 1670h0M791 1670h0M1747 1669h0M1609 1667h0M3102 1669h0M4333 1669h0M5555 1669h0M6672 1667h0M7066 1668h0M8105 1669h0M8108 1669h0M8126 1667h0M8085 1669h0M8053 1668h0M8301 1668h0M8658 1670h0M8619 1669h0"/><path stroke="#9a2c2c" d="M1220 3013h0M1432 3013h0M1317 3011h0M2082 3012h0M3205 3011h0M3439 3012h0M3413 3011h0M3448 3012h0M6442 3012h0M6616 3011h0M7471 3009h0M8255 3013h0M8614 3010h0M9058 3013h0M9438 3012h0M9450 3011h0"/><path stroke="#9a2b2b" d="M798 3014h0M845 3015h0M1826 3014h0M2369 3015h0M2435 3016h0M3241 3013h0M3667 3014h0M5316 3014h0M5693 3016h0M5861 3017h0M6156 3016h0M6361 3017h0M6419 3014h0M6232 3015h0M6487 3013h0M6923 3016h0M7530 3015h0M8584 3014h0M8558 3016h0M8909 3014h0M9554 3016h0"/><path stroke="#2b2b9a" d="M2634 1665h0M3522 1663h0M4635 1663h0M4772 1663h0M4995 1664h0M6058 1664h0M6838 1665h0M7608 1665h0M8278 1663h0M8631 1663h0"/><path stroke="#2a2a9a" d="M8071 1662h0"/><path stroke="#2a2a99" d="M671 1659h0M665 1661h0M779 1659h0M1424 1660h0M2805 1661h0M3819 1660h0M3989 1660h0M4340 1659h0M4817 1662h0M4909 1661h0M5030 1660h0M5735 1662h0M5718 1660h0M6020 1661h0M6695 1660h0M7316 1661h0M8081 1658h0M8097 1659h0M8096 1659h0M8080 1661h0M8355 1659h0M8350 1660h0M8509 1661h0M8627 1660h0M8672 1662h0M8721 1661h0"/><path stroke="#992a2a" d="M3015 3019h0M3366 3020h0M3842 3019h0M3969 3018h0M4469 3018h0M5782 3019h0M6127 3019h0M6336 3021h0M7059 3020h0M7470 3019h0M7477 3017h0M7740 3018h0M8151 3017h0M8337 3018h0M8705 3021h0M8746 3020h0M8901 3017h0M9321 3019h0M9392 3020h0M9501 3017h0"/><path stroke="#292999" d="M602 1654h0M619 1655h0M1309 1658h0M1496 1656h0M2249 1658h0M2313 1657h0M3892 1655h0M4404 1656h0M4635 1656h0M4909 1655h0M5513 1657h0M5686 1654h0M6011 1655h0M6822 1656h0M7316 1657h0M7533 1658h0M7503 1656h0M8089 1655h0M8649 1654h0M8628 1658h0M8652 1657h0M8724 1657h0"/><path stroke="#992929" d="M1061 3021h0M1811 3023h0M1950 3023h0M2489 3022h0M2730 3022h0M3301 3023h0M3363 3025h0M4577 3022h0M5041 3022h0M4909 3023h0M4948 3025h0M5309 3021h0M5811 3021h0M6375 3021h0M7104 3021h0M8176 3024h0M8740 3022h0M9403 3022h0M9525 3023h0M9638 3022h0M9617 3021h0M9551 3023h0M9752 3021h0"/><path stroke="#282899" d="M674 1651h0M1247 1654h0M1088 1652h0M2394 1654h0M3357 1652h0M4240 1654h0M4277 1651h0M4936 1653h0M6789 1652h0M8022 1653h0M8081 1653h0M8098 1652h0M7992 1651h0M7996 1652h0M8734 1653h0"/><path stroke="#992828" d="M1280 3027h0M2115 3025h0M2857 3026h0M3687 3028h0M3591 3026h0M3401 3028h0M5313 3027h0M5542 3029h0M5931 3025h0M6141 3026h0M6463 3027h0M7479 3027h0M7802 3026h0M7769 3028h0M8183 3026h0M8321 3027h0M8226 3028h0M8307 3025h0M8396 3025h0M9355 3026h0M9356 3026h0M9490 3028h0M9493 3026h0M9660 3027h0"/><path stroke="#282898" d="M8103 1650h0"/><path stroke="#272798" d="M685 1649h0M604 1648h0M577 1649h0M3203 1647h0M3633 1648h0M3637 1647h0M4399 1647h0M5868 1648h0M6707 1649h0M7191 1650h0M7690 1648h0M7994 1647h0M8065 1648h0M8227 1647h0M8629 1647h0M8666 1649h0M8661 1649h0"/><path stroke="#982727" d="M1052 3032h0M2090 3029h0M2498 3031h0M2506 3031h0M2684 3029h0M3229 3030h0M3237 3032h0M3345 3032h0M3739 3029h0M4187 3029h0M5653 3031h0M6051 3033h0M6672 3029h0M6632 3031h0M7284 3032h0M7871 3032h0M8523 3032h0M8582 3031h0M8691 3031h0M9448 3032h0M9423 3029h0M9442 3030h0M9592 3031h0M9567 3031h0M9694 3032h0"/><path stroke="#262698" d="M699 1646h0M608 1643h0M668 1643h0M731 1646h0M780 1645h0M1206 1646h0M2224 1644h0M2511 1643h0M2736 1643h0M3659 1646h0M4866 1645h0M6053 1646h0M6615 1645h0M8074 1646h0M8117 1644h0M8061 1645h0M8001 1643h0M8143 1644h0M8163 1644h0M8166 1645h0M8359 1645h0M8629 1644h0M9265 1646h0"/><path stroke="#982626" d="M1023 3036h0M1219 3035h0M1259 3035h0M1504 3033h0M1428 3035h0M1260 3034h0M1598 3037h0M1676 3036h0M2572 3033h0M2697 3036h0M3438 3033h0M5981 3036h0M6283 3035h0M6227 3034h0M7203 3034h0M7271 3036h0M8162 3034h0M8326 3035h0M9055 3033h0M9446 3036h0M9400 3034h0M9744 3036h0M9767 3034h0M9582 3034h0M9657 3037h0"/><path stroke="#982525" d="M534 3039h0M1962 3040h0M2511 3038h0M2928 3039h0M3541 3040h0M3465 3037h0M4366 3039h0M4852 3040h0M5125 3037h0M5200 3038h0M5963 3039h0M6325 3037h0M6835 3039h0M8294 3039h0M8723 3039h0M8724 3040h0M8791 3038h0M9104 3038h0M9431 3040h0M9461 3037h0M9699 3038h0M9560 3039h0M9614 3037h0"/><path stroke="#252598" d="M669 1639h0M3942 1640h0M6973 1642h0M8002 1642h0M8024 1639h0M8214 1640h0M8632 1641h0M8661 1641h0M8646 1639h0"/><path stroke="#252597" d="M549 1638h0M5059 1639h0M8091 1638h0"/><path stroke="#972525" d="M4032 3041h0M5562 3041h0M5615 3041h0M7955 3041h0"/><path stroke="#242497" d="M611 1637h0M723 1637h0M682 1635h0M794 1634h0M3237 1638h0M4389 1637h0M7770 1637h0M8084 1638h0M8276 1636h0M8609 1636h0M8642 1637h0M8654 1638h0M8836 1635h0"/><path stroke="#972424" d="M794 3042h0M1866 3045h0M2430 3043h0M3189 3044h0M3851 3042h0M3785 3042h0M3881 3045h0M5273 3045h0M6015 3043h0M6257 3042h0M7372 3043h0M7838 3043h0M7788 3041h0M8347 3045h0M9055 3045h0M9296 3044h0M9610 3044h0M9663 3044h0M9613 3045h0"/><path stroke="#232397" d="M496 1633h0M569 1633h0M613 1633h0M2335 1631h0M2586 1632h0M5728 1632h0M6427 1633h0M7094 1634h0M8004 1632h0M8094 1631h0M8120 1630h0M8111 1634h0M8081 1633h0M7992 1633h0M8075 1631h0M8061 1634h0M8315 1632h0M8624 1632h0"/><path stroke="#972323" d="M1722 3048h0M1917 3046h0M2676 3046h0M2945 3047h0M3452 3048h0M3661 3047h0M3903 3045h0M4351 3048h0M4262 3047h0M4336 3047h0M6028 3047h0M6449 3045h0M6348 3046h0M6458 3049h0M6674 3048h0M7673 3047h0M7725 3046h0M7865 3047h0M9241 3048h0M9242 3047h0M9441 3049h0M9491 3047h0M9559 3048h0M9570 3048h0M9759 3048h0"/><path stroke="#222297" d="M550 1630h0M590 1629h0M717 1628h0M1140 1627h0M946 1629h0M1146 1628h0M2364 1629h0M3200 1628h0M5117 1629h0M5176 1630h0M6396 1629h0M7888 1628h0M8063 1628h0M7990 1629h0M8087 1628h0M8411 1630h0M8650 1629h0"/><path stroke="#972222" d="M1422 3052h0M2838 3052h0M3253 3049h0M3293 3052h0M3704 3050h0M3656 3050h0M4411 3050h0M5614 3050h0M5504 3049h0M7612 3051h0M9689 3050h0M9649 3051h0M9603 3049h0M9631 3049h0"/><path stroke="#222296" d="M614 1626h0M636 1627h0M1029 1626h0M1993 1627h0M8094 1626h0M8109 1627h0"/><path stroke="#962222" d="M2780 3052h0M5626 3053h0M9544 3053h0"/><path stroke="#212196" d="M671 1623h0M595 1623h0M683 1623h0M1148 1622h0M3723 1625h0M6644 1624h0M8120 1622h0M8025 1625h0M8085 1624h0M8361 1625h0M8644 1623h0"/><path stroke="#962121" d="M1155 3057h0M1193 3054h0M1246 3055h0M1086 3053h0M1323 3054h0M1434 3055h0M1444 3055h0M2130 3054h0M2331 3055h0M2705 3056h0M3038 3054h0M6531 3053h0M7820 3056h0M7772 3053h0M8791 3055h0M9722 3057h0M9570 3054h0"/><path stroke="#202096" d="M592 1621h0M720 1621h0M718 1620h0M635 1618h0M1759 1622h0M2455 1620h0M3884 1619h0M4693 1620h0M4766 1619h0M5267 1622h0M6178 1620h0M6933 1619h0M7369 1622h0M7788 1618h0M8035 1621h0M8089 1619h0M8640 1621h0M8650 1621h0"/><path stroke="#962020" d="M1172 3060h0M1224 3060h0M1425 3060h0M1864 3059h0M2533 3061h0M2870 3059h0M2899 3058h0M3042 3059h0M3658 3060h0M4027 3059h0M4212 3060h0M4347 3057h0M4277 3060h0M4393 3058h0M4471 3058h0M5806 3060h0M7404 3059h0M7531 3059h0M7387 3058h0M7830 3059h0M7908 3059h0M8179 3059h0M8361 3059h0M8766 3059h0M8818 3059h0M9059 3059h0M9305 3061h0M9445 3060h0M9430 3060h0M9489 3058h0M9645 3061h0"/><path stroke="#1f1f96" d="M735 1617h0M1442 1617h0M3380 1618h0M4019 1618h0M6804 1617h0M6784 1617h0M8029 1618h0M8097 1615h0M8636 1617h0"/><path stroke="#961f1f" d="M3636 3063h0M5797 3061h0M7477 3063h0M8144 3062h0M8524 3064h0M9304 3063h0"/><path stroke="#1f1f95" d="M741 1614h0M7856 1615h0M7994 1615h0M8046 1615h0"/><path stroke="#951f1f" d="M2520 3065h0M3533 3064h0M4620 3064h0M4896 3064h0M7619 3064h0M9638 3065h0"/><path stroke="#1e1e95" d="M637 1611h0M629 1610h0M586 1611h0M1449 1613h0M5198 1614h0M6621 1613h0M7717 1613h0M7860 1611h0M8063 1612h0M8117 1612h0"/><path stroke="#951e1e" d="M1317 3068h0M1946 3069h0M2436 3067h0M3604 3069h0M4260 3067h0M5524 3068h0M5712 3066h0M5707 3068h0M6158 3067h0M8380 3066h0M9262 3069h0M9390 3065h0M9386 3065h0M9435 3067h0M9731 3068h0M9561 3068h0M9604 3067h0"/><path stroke="#1d1d95" d="M622 1606h0M1424 1607h0M1778 1607h0M2726 1608h0M4643 1608h0M6294 1606h0M8035 1608h0M7994 1607h0M8052 1608h0M8166 1608h0M8250 1610h0M8653 1609h0M8952 1609h0"/><path stroke="#951d1d" d="M1558 3071h0M2153 3071h0M4590 3072h0M5886 3069h0M5838 3071h0M6418 3073h0M6384 3072h0M6240 3070h0M6612 3071h0M7302 3070h0M8167 3071h0M8786 3070h0M8964 3072h0M8906 3070h0M9451 3072h0M9386 3071h0M9371 3072h0M9538 3070h0"/><path stroke="#1c1c95" d="M547 1604h0M626 1606h0M723 1605h0M1873 1605h0M2595 1606h0M2323 1606h0M4977 1605h0M4976 1605h0M8115 1605h0M8299 1604h0"/><path stroke="#951c1c" d="M4583 3076h0M5179 3074h0M5528 3075h0M9400 3075h0"/><path stroke="#1c1c94" d="M630 1603h0M8024 1602h0M8262 1602h0"/><path stroke="#941c1c" d="M1845 3076h0M2450 3076h0M3980 3077h0M7176 3076h0M7950 3076h0M9309 3076h0M9312 3077h0M9509 3077h0"/><path stroke="#1b1b94" d="M653 1601h0M808 1600h0M973 1599h0M5868 1602h0M6130 1601h0M6445 1598h0M6291 1602h0M7606 1600h0M8067 1600h0M7995 1600h0M7996 1598h0M8013 1602h0M8186 1599h0M8324 1599h0M8654 1599h0M9074 1600h0"/><path stroke="#941b1b" d="M1826 3081h0M3291 3080h0M3982 3080h0M4673 3080h0M5101 3080h0M5541 3080h0M5877 3078h0M6115 3081h0M6798 3077h0M8489 3080h0M8792 3081h0M9661 3078h0M9759 3079h0"/><path stroke="#1a1a94" d="M655 1596h0M617 1596h0M1060 1595h0M955 1597h0M2310 1594h0M2401 1596h0M4556 1596h0M5036 1597h0M5695 1596h0M5699 1598h0M5695 1598h0M6747 1595h0M7880 1598h0M8647 1596h0M9272 1595h0"/><path stroke="#941a1a" d="M1966 3084h0M5571 3083h0M6640 3084h0M6934 3082h0M8594 3081h0M9362 3084h0M9589 3082h0M9678 3085h0"/><path stroke="#191994" d="M616 1594h0M1769 1592h0M3243 1593h0M4217 1592h0M5989 1594h0M5810 1592h0M8625 1593h0M8663 1592h0M8630 1592h0"/><path stroke="#941919" d="M1320 3086h0M3646 3086h0M3533 3086h0M4607 3086h0M7324 3085h0M9673 3087h0M9709 3086h0"/><path stroke="#931919" d="M4286 3088h0M5290 3089h0M6219 3089h0M9197 3089h0"/><path stroke="#191993" d="M4571 1591h0M7364 1591h0M8010 1591h0M8230 1590h0M9205 1591h0"/><path stroke="#931818" d="M529 3092h0M2695 3092h0M3134 3091h0M3693 3091h0M4178 3090h0M4861 3090h0M5286 3093h0M5866 3092h0M6541 3092h0M6574 3092h0M7597 3090h0M9022 3091h0M9635 3090h0"/><path stroke="#181893" d="M641 1589h0M606 1588h0M579 1590h0M635 1587h0M726 1586h0M1903 1588h0M2168 1589h0M4203 1587h0M4761 1587h0M5972 1587h0M7679 1588h0M8102 1587h0M7993 1588h0M9024 1589h0"/><path stroke="#171793" d="M709 1585h0M650 1584h0M670 1582h0M2923 1582h0M5163 1585h0M5433 1583h0M5815 1582h0M6939 1583h0M7492 1584h0M8070 1584h0M8088 1584h0M8271 1582h0M8707 1583h0"/><path stroke="#931717" d="M2325 3096h0M5912 3094h0M7531 3095h0M7433 3095h0M8472 3096h0M9295 3094h0M9320 3095h0M9735 3096h0M9700 3095h0M9697 3096h0M9506 3096h0"/><path stroke="#161693" d="M728 1581h0M602 1581h0M1192 1580h0M1884 1580h0M5221 1581h0M6277 1581h0M7945 1581h0M8086 1581h0"/><path stroke="#931616" d="M1462 3098h0M3563 3099h0M4650 3098h0M5216 3097h0M8236 3098h0M9342 3099h0M9568 3099h0"/><path stroke="#161692" d="M598 1580h0M1444 1579h0M3403 1579h0M4912 1579h0M5658 1579h0M6687 1580h0M8032 1579h0M8128 1580h0M8019 1578h0M8026 1578h0M8191 1580h0M8166 1579h0M8647 1579h0M8650 1579h0"/><path stroke="#921616" d="M1161 3100h0M1619 3101h0M5474 3101h0M5938 3101h0M6619 3100h0M8324 3100h0M9702 3101h0"/><path stroke="#921515" d="M1737 3104h0M1927 3105h0M2171 3105h0M2451 3105h0M3236 3102h0M3354 3102h0M5309 3105h0M6086 3103h0M8540 3103h0M9414 3105h0M9377 3102h0M9360 3104h0M9653 3104h0"/><path stroke="#151592" d="M5159 1576h0M5902 1575h0M6008 1578h0M6291 1578h0M6457 1575h0M7014 1574h0M8010 1576h0M8005 1576h0M8133 1574h0M8652 1575h0M8658 1574h0M8639 1577h0"/><path stroke="#141492" d="M651 1571h0M686 1571h0M2197 1573h0M2056 1574h0M3998 1571h0M5189 1573h0M6307 1573h0M6368 1573h0M7939 1571h0M8009 1572h0M8123 1572h0M8637 1571h0"/><path stroke="#921414" d="M2774 3106h0M3813 3106h0M4270 3106h0M5936 3108h0M6019 3109h0M7071 3109h0M7746 3108h0M7662 3109h0M8130 3108h0M8871 3108h0M9418 3107h0M9646 3107h0M9700 3109h0M9647 3107h0"/><path stroke="#921313" d="M1210 3109h0M2823 3111h0M3201 3110h0M4598 3111h0M7599 3110h0M8820 3110h0M9489 3111h0"/><path stroke="#131392" d="M2018 1569h0M3701 1568h0M8397 1569h0"/><path stroke="#131391" d="M557 1568h0M3837 1566h0M6066 1568h0M7401 1568h0M8027 1567h0"/><path stroke="#911313" d="M6380 3112h0M7685 3112h0M8358 3113h0M9333 3112h0M9619 3113h0M9588 3113h0"/><path stroke="#911212" d="M1056 3116h0M1993 3116h0M2390 3116h0M4669 3117h0M4456 3116h0M5618 3117h0M5777 3114h0M6263 3116h0M9395 3116h0M9497 3116h0M9621 3114h0"/><path stroke="#121291" d="M3757 1565h0M6128 1565h0M6586 1563h0M7276 1562h0M8060 1563h0M8036 1563h0M8658 1564h0"/><path stroke="#911111" d="M565 3119h0M2208 3120h0M3540 3121h0M3947 3119h0M4984 3118h0M5426 3121h0M5696 3119h0M5975 3119h0M6594 3119h0M7890 3121h0M8675 3118h0M9561 3120h0"/><path stroke="#111191" d="M723 1559h0M3803 1561h0M4853 1560h0M4863 1559h0M5451 1559h0M7514 1560h0M7916 1560h0M8627 1560h0"/><path stroke="#911010" d="M1145 3123h0M6374 3123h0M6763 3122h0M9189 3122h0M9417 3121h0"/><path stroke="#101091" d="M1242 1557h0M8651 1557h0"/><path stroke="#101090" d="M712 1554h0M708 1555h0M2196 1554h0M2788 1555h0M4128 1554h0M5881 1555h0M8024 1555h0M8018 1554h0"/><path stroke="#901010" d="M1252 3124h0M3355 3125h0M6993 3125h0M8397 3125h0M9625 3125h0"/><path stroke="#0f0f90" d="M617 1552h0M723 1551h0M641 1552h0M3353 1552h0M6075 1553h0M8085 1551h0M8022 1552h0M8065 1551h0M8651 1551h0M9234 1553h0"/><path stroke="#900f0f" d="M785 3126h0M2633 3129h0M2858 3127h0M4984 3127h0M5493 3126h0M5936 3129h0M6626 3127h0M7462 3126h0M7267 3126h0M7660 3129h0M8449 3128h0M8580 3127h0M8469 3129h0M9363 3129h0M9556 3128h0"/><path stroke="#0e0e90" d="M572 1547h0M1031 1549h0M1476 1549h0M4689 1548h0M6809 1548h0M6937 1548h0M8084 1549h0M8019 1546h0M8007 1547h0"/><path stroke="#900e0e" d="M1117 3132h0M2645 3130h0M2916 3132h0M5048 3133h0M5165 3133h0M6154 3130h0M6448 3133h0M8394 3133h0M9377 3133h0M9735 3133h0M9569 3133h0M9505 3132h0"/><path stroke="#900d0d" d="M2530 3134h0M8658 3134h0M9385 3134h0"/><path stroke="#0d0d90" d="M4189 1545h0M4620 1545h0"/><path stroke="#8f0d0d" d="M1130 3135h0M1668 3136h0M2987 3135h0M3952 3136h0M4375 3137h0M6072 3136h0M6498 3137h0M6591 3137h0M9325 3137h0M9309 3136h0"/><path stroke="#0d0d8f" d="M2193 1542h0M3756 1544h0M4375 1542h0M4717 1544h0M8334 1544h0M8646 1542h0M8623 1542h0M8616 1543h0"/><path stroke="#0c0c8f" d="M614 1540h0M1880 1541h0M2126 1541h0M2334 1538h0M4371 1541h0M5799 1540h0M6371 1542h0M7870 1540h0M8046 1539h0M8648 1539h0"/><path stroke="#8f0c0c" d="M1262 3140h0M2686 3139h0M3264 3138h0M3254 3140h0M6919 3140h0M7659 3141h0M9017 3140h0M9741 3140h0"/><path stroke="#0b0b8f" d="M730 1537h0M723 1536h0M571 1537h0M637 1535h0M2490 1534h0M5828 1535h0M6416 1535h0M7295 1537h0M7871 1536h0M7996 1534h0M8376 1535h0"/><path stroke="#8f0b0b" d="M785 3144h0M1357 3142h0M1609 3143h0M2900 3143h0M2956 3143h0M7169 3144h0M9127 3142h0M9330 3143h0M9387 3145h0M9579 3142h0"/><path stroke="#0a0a8f" d="M621 1533h0M3074 1534h0M3287 1534h0M5945 1533h0"/><path stroke="#8f0a0a" d="M1086 3146h0"/><path stroke="#0a0a8e" d="M1480 1532h0M3381 1530h0M5016 1533h0M6802 1530h0M7127 1531h0M8023 1532h0M8069 1530h0M8029 1531h0M8134 1530h0M8353 1532h0"/><path stroke="#8e0a0a" d="M1925 3147h0M2865 3147h0M3241 3147h0M5171 3148h0M5026 3149h0M6256 3148h0M7807 3148h0M9067 3149h0M9324 3148h0"/><path stroke="#8e0909" d="M4149 3151h0M4981 3150h0M5820 3152h0M5823 3153h0M7671 3152h0M9416 3151h0"/><path stroke="#09098e" d="M5083 1527h0M7855 1529h0M8125 1529h0M8222 1528h0M8617 1528h0"/><path stroke="#08088e" d="M576 1525h0M4350 1522h0M6002 1523h0M6277 1523h0M6618 1522h0M8021 1522h0M8036 1524h0M8079 1523h0M8295 1524h0M8664 1523h0M8670 1523h0"/><path stroke="#8e0808" d="M1730 3155h0M2539 3156h0M2865 3156h0M3278 3155h0M3703 3156h0M3941 3157h0M5772 3158h0M8069 3155h0M8441 3156h0M8515 3155h0M9396 3155h0M9762 3155h0M9524 3154h0"/><path stroke="#07078e" d="M851 1521h0"/><path stroke="#8e0707" d="M9102 3158h0"/><path stroke="#8d0707" d="M1943 3160h0M1886 3159h0M1579 3159h0M1777 3160h0M6281 3160h0M9262 3158h0M9411 3158h0M9712 3161h0"/><path stroke="#07078d" d="M4792 1519h0M5023 1519h0M5497 1520h0M6472 1518h0M6744 1518h0M8009 1519h0M8293 1519h0M8666 1520h0"/><path stroke="#06068d" d="M676 1516h0M696 1515h0M1653 1517h0M4015 1517h0M4141 1515h0M4553 1515h0M4524 1514h0M5995 1515h0M8071 1515h0M8616 1517h0"/><path stroke="#8d0606" d="M2156 3164h0M2560 3164h0M2524 3163h0M4468 3165h0M7743 3164h0M8219 3162h0M9084 3165h0M9729 3165h0"/><path stroke="#05058d" d="M703 1513h0M1382 1513h0M1931 1512h0M3692 1510h0M6238 1513h0M8114 1510h0"/><path stroke="#8d0505" d="M1047 3169h0M1800 3166h0M3402 3167h0M5602 3167h0M6270 3170h0M6372 3169h0M6505 3168h0M6995 3167h0M7205 3168h0M8628 3169h0M9189 3168h0M9344 3170h0M9588 3168h0"/><path stroke="#04048d" d="M2351 1509h0"/><path stroke="#8d0404" d="M9493 3170h0"/><path stroke="#04048c" d="M697 1508h0M695 1506h0M2403 1506h0M8029 1506h0M8274 1506h0"/><path stroke="#8c0404" d="M1310 3172h0M2100 3171h0M9418 3174h0M9380 3170h0M9494 3173h0M9652 3172h0M9619 3171h0M9701 3172h0M9761 3173h0"/><path stroke="#03038c" d="M620 1503h0M756 1504h0M1447 1502h0M4113 1504h0M4947 1504h0M5965 1504h0M8105 1502h0M8162 1502h0M8667 1504h0M8845 1502h0"/><path stroke="#8c0303" d="M2090 3177h0M2892 3176h0M3627 3175h0M5106 3176h0M5197 3176h0M5495 3175h0M5701 3176h0M6181 3176h0M7533 3176h0M7498 3176h0M7694 3176h0M8548 3176h0M8944 3177h0"/><path stroke="#02028c" d="M682 1499h0M709 1500h0M816 1500h0M1334 1498h0M2425 1498h0M4052 1501h0M6289 1501h0M7386 1501h0M7990 1499h0M9266 1498h0"/><path stroke="#8c0202" d="M781 3180h0M1709 3182h0M4111 3181h0M7030 3178h0M9330 3181h0M9679 3179h0M9691 3179h0M9523 3179h0"/><path stroke="#8b0101" d="M1630 3183h0M1745 3182h0M3031 3184h0M3862 3184h0M5597 3183h0M7690 3184h0M9664 3182h0M9491 3183h0M9538 3183h0"/><path stroke="#01018b" d="M2167 1497h0M7513 1494h0M7931 1497h0M8054 1497h0M8173 1497h0"/><path stroke="#00008b" d="M503 1459h0M586 1408h0M623 1471h0M735 1387h0M578 1416h0M632 1418h0M664 1416h0M727 1463h0M635 1389h0M599 1389h0M611 1421h0M573 1427h0M661 1366h0M609 1465h0M701 1384h0M820 1462h0M812 1436h0M743 1477h0M1145 1493h0M1049 1412h0M1149 1402h0M1239 1469h0M1275 1403h0M1370 1441h0M1587 1377h0M1877 1391h0M1832 1463h0M1980 1449h0M1780 1483h0M2228 1386h0M2055 1470h0M2147 1432h0M2510 1479h0M2464 1456h0M2525 1378h0M2683 1433h0M2707 1459h0M3310 1430h0M3408 1451h0M3390 1383h0M3626 1443h0M3799 1360h0M3880 1465h0M3945 1364h0M4120 1482h0M4307 1464h0M4600 1475h0M4474 1456h0M4802 1463h0M4839 1482h0M4766 1445h0M4915 1466h0M4908 1483h0M5078 1474h0M5131 1460h0M5033 1490h0M5193 1380h0M5053 1405h0M5312 1443h0M5209 1440h0M5545 1449h0M5558 1469h0M5519 1471h0M5544 1489h0M5625 1438h0M5639 1387h0M5933 1433h0M5883 1465h0M5834 1467h0M5879 1491h0M6141 1470h0M6405 1462h0M6388 1447h0M6448 1459h0M6331 1429h0M6346 1412h0M6520 1493h0M6538 1472h0M6705 1456h0M6675 1446h0M6930 1493h0M7211 1395h0M6976 1441h0M7359 1382h0M7822 1411h0M7859 1382h0M7960 1384h0M7882 1424h0M7867 1462h0M7866 1464h0M7883 1436h0M7914 1492h0M8006 1432h0M8044 1474h0M8113 1464h0M8106 1469h0M7991 1453h0M8011 1473h0M8116 1413h0M8000 1421h0M8096 1413h0M8022 1462h0M8001 1480h0M8095 1442h0M8053 1455h0M8043 1449h0M8000 1460h0M8066 1412h0M8061 1443h0M8123 1477h0M8121 1480h0M8006 1477h0M8120 1452h0M8070 1474h0M8076 1457h0M8009 1471h0M8107 1469h0M8094 1487h0M8083 1373h0M8098 1470h0M8098 1388h0M8172 1403h0M8173 1476h0M8165 1466h0M8268 1361h0M8212 1475h0M8293 1487h0M8352 1454h0M8288 1489h0M8363 1374h0M8247 1448h0M8248 1469h0M8350 1432h0M8394 1377h0M8641 1393h0M8640 1484h0M8626 1449h0M8665 1413h0M8644 1432h0M8637 1413h0M8635 1361h0M8633 1451h0M8661 1462h0M8621 1409h0M8631 1485h0M8642 1487h0M8667 1386h0M8735 1373h0M8792 1371h0M8771 1408h0M9033 1451h0M9236 1413h0M9658 1364h0M601 1088h0M728 1138h0M653 1286h0M686 1278h0M577 1330h0M612 1336h0M1280 1277h0M1797 1350h0M3736 627h0M3736 1136h0M4310 1175h0M4888 1323h0M6133 1146h0M6328 1339h0M6485 1315h0M6738 1205h0M6742 1352h0M7783 1349h0M8016 1319h0M8027 1332h0M8083 1265h0M8092 1257h0M8118 1230h0M8126 1341h0M8267 1132h0M8680 1321h0M9072 1036h0M9809 799h0M9773 630h0M9779 630h0M9786 630h0M9793 630h0M9798 630h0M9810 630h0M9817 630h0M9824 630h0M9830 630h0M9837 630h0M9844 630h0"/><path stroke="#8b0000" d="M760 3237h0M1130 3198h0M1128 3196h0M1234 3213h0M954 3312h0M1199 3221h0M1303 3284h0M1409 3246h0M1383 3297h0M1273 3201h0M1357 3240h0M1398 3198h0M1926 3203h0M1767 3296h0M1770 3258h0M1680 3297h0M1949 3256h0M1821 3193h0M1987 3314h0M1835 3186h0M2089 3287h0M2091 3206h0M2165 3195h0M2062 3252h0M2026 3288h0M2053 3232h0M2320 3207h0M2491 3315h0M2471 3227h0M2317 3187h0M2497 3202h0M2388 3225h0M2698 3196h0M2641 3239h0M2719 3313h0M3006 3246h0M3040 3276h0M2935 3219h0M3052 3210h0M2964 3203h0M2825 3265h0M3044 3187h0M3114 3188h0M3212 3261h0M3290 3209h0M3233 3263h0M3299 3195h0M3543 3202h0M3701 3228h0M3645 3211h0M3653 3271h0M3383 3192h0M3630 3298h0M3673 3283h0M3719 3233h0M3388 3211h0M3450 3242h0M4158 3306h0M4001 3254h0M4132 3228h0M4140 3226h0M4219 3262h0M3980 3249h0M4074 3300h0M4077 3304h0M4023 3233h0M4280 3190h0M4365 3318h0M4581 3270h0M4532 3258h0M4599 3253h0M4968 3268h0M5107 3283h0M4909 3208h0M5199 3195h0M5225 3217h0M5571 3247h0M5617 3305h0M5588 3284h0M5572 3294h0M5849 3208h0M5891 3308h0M6002 3225h0M5762 3209h0M6168 3290h0M6055 3208h0M6172 3195h0M6311 3256h0M6407 3217h0M6432 3200h0M6394 3295h0M6333 3319h0M6363 3256h0M6786 3214h0M6989 3199h0M7151 3210h0M7010 3213h0M7446 3274h0M7306 3203h0M7466 3226h0M7498 3234h0M7489 3229h0M7364 3239h0M7775 3218h0M7683 3271h0M7645 3225h0M7735 3214h0M7887 3241h0M8117 3252h0M8023 3208h0M8316 3318h0M8415 3221h0M8588 3267h0M8490 3290h0M8612 3303h0M8484 3218h0M8724 3228h0M8775 3309h0M8716 3254h0M8866 3214h0M8855 3199h0M8907 3186h0M8943 3294h0M9065 3246h0M9214 3250h0M9274 3205h0M9253 3280h0M9348 3299h0M9350 3264h0M9346 3226h0M9390 3285h0M9386 3347h0M9370 3369h0M9402 3213h0M9407 3240h0M9336 3230h0M9344 3377h0M9354 3557h0M9303 3384h0M9399 3382h0M9338 3203h0M9363 3311h0M9369 3246h0M9452 3190h0M9426 3295h0M9328 3328h0M9426 3282h0M9351 3320h0M9367 3385h0M9380 3363h0M9383 3221h0M9428 3372h0M9400 3498h0M9355 3224h0M9337 3303h0M9442 3338h0M9313 3312h0M9377 3292h0M9440 3400h0M9301 3224h0M9459 3562h0M9362 3281h0M9318 3310h0M9353 3246h0M9461 3527h0M9429 3189h0M9347 3267h0M9430 3330h0M9351 3195h0M9345 3248h0M9577 3306h0M9631 3497h0M9498 3259h0M9696 3191h0M9569 3554h0M9737 3235h0M9538 3519h0M9683 3301h0M9626 3207h0M9760 3328h0M9752 3367h0M9723 3199h0M9601 3236h0M9633 3290h0M9622 3228h0M9596 3344h0M9524 3216h0M9639 3287h0M9611 3327h0M9665 3505h0M9672 3402h0M9661 3439h0M9670 3317h0M9741 3333h0M9670 3265h0M9543 3405h0M9643 3276h0M9512 3288h0M9645 3192h0M9545 3254h0M9621 3218h0M9545 3468h0M9717 3273h0M9555 3298h0M9701 3514h0M9708 3308h0M9707 3586h0M9676 3347h0M9634 3324h0M9763 3388h0M9505 3425h0M9719 3296h0M9682 3437h0M9651 3477h0M9545 3217h0M9696 3314h0M9764 3305h0M9664 3208h0M9687 3216h0M9746 3268h0M9700 3445h0M9696 3310h0M9643 3307h0M9489 3446h0M9517 3321h0M9720 3257h0M9665 3315h0M9565 3250h0M9492 3413h0M9577 3440h0M9716 3212h0M9670 3194h0M9677 3202h0M9651 3214h0M9603 3313h0M9548 3259h0M9692 3227h0M9494 3416h0M9554 3325h0M808 3329h0M972 3331h0M1046 3326h0M1175 3324h0M1081 3394h0M959 3422h0M955 3486h0M955 3510h0M996 3514h0M976 3578h0M948 3938h0M948 3966h0M948 4049h0M1251 4024h0M1347 3390h0M1343 3530h0M1474 3560h0M1672 3335h0M1772 3375h0M1834 3410h0M1782 3660h0M2061 3833h0M2294 3479h0M2362 3560h0M2600 3523h0M2628 3824h0M2639 3350h0M2765 3353h0M2824 3381h0M2938 3381h0M2824 3451h0M2934 3708h0M3126 3396h0M3138 3510h0M3202 3599h0M3317 3573h0M3365 3338h0M3510 3333h0M3555 3410h0M3599 3431h0M3935 3348h0M4364 3379h0M4436 3937h0M4758 3582h0M4786 3451h0M4799 3342h0M4851 3342h0M4936 3492h0M5024 3385h0M5060 3451h0M5085 3344h0M5252 3406h0M5267 3335h0M5470 3335h0M5479 3372h0M5520 3387h0M5429 3501h0M5554 3629h0M5614 3409h0M5623 3450h0M5816 3549h0M5867 3396h0M6057 3376h0M6055 3538h0M6107 3517h0M6166 3361h0M6215 3402h0M6206 3467h0M6278 3480h0M6030 3890h0M6548 3331h0M6652 3324h0M6617 3424h0M6738 3394h0M6803 3374h0M6803 3409h0M6744 3467h0M6682 3789h0M6712 3789h0M6956 3339h0M7118 3372h0M7137 3383h0M7273 3382h0M6934 3530h0M7189 3540h0M7340 3517h0M7072 3620h0M6978 4050h0M7640 3335h0M7643 3352h0M7695 3329h0M7908 3560h0M7839 3748h0M8232 3491h0M8194 3551h0M8170 3715h0M8196 3741h0M8392 3436h0M8468 3382h0M8546 3346h0M8496 3547h0M8641 3417h0M8664 3436h0M8677 3376h0M8686 3383h0M8712 3339h0M8788 3342h0M8772 3415h0M8738 3558h0M8753 3720h0M8865 3383h0M8889 3380h0M8911 3346h0M8960 3350h0M8964 3396h0M8885 3476h0M8930 3644h0M9084 3523h0M9492 4050h0M9535 4046h0M9612 4050h0M9712 4050h0M9492 3860h0M9723 3854h0M9608 3840h0M9600 3780h0M9513 3789h0M9401 3769h0M9336 3730h0M9349 3696h0M9386 3685h0M9505 3698h0M9548 3720h0M9485 3666h0M9651 3657h0M9731 3698h0M9436 3638h0M9494 3620h0M9654 3601h0"/></g>
<path d="M123.00 573.30H313.30M313.30 599.30H499.10M499.10 588.30H650.30M650.30 603.40H796.30M796.30 598.40H934.40M934.40 594.60H1065.10M1065.10 583.30H1186.60M1186.60 569.20H1298.40M1298.40 596.50H1406.20M1406.20 592.40H1509.70M1509.70 588.90H1612.80M1612.80 592.20H1715.00M1728.20 594.20H1803.00M1816.70 582.90H1884.90M1899.20 591.30H1963.20M1963.20 511.30H2032.20M2032.20 574.70H2094.20M2094.20 601.40H2153.90M2153.90 562.50H2199.00M2199.00 590.40H2247.20M2253.70 586.30H2283.90M2295.50 590.40H2323.10M2323.10 699.30H2441.70M2442.50 175.40H2462.50" stroke="#00008b" stroke-width="2.9" fill="none" stroke-linecap="round"/>
<g fill="#000"><circle cx="242.6" cy="551.6" r="5.6"/><circle cx="279.2" cy="629.3" r="5.6"/><circle cx="325.3" cy="615.2" r="5.6"/><circle cx="498.7" cy="623.5" r="5.6"/><circle cx="507.2" cy="646.1" r="5.6"/><circle cx="527.5" cy="595.2" r="5.6"/><circle cx="637.3" cy="579.5" r="5.6"/><circle cx="646.4" cy="605.9" r="5.6"/><circle cx="692.0" cy="566.7" r="5.6"/><circle cx="692.8" cy="631.5" r="5.6"/><circle cx="1106.8" cy="544.5" r="5.6"/><circle cx="1106.8" cy="605.0" r="5.6"/><circle cx="1153.9" cy="603.9" r="5.6"/><circle cx="1302.2" cy="501.6" r="5.6"/><circle cx="1314.9" cy="554.1" r="5.6"/><circle cx="1314.9" cy="726.6" r="5.6"/><circle cx="1364.7" cy="534.9" r="5.6"/><circle cx="1474.4" cy="524.7" r="5.6"/><circle cx="1657.1" cy="547.3" r="5.6"/><circle cx="1665.6" cy="552.0" r="5.6"/><circle cx="1752.0" cy="526.0" r="5.6"/><circle cx="1911.5" cy="606.1" r="5.6"/><circle cx="1952.3" cy="571.1" r="5.6"/><circle cx="2038.0" cy="579.5" r="5.6"/><circle cx="2055.0" cy="589.8" r="5.6"/><circle cx="2060.8" cy="605.2" r="5.6"/><circle cx="2165.9" cy="519.1" r="5.6"/><circle cx="2306.8" cy="535.0" r="5.6"/><circle cx="2410.3" cy="684.7" r="5.6"/></g>
<g font-size="25" fill="#000"><text transform="translate(251.7 538.0) rotate(-90)" x="0" y="0">NTRK1</text><text transform="translate(288.3 643.3) rotate(-90)" x="0" y="0" text-anchor="end">MDM4</text><text transform="translate(334.4 629.2) rotate(-90)" x="0" y="0" text-anchor="end">MYCN</text><text transform="translate(507.8 637.5) rotate(-90)" x="0" y="0" text-anchor="end">PDCD1</text><text transform="translate(516.3 660.1) rotate(-90)" x="0" y="0" text-anchor="end">VHL</text><text transform="translate(536.6 609.2) rotate(-90)" x="0" y="0" text-anchor="end">MLH1</text><text transform="translate(646.4 565.9) rotate(-90)" x="0" y="0">SOX2</text><text transform="translate(655.5 619.9) rotate(-90)" x="0" y="0" text-anchor="end">OPA1</text><text transform="translate(701.1 553.1) rotate(-90)" x="0" y="0">PDGFRA</text><text transform="translate(701.9 645.5) rotate(-90)" x="0" y="0" text-anchor="end">KIT</text><text transform="translate(1115.9 530.9) rotate(-90)" x="0" y="0">EGFR</text><text transform="translate(1115.9 619.0) rotate(-90)" x="0" y="0" text-anchor="end">EGFR_vIII</text><text transform="translate(1163.0 617.9) rotate(-90)" x="0" y="0" text-anchor="end">MET</text><text transform="translate(1311.3 488.0) rotate(-90)" x="0" y="0">CD274</text><text transform="translate(1324.0 540.5) rotate(-90)" x="0" y="0">CDKN2B</text><text transform="translate(1324.0 740.6) rotate(-90)" x="0" y="0" text-anchor="end">CDKN2A</text><text transform="translate(1373.8 521.3) rotate(-90)" x="0" y="0">NTRK2</text><text transform="translate(1483.5 511.1) rotate(-90)" x="0" y="0">PTEN</text><text transform="translate(1666.2 533.7) rotate(-90)" x="0" y="0">CDK4</text><text transform="translate(1674.7 538.4) rotate(-90)" x="0" y="0">MDM2</text><text transform="translate(1761.1 512.4) rotate(-90)" x="0" y="0">RB1</text><text transform="translate(1920.6 620.1) rotate(-90)" x="0" y="0" text-anchor="end">NUTM1</text><text transform="translate(1961.4 557.5) rotate(-90)" x="0" y="0">NTRK3</text><text transform="translate(2047.1 565.9) rotate(-90)" x="0" y="0">TP53</text><text transform="translate(2064.1 603.8) rotate(-90)" x="0" y="0" text-anchor="end">NF1</text><text transform="translate(2069.9 619.2) rotate(-90)" x="0" y="0" text-anchor="end">ERBB2</text><text transform="translate(2175.0 505.5) rotate(-90)" x="0" y="0">BRD4</text><text transform="translate(2315.9 521.4) rotate(-90)" x="0" y="0">NF2</text><text transform="translate(2419.4 698.7) rotate(-90)" x="0" y="0" text-anchor="end">IL13RA2</text></g>
<rect x="123" y="123" width="2364" height="924" fill="none" stroke="#000" stroke-width="1.9" stroke-linejoin="round"/>
<path d="M123 174.50V995.30M107.4 174.50H123M107.4 311.30H123M107.4 448.10H123M107.4 584.90H123M107.4 721.70H123M107.4 858.50H123M107.4 995.30H123" stroke="#000" stroke-width="1.6" fill="none"/>
<g font-size="25" fill="#000"><text x="93" y="183.50" text-anchor="end">1.2</text><text x="93" y="320.30" text-anchor="end">0.8</text><text x="93" y="457.10" text-anchor="end">0.4</text><text x="93" y="593.90" text-anchor="end">0.0</text><text x="93" y="730.70" text-anchor="end"><tspan dy="2.3">−</tspan><tspan dy="-2.3">0.4</tspan></text><text x="93" y="867.50" text-anchor="end"><tspan dy="2.3">−</tspan><tspan dy="-2.3">0.8</tspan></text><text x="93" y="1004.30" text-anchor="end"><tspan dy="2.3">−</tspan><tspan dy="-2.3">1.2</tspan></text></g>
<path d="M218.17 1047H2464.33M218.17 1047V1062.6M406.20 1047V1062.6M574.67 1047V1062.6M723.26 1047V1062.6M865.33 1047V1062.6M999.74 1047V1062.6M1125.84 1047V1062.6M1242.49 1047V1062.6M1352.29 1047V1062.6M1457.96 1047V1062.6M1561.26 1047V1062.6M1663.91 1047V1062.6M1759.00 1047V1062.6M1843.96 1047V1062.6M1924.10 1047V1062.6M1997.75 1047V1062.6M2063.25 1047V1062.6M2124.06 1047V1062.6M2176.45 1047V1062.6M2223.09 1047V1062.6M2265.53 1047V1062.6M2303.50 1047V1062.6M2382.37 1047V1062.6M2464.33 1047V1062.6" stroke="#000" stroke-width="1.6" fill="none"/>
<g font-size="25" fill="#000"><text transform="translate(227.37 1077) rotate(-90)" text-anchor="end">chr1</text><text transform="translate(415.40 1077) rotate(-90)" text-anchor="end">chr2</text><text transform="translate(583.87 1077) rotate(-90)" text-anchor="end">chr3</text><text transform="translate(732.46 1077) rotate(-90)" text-anchor="end">chr4</text><text transform="translate(874.53 1077) rotate(-90)" text-anchor="end">chr5</text><text transform="translate(1008.94 1077) rotate(-90)" text-anchor="end">chr6</text><text transform="translate(1135.04 1077) rotate(-90)" text-anchor="end">chr7</text><text transform="translate(1251.69 1077) rotate(-90)" text-anchor="end">chr8</text><text transform="translate(1361.49 1077) rotate(-90)" text-anchor="end">chr9</text><text transform="translate(1467.16 1077) rotate(-90)" text-anchor="end">chr10</text><text transform="translate(1570.46 1077) rotate(-90)" text-anchor="end">chr11</text><text transform="translate(1673.11 1077) rotate(-90)" text-anchor="end">chr12</text><text transform="translate(1768.20 1077) rotate(-90)" text-anchor="end">chr13</text><text transform="translate(1853.16 1077) rotate(-90)" text-anchor="end">chr14</text><text transform="translate(1933.30 1077) rotate(-90)" text-anchor="end">chr15</text><text transform="translate(2006.95 1077) rotate(-90)" text-anchor="end">chr16</text><text transform="translate(2072.45 1077) rotate(-90)" text-anchor="end">chr17</text><text transform="translate(2133.26 1077) rotate(-90)" text-anchor="end">chr18</text><text transform="translate(2185.65 1077) rotate(-90)" text-anchor="end">chr19</text><text transform="translate(2232.29 1077) rotate(-90)" text-anchor="end">chr20</text><text transform="translate(2274.73 1077) rotate(-90)" text-anchor="end">chr21</text><text transform="translate(2312.70 1077) rotate(-90)" text-anchor="end">chr22</text><text transform="translate(2391.57 1077) rotate(-90)" text-anchor="end">chrX</text><text transform="translate(2473.53 1077) rotate(-90)" text-anchor="end">chrY</text></g>
</svg></body></html>
